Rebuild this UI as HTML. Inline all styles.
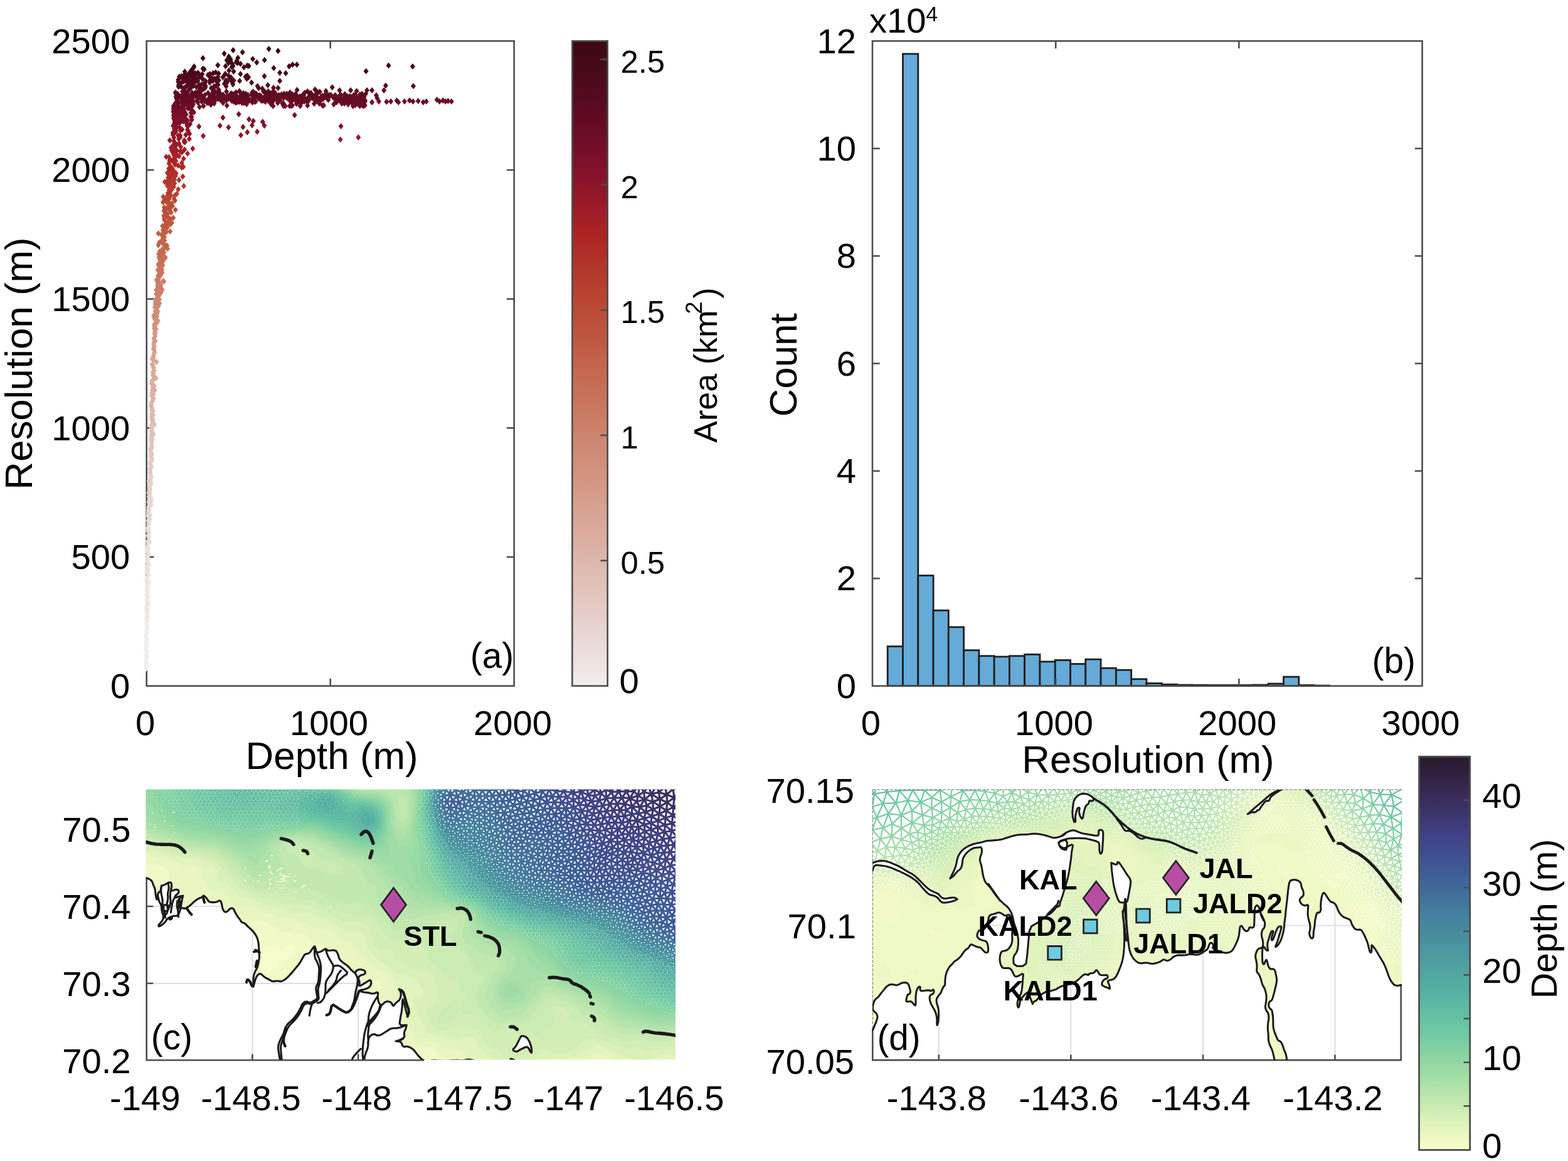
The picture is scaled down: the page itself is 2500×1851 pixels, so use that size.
<!DOCTYPE html>
<html lang="en"><head><meta charset="utf-8"><title>Figure</title>
<style>html,body{margin:0;padding:0;background:#fff;}svg{display:block}text{font-family:"Liberation Sans",sans-serif;fill:#000}</style></head><body>
<svg width="2500" height="1851" viewBox="0 0 2500 1851">
<rect width="2500" height="1851" fill="#fff"/>
<g id="pa">
<rect x="233.7" y="65.4" width="586" height="1028.2" fill="none" stroke="#4d4d4d" stroke-width="2.6"/>
<line x1="233.7" y1="888" x2="245.5" y2="888" stroke="#4d4d4d" stroke-width="2.6"/>
<line x1="819.7" y1="888" x2="807.9" y2="888" stroke="#4d4d4d" stroke-width="2.6"/>
<line x1="233.7" y1="682.3" x2="245.5" y2="682.3" stroke="#4d4d4d" stroke-width="2.6"/>
<line x1="819.7" y1="682.3" x2="807.9" y2="682.3" stroke="#4d4d4d" stroke-width="2.6"/>
<line x1="233.7" y1="476.7" x2="245.5" y2="476.7" stroke="#4d4d4d" stroke-width="2.6"/>
<line x1="819.7" y1="476.7" x2="807.9" y2="476.7" stroke="#4d4d4d" stroke-width="2.6"/>
<line x1="233.7" y1="271" x2="245.5" y2="271" stroke="#4d4d4d" stroke-width="2.6"/>
<line x1="819.7" y1="271" x2="807.9" y2="271" stroke="#4d4d4d" stroke-width="2.6"/>
<g id="scatter">
<path d="M232.9 1060.9l4 5l-4 5l-4-5zM233.5 1058.7l4 5l-4 5l-4-5zM233.1 1056.7l4 5l-4 5l-4-5zM234.0 1052.6l4 5l-4 5l-4-5zM232.8 1049.2l4 5l-4 5l-4-5zM233.0 1049.4l4 5l-4 5l-4-5zM233.8 1043.9l4 5l-4 5l-4-5zM234.1 1041.5l4 5l-4 5l-4-5zM233.5 1040.1l4 5l-4 5l-4-5zM233.8 1038.6l4 5l-4 5l-4-5zM234.4 1035.5l4 5l-4 5l-4-5zM233.5 1031.7l4 5l-4 5l-4-5zM232.3 1030.4l4 5l-4 5l-4-5zM233.4 1026.4l4 5l-4 5l-4-5zM233.4 1024.3l4 5l-4 5l-4-5zM233.3 1021.7l4 5l-4 5l-4-5zM234.9 1018.5l4 5l-4 5l-4-5zM233.3 1016.7l4 5l-4 5l-4-5zM234.3 1014.6l4 5l-4 5l-4-5zM233.5 1010.9l4 5l-4 5l-4-5zM233.2 1009.8l4 5l-4 5l-4-5zM233.9 1005.6l4 5l-4 5l-4-5zM233.4 1002.8l4 5l-4 5l-4-5zM233.7 1001.0l4 5l-4 5l-4-5zM234.1 999.0l4 5l-4 5l-4-5zM234.9 995.8l4 5l-4 5l-4-5zM233.5 994.3l4 5l-4 5l-4-5zM234.3 992.0l4 5l-4 5l-4-5zM233.6 988.6l4 5l-4 5l-4-5zM234.6 987.1l4 5l-4 5l-4-5z" fill="#f1edec"/>
<path d="M233.7 982.5l4 5l-4 5l-4-5zM234.5 979.1l4 5l-4 5l-4-5zM234.8 978.1l4 5l-4 5l-4-5zM234.5 975.1l4 5l-4 5l-4-5zM234.9 973.7l4 5l-4 5l-4-5zM234.2 969.0l4 5l-4 5l-4-5zM235.4 966.5l4 5l-4 5l-4-5zM233.5 966.1l4 5l-4 5l-4-5zM233.6 962.5l4 5l-4 5l-4-5zM236.3 958.4l4 5l-4 5l-4-5zM236.6 957.6l4 5l-4 5l-4-5zM234.7 955.4l4 5l-4 5l-4-5zM234.8 952.5l4 5l-4 5l-4-5zM234.6 948.4l4 5l-4 5l-4-5zM236.1 945.9l4 5l-4 5l-4-5zM233.9 943.1l4 5l-4 5l-4-5zM235.1 940.1l4 5l-4 5l-4-5zM234.3 938.4l4 5l-4 5l-4-5zM234.8 937.4l4 5l-4 5l-4-5zM234.2 934.1l4 5l-4 5l-4-5zM234.9 929.6l4 5l-4 5l-4-5zM235.7 929.6l4 5l-4 5l-4-5zM235.3 926.2l4 5l-4 5l-4-5zM237.2 923.9l4 5l-4 5l-4-5zM236.3 920.7l4 5l-4 5l-4-5zM232.8 919.2l4 5l-4 5l-4-5zM234.5 916.6l4 5l-4 5l-4-5zM236.5 913.4l4 5l-4 5l-4-5z" fill="#efe7e5"/>
<path d="M236.6 911.1l4 5l-4 5l-4-5zM234.2 907.8l4 5l-4 5l-4-5zM235.7 905.3l4 5l-4 5l-4-5zM235.7 902.8l4 5l-4 5l-4-5zM233.8 899.5l4 5l-4 5l-4-5zM234.9 897.4l4 5l-4 5l-4-5zM237.2 895.4l4 5l-4 5l-4-5zM236.0 892.3l4 5l-4 5l-4-5zM234.8 889.4l4 5l-4 5l-4-5zM235.3 888.1l4 5l-4 5l-4-5zM235.3 884.7l4 5l-4 5l-4-5zM235.5 880.6l4 5l-4 5l-4-5zM236.9 880.2l4 5l-4 5l-4-5zM236.5 876.9l4 5l-4 5l-4-5zM235.3 875.0l4 5l-4 5l-4-5zM235.0 870.9l4 5l-4 5l-4-5zM236.6 868.6l4 5l-4 5l-4-5zM235.4 867.0l4 5l-4 5l-4-5zM236.5 862.4l4 5l-4 5l-4-5zM239.0 860.1l4 5l-4 5l-4-5z" fill="#ece1de"/>
<path d="M235.7 858.2l4 5l-4 5l-4-5zM237.2 856.6l4 5l-4 5l-4-5zM237.4 851.6l4 5l-4 5l-4-5zM235.9 849.0l4 5l-4 5l-4-5zM236.5 848.7l4 5l-4 5l-4-5zM237.9 844.1l4 5l-4 5l-4-5zM236.1 841.8l4 5l-4 5l-4-5zM236.4 838.6l4 5l-4 5l-4-5zM235.9 837.9l4 5l-4 5l-4-5zM236.0 836.2l4 5l-4 5l-4-5zM237.0 831.2l4 5l-4 5l-4-5zM237.6 829.5l4 5l-4 5l-4-5zM237.0 826.5l4 5l-4 5l-4-5zM236.4 824.5l4 5l-4 5l-4-5zM238.8 822.7l4 5l-4 5l-4-5zM236.3 818.0l4 5l-4 5l-4-5z" fill="#eadcd7"/>
<path d="M239.3 816.5l4 5l-4 5l-4-5zM236.7 815.2l4 5l-4 5l-4-5zM236.6 812.3l4 5l-4 5l-4-5zM236.7 808.7l4 5l-4 5l-4-5zM237.2 807.2l4 5l-4 5l-4-5zM237.1 804.3l4 5l-4 5l-4-5zM237.3 802.4l4 5l-4 5l-4-5zM241.1 799.3l4 5l-4 5l-4-5zM237.1 795.3l4 5l-4 5l-4-5zM241.1 793.0l4 5l-4 5l-4-5zM240.6 789.2l4 5l-4 5l-4-5zM237.7 786.7l4 5l-4 5l-4-5zM238.5 786.3l4 5l-4 5l-4-5zM239.2 781.7l4 5l-4 5l-4-5z" fill="#e8d6d0"/>
<path d="M237.1 780.8l4 5l-4 5l-4-5zM238.3 777.6l4 5l-4 5l-4-5zM239.2 775.1l4 5l-4 5l-4-5zM238.8 773.1l4 5l-4 5l-4-5zM238.1 770.0l4 5l-4 5l-4-5zM240.4 766.8l4 5l-4 5l-4-5zM241.0 765.7l4 5l-4 5l-4-5zM237.6 762.1l4 5l-4 5l-4-5zM240.2 759.4l4 5l-4 5l-4-5zM239.7 755.4l4 5l-4 5l-4-5zM241.4 755.1l4 5l-4 5l-4-5zM239.8 751.6l4 5l-4 5l-4-5z" fill="#e6d0ca"/>
<path d="M239.7 748.7l4 5l-4 5l-4-5zM239.3 747.7l4 5l-4 5l-4-5zM239.9 743.6l4 5l-4 5l-4-5zM238.8 742.4l4 5l-4 5l-4-5zM241.4 739.0l4 5l-4 5l-4-5zM239.8 734.9l4 5l-4 5l-4-5zM240.0 732.6l4 5l-4 5l-4-5zM239.9 730.3l4 5l-4 5l-4-5zM241.7 728.9l4 5l-4 5l-4-5zM242.3 725.6l4 5l-4 5l-4-5zM240.3 722.8l4 5l-4 5l-4-5zM241.6 720.1l4 5l-4 5l-4-5z" fill="#e4cac3"/>
<path d="M241.6 718.2l4 5l-4 5l-4-5zM240.5 715.3l4 5l-4 5l-4-5zM240.0 711.8l4 5l-4 5l-4-5zM239.8 710.9l4 5l-4 5l-4-5zM242.1 708.7l4 5l-4 5l-4-5zM241.8 706.3l4 5l-4 5l-4-5zM241.7 702.9l4 5l-4 5l-4-5zM241.7 698.4l4 5l-4 5l-4-5zM240.7 695.9l4 5l-4 5l-4-5zM242.9 695.0l4 5l-4 5l-4-5zM240.7 693.0l4 5l-4 5l-4-5z" fill="#e2c5bc"/>
<path d="M241.3 688.0l4 5l-4 5l-4-5zM244.6 687.2l4 5l-4 5l-4-5zM241.6 682.7l4 5l-4 5l-4-5zM242.0 681.4l4 5l-4 5l-4-5zM242.0 677.7l4 5l-4 5l-4-5zM241.5 677.7l4 5l-4 5l-4-5zM241.3 672.4l4 5l-4 5l-4-5zM246.3 671.8l4 5l-4 5l-4-5zM243.8 668.3l4 5l-4 5l-4-5z" fill="#e0bfb5"/>
<path d="M244.1 664.3l4 5l-4 5l-4-5zM242.0 664.2l4 5l-4 5l-4-5zM241.8 660.3l4 5l-4 5l-4-5zM244.2 657.0l4 5l-4 5l-4-5zM242.2 656.3l4 5l-4 5l-4-5zM242.4 653.9l4 5l-4 5l-4-5zM243.8 650.2l4 5l-4 5l-4-5zM241.9 648.5l4 5l-4 5l-4-5zM242.5 645.8l4 5l-4 5l-4-5z" fill="#deb9ae"/>
<path d="M240.7 642.1l4 5l-4 5l-4-5zM241.3 640.6l4 5l-4 5l-4-5zM241.7 636.9l4 5l-4 5l-4-5zM243.0 634.5l4 5l-4 5l-4-5zM243.7 631.6l4 5l-4 5l-4-5zM244.9 630.7l4 5l-4 5l-4-5zM242.1 626.3l4 5l-4 5l-4-5zM244.6 623.9l4 5l-4 5l-4-5zM242.2 622.0l4 5l-4 5l-4-5z" fill="#dcb4a7"/>
<path d="M242.8 617.6l4 5l-4 5l-4-5zM246.9 617.1l4 5l-4 5l-4-5zM243.6 612.9l4 5l-4 5l-4-5zM245.7 610.0l4 5l-4 5l-4-5zM243.6 608.6l4 5l-4 5l-4-5zM241.6 606.2l4 5l-4 5l-4-5zM242.4 602.1l4 5l-4 5l-4-5zM243.9 601.6l4 5l-4 5l-4-5zM248.9 598.1l4 5l-4 5l-4-5z" fill="#dbaea0"/>
<path d="M245.4 595.6l4 5l-4 5l-4-5zM243.8 592.8l4 5l-4 5l-4-5zM244.7 590.7l4 5l-4 5l-4-5zM243.7 588.0l4 5l-4 5l-4-5zM245.8 585.8l4 5l-4 5l-4-5zM244.6 581.2l4 5l-4 5l-4-5zM244.9 580.8l4 5l-4 5l-4-5z" fill="#d9a89a"/>
<path d="M242.9 576.1l4 5l-4 5l-4-5zM243.3 576.1l4 5l-4 5l-4-5zM249.4 572.1l4 5l-4 5l-4-5zM243.9 568.8l4 5l-4 5l-4-5zM242.6 566.9l4 5l-4 5l-4-5zM244.7 565.4l4 5l-4 5l-4-5zM244.8 561.7l4 5l-4 5l-4-5zM246.0 557.9l4 5l-4 5l-4-5zM246.6 557.1l4 5l-4 5l-4-5z" fill="#d7a393"/>
<path d="M245.7 553.3l4 5l-4 5l-4-5zM244.6 551.5l4 5l-4 5l-4-5zM245.1 550.2l4 5l-4 5l-4-5zM245.9 547.4l4 5l-4 5l-4-5zM245.0 544.0l4 5l-4 5l-4-5zM245.4 541.2l4 5l-4 5l-4-5zM247.6 538.8l4 5l-4 5l-4-5z" fill="#d69d8c"/>
<path d="M246.2 537.2l4 5l-4 5l-4-5zM245.5 534.3l4 5l-4 5l-4-5zM247.3 530.4l4 5l-4 5l-4-5zM246.4 526.8l4 5l-4 5l-4-5zM247.6 525.9l4 5l-4 5l-4-5zM247.0 523.2l4 5l-4 5l-4-5zM248.9 519.7l4 5l-4 5l-4-5z" fill="#d49885"/>
<path d="M245.9 518.6l4 5l-4 5l-4-5zM246.5 515.4l4 5l-4 5l-4-5zM246.7 514.1l4 5l-4 5l-4-5zM246.3 512.2l4 5l-4 5l-4-5zM246.7 514.1l4 5l-4 5l-4-5zM246.5 511.5l4 5l-4 5l-4-5zM250.2 509.8l4 5l-4 5l-4-5zM251.8 506.5l4 5l-4 5l-4-5zM250.4 507.8l4 5l-4 5l-4-5zM247.0 504.1l4 5l-4 5l-4-5zM249.5 505.9l4 5l-4 5l-4-5zM246.6 503.6l4 5l-4 5l-4-5zM248.6 501.9l4 5l-4 5l-4-5z" fill="#d2927f"/>
<path d="M250.3 499.5l4 5l-4 5l-4-5zM246.1 500.8l4 5l-4 5l-4-5zM245.2 498.0l4 5l-4 5l-4-5zM246.3 497.6l4 5l-4 5l-4-5zM247.3 497.0l4 5l-4 5l-4-5zM250.3 495.4l4 5l-4 5l-4-5zM249.7 493.1l4 5l-4 5l-4-5zM249.9 493.6l4 5l-4 5l-4-5zM247.7 491.2l4 5l-4 5l-4-5zM251.5 491.8l4 5l-4 5l-4-5zM250.1 488.6l4 5l-4 5l-4-5zM249.9 488.8l4 5l-4 5l-4-5zM246.8 484.9l4 5l-4 5l-4-5zM249.5 487.1l4 5l-4 5l-4-5zM248.3 485.0l4 5l-4 5l-4-5zM249.4 484.2l4 5l-4 5l-4-5z" fill="#d08c78"/>
<path d="M247.7 480.6l4 5l-4 5l-4-5zM252.9 482.2l4 5l-4 5l-4-5zM254.3 478.5l4 5l-4 5l-4-5zM248.9 479.5l4 5l-4 5l-4-5zM247.7 477.2l4 5l-4 5l-4-5zM249.4 476.3l4 5l-4 5l-4-5zM248.7 475.1l4 5l-4 5l-4-5zM247.8 475.4l4 5l-4 5l-4-5zM254.2 472.4l4 5l-4 5l-4-5zM249.3 471.6l4 5l-4 5l-4-5zM249.4 470.9l4 5l-4 5l-4-5zM250.9 468.4l4 5l-4 5l-4-5zM251.2 468.4l4 5l-4 5l-4-5zM253.5 466.4l4 5l-4 5l-4-5z" fill="#ce8772"/>
<path d="M248.9 463.6l4 5l-4 5l-4-5zM253.6 464.5l4 5l-4 5l-4-5zM257.0 461.0l4 5l-4 5l-4-5zM254.4 461.4l4 5l-4 5l-4-5zM251.4 459.0l4 5l-4 5l-4-5zM256.2 459.1l4 5l-4 5l-4-5zM253.8 457.5l4 5l-4 5l-4-5zM248.9 457.3l4 5l-4 5l-4-5zM251.1 454.5l4 5l-4 5l-4-5zM258.5 456.4l4 5l-4 5l-4-5zM254.0 453.9l4 5l-4 5l-4-5zM251.4 452.3l4 5l-4 5l-4-5zM256.0 451.7l4 5l-4 5l-4-5z" fill="#cc816b"/>
<path d="M251.4 449.4l4 5l-4 5l-4-5zM256.0 448.7l4 5l-4 5l-4-5zM251.9 448.1l4 5l-4 5l-4-5zM253.4 444.7l4 5l-4 5l-4-5zM251.4 445.4l4 5l-4 5l-4-5zM260.0 443.1l4 5l-4 5l-4-5zM261.2 443.8l4 5l-4 5l-4-5zM249.6 441.6l4 5l-4 5l-4-5zM252.7 439.9l4 5l-4 5l-4-5zM253.2 438.1l4 5l-4 5l-4-5zM252.1 438.5l4 5l-4 5l-4-5zM252.2 435.6l4 5l-4 5l-4-5zM252.0 434.6l4 5l-4 5l-4-5zM255.7 434.4l4 5l-4 5l-4-5z" fill="#ca7b65"/>
<path d="M254.5 433.5l4 5l-4 5l-4-5zM254.8 430.4l4 5l-4 5l-4-5zM256.7 431.6l4 5l-4 5l-4-5zM257.6 428.3l4 5l-4 5l-4-5zM258.4 430.0l4 5l-4 5l-4-5zM256.8 425.8l4 5l-4 5l-4-5zM251.7 425.4l4 5l-4 5l-4-5zM258.3 425.3l4 5l-4 5l-4-5zM253.4 422.9l4 5l-4 5l-4-5zM256.9 421.5l4 5l-4 5l-4-5zM256.7 420.9l4 5l-4 5l-4-5zM259.4 418.1l4 5l-4 5l-4-5zM253.0 418.5l4 5l-4 5l-4-5z" fill="#c9765e"/>
<path d="M252.6 416.1l4 5l-4 5l-4-5zM254.1 415.4l4 5l-4 5l-4-5zM254.6 414.8l4 5l-4 5l-4-5zM256.5 413.9l4 5l-4 5l-4-5zM258.3 411.0l4 5l-4 5l-4-5zM260.2 410.7l4 5l-4 5l-4-5zM254.9 409.2l4 5l-4 5l-4-5zM256.5 409.8l4 5l-4 5l-4-5zM256.6 406.5l4 5l-4 5l-4-5zM263.8 405.5l4 5l-4 5l-4-5zM253.5 405.5l4 5l-4 5l-4-5zM254.2 404.9l4 5l-4 5l-4-5zM260.2 402.7l4 5l-4 5l-4-5z" fill="#c77058"/>
<path d="M256.7 401.8l4 5l-4 5l-4-5zM253.0 400.1l4 5l-4 5l-4-5zM256.9 400.6l4 5l-4 5l-4-5zM261.4 397.4l4 5l-4 5l-4-5zM260.0 398.0l4 5l-4 5l-4-5zM254.5 396.0l4 5l-4 5l-4-5zM257.4 396.3l4 5l-4 5l-4-5zM259.4 391.8l4 5l-4 5l-4-5zM259.4 393.2l4 5l-4 5l-4-5zM262.7 390.1l4 5l-4 5l-4-5zM267.1 391.6l4 5l-4 5l-4-5zM264.6 388.0l4 5l-4 5l-4-5z" fill="#c56a51"/>
<path d="M265.6 387.1l4 5l-4 5l-4-5zM252.4 385.7l4 5l-4 5l-4-5zM266.2 386.4l4 5l-4 5l-4-5zM260.8 383.2l4 5l-4 5l-4-5zM253.8 382.1l4 5l-4 5l-4-5zM260.4 379.6l4 5l-4 5l-4-5zM258.3 381.9l4 5l-4 5l-4-5zM257.7 378.9l4 5l-4 5l-4-5zM262.4 378.5l4 5l-4 5l-4-5zM259.4 375.7l4 5l-4 5l-4-5zM259.9 375.5l4 5l-4 5l-4-5zM262.2 372.7l4 5l-4 5l-4-5zM260.7 372.9l4 5l-4 5l-4-5z" fill="#c3644b"/>
<path d="M259.2 369.9l4 5l-4 5l-4-5zM259.1 371.3l4 5l-4 5l-4-5zM257.5 369.2l4 5l-4 5l-4-5zM259.4 369.4l4 5l-4 5l-4-5zM252.5 367.3l4 5l-4 5l-4-5zM261.7 366.0l4 5l-4 5l-4-5zM271.2 363.9l4 5l-4 5l-4-5zM265.1 365.0l4 5l-4 5l-4-5zM260.3 362.6l4 5l-4 5l-4-5zM259.9 361.7l4 5l-4 5l-4-5zM265.7 358.8l4 5l-4 5l-4-5z" fill="#c15e46"/>
<path d="M260.9 357.7l4 5l-4 5l-4-5zM266.9 357.2l4 5l-4 5l-4-5zM261.3 355.8l4 5l-4 5l-4-5zM263.5 352.9l4 5l-4 5l-4-5zM259.1 355.6l4 5l-4 5l-4-5zM267.7 352.7l4 5l-4 5l-4-5zM272.0 352.5l4 5l-4 5l-4-5zM273.9 350.3l4 5l-4 5l-4-5zM267.4 349.5l4 5l-4 5l-4-5zM262.5 346.4l4 5l-4 5l-4-5zM262.4 345.7l4 5l-4 5l-4-5zM271.7 344.2l4 5l-4 5l-4-5z" fill="#bf5840"/>
<path d="M269.7 343.2l4 5l-4 5l-4-5zM276.2 342.2l4 5l-4 5l-4-5zM261.8 343.6l4 5l-4 5l-4-5zM267.5 341.1l4 5l-4 5l-4-5zM262.9 338.9l4 5l-4 5l-4-5zM266.7 336.4l4 5l-4 5l-4-5zM261.2 338.9l4 5l-4 5l-4-5zM266.6 336.1l4 5l-4 5l-4-5zM272.8 333.8l4 5l-4 5l-4-5zM263.7 333.7l4 5l-4 5l-4-5zM261.5 331.5l4 5l-4 5l-4-5z" fill="#bd513b"/>
<path d="M269.8 328.9l4 5l-4 5l-4-5zM279.7 329.6l4 5l-4 5l-4-5zM265.8 327.0l4 5l-4 5l-4-5zM262.7 328.7l4 5l-4 5l-4-5zM261.8 325.7l4 5l-4 5l-4-5zM272.5 324.8l4 5l-4 5l-4-5zM274.9 323.4l4 5l-4 5l-4-5zM270.0 324.4l4 5l-4 5l-4-5zM273.9 319.2l4 5l-4 5l-4-5zM268.9 320.0l4 5l-4 5l-4-5zM265.9 317.6l4 5l-4 5l-4-5zM259.9 317.4l4 5l-4 5l-4-5zM267.9 317.0l4 5l-4 5l-4-5z" fill="#bb4b35"/>
<path d="M262.0 314.4l4 5l-4 5l-4-5zM278.9 314.7l4 5l-4 5l-4-5zM269.5 312.4l4 5l-4 5l-4-5zM277.4 311.5l4 5l-4 5l-4-5zM265.0 311.1l4 5l-4 5l-4-5zM260.2 308.7l4 5l-4 5l-4-5zM266.8 307.6l4 5l-4 5l-4-5zM268.2 305.4l4 5l-4 5l-4-5zM272.1 307.0l4 5l-4 5l-4-5zM271.0 303.8l4 5l-4 5l-4-5zM281.9 304.0l4 5l-4 5l-4-5zM278.6 306.5l4 5l-4 5l-4-5z" fill="#b84530"/>
<path d="M270.2 302.0l4 5l-4 5l-4-5zM267.9 302.5l4 5l-4 5l-4-5zM270.3 299.0l4 5l-4 5l-4-5zM272.7 298.8l4 5l-4 5l-4-5zM269.8 297.8l4 5l-4 5l-4-5zM284.1 296.7l4 5l-4 5l-4-5zM270.5 293.6l4 5l-4 5l-4-5zM275.1 293.6l4 5l-4 5l-4-5zM277.0 292.5l4 5l-4 5l-4-5zM276.6 293.2l4 5l-4 5l-4-5zM272.6 290.8l4 5l-4 5l-4-5zM266.6 291.1l4 5l-4 5l-4-5zM293.0 291.5l4 5l-4 5l-4-5z" fill="#b63d2e"/>
<path d="M278.3 287.3l4 5l-4 5l-4-5zM267.9 286.8l4 5l-4 5l-4-5zM262.8 285.1l4 5l-4 5l-4-5zM270.8 286.9l4 5l-4 5l-4-5zM267.0 283.1l4 5l-4 5l-4-5zM271.7 283.6l4 5l-4 5l-4-5zM273.7 283.7l4 5l-4 5l-4-5zM269.5 282.9l4 5l-4 5l-4-5zM271.4 279.4l4 5l-4 5l-4-5zM277.9 281.5l4 5l-4 5l-4-5zM268.1 278.5l4 5l-4 5l-4-5zM277.5 277.9l4 5l-4 5l-4-5zM273.0 276.8l4 5l-4 5l-4-5zM285.4 281.9l4 5l-4 5l-4-5z" fill="#b3362b"/>
<path d="M269.7 276.5l4 5l-4 5l-4-5zM279.7 275.2l4 5l-4 5l-4-5zM278.6 275.0l4 5l-4 5l-4-5zM273.6 272.3l4 5l-4 5l-4-5zM280.7 271.3l4 5l-4 5l-4-5zM274.4 270.0l4 5l-4 5l-4-5zM266.9 270.7l4 5l-4 5l-4-5zM276.6 266.9l4 5l-4 5l-4-5zM269.8 267.8l4 5l-4 5l-4-5zM272.7 265.5l4 5l-4 5l-4-5zM274.4 267.5l4 5l-4 5l-4-5zM291.4 276.5l4 5l-4 5l-4-5z" fill="#b02f28"/>
<path d="M274.5 263.2l4 5l-4 5l-4-5zM269.2 263.8l4 5l-4 5l-4-5zM272.3 260.8l4 5l-4 5l-4-5zM289.6 261.9l4 5l-4 5l-4-5zM292.1 261.0l4 5l-4 5l-4-5zM284.1 258.9l4 5l-4 5l-4-5zM279.7 257.2l4 5l-4 5l-4-5zM278.4 256.8l4 5l-4 5l-4-5zM278.1 255.1l4 5l-4 5l-4-5zM269.4 255.5l4 5l-4 5l-4-5zM276.6 253.3l4 5l-4 5l-4-5zM289.8 254.8l4 5l-4 5l-4-5zM270.6 251.4l4 5l-4 5l-4-5zM280.4 251.7l4 5l-4 5l-4-5z" fill="#ae2826"/>
<path d="M275.4 250.6l4 5l-4 5l-4-5zM277.8 251.1l4 5l-4 5l-4-5zM271.1 249.5l4 5l-4 5l-4-5zM276.5 248.8l4 5l-4 5l-4-5zM269.4 245.4l4 5l-4 5l-4-5zM265.0 245.0l4 5l-4 5l-4-5zM285.5 243.9l4 5l-4 5l-4-5zM280.5 244.2l4 5l-4 5l-4-5zM277.2 242.1l4 5l-4 5l-4-5zM282.3 242.7l4 5l-4 5l-4-5zM276.6 240.0l4 5l-4 5l-4-5zM281.1 240.4l4 5l-4 5l-4-5zM299.0 239.7l4 5l-4 5l-4-5zM292.7 247.9l4 5l-4 5l-4-5z" fill="#a92225"/>
<path d="M274.7 236.8l4 5l-4 5l-4-5zM290.0 237.8l4 5l-4 5l-4-5zM287.4 236.2l4 5l-4 5l-4-5zM281.2 236.1l4 5l-4 5l-4-5zM281.1 233.7l4 5l-4 5l-4-5zM273.7 234.4l4 5l-4 5l-4-5zM278.7 232.1l4 5l-4 5l-4-5zM294.3 233.6l4 5l-4 5l-4-5zM273.5 231.0l4 5l-4 5l-4-5zM272.7 230.6l4 5l-4 5l-4-5zM288.2 229.2l4 5l-4 5l-4-5zM275.3 227.8l4 5l-4 5l-4-5zM307.2 232.1l4 5l-4 5l-4-5z" fill="#a01e26"/>
<path d="M281.1 226.2l4 5l-4 5l-4-5zM280.1 225.8l4 5l-4 5l-4-5zM285.3 223.4l4 5l-4 5l-4-5zM278.3 223.4l4 5l-4 5l-4-5zM293.7 221.4l4 5l-4 5l-4-5zM279.1 222.7l4 5l-4 5l-4-5zM295.1 221.2l4 5l-4 5l-4-5zM277.1 219.7l4 5l-4 5l-4-5zM293.8 218.8l4 5l-4 5l-4-5zM270.7 218.8l4 5l-4 5l-4-5zM301.7 216.6l4 5l-4 5l-4-5zM285.0 216.4l4 5l-4 5l-4-5zM542.7 217.4l4 5l-4 5l-4-5z" fill="#981a27"/>
<path d="M277.3 214.3l4 5l-4 5l-4-5zM287.5 213.4l4 5l-4 5l-4-5zM284.0 211.1l4 5l-4 5l-4-5zM287.3 210.9l4 5l-4 5l-4-5zM296.2 210.1l4 5l-4 5l-4-5zM275.8 210.1l4 5l-4 5l-4-5zM275.5 206.9l4 5l-4 5l-4-5zM302.2 208.2l4 5l-4 5l-4-5zM279.9 205.5l4 5l-4 5l-4-5zM276.3 205.7l4 5l-4 5l-4-5zM277.2 205.2l4 5l-4 5l-4-5zM300.0 204.0l4 5l-4 5l-4-5zM280.1 203.1l4 5l-4 5l-4-5zM287.4 202.9l4 5l-4 5l-4-5zM571.3 213.9l4 5l-4 5l-4-5zM384.0 210.6l4 5l-4 5l-4-5zM394.3 205.7l4 5l-4 5l-4-5zM410.1 205.1l4 5l-4 5l-4-5zM324.0 211.7l4 5l-4 5l-4-5z" fill="#8f1728"/>
<path d="M298.9 201.8l4 5l-4 5l-4-5zM286.8 198.7l4 5l-4 5l-4-5zM290.3 201.5l4 5l-4 5l-4-5zM279.8 198.0l4 5l-4 5l-4-5zM282.1 197.9l4 5l-4 5l-4-5zM317.2 196.8l4 5l-4 5l-4-5zM298.2 194.8l4 5l-4 5l-4-5zM281.3 193.1l4 5l-4 5l-4-5zM303.0 192.8l4 5l-4 5l-4-5zM297.4 191.6l4 5l-4 5l-4-5zM281.9 193.2l4 5l-4 5l-4-5zM286.5 191.0l4 5l-4 5l-4-5zM277.8 192.7l4 5l-4 5l-4-5zM276.0 195.5l4 5l-4 5l-4-5zM277.9 200.0l4 5l-4 5l-4-5zM299.3 197.0l4 5l-4 5l-4-5zM543.6 196.2l4 5l-4 5l-4-5zM350.7 195.3l4 5l-4 5l-4-5zM364.3 198.1l4 5l-4 5l-4-5zM421.5 195.3l4 5l-4 5l-4-5zM387.5 197.5l4 5l-4 5l-4-5zM401.9 194.8l4 5l-4 5l-4-5z" fill="#861329"/>
<path d="M278.5 189.9l4 5l-4 5l-4-5zM281.7 187.1l4 5l-4 5l-4-5zM298.9 187.0l4 5l-4 5l-4-5zM293.1 185.1l4 5l-4 5l-4-5zM288.3 184.8l4 5l-4 5l-4-5zM281.9 183.5l4 5l-4 5l-4-5zM287.5 184.1l4 5l-4 5l-4-5zM291.4 180.9l4 5l-4 5l-4-5zM281.8 181.6l4 5l-4 5l-4-5zM292.2 181.7l4 5l-4 5l-4-5zM289.0 181.3l4 5l-4 5l-4-5zM290.6 182.7l4 5l-4 5l-4-5zM289.9 187.2l4 5l-4 5l-4-5zM279.8 184.6l4 5l-4 5l-4-5zM305.7 185.9l4 5l-4 5l-4-5zM284.0 183.2l4 5l-4 5l-4-5zM285.5 190.9l4 5l-4 5l-4-5zM304.2 181.0l4 5l-4 5l-4-5zM295.3 184.3l4 5l-4 5l-4-5zM288.4 184.1l4 5l-4 5l-4-5zM283.0 188.5l4 5l-4 5l-4-5zM288.2 182.8l4 5l-4 5l-4-5zM292.2 179.5l4 5l-4 5l-4-5zM294.7 182.9l4 5l-4 5l-4-5zM293.4 184.3l4 5l-4 5l-4-5zM282.3 180.5l4 5l-4 5l-4-5zM292.4 188.5l4 5l-4 5l-4-5zM290.1 182.7l4 5l-4 5l-4-5zM305.7 181.6l4 5l-4 5l-4-5zM285.7 186.1l4 5l-4 5l-4-5zM282.3 182.3l4 5l-4 5l-4-5zM277.2 181.1l4 5l-4 5l-4-5zM276.9 184.0l4 5l-4 5l-4-5zM282.4 187.8l4 5l-4 5l-4-5zM278.5 187.3l4 5l-4 5l-4-5zM287.0 188.4l4 5l-4 5l-4-5zM397.0 185.3l4 5l-4 5l-4-5zM403.8 188.0l4 5l-4 5l-4-5zM418.8 189.3l4 5l-4 5l-4-5zM355.4 182.5l4 5l-4 5l-4-5z" fill="#7e1029"/>
<path d="M279.9 177.9l4 5l-4 5l-4-5zM286.8 178.4l4 5l-4 5l-4-5zM295.5 177.5l4 5l-4 5l-4-5zM279.4 177.7l4 5l-4 5l-4-5zM276.2 173.2l4 5l-4 5l-4-5zM294.3 173.2l4 5l-4 5l-4-5zM289.6 173.0l4 5l-4 5l-4-5zM289.3 172.2l4 5l-4 5l-4-5zM282.2 168.7l4 5l-4 5l-4-5zM286.6 171.1l4 5l-4 5l-4-5zM291.4 169.1l4 5l-4 5l-4-5zM277.3 169.0l4 5l-4 5l-4-5zM290.5 170.8l4 5l-4 5l-4-5zM281.4 176.3l4 5l-4 5l-4-5zM278.2 175.2l4 5l-4 5l-4-5zM276.8 178.5l4 5l-4 5l-4-5zM296.8 177.4l4 5l-4 5l-4-5zM285.4 168.7l4 5l-4 5l-4-5zM277.1 178.8l4 5l-4 5l-4-5zM286.9 176.7l4 5l-4 5l-4-5zM293.4 171.6l4 5l-4 5l-4-5zM290.7 178.7l4 5l-4 5l-4-5zM280.4 172.9l4 5l-4 5l-4-5zM286.8 169.3l4 5l-4 5l-4-5zM306.2 171.0l4 5l-4 5l-4-5zM304.3 174.7l4 5l-4 5l-4-5zM281.7 172.6l4 5l-4 5l-4-5zM287.2 176.3l4 5l-4 5l-4-5zM286.0 173.6l4 5l-4 5l-4-5zM278.8 172.2l4 5l-4 5l-4-5zM280.8 173.5l4 5l-4 5l-4-5zM291.1 167.9l4 5l-4 5l-4-5zM283.9 171.8l4 5l-4 5l-4-5zM291.6 178.1l4 5l-4 5l-4-5zM278.9 178.6l4 5l-4 5l-4-5zM309.0 173.9l4 5l-4 5l-4-5zM286.1 178.4l4 5l-4 5l-4-5zM277.1 170.3l4 5l-4 5l-4-5zM284.9 174.6l4 5l-4 5l-4-5zM279.6 175.0l4 5l-4 5l-4-5zM282.2 173.7l4 5l-4 5l-4-5zM289.7 169.7l4 5l-4 5l-4-5zM279.8 169.0l4 5l-4 5l-4-5zM278.5 176.8l4 5l-4 5l-4-5zM288.3 171.5l4 5l-4 5l-4-5zM287.1 173.4l4 5l-4 5l-4-5zM279.6 173.5l4 5l-4 5l-4-5zM278.3 168.1l4 5l-4 5l-4-5zM284.7 169.9l4 5l-4 5l-4-5zM293.3 168.4l4 5l-4 5l-4-5zM306.1 174.5l4 5l-4 5l-4-5zM281.4 170.3l4 5l-4 5l-4-5zM276.5 168.4l4 5l-4 5l-4-5zM279.1 169.6l4 5l-4 5l-4-5zM469.7 178.5l4 5l-4 5l-4-5zM380.7 177.1l4 5l-4 5l-4-5z" fill="#750f27"/>
<path d="M579.1 163.9l4 5l-4 5l-4-5zM386.0 159.2l4 5l-4 5l-4-5zM283.1 163.7l4 5l-4 5l-4-5zM361.7 163.3l4 5l-4 5l-4-5zM330.1 159.0l4 5l-4 5l-4-5zM580.3 157.1l4 5l-4 5l-4-5zM378.7 157.3l4 5l-4 5l-4-5zM544.9 160.1l4 5l-4 5l-4-5zM581.5 157.5l4 5l-4 5l-4-5zM580.3 161.0l4 5l-4 5l-4-5zM464.6 163.4l4 5l-4 5l-4-5zM562.3 157.1l4 5l-4 5l-4-5zM581.8 163.1l4 5l-4 5l-4-5zM485.3 156.8l4 5l-4 5l-4-5zM462.8 156.6l4 5l-4 5l-4-5zM432.1 160.9l4 5l-4 5l-4-5zM479.7 160.0l4 5l-4 5l-4-5zM321.6 156.9l4 5l-4 5l-4-5zM405.9 157.2l4 5l-4 5l-4-5zM308.0 161.1l4 5l-4 5l-4-5zM451.8 161.5l4 5l-4 5l-4-5zM372.5 157.0l4 5l-4 5l-4-5zM478.6 164.0l4 5l-4 5l-4-5zM568.1 158.3l4 5l-4 5l-4-5zM388.9 159.1l4 5l-4 5l-4-5zM341.4 159.9l4 5l-4 5l-4-5zM532.1 161.3l4 5l-4 5l-4-5zM566.4 162.7l4 5l-4 5l-4-5zM450.3 160.2l4 5l-4 5l-4-5zM573.6 164.0l4 5l-4 5l-4-5zM296.6 156.6l4 5l-4 5l-4-5zM308.1 156.6l4 5l-4 5l-4-5zM289.7 156.7l4 5l-4 5l-4-5zM532.3 161.3l4 5l-4 5l-4-5zM314.7 157.6l4 5l-4 5l-4-5zM536.8 158.0l4 5l-4 5l-4-5zM355.6 158.9l4 5l-4 5l-4-5zM466.2 163.0l4 5l-4 5l-4-5zM335.4 156.8l4 5l-4 5l-4-5zM572.2 160.0l4 5l-4 5l-4-5zM393.2 161.1l4 5l-4 5l-4-5zM297.0 161.8l4 5l-4 5l-4-5zM433.0 159.7l4 5l-4 5l-4-5zM555.0 161.3l4 5l-4 5l-4-5zM293.7 159.3l4 5l-4 5l-4-5zM407.8 156.8l4 5l-4 5l-4-5zM472.9 158.3l4 5l-4 5l-4-5zM422.8 157.0l4 5l-4 5l-4-5zM491.5 156.6l4 5l-4 5l-4-5zM435.4 164.0l4 5l-4 5l-4-5zM301.2 160.5l4 5l-4 5l-4-5zM451.7 159.4l4 5l-4 5l-4-5zM442.8 159.0l4 5l-4 5l-4-5zM549.0 160.1l4 5l-4 5l-4-5zM535.3 157.0l4 5l-4 5l-4-5zM303.2 158.7l4 5l-4 5l-4-5zM549.8 158.2l4 5l-4 5l-4-5zM291.3 161.8l4 5l-4 5l-4-5zM423.2 157.0l4 5l-4 5l-4-5zM482.1 157.2l4 5l-4 5l-4-5zM562.7 164.0l4 5l-4 5l-4-5zM560.7 158.2l4 5l-4 5l-4-5zM284.8 159.7l4 5l-4 5l-4-5zM569.0 159.8l4 5l-4 5l-4-5zM283.2 161.6l4 5l-4 5l-4-5zM279.1 160.2l4 5l-4 5l-4-5zM402.3 158.2l4 5l-4 5l-4-5zM472.8 160.5l4 5l-4 5l-4-5zM580.4 158.1l4 5l-4 5l-4-5zM580.7 162.4l4 5l-4 5l-4-5zM381.4 157.5l4 5l-4 5l-4-5zM509.0 160.0l4 5l-4 5l-4-5zM570.2 157.0l4 5l-4 5l-4-5zM574.4 162.2l4 5l-4 5l-4-5zM324.4 164.0l4 5l-4 5l-4-5zM376.0 158.8l4 5l-4 5l-4-5zM336.2 162.0l4 5l-4 5l-4-5zM561.6 159.5l4 5l-4 5l-4-5zM315.4 158.4l4 5l-4 5l-4-5zM296.8 156.9l4 5l-4 5l-4-5zM514.3 163.2l4 5l-4 5l-4-5zM434.0 158.6l4 5l-4 5l-4-5zM516.2 163.1l4 5l-4 5l-4-5zM576.5 159.9l4 5l-4 5l-4-5zM451.9 163.8l4 5l-4 5l-4-5zM500.8 160.3l4 5l-4 5l-4-5zM490.3 163.3l4 5l-4 5l-4-5zM510.0 157.5l4 5l-4 5l-4-5zM334.9 159.6l4 5l-4 5l-4-5zM476.8 157.0l4 5l-4 5l-4-5zM454.8 164.0l4 5l-4 5l-4-5zM461.9 164.0l4 5l-4 5l-4-5zM429.5 157.8l4 5l-4 5l-4-5zM307.8 156.9l4 5l-4 5l-4-5zM388.7 158.2l4 5l-4 5l-4-5zM566.5 161.2l4 5l-4 5l-4-5zM332.7 158.8l4 5l-4 5l-4-5zM280.4 166.1l4 5l-4 5l-4-5zM318.0 165.5l4 5l-4 5l-4-5zM299.6 167.4l4 5l-4 5l-4-5zM279.6 165.3l4 5l-4 5l-4-5zM291.3 165.9l4 5l-4 5l-4-5zM303.3 164.1l4 5l-4 5l-4-5zM286.1 166.4l4 5l-4 5l-4-5zM279.7 165.0l4 5l-4 5l-4-5zM280.2 166.9l4 5l-4 5l-4-5zM279.8 166.5l4 5l-4 5l-4-5zM291.8 164.9l4 5l-4 5l-4-5zM280.5 164.8l4 5l-4 5l-4-5zM277.1 166.1l4 5l-4 5l-4-5zM283.9 167.5l4 5l-4 5l-4-5zM279.9 166.8l4 5l-4 5l-4-5zM306.6 164.2l4 5l-4 5l-4-5zM283.8 167.7l4 5l-4 5l-4-5zM276.7 164.0l4 5l-4 5l-4-5zM290.3 164.2l4 5l-4 5l-4-5zM301.5 167.3l4 5l-4 5l-4-5zM282.8 166.9l4 5l-4 5l-4-5zM278.3 167.2l4 5l-4 5l-4-5zM284.2 165.9l4 5l-4 5l-4-5zM593.1 158.0l4 5l-4 5l-4-5zM604.0 156.7l4 5l-4 5l-4-5zM616.3 157.2l4 5l-4 5l-4-5zM623.1 156.7l4 5l-4 5l-4-5zM635.3 158.0l4 5l-4 5l-4-5zM644.9 156.7l4 5l-4 5l-4-5zM658.5 156.7l4 5l-4 5l-4-5zM674.8 158.0l4 5l-4 5l-4-5zM679.7 156.7l4 5l-4 5l-4-5zM700.7 156.7l4 5l-4 5l-4-5zM710.2 156.7l4 5l-4 5l-4-5zM719.8 156.7l4 5l-4 5l-4-5z" fill="#6c0d25"/>
<path d="M483.1 152.0l4 5l-4 5l-4-5zM441.0 152.8l4 5l-4 5l-4-5zM376.0 156.4l4 5l-4 5l-4-5zM467.1 154.1l4 5l-4 5l-4-5zM460.9 146.7l4 5l-4 5l-4-5zM371.4 148.1l4 5l-4 5l-4-5zM299.1 145.5l4 5l-4 5l-4-5zM320.7 147.9l4 5l-4 5l-4-5zM302.0 154.0l4 5l-4 5l-4-5zM394.8 154.9l4 5l-4 5l-4-5zM361.7 150.4l4 5l-4 5l-4-5zM428.2 154.4l4 5l-4 5l-4-5zM542.5 150.8l4 5l-4 5l-4-5zM361.5 150.6l4 5l-4 5l-4-5zM579.6 149.1l4 5l-4 5l-4-5zM394.6 154.6l4 5l-4 5l-4-5zM387.8 149.5l4 5l-4 5l-4-5zM483.4 154.1l4 5l-4 5l-4-5zM473.8 156.3l4 5l-4 5l-4-5zM565.7 150.3l4 5l-4 5l-4-5zM372.4 153.9l4 5l-4 5l-4-5zM462.8 153.9l4 5l-4 5l-4-5zM534.2 147.1l4 5l-4 5l-4-5zM438.1 146.9l4 5l-4 5l-4-5zM304.1 155.3l4 5l-4 5l-4-5zM469.9 146.8l4 5l-4 5l-4-5zM335.3 153.4l4 5l-4 5l-4-5zM448.7 145.5l4 5l-4 5l-4-5zM284.9 147.3l4 5l-4 5l-4-5zM446.7 154.6l4 5l-4 5l-4-5zM560.1 155.9l4 5l-4 5l-4-5zM494.1 148.2l4 5l-4 5l-4-5zM386.0 152.6l4 5l-4 5l-4-5zM580.5 149.7l4 5l-4 5l-4-5zM413.6 151.6l4 5l-4 5l-4-5zM341.1 152.8l4 5l-4 5l-4-5zM537.3 153.6l4 5l-4 5l-4-5zM413.5 146.9l4 5l-4 5l-4-5zM338.6 154.1l4 5l-4 5l-4-5zM375.0 151.8l4 5l-4 5l-4-5zM368.9 151.5l4 5l-4 5l-4-5zM537.1 153.5l4 5l-4 5l-4-5zM321.9 147.9l4 5l-4 5l-4-5zM381.9 155.4l4 5l-4 5l-4-5zM293.8 154.6l4 5l-4 5l-4-5zM458.0 151.7l4 5l-4 5l-4-5zM541.1 151.4l4 5l-4 5l-4-5zM470.9 148.1l4 5l-4 5l-4-5zM394.8 155.9l4 5l-4 5l-4-5zM359.9 151.0l4 5l-4 5l-4-5zM458.2 150.5l4 5l-4 5l-4-5zM493.5 148.7l4 5l-4 5l-4-5zM387.9 154.5l4 5l-4 5l-4-5zM312.4 146.2l4 5l-4 5l-4-5zM521.8 147.4l4 5l-4 5l-4-5zM563.6 153.9l4 5l-4 5l-4-5zM369.1 149.2l4 5l-4 5l-4-5zM441.8 147.8l4 5l-4 5l-4-5zM351.0 153.9l4 5l-4 5l-4-5zM533.5 148.5l4 5l-4 5l-4-5zM381.6 154.4l4 5l-4 5l-4-5zM495.8 146.7l4 5l-4 5l-4-5zM292.0 146.6l4 5l-4 5l-4-5zM391.2 149.2l4 5l-4 5l-4-5zM353.3 147.5l4 5l-4 5l-4-5zM445.5 149.4l4 5l-4 5l-4-5zM548.0 151.2l4 5l-4 5l-4-5zM297.7 146.7l4 5l-4 5l-4-5zM489.1 156.4l4 5l-4 5l-4-5zM283.0 146.0l4 5l-4 5l-4-5zM373.7 145.5l4 5l-4 5l-4-5zM405.4 146.9l4 5l-4 5l-4-5zM383.8 147.7l4 5l-4 5l-4-5zM524.7 146.5l4 5l-4 5l-4-5zM466.8 153.4l4 5l-4 5l-4-5zM331.9 154.6l4 5l-4 5l-4-5zM376.2 150.2l4 5l-4 5l-4-5zM317.9 145.5l4 5l-4 5l-4-5zM341.9 154.1l4 5l-4 5l-4-5zM305.5 149.4l4 5l-4 5l-4-5zM535.3 152.2l4 5l-4 5l-4-5zM564.6 153.1l4 5l-4 5l-4-5zM370.5 149.7l4 5l-4 5l-4-5zM427.8 147.7l4 5l-4 5l-4-5zM511.3 151.4l4 5l-4 5l-4-5zM355.8 147.4l4 5l-4 5l-4-5zM438.1 151.9l4 5l-4 5l-4-5zM353.6 154.3l4 5l-4 5l-4-5zM507.3 152.1l4 5l-4 5l-4-5zM403.7 152.8l4 5l-4 5l-4-5zM573.6 145.9l4 5l-4 5l-4-5zM452.5 151.0l4 5l-4 5l-4-5zM280.7 149.1l4 5l-4 5l-4-5zM314.4 154.6l4 5l-4 5l-4-5zM315.2 149.1l4 5l-4 5l-4-5zM303.2 150.2l4 5l-4 5l-4-5zM531.2 150.2l4 5l-4 5l-4-5zM287.9 148.4l4 5l-4 5l-4-5zM344.0 151.7l4 5l-4 5l-4-5zM303.5 155.2l4 5l-4 5l-4-5zM413.0 147.9l4 5l-4 5l-4-5zM416.7 155.4l4 5l-4 5l-4-5zM355.2 147.1l4 5l-4 5l-4-5zM494.5 151.7l4 5l-4 5l-4-5zM394.3 156.2l4 5l-4 5l-4-5zM409.2 146.5l4 5l-4 5l-4-5zM401.0 155.4l4 5l-4 5l-4-5zM288.6 151.6l4 5l-4 5l-4-5zM425.3 148.7l4 5l-4 5l-4-5zM431.6 148.6l4 5l-4 5l-4-5zM300.4 153.0l4 5l-4 5l-4-5zM376.8 147.8l4 5l-4 5l-4-5zM497.9 151.2l4 5l-4 5l-4-5zM387.4 150.6l4 5l-4 5l-4-5zM570.3 152.4l4 5l-4 5l-4-5zM374.9 145.8l4 5l-4 5l-4-5zM355.7 147.2l4 5l-4 5l-4-5zM451.5 147.6l4 5l-4 5l-4-5zM415.7 147.7l4 5l-4 5l-4-5zM421.6 150.5l4 5l-4 5l-4-5zM298.8 148.5l4 5l-4 5l-4-5zM341.5 149.2l4 5l-4 5l-4-5zM535.5 148.0l4 5l-4 5l-4-5zM474.7 154.8l4 5l-4 5l-4-5zM363.7 149.4l4 5l-4 5l-4-5zM360.5 155.0l4 5l-4 5l-4-5zM290.3 150.7l4 5l-4 5l-4-5zM456.6 150.1l4 5l-4 5l-4-5zM282.9 146.7l4 5l-4 5l-4-5zM561.1 152.1l4 5l-4 5l-4-5zM578.3 156.4l4 5l-4 5l-4-5zM397.8 155.2l4 5l-4 5l-4-5zM498.6 147.3l4 5l-4 5l-4-5zM396.7 155.0l4 5l-4 5l-4-5zM305.1 146.3l4 5l-4 5l-4-5zM304.6 155.0l4 5l-4 5l-4-5zM303.9 154.3l4 5l-4 5l-4-5zM567.9 155.5l4 5l-4 5l-4-5zM435.6 155.6l4 5l-4 5l-4-5zM389.9 148.6l4 5l-4 5l-4-5zM428.0 152.1l4 5l-4 5l-4-5zM540.1 149.4l4 5l-4 5l-4-5zM378.5 151.7l4 5l-4 5l-4-5zM477.9 148.9l4 5l-4 5l-4-5zM381.7 151.0l4 5l-4 5l-4-5zM495.5 149.2l4 5l-4 5l-4-5zM317.8 147.0l4 5l-4 5l-4-5zM369.1 148.4l4 5l-4 5l-4-5zM317.1 145.8l4 5l-4 5l-4-5zM363.6 152.6l4 5l-4 5l-4-5zM480.5 152.5l4 5l-4 5l-4-5zM440.4 151.9l4 5l-4 5l-4-5zM523.4 154.2l4 5l-4 5l-4-5zM378.5 149.2l4 5l-4 5l-4-5zM454.2 145.8l4 5l-4 5l-4-5zM402.6 148.5l4 5l-4 5l-4-5zM412.3 151.7l4 5l-4 5l-4-5zM357.3 151.4l4 5l-4 5l-4-5zM480.9 150.7l4 5l-4 5l-4-5zM438.2 146.9l4 5l-4 5l-4-5zM313.8 148.8l4 5l-4 5l-4-5zM566.8 153.0l4 5l-4 5l-4-5zM509.6 152.8l4 5l-4 5l-4-5zM427.6 154.4l4 5l-4 5l-4-5zM374.4 146.3l4 5l-4 5l-4-5zM566.9 151.0l4 5l-4 5l-4-5zM534.6 147.1l4 5l-4 5l-4-5zM490.3 151.6l4 5l-4 5l-4-5zM282.5 155.0l4 5l-4 5l-4-5zM428.3 150.4l4 5l-4 5l-4-5zM341.8 155.5l4 5l-4 5l-4-5zM308.6 145.7l4 5l-4 5l-4-5zM351.0 151.0l4 5l-4 5l-4-5zM316.1 149.8l4 5l-4 5l-4-5zM430.4 145.5l4 5l-4 5l-4-5zM555.9 150.1l4 5l-4 5l-4-5zM506.6 151.9l4 5l-4 5l-4-5zM561.9 154.0l4 5l-4 5l-4-5zM374.0 151.5l4 5l-4 5l-4-5zM401.6 146.2l4 5l-4 5l-4-5zM376.4 148.6l4 5l-4 5l-4-5zM437.5 149.5l4 5l-4 5l-4-5zM566.5 155.5l4 5l-4 5l-4-5zM293.7 147.3l4 5l-4 5l-4-5zM305.6 155.1l4 5l-4 5l-4-5zM580.1 147.6l4 5l-4 5l-4-5zM470.2 153.3l4 5l-4 5l-4-5zM439.1 152.6l4 5l-4 5l-4-5zM578.0 147.3l4 5l-4 5l-4-5zM322.7 153.9l4 5l-4 5l-4-5zM424.9 146.2l4 5l-4 5l-4-5zM326.2 156.1l4 5l-4 5l-4-5zM483.1 146.0l4 5l-4 5l-4-5zM295.4 153.9l4 5l-4 5l-4-5zM436.0 146.3l4 5l-4 5l-4-5zM309.5 148.8l4 5l-4 5l-4-5zM558.0 149.8l4 5l-4 5l-4-5zM535.0 153.1l4 5l-4 5l-4-5zM413.2 150.0l4 5l-4 5l-4-5zM445.5 148.8l4 5l-4 5l-4-5zM569.8 155.8l4 5l-4 5l-4-5zM477.5 154.3l4 5l-4 5l-4-5zM517.6 147.1l4 5l-4 5l-4-5zM575.4 156.4l4 5l-4 5l-4-5zM526.3 147.5l4 5l-4 5l-4-5zM369.2 153.5l4 5l-4 5l-4-5zM281.4 151.1l4 5l-4 5l-4-5zM443.8 147.4l4 5l-4 5l-4-5zM424.7 145.9l4 5l-4 5l-4-5zM336.5 153.2l4 5l-4 5l-4-5zM313.4 148.0l4 5l-4 5l-4-5zM365.1 151.9l4 5l-4 5l-4-5zM337.6 147.9l4 5l-4 5l-4-5zM423.7 146.7l4 5l-4 5l-4-5zM342.3 153.2l4 5l-4 5l-4-5zM335.9 147.8l4 5l-4 5l-4-5zM355.8 145.9l4 5l-4 5l-4-5zM511.7 149.6l4 5l-4 5l-4-5zM502.6 151.4l4 5l-4 5l-4-5zM339.4 151.7l4 5l-4 5l-4-5zM366.7 152.0l4 5l-4 5l-4-5zM446.3 151.6l4 5l-4 5l-4-5zM292.2 150.5l4 5l-4 5l-4-5zM554.2 154.5l4 5l-4 5l-4-5zM541.7 155.2l4 5l-4 5l-4-5zM559.8 149.7l4 5l-4 5l-4-5zM311.3 147.3l4 5l-4 5l-4-5zM566.3 146.5l4 5l-4 5l-4-5zM305.7 152.2l4 5l-4 5l-4-5zM347.5 152.6l4 5l-4 5l-4-5zM322.8 149.6l4 5l-4 5l-4-5zM369.5 155.4l4 5l-4 5l-4-5zM322.2 152.1l4 5l-4 5l-4-5zM438.1 150.7l4 5l-4 5l-4-5zM296.1 148.1l4 5l-4 5l-4-5zM333.3 155.1l4 5l-4 5l-4-5zM501.7 154.4l4 5l-4 5l-4-5zM557.6 148.5l4 5l-4 5l-4-5zM364.4 150.4l4 5l-4 5l-4-5zM438.3 149.1l4 5l-4 5l-4-5zM502.4 150.4l4 5l-4 5l-4-5zM316.8 151.6l4 5l-4 5l-4-5zM319.6 150.1l4 5l-4 5l-4-5zM282.3 146.4l4 5l-4 5l-4-5zM332.4 152.6l4 5l-4 5l-4-5zM405.5 150.9l4 5l-4 5l-4-5zM356.6 151.5l4 5l-4 5l-4-5zM286.9 149.9l4 5l-4 5l-4-5zM407.9 146.8l4 5l-4 5l-4-5zM372.2 146.8l4 5l-4 5l-4-5zM543.6 146.6l4 5l-4 5l-4-5zM429.2 147.5l4 5l-4 5l-4-5zM419.2 155.4l4 5l-4 5l-4-5zM319.0 150.0l4 5l-4 5l-4-5zM489.2 152.7l4 5l-4 5l-4-5zM565.6 151.4l4 5l-4 5l-4-5zM477.2 154.6l4 5l-4 5l-4-5zM557.0 149.4l4 5l-4 5l-4-5zM420.9 150.3l4 5l-4 5l-4-5zM415.3 150.7l4 5l-4 5l-4-5zM404.6 146.7l4 5l-4 5l-4-5zM462.0 152.1l4 5l-4 5l-4-5zM573.5 150.8l4 5l-4 5l-4-5zM514.9 153.1l4 5l-4 5l-4-5zM342.3 156.3l4 5l-4 5l-4-5zM393.4 146.4l4 5l-4 5l-4-5zM410.8 148.2l4 5l-4 5l-4-5zM352.6 154.3l4 5l-4 5l-4-5zM325.9 153.0l4 5l-4 5l-4-5zM514.1 147.5l4 5l-4 5l-4-5zM485.3 155.9l4 5l-4 5l-4-5zM520.0 150.5l4 5l-4 5l-4-5zM556.0 156.2l4 5l-4 5l-4-5zM512.2 151.6l4 5l-4 5l-4-5zM292.0 149.1l4 5l-4 5l-4-5zM577.8 149.5l4 5l-4 5l-4-5zM539.3 150.6l4 5l-4 5l-4-5zM479.5 155.6l4 5l-4 5l-4-5zM307.0 149.7l4 5l-4 5l-4-5zM504.4 156.3l4 5l-4 5l-4-5zM564.2 146.4l4 5l-4 5l-4-5zM461.3 146.1l4 5l-4 5l-4-5zM371.2 150.8l4 5l-4 5l-4-5zM283.0 156.2l4 5l-4 5l-4-5zM466.0 153.5l4 5l-4 5l-4-5zM360.1 149.9l4 5l-4 5l-4-5zM464.1 155.8l4 5l-4 5l-4-5zM558.6 150.1l4 5l-4 5l-4-5zM553.2 148.3l4 5l-4 5l-4-5zM570.9 152.8l4 5l-4 5l-4-5zM423.6 148.9l4 5l-4 5l-4-5zM536.3 152.1l4 5l-4 5l-4-5zM340.9 152.2l4 5l-4 5l-4-5zM326.7 146.6l4 5l-4 5l-4-5zM363.5 148.3l4 5l-4 5l-4-5zM293.3 155.8l4 5l-4 5l-4-5zM425.0 152.3l4 5l-4 5l-4-5zM566.2 148.0l4 5l-4 5l-4-5zM387.4 145.7l4 5l-4 5l-4-5zM306.1 153.0l4 5l-4 5l-4-5zM395.5 146.5l4 5l-4 5l-4-5zM341.3 145.6l4 5l-4 5l-4-5zM324.0 150.4l4 5l-4 5l-4-5zM503.5 155.2l4 5l-4 5l-4-5zM432.8 153.2l4 5l-4 5l-4-5zM347.4 148.7l4 5l-4 5l-4-5zM503.8 146.4l4 5l-4 5l-4-5zM395.3 155.8l4 5l-4 5l-4-5zM568.2 156.2l4 5l-4 5l-4-5zM545.2 154.2l4 5l-4 5l-4-5zM346.5 151.3l4 5l-4 5l-4-5zM479.5 149.1l4 5l-4 5l-4-5zM393.2 151.7l4 5l-4 5l-4-5zM439.8 151.8l4 5l-4 5l-4-5zM464.7 145.9l4 5l-4 5l-4-5zM475.2 150.6l4 5l-4 5l-4-5zM484.9 150.8l4 5l-4 5l-4-5zM281.8 152.8l4 5l-4 5l-4-5zM302.0 154.8l4 5l-4 5l-4-5zM567.8 156.1l4 5l-4 5l-4-5zM444.5 146.4l4 5l-4 5l-4-5zM360.0 153.5l4 5l-4 5l-4-5zM356.6 150.2l4 5l-4 5l-4-5zM332.7 155.3l4 5l-4 5l-4-5zM385.0 154.0l4 5l-4 5l-4-5zM512.0 149.0l4 5l-4 5l-4-5zM484.1 146.6l4 5l-4 5l-4-5zM396.7 152.3l4 5l-4 5l-4-5zM401.7 147.1l4 5l-4 5l-4-5zM356.5 151.4l4 5l-4 5l-4-5zM542.1 146.4l4 5l-4 5l-4-5zM548.5 153.6l4 5l-4 5l-4-5zM575.7 153.4l4 5l-4 5l-4-5zM471.8 146.1l4 5l-4 5l-4-5zM495.0 149.2l4 5l-4 5l-4-5zM466.7 148.9l4 5l-4 5l-4-5zM466.0 146.4l4 5l-4 5l-4-5zM334.1 151.5l4 5l-4 5l-4-5zM367.7 150.2l4 5l-4 5l-4-5zM390.3 149.4l4 5l-4 5l-4-5zM503.6 151.5l4 5l-4 5l-4-5zM384.8 154.5l4 5l-4 5l-4-5zM553.6 151.8l4 5l-4 5l-4-5zM527.7 146.5l4 5l-4 5l-4-5zM502.0 146.9l4 5l-4 5l-4-5zM497.0 148.0l4 5l-4 5l-4-5zM483.1 149.8l4 5l-4 5l-4-5zM309.9 145.6l4 5l-4 5l-4-5zM601.3 151.2l4 5l-4 5l-4-5zM632.6 155.3l4 5l-4 5l-4-5zM653.0 155.3l4 5l-4 5l-4-5zM666.7 156.1l4 5l-4 5l-4-5zM696.6 153.9l4 5l-4 5l-4-5zM706.2 155.3l4 5l-4 5l-4-5zM714.3 156.1l4 5l-4 5l-4-5zM599.9 147.1l4 5l-4 5l-4-5zM582.2 155.3l4 5l-4 5l-4-5zM574.1 148.5l4 5l-4 5l-4-5z" fill="#640c23"/>
<path d="M495.8 143.3l4 5l-4 5l-4-5zM280.4 144.4l4 5l-4 5l-4-5zM401.8 142.7l4 5l-4 5l-4-5zM457.4 144.4l4 5l-4 5l-4-5zM420.1 141.1l4 5l-4 5l-4-5zM428.0 144.3l4 5l-4 5l-4-5zM294.2 140.6l4 5l-4 5l-4-5zM505.1 140.8l4 5l-4 5l-4-5zM313.9 144.5l4 5l-4 5l-4-5zM549.8 145.2l4 5l-4 5l-4-5zM388.1 143.6l4 5l-4 5l-4-5zM473.6 138.6l4 5l-4 5l-4-5zM339.4 142.1l4 5l-4 5l-4-5zM391.7 144.4l4 5l-4 5l-4-5zM471.2 144.9l4 5l-4 5l-4-5zM583.2 144.5l4 5l-4 5l-4-5zM292.5 144.6l4 5l-4 5l-4-5zM311.6 142.7l4 5l-4 5l-4-5zM495.4 145.3l4 5l-4 5l-4-5zM506.8 143.0l4 5l-4 5l-4-5zM331.8 143.2l4 5l-4 5l-4-5zM485.6 143.1l4 5l-4 5l-4-5zM438.1 142.5l4 5l-4 5l-4-5zM462.3 142.4l4 5l-4 5l-4-5zM279.8 142.6l4 5l-4 5l-4-5zM493.7 144.1l4 5l-4 5l-4-5zM431.8 144.3l4 5l-4 5l-4-5zM381.8 140.2l4 5l-4 5l-4-5zM372.7 145.3l4 5l-4 5l-4-5zM443.3 135.3l4 5l-4 5l-4-5zM300.0 139.7l4 5l-4 5l-4-5zM348.9 138.3l4 5l-4 5l-4-5zM492.7 143.4l4 5l-4 5l-4-5zM418.2 136.2l4 5l-4 5l-4-5zM509.8 141.2l4 5l-4 5l-4-5zM412.3 135.5l4 5l-4 5l-4-5zM452.8 144.4l4 5l-4 5l-4-5zM422.7 141.7l4 5l-4 5l-4-5zM341.9 140.1l4 5l-4 5l-4-5zM376.4 142.3l4 5l-4 5l-4-5zM351.6 144.8l4 5l-4 5l-4-5zM521.2 145.2l4 5l-4 5l-4-5zM281.2 144.6l4 5l-4 5l-4-5zM324.9 136.4l4 5l-4 5l-4-5zM309.7 145.1l4 5l-4 5l-4-5zM490.2 140.8l4 5l-4 5l-4-5zM306.3 143.1l4 5l-4 5l-4-5zM502.2 137.7l4 5l-4 5l-4-5zM403.8 141.2l4 5l-4 5l-4-5zM405.5 143.5l4 5l-4 5l-4-5zM283.3 144.8l4 5l-4 5l-4-5zM465.8 145.3l4 5l-4 5l-4-5zM404.0 143.9l4 5l-4 5l-4-5zM316.8 140.6l4 5l-4 5l-4-5zM369.3 143.9l4 5l-4 5l-4-5zM346.4 142.9l4 5l-4 5l-4-5zM298.1 143.6l4 5l-4 5l-4-5zM367.9 144.5l4 5l-4 5l-4-5zM320.4 140.5l4 5l-4 5l-4-5zM283.0 145.0l4 5l-4 5l-4-5zM463.0 144.6l4 5l-4 5l-4-5zM421.5 141.4l4 5l-4 5l-4-5zM349.4 145.2l4 5l-4 5l-4-5zM427.7 140.7l4 5l-4 5l-4-5zM336.8 135.5l4 5l-4 5l-4-5zM434.0 142.6l4 5l-4 5l-4-5zM361.1 141.0l4 5l-4 5l-4-5zM402.8 143.0l4 5l-4 5l-4-5zM294.0 145.3l4 5l-4 5l-4-5zM388.5 145.2l4 5l-4 5l-4-5zM408.1 144.0l4 5l-4 5l-4-5zM577.0 144.6l4 5l-4 5l-4-5zM290.9 140.8l4 5l-4 5l-4-5zM382.7 142.5l4 5l-4 5l-4-5zM436.0 135.0l4 5l-4 5l-4-5zM294.8 135.1l4 5l-4 5l-4-5zM319.4 135.0l4 5l-4 5l-4-5zM327.1 134.9l4 5l-4 5l-4-5zM340.2 135.5l4 5l-4 5l-4-5zM326.9 134.6l4 5l-4 5l-4-5zM303.8 135.6l4 5l-4 5l-4-5zM292.2 135.9l4 5l-4 5l-4-5zM319.0 134.7l4 5l-4 5l-4-5zM612.2 139.0l4 5l-4 5l-4-5zM559.1 139.0l4 5l-4 5l-4-5zM568.6 140.3l4 5l-4 5l-4-5zM585.0 139.0l4 5l-4 5l-4-5zM593.1 139.0l4 5l-4 5l-4-5zM519.6 140.3l4 5l-4 5l-4-5zM541.4 139.0l4 5l-4 5l-4-5z" fill="#5b0a21"/>
<path d="M341.5 132.5l4 5l-4 5l-4-5zM308.5 131.4l4 5l-4 5l-4-5zM327.7 124.3l4 5l-4 5l-4-5zM321.6 129.4l4 5l-4 5l-4-5zM309.7 124.2l4 5l-4 5l-4-5zM284.1 125.4l4 5l-4 5l-4-5zM299.6 131.1l4 5l-4 5l-4-5zM288.0 132.2l4 5l-4 5l-4-5zM309.3 127.7l4 5l-4 5l-4-5zM326.8 133.6l4 5l-4 5l-4-5zM369.4 124.9l4 5l-4 5l-4-5zM346.0 126.1l4 5l-4 5l-4-5zM293.4 124.6l4 5l-4 5l-4-5zM357.8 128.4l4 5l-4 5l-4-5zM372.6 123.5l4 5l-4 5l-4-5zM347.7 130.0l4 5l-4 5l-4-5zM296.4 133.1l4 5l-4 5l-4-5zM305.4 133.0l4 5l-4 5l-4-5zM360.6 132.6l4 5l-4 5l-4-5zM301.8 123.9l4 5l-4 5l-4-5zM284.6 132.9l4 5l-4 5l-4-5zM286.9 127.7l4 5l-4 5l-4-5zM326.5 127.2l4 5l-4 5l-4-5zM344.7 132.2l4 5l-4 5l-4-5zM285.7 132.4l4 5l-4 5l-4-5zM288.0 131.9l4 5l-4 5l-4-5zM291.2 125.2l4 5l-4 5l-4-5zM317.6 130.2l4 5l-4 5l-4-5zM345.6 132.1l4 5l-4 5l-4-5zM299.5 129.7l4 5l-4 5l-4-5zM361.9 124.6l4 5l-4 5l-4-5zM339.4 123.7l4 5l-4 5l-4-5zM327.6 131.8l4 5l-4 5l-4-5zM346.4 124.7l4 5l-4 5l-4-5zM303.2 126.2l4 5l-4 5l-4-5zM305.6 133.2l4 5l-4 5l-4-5zM309.5 126.0l4 5l-4 5l-4-5zM284.9 130.2l4 5l-4 5l-4-5zM371.4 129.5l4 5l-4 5l-4-5zM305.3 127.2l4 5l-4 5l-4-5zM313.4 134.1l4 5l-4 5l-4-5zM300.8 124.1l4 5l-4 5l-4-5zM299.0 126.4l4 5l-4 5l-4-5zM446.1 124.0l4 5l-4 5l-4-5zM659.0 132.2l4 5l-4 5l-4-5zM614.9 131.6l4 5l-4 5l-4-5zM529.7 134.3l4 5l-4 5l-4-5zM382.1 124.0l4 5l-4 5l-4-5zM401.1 126.7l4 5l-4 5l-4-5zM410.6 132.2l4 5l-4 5l-4-5zM427.0 130.8l4 5l-4 5l-4-5zM315.3 124.0l4 5l-4 5l-4-5zM334.4 126.7l4 5l-4 5l-4-5zM345.3 124.0l4 5l-4 5l-4-5zM361.6 126.7l4 5l-4 5l-4-5z" fill="#540a1f"/>
<path d="M292.5 121.2l4 5l-4 5l-4-5zM293.9 114.3l4 5l-4 5l-4-5zM318.9 115.3l4 5l-4 5l-4-5zM341.9 120.4l4 5l-4 5l-4-5zM396.2 118.2l4 5l-4 5l-4-5zM334.7 113.1l4 5l-4 5l-4-5zM307.1 121.4l4 5l-4 5l-4-5zM291.0 120.2l4 5l-4 5l-4-5zM335.6 118.4l4 5l-4 5l-4-5zM289.2 116.4l4 5l-4 5l-4-5zM298.2 121.4l4 5l-4 5l-4-5zM295.9 112.7l4 5l-4 5l-4-5zM313.2 120.6l4 5l-4 5l-4-5zM369.1 122.6l4 5l-4 5l-4-5zM348.8 123.0l4 5l-4 5l-4-5zM306.2 122.0l4 5l-4 5l-4-5zM359.1 112.8l4 5l-4 5l-4-5zM291.0 120.0l4 5l-4 5l-4-5zM364.5 116.1l4 5l-4 5l-4-5zM322.4 113.3l4 5l-4 5l-4-5zM308.7 118.9l4 5l-4 5l-4-5zM299.6 114.8l4 5l-4 5l-4-5zM313.2 123.4l4 5l-4 5l-4-5zM284.3 121.9l4 5l-4 5l-4-5zM308.8 114.9l4 5l-4 5l-4-5zM315.9 120.2l4 5l-4 5l-4-5zM347.5 117.5l4 5l-4 5l-4-5zM336.7 118.6l4 5l-4 5l-4-5zM304.9 117.3l4 5l-4 5l-4-5zM304.0 113.3l4 5l-4 5l-4-5zM285.9 117.3l4 5l-4 5l-4-5zM334.7 123.0l4 5l-4 5l-4-5zM366.4 119.9l4 5l-4 5l-4-5zM323.0 120.4l4 5l-4 5l-4-5zM313.6 122.4l4 5l-4 5l-4-5zM393.4 120.6l4 5l-4 5l-4-5zM309.9 119.2l4 5l-4 5l-4-5zM344.7 121.1l4 5l-4 5l-4-5zM295.3 117.9l4 5l-4 5l-4-5zM360.0 123.3l4 5l-4 5l-4-5zM421.5 116.4l4 5l-4 5l-4-5zM290.3 117.2l4 5l-4 5l-4-5zM299.0 119.9l4 5l-4 5l-4-5zM331.7 114.5l4 5l-4 5l-4-5zM355.4 118.0l4 5l-4 5l-4-5zM383.4 113.1l4 5l-4 5l-4-5zM391.6 117.2l4 5l-4 5l-4-5zM309.9 115.8l4 5l-4 5l-4-5zM322.1 119.9l4 5l-4 5l-4-5zM368.4 118.5l4 5l-4 5l-4-5zM394.3 115.8l4 5l-4 5l-4-5z" fill="#4e0a1b"/>
<path d="M306.0 106.1l4 5l-4 5l-4-5zM311.3 111.7l4 5l-4 5l-4-5zM365.1 107.6l4 5l-4 5l-4-5zM306.4 109.2l4 5l-4 5l-4-5zM325.6 105.4l4 5l-4 5l-4-5zM302.8 110.3l4 5l-4 5l-4-5zM294.6 109.2l4 5l-4 5l-4-5zM348.5 112.2l4 5l-4 5l-4-5zM315.1 112.2l4 5l-4 5l-4-5zM315.6 110.9l4 5l-4 5l-4-5zM436.5 103.6l4 5l-4 5l-4-5zM446.1 110.9l4 5l-4 5l-4-5zM455.6 111.7l4 5l-4 5l-4-5zM583.6 108.5l4 5l-4 5l-4-5zM308.5 103.6l4 5l-4 5l-4-5zM323.5 104.4l4 5l-4 5l-4-5zM343.9 110.4l4 5l-4 5l-4-5zM339.8 111.7l4 5l-4 5l-4-5zM372.5 109.0l4 5l-4 5l-4-5zM388.9 102.2l4 5l-4 5l-4-5z" fill="#480918"/>
<path d="M359.7 100.5l4 5l-4 5l-4-5zM309.4 101.1l4 5l-4 5l-4-5zM396.7 100.2l4 5l-4 5l-4-5zM347.3 99.0l4 5l-4 5l-4-5zM370.3 96.7l4 5l-4 5l-4-5zM377.7 91.6l4 5l-4 5l-4-5zM369.6 101.7l4 5l-4 5l-4-5zM367.5 91.7l4 5l-4 5l-4-5zM378.8 95.3l4 5l-4 5l-4-5zM371.3 100.4l4 5l-4 5l-4-5zM409.3 94.6l4 5l-4 5l-4-5zM461.0 100.8l4 5l-4 5l-4-5zM466.5 98.1l4 5l-4 5l-4-5zM473.3 98.1l4 5l-4 5l-4-5zM619.5 99.5l4 5l-4 5l-4-5zM657.9 101.1l4 5l-4 5l-4-5zM394.3 99.5l4 5l-4 5l-4-5zM376.6 94.0l4 5l-4 5l-4-5zM364.3 95.4l4 5l-4 5l-4-5zM371.2 99.5l4 5l-4 5l-4-5zM383.4 96.7l4 5l-4 5l-4-5z" fill="#420915"/>
<path d="M363.1 90.5l4 5l-4 5l-4-5zM367.4 89.3l4 5l-4 5l-4-5zM361.6 91.1l4 5l-4 5l-4-5zM364.8 85.3l4 5l-4 5l-4-5zM323.5 87.8l4 5l-4 5l-4-5zM357.5 80.4l4 5l-4 5l-4-5zM371.7 75.0l4 5l-4 5l-4-5zM386.7 78.2l4 5l-4 5l-4-5zM428.6 73.1l4 5l-4 5l-4-5zM443.3 76.3l4 5l-4 5l-4-5zM403.0 89.1l4 5l-4 5l-4-5zM421.8 90.8l4 5l-4 5l-4-5zM379.3 87.2l4 5l-4 5l-4-5z" fill="#3c0912"/>
</g>
<text x="207.2" y="1112.8" font-size="56.2" text-anchor="end">0</text>
<text x="207.2" y="907.2" font-size="56.2" text-anchor="end">500</text>
<text x="207.2" y="701.5" font-size="56.2" text-anchor="end">1000</text>
<text x="207.2" y="495.9" font-size="56.2" text-anchor="end">1500</text>
<text x="207.2" y="290.3" font-size="56.2" text-anchor="end">2000</text>
<text x="207.2" y="84.6" font-size="56.2" text-anchor="end">2500</text>
<text x="231.5" y="1171.9" font-size="56.2" text-anchor="middle">0</text>
<line x1="526.7" y1="1093.6" x2="526.7" y2="1081.8" stroke="#4d4d4d" stroke-width="2.6"/>
<line x1="526.7" y1="65.4" x2="526.7" y2="77.2" stroke="#4d4d4d" stroke-width="2.6"/>
<text x="524.5" y="1171.9" font-size="56.2" text-anchor="middle">1000</text>
<text x="817.5" y="1171.9" font-size="56.2" text-anchor="middle">2000</text>
<text x="529.1" y="1226" font-size="61.9" text-anchor="middle">Depth (m)</text>
<text x="50.6" y="579.5" font-size="61.9" text-anchor="middle" transform="rotate(-90 50.6 579.5)">Resolution (m)</text>
<text x="819.2" y="1065" font-size="56.8" text-anchor="end">(a)</text>
<defs><linearGradient id="gamp" x1="0" y1="1" x2="0" y2="0"><stop offset="0%" stop-color="#f1edec"/><stop offset="5%" stop-color="#ecdfdc"/><stop offset="10%" stop-color="#e6d1cb"/><stop offset="15%" stop-color="#e2c4ba"/><stop offset="20%" stop-color="#ddb6aa"/><stop offset="25%" stop-color="#d9a89a"/><stop offset="30%" stop-color="#d59b89"/><stop offset="35%" stop-color="#d08e79"/><stop offset="40%" stop-color="#cc806a"/><stop offset="45%" stop-color="#c8725a"/><stop offset="50%" stop-color="#c3644b"/><stop offset="55%" stop-color="#be553e"/><stop offset="60%" stop-color="#b94631"/><stop offset="65%" stop-color="#b2352a"/><stop offset="70%" stop-color="#ac2424"/><stop offset="75%" stop-color="#981a27"/><stop offset="80%" stop-color="#83112a"/><stop offset="85%" stop-color="#6e0d25"/><stop offset="90%" stop-color="#590a21"/><stop offset="95%" stop-color="#4a0a19"/><stop offset="100%" stop-color="#3c0912"/></linearGradient></defs>
<rect x="912.4" y="65.4" width="56.3" height="1028.2" fill="url(#gamp)" stroke="#4d4d4d" stroke-width="2.6"/>
<text x="987.6" y="1104.5" font-size="56.2">0</text>
<line x1="968.7" y1="893.8" x2="957.4" y2="893.8" stroke="#4d4d4d" stroke-width="2.6"/>
<text x="989.5" y="914.8" font-size="50.8">0.5</text>
<line x1="968.7" y1="694" x2="957.4" y2="694" stroke="#4d4d4d" stroke-width="2.6"/>
<text x="989.5" y="715" font-size="50.8">1</text>
<line x1="968.7" y1="494.3" x2="957.4" y2="494.3" stroke="#4d4d4d" stroke-width="2.6"/>
<text x="989.5" y="515.2" font-size="50.8">1.5</text>
<line x1="968.7" y1="294.5" x2="957.4" y2="294.5" stroke="#4d4d4d" stroke-width="2.6"/>
<text x="989.5" y="315.5" font-size="50.8">2</text>
<line x1="968.7" y1="94.7" x2="957.4" y2="94.7" stroke="#4d4d4d" stroke-width="2.6"/>
<text x="989.5" y="115.7" font-size="50.8">2.5</text>
<text x="1143.3" y="582" font-size="52" text-anchor="middle" transform="rotate(-90 1143.3 582)">Area (km<tspan dx="-6" dy="-24" font-size="36">2</tspan><tspan dx="5" dy="24">)</tspan></text>
</g>
<g id="pb">
<rect x="1415.2" y="1030.6" width="24.3" height="63" fill="#66aad7" stroke="#1f1f1f" stroke-width="2.8"/>
<rect x="1439.5" y="85.9" width="24.3" height="1007.7" fill="#66aad7" stroke="#1f1f1f" stroke-width="2.8"/>
<rect x="1463.8" y="917.6" width="24.3" height="176" fill="#66aad7" stroke="#1f1f1f" stroke-width="2.8"/>
<rect x="1488" y="973.2" width="24.3" height="120.4" fill="#66aad7" stroke="#1f1f1f" stroke-width="2.8"/>
<rect x="1512.3" y="999.8" width="24.3" height="93.8" fill="#66aad7" stroke="#1f1f1f" stroke-width="2.8"/>
<rect x="1536.6" y="1036.7" width="24.3" height="56.9" fill="#66aad7" stroke="#1f1f1f" stroke-width="2.8"/>
<rect x="1560.9" y="1045.8" width="24.3" height="47.8" fill="#66aad7" stroke="#1f1f1f" stroke-width="2.8"/>
<rect x="1585.2" y="1047" width="24.3" height="46.6" fill="#66aad7" stroke="#1f1f1f" stroke-width="2.8"/>
<rect x="1609.4" y="1045.8" width="24.3" height="47.8" fill="#66aad7" stroke="#1f1f1f" stroke-width="2.8"/>
<rect x="1633.7" y="1043.4" width="24.3" height="50.2" fill="#66aad7" stroke="#1f1f1f" stroke-width="2.8"/>
<rect x="1658" y="1054.9" width="24.3" height="38.7" fill="#66aad7" stroke="#1f1f1f" stroke-width="2.8"/>
<rect x="1682.3" y="1052.5" width="24.3" height="41.1" fill="#66aad7" stroke="#1f1f1f" stroke-width="2.8"/>
<rect x="1706.6" y="1058.5" width="24.3" height="35.1" fill="#66aad7" stroke="#1f1f1f" stroke-width="2.8"/>
<rect x="1730.8" y="1051.2" width="24.3" height="42.4" fill="#66aad7" stroke="#1f1f1f" stroke-width="2.8"/>
<rect x="1755.1" y="1065.2" width="24.3" height="28.4" fill="#66aad7" stroke="#1f1f1f" stroke-width="2.8"/>
<rect x="1779.4" y="1068.2" width="24.3" height="25.4" fill="#66aad7" stroke="#1f1f1f" stroke-width="2.8"/>
<rect x="1803.7" y="1082.7" width="24.3" height="10.9" fill="#66aad7" stroke="#1f1f1f" stroke-width="2.8"/>
<rect x="1828" y="1089.4" width="24.3" height="4.2" fill="#66aad7" stroke="#1f1f1f" stroke-width="2.8"/>
<rect x="1852.2" y="1091.2" width="24.3" height="2.4" fill="#66aad7" stroke="#1f1f1f" stroke-width="2.8"/>
<rect x="1876.5" y="1092" width="24.3" height="1.6" fill="#66aad7" stroke="#1f1f1f" stroke-width="2.8"/>
<rect x="1900.8" y="1092.2" width="24.3" height="1.4" fill="#66aad7" stroke="#1f1f1f" stroke-width="2.8"/>
<rect x="1925.1" y="1092.4" width="24.3" height="1.2" fill="#66aad7" stroke="#1f1f1f" stroke-width="2.8"/>
<rect x="1949.4" y="1092.4" width="24.3" height="1.2" fill="#66aad7" stroke="#1f1f1f" stroke-width="2.8"/>
<rect x="1973.6" y="1092.4" width="24.3" height="1.2" fill="#66aad7" stroke="#1f1f1f" stroke-width="2.8"/>
<rect x="1997.9" y="1092" width="24.3" height="1.6" fill="#66aad7" stroke="#1f1f1f" stroke-width="2.8"/>
<rect x="2022.2" y="1090" width="24.3" height="3.6" fill="#66aad7" stroke="#1f1f1f" stroke-width="2.8"/>
<rect x="2046.5" y="1079.1" width="24.3" height="14.5" fill="#66aad7" stroke="#1f1f1f" stroke-width="2.8"/>
<rect x="2070.8" y="1092.4" width="24.3" height="1.2" fill="#66aad7" stroke="#1f1f1f" stroke-width="2.8"/>
<rect x="2095" y="1093" width="24.3" height="0.6" fill="#66aad7" stroke="#1f1f1f" stroke-width="2.8"/>
<rect x="1391" y="65.4" width="876.6" height="1028.2" fill="none" stroke="#4d4d4d" stroke-width="2.6"/>
<text x="1365" y="1112.7" font-size="56.2" text-anchor="end">0</text>
<line x1="1391" y1="922.2" x2="1402.8" y2="922.2" stroke="#4d4d4d" stroke-width="2.6"/>
<line x1="2267.6" y1="922.2" x2="2255.8" y2="922.2" stroke="#4d4d4d" stroke-width="2.6"/>
<text x="1365" y="941.4" font-size="56.2" text-anchor="end">2</text>
<line x1="1391" y1="750.9" x2="1402.8" y2="750.9" stroke="#4d4d4d" stroke-width="2.6"/>
<line x1="2267.6" y1="750.9" x2="2255.8" y2="750.9" stroke="#4d4d4d" stroke-width="2.6"/>
<text x="1365" y="770" font-size="56.2" text-anchor="end">4</text>
<line x1="1391" y1="579.5" x2="1402.8" y2="579.5" stroke="#4d4d4d" stroke-width="2.6"/>
<line x1="2267.6" y1="579.5" x2="2255.8" y2="579.5" stroke="#4d4d4d" stroke-width="2.6"/>
<text x="1365" y="598.6" font-size="56.2" text-anchor="end">6</text>
<line x1="1391" y1="408.1" x2="1402.8" y2="408.1" stroke="#4d4d4d" stroke-width="2.6"/>
<line x1="2267.6" y1="408.1" x2="2255.8" y2="408.1" stroke="#4d4d4d" stroke-width="2.6"/>
<text x="1365" y="427.3" font-size="56.2" text-anchor="end">8</text>
<line x1="1391" y1="236.8" x2="1402.8" y2="236.8" stroke="#4d4d4d" stroke-width="2.6"/>
<line x1="2267.6" y1="236.8" x2="2255.8" y2="236.8" stroke="#4d4d4d" stroke-width="2.6"/>
<text x="1365" y="255.9" font-size="56.2" text-anchor="end">10</text>
<text x="1365" y="84.5" font-size="56.2" text-anchor="end">12</text>
<text x="1388.4" y="1171.9" font-size="56.2" text-anchor="middle">0</text>
<line x1="1683.2" y1="1093.6" x2="1683.2" y2="1081.8" stroke="#4d4d4d" stroke-width="2.6"/>
<line x1="1683.2" y1="65.4" x2="1683.2" y2="77.2" stroke="#4d4d4d" stroke-width="2.6"/>
<text x="1680.6" y="1171.9" font-size="56.2" text-anchor="middle">1000</text>
<line x1="1975.4" y1="1093.6" x2="1975.4" y2="1081.8" stroke="#4d4d4d" stroke-width="2.6"/>
<line x1="1975.4" y1="65.4" x2="1975.4" y2="77.2" stroke="#4d4d4d" stroke-width="2.6"/>
<text x="1972.8" y="1171.9" font-size="56.2" text-anchor="middle">2000</text>
<text x="2265" y="1171.9" font-size="56.2" text-anchor="middle">3000</text>
<text x="1830.5" y="1232" font-size="61.9" text-anchor="middle">Resolution (m)</text>
<text x="1270.2" y="581.9" font-size="61.9" text-anchor="middle" transform="rotate(-90 1270.2 581.9)">Count</text>
<text x="2257" y="1072.7" font-size="56.8" text-anchor="end">(b)</text>
<text x="1386" y="52" font-size="56.2">x10<tspan dy="-18.4" font-size="33.5">4</tspan></text>
</g>
<g id="pc">
<defs><clipPath id="clipc"><rect x="232.5" y="1258.5" width="844.5" height="431.0999999999999"/></clipPath></defs>
<g clip-path="url(#clipc)">
<rect x="232.5" y="1258.5" width="844.5" height="431.0999999999999" fill="#f8fcca"/>
<defs><filter id="blc" x="-5%" y="-5%" width="110%" height="110%"><feGaussianBlur stdDeviation="1.6"/></filter><pattern id="dotc" width="6.800" height="11.778" patternUnits="userSpaceOnUse"><path d="M3.40 2.94L4.25 4.42L2.55 4.42zM0.00 2.94L0.85 1.47L-0.85 1.47zM6.80 2.94L7.65 1.47L5.95 1.47zM0.00 8.83L0.85 10.31L-0.85 10.31zM6.80 8.83L7.65 10.31L5.95 10.31zM3.40 8.83L4.25 7.36L2.55 7.36z" fill="#fff" fill-opacity="0.9"/></pattern></defs>
<g filter="url(#blc)">
<rect x="202.5" y="1228.5" width="904.5" height="491.0999999999999" fill="#f8fcca"/>
<path d="M208.5 1230.5l900 0l0 488l-130 0l-6-5.3l-8-1.8l-4 1.7l-3.7 5.4l-240.7 0l-4.8-4l-14.8-.6l-28-14.4l-8-2.8l-4 0l-4 2.2l-5.2 11.6l-4.7 8l-438.1 0l0-59l6.1-1l4.5-4l1.9-12l3.4-4l8.1-4.4l8-6l4-1.1l4 2.7l4.1 8.8l3.9 2.4l4 .8l8-1.9l6.4-5.3l2.1-4l0-4l-3.4-12l0-4l1.4-4l5.5-3.8l16-.9l4.8-3.3l7.2-12.3l4-3l4-.9l12 2.4l16 .3l12 2.1l3.7 3.4l5.5 8l1.6 4l-4 12l.3 4l.9 1l4 .3l2.8-1.3l4.9-4l1.6-4l-.9-4l-3.2-4l-1.1-4l1.4-4l6.5-3.1l12-1.1l4-1.6l3-6.2l1.8-12l3.2-3l12.5-5l23-16l4.5-4l4.8-8l3.2-2.4l8-2l4-2.3l8.7-13.3l1.7-4l-2.2-4l-4.2-.6l-12 7.1l-4 .3l-12-3.3l-4-.2l-12 2l-9.3-1.3l-3.1-4l2.9-4l4.6-4l2.1-4l0-4l-1.2-2l-4-1.5l-16 7.3l-6.7 4.2l-5.3 1.8l-16 1.5l-8 2.5l-4 4.3l-5.2 9.9l-2.8 3l-4 1l-4-.7l-25.4-11.3l-4.6-4l-1.7-4l1.2-4l6.5-5.3l4-1l12 .8l5.1-2.5l1.3-4l-2.4-6.9l-4-3.6l-4-.2l-4 1.4l-12 7.1l-12 3.5l-2.5 2.7l-.8 12l-2.1 4l-6.6 9.1l-8 8.1l-15.5 22.8l-4.5 .9l-4-1.4l-12-8.4l-7.9-3.1l-1.4-4l-.1-8l-5.2-12l-5.4-1.9l-4-.2l-16 1.6l0-279.5zM338.7 1462.5l1.8 3.2l4-1.7l.5-1.5l-.5-1.7l-4-2.2zM320.1 1634.5l-6.3 4l-2.7 4l2.2 4l7.2 2.1l4-.4l3.6-1.7l1.7-4l-1.3-7.6l-4-2.3zM602.6 1642.5l-2 4l.2 4l2 4l4.3 4l9.4 3l4-.3l4.9-2.7l2-4l-.8-4l-10.6-8l-3.5-2.2l-4-.5z" fill="#f1fac6"/>
<path d="M208.5 1230.5l900 0l0 488l-25.7 0l-2.3-1.9l-7.6 1.9l-4.8 0l-7.6-5.2l-4-.6l-8 .6l-8-1l-4 .4l-12 5.3l-4 .4l-4-.7l-8-3.8l-12-3.2l-20-10.4l-12-4.2l-4-.4l-4 .5l-12 6.6l-20 7l-8-.8l-8-4.2l-4-.9l-16 2.5l-20 6l-3 2.1l-2.6 4l-128.7 0l-5.7-7l-2.3-5l-.6-12l-1.1-1.9l-4-1.6l-8-1.2l-4-2.3l-8-6l-10.9-11l-5.1-1.2l-12 1.8l-8 0l-12-1.6l-6.7-3l-.9-16l-6.2-20l-2.2-3.3l-4-3.3l-12-5.9l-8-2.6l-8 1l-8 4.7l-4 .2l-12-3.3l-4 1.5l-2.8 3l-1.7 4l.1 8l-2 4l-17.6 4.3l-4 3.1l-2.2 4.6l-.3 12l-4.4 12l-.2 4l3.1 5.5l4 2.7l4 .7l2.3-.9l1.7-1l5.9-11l2.1-1.3l4-.2l17.9 5.5l4.8 4l.7 4l-1.5 4l-10.8 16l-2 12l-140.7 0l-.4-4.9l-1.4-3.1l-6.6-4.6l-11-11.4l-9-5.7l-4-1.5l-4 .9l-8 5.6l-4-.6l-16-6.8l-12-9.3l-4-.8l-12 4.4l-4 .2l-3.8-2.4l-1.5-4l1.3-7.2l4-5.2l4-1.7l12 7.6l4 .2l8-2.9l12-1.5l.8-1.3l-.4-4l-4.3-4l-4.1-2.3l-4-4.1l-.9-1.6l.3-4l4.6-3.7l4 .1l8 4.3l4 .5l4-2.7l15.4-26.5l4.6-4.9l4-2.3l4-.4l12 1.7l5.2-2.1l14.8-11l4-1.1l8 1.6l2.8 2.5l-1.6 12l2.8 1.7l4-1.2l5.3-4.5l1.6-4l-2.1-4l-4.6-4l-.1-16l-5.7-8l2.4-12l-1.5-12l2.3-4l2.4-1.6l4-1.2l4 .4l3.6 2.4l4.4 6.5l5.7 5.5l.7 4l-1 8l3.9 4l10.7 7.9l4 .2l12-4.3l4 .7l12 7.1l4-.6l4-2.7l8-8.2l5.3-8.1l6-16l-1.7-4l-1.6-1.1l-16-3.4l-4 .7l-8 5l-4 1.3l-4-.7l-8-12l-6-5.8l-2-4l1.7-4l5.8-4l.4-4l-3.9-3l-8-.1l-8-2.6l-4-3.3l-8-10.2l-1.6-.8l-6.4-1.1l-8 .8l-12-3.3l-12-1.1l-4-1.8l-12-10.6l-8-3.8l-16-1.8l-12 4.7l-4 .7l-8-1l-16.3-5.7l-3.7-1.9l-4-4.6l-4-10.2l-4-7.4l-4-3.4l-4-1.2l-4-.1l-8 2.2l-5.3 2.6l-10.7 7.6l-4 1.5l-8 .3l-8-2l-12 2.7l-16-1.1l-8 1.4l-8 4.3l-3.8 5.3l-1.7 8l2.7 8l-1.4 4l-5.4 4l-6.4 4l-12 3.4l-4-.1l-10.1-3.3l-5.9-.2l0-259.8zM219.5 1374.5l-1.9 4l6.9 8.8l8 6.5l12 13.2l10.9 7.5l5.1 8.6l4 2.4l8-3.6l3.8-3.4l1-4l-.8-2.3l-5.6-9.7l-2.8-12l-1.7-4l-1.9-2.1l-4-2.4l-12-3.9l-16-.7l-8-3zM596.3 1562.5l-1.3 4l.4 12l1.1 2.6l4 1.4l5.7-4l1.5-4l-.6-4l-2.6-5.9l-2.3-2.1l-1.7-.9zM540.3 1590.5l-3.8 1.3l-8 5.4l-4 1.4l-4-.3l-12-3.7l-3.3 3.9l-1.4 8l.6 8l3.1 4l5 2l4-1.1l8-6.6l12-1.4l12 1l4-1.8l2.3-4.1l.7-4l-1.1-4l-9.9-6.9zM272.5 1657.3l12-2l4 1.6l1.2 1.6l.8 4l-2.3 12l1 4l5.7 12l1.8 8l.2 8l-1.4 12l-66.5 0l5.2-16l.3-8l-1-8l.3-4l1.5-4l5.2-5.1l16-9.1zM208.5 1700.3l3.3 2.2l-3 16l-4.3 0l0-18.7zM368.5 1715.1l.3 3.4l-2.1 0z" fill="#e9f6c2"/>
<path d="M208.5 1230.5l900 0l0 488l-10.8 0l-5.4-12l-3.8-4.4l-4-2.1l-12-1.3l-12-2.8l-4 .2l-20 4.6l-12 4.6l-4 .3l-4-1l-12.3-6.1l-23.7-8l-24-10.8l-4 .2l-4 1.7l-24 13.3l-24-1.5l-20 2.7l-24 7.4l-13.5 3l-10.9 4l-7.4 4l-2.9 4l-61.7 0l-3.6-7.1l-10.1-12.9l-5.2-16l-2.2-4l-4.3-4l-6.2-2.3l-4-.4l-12 1.3l-4-1.1l-10.1-9.5l-5.9-3l-24-1.9l-5.7-3.1l-3.4-4l-4.3-8l-1.5-12l-2.5-8l-2.6-4l-8.4-8l-2.8-4l-1.3-4l-.1-12l-2.7-16l-4.7-7.9l-14.8-16.1l-17.8-8l-19-16l-8.4-10.4l-10.4-9.6l-5.6-4.4l-12-5.7l-12-12.3l-8-3.2l-12-.6l-16-3.7l-16-8.1l-20-3.7l-12-.9l-12-6.2l-16-2.7l-4-2.3l-8-6.8l-4-1.1l-16 1.8l-8-1.3l-4-3.6l-7-11.2l-5-4.8l-8-2.9l-12-.7l-4-1.6l-2-2l-6-11.7l-6.2-8.3l-1.2-4l.6-8l-3.2-4l-6-3.2l-8-.7l-12 2.7l-11-6.8l-41-10l-20-1l-4 .4l-12 3.8l0-137.2zM206.4 1390.5l10.1 8.5l16.7 11.5l7.3 12l3.6 16l-.8 4l-2.4 4l-24.4 24.6l-4 2.4l-8 1.6l0-85.6zM488.5 1629.8l4-1.1l8 1.1l7.1 4.7l1.8 4l-4.5 4l-4.4 1.6l-8 1.2l-4-.8l-2.9-2l-1.1-4l.3-4zM516.5 1652.8l4 .7l1.6 5l-1.6 2l-4 1l-2.2-3l.8-4zM504.5 1672.4l4-.9l4 1.4l4 4.4l2 5.2l-1.8 4l-5.2 0l-7.3-4l-2.4-4l.3-4z" fill="#e2f4bd"/>
<path d="M208.5 1230.5l360.1 0l7.9 4.7l8 .7l6.3-1.4l5.6-4l512.1 0l0 474.4l-11.5-10.4l-12.5-8.9l-4-1.9l-16-2.9l-8 .2l-28 12.4l-4 .7l-4-.8l-12-5.5l-12-2.7l-24-9.9l-12-7.5l-8-1.8l-4 1l-12 8.5l-12 5.7l-12 3.9l-12 1.4l-32 .1l-24 8.9l-20 5l-12 5l-4 .9l-16 .2l-8 2.7l-4.2-2.7l.5-4l3.7-5.2l.6-2.8l.1-4l-1.8-4l-14.9-9.3l-11.4-18.7l-4.6-4.6l-4-1.3l-4 .1l-16 6.3l-12-.2l-12-5l-16-5.1l-4.5-2.2l-4.7-4l-8.6-16l-12.9-28l0-4l2.7-3.3l8-1.4l4-1.4l1.6-1.9l.3-4l-1.2-4l-6.6-12l-6.1-4.9l-12-4.8l-12-2.4l-4-1.7l-16-13.2l-8.1-5l-7.9-6.4l-9.2-9.6l-5.9-8l-1.7-4l-3.2-14.8l-4-5l-4-1.6l-4-.1l-8 1.7l-8-.5l-8-4.2l-22.1-15.5l-17.9-5.1l-12-6.6l-4-.9l-12 2.2l-8 0l-32-10.1l-16-2.7l-20-10.7l-16-1.7l-4-3.1l-7.8-9.3l-8.2-7.7l-4-2.8l-12-2l-4-3.2l-.3-4.3l1.5-8l-.7-4l-2.4-4l-5.4-4l-19.5-8l-5.2-.9l-12-.2l-24-4l-36-9.1l-36 .2l0-126zM207.9 1402.5l10.7 8l3.4 4l1.2 4l-2.3 12l.1 12l-1.4 4l-3.1 3.7l-4 2.5l-8 1.9l0-53.5z" fill="#daf0b9"/>
<path d="M208.5 1230.5l349.8 0l3.6 4l6.6 4.4l8 2.9l4 .5l8-.7l9.6-3.1l8.1-4l4.7-4l497.6 0l0 452.1l-8-1l-4-1.6l-12-8.8l-4-1.9l-4-.6l-20 1.8l-28 4.9l-8-4.9l-4-1.1l-12 2.3l-8-.4l-36-12.9l-8-1.7l-12-.6l-8 1.6l-7.8 8.8l-4.8 4l-7.4 4.3l-8 3.1l-20 1.1l-4-.8l-12-6.6l-4-.1l-10.1 3l-21.9 10.4l-5.9 1.6l-18.1 2.5l-8.8-10.5l-23.2-12.8l-4-4.7l-8-14.5l-4-4l-4-1.9l-8-1.3l-16-.6l-24 5l-8-1l-4-1.6l-4-2.8l-5.8-7.8l-6.1-12l-.8-4l.8-4l11.9-10l3.2-6l1-4l-.3-20l-3.9-11.3l-4-7.5l-6.3-5.2l-5.7-2.9l-4-.7l-12 2l-8.5-2.4l-9.8-8l-9.7-4.7l-3.5-3.3l-4.5-8.9l-4-3.9l-12 1.9l-4-1.5l-4-4l-4.4-7.6l-9.2-24l-2.4-3.3l-4-3.1l-12-2.7l-16 .3l-4-.7l-24-12.2l-16-4l-8.9-6.3l-7.1-3.1l-16-.5l-24-2.6l-7.9-1.8l-11.1-4l-13-1.3l-8-2.4l-20-9.7l-12-9l-5.8-5.6l-9.3-12l-8.9-7.1l-7.2-8.9l-4.8-3.9l-24-9l-8-1.5l-16-1l-20-3.4l-36-9.6l-24-1.8l-12-2l0-115.8z" fill="#d2eeb5"/>
<path d="M208.5 1230.5l341.8 0l8.8 8l9.4 6.1l4.8 1.9l7.2 .9l8-.7l28-5.9l4-2.7l3.8-7.6l484.2 0l0 440.7l-8-1.9l-4-1.9l-12-8.7l-4-1.1l-4 .1l-12 3l-16 .8l-24-4.6l-8 .2l-16 2.6l-16-3.7l-32-10.3l-5.3-3.2l-6.7-7.2l-4-2l-8-3l-12-1.8l-4-2.6l-9.5-15.4l-4.9-4l-5.6-2.2l-4-.1l-4 1.1l-2 1.2l-2.3 4l.8 8l4 8l.9 4l-.9 4l-12.5 4.1l-11.7 11.9l-4.3 .9l-8-4l-4-1l-12 2.4l-4-.9l-9.3-5.4l-6.7-1.7l-8 .5l-12 3.7l-4-.8l-8-4.6l-16-13.1l-8-7.7l-16-2.5l-8-4.9l-4 3.6l-2.6 7.5l-3.1 4l-5.2 4l-9.1 3.5l-4-.4l-4-1.9l-3.6-5.2l0-4l1.9-4l9.7-11.9l4-3.9l4-1.2l4 1.2l6.4 3.8l1.6 2.3l4-1.1l8.2-13.2l1.5-4l0-4l-1.7-4l-7-8l-1.6-4l.6-8.7l-4-1.8l-12-.4l-4-1.4l-4-3.1l-8-10.7l-13.1-9.9l-2.8-4l-4.1-12.8l-8.7-11.2l-3.3-2.5l-8-2.7l-36-5.1l-5.9-1.7l-4.4-4l-7.3-12l-18.4-20.5l-4-1.2l-16 1.8l-16-2.8l-8-2.3l-16-6.9l-12-.6l-4-1.2l-9.9-6.3l-6.1-2.7l-40-7.8l-12-5.6l-20 2.8l-12-1.3l-8-2.7l-4.9-2.7l-14.6-12l-12.5-16l-20-18.5l-12-5.7l-20-5.6l-24-2.5l-16-3.1l-40-10.7l-24-2.8l-12-2.4l0-108.7z" fill="#caebb2"/>
<path d="M208.5 1230.5l333.7 0l4.2 4l22.1 14.8l4 1.6l8 .8l24-2.9l16 .6l8-2.1l3.5-4.8l2.4-12l474.1 0l0 433.3l-8-2.5l-12-7.7l-8-2.5l-24 2.7l-24-4.3l-12-.8l-20 .5l-16-2.6l-14.4-8.1l-15.6-12l-22-7.3l-4-2l-12-11.4l-12-7.5l-8-3.7l-12-2.4l-8 0l-4 1.6l-12 12.4l-8 6.7l-7.6 9.6l-12.4 9.1l-4 .7l-12-1.9l-20 1.3l-4.9-1.2l-20.4-16l-9.3-12l-1.4-4l.1-20l1.7-4l6.2-6.1l3.3-5.9l-.1-4l-2.1-4l-5.1-3.6l-8-3.7l-2.5-4.7l-1.9-8l-3.6-8.6l-24-24.4l-5.6-3l-.6-4l6.2-8.2l4-8.1l2.3-11.7l-2.3-2.2l-12 3.5l-12 .3l-8 1.9l-5.2 4.5l-2.8 5.1l-4 2.7l-12-1.5l-16 2.5l-12-1.6l-12 1l-4-.7l-4.9-3.5l-7.9-12l-11.2-6.3l-12-13l-4-2.5l-16-6l-8-.9l-12 3.5l-4-.3l-16-8.1l-12-2.2l-12-8.4l-20-5.8l-12 0l-16-2.7l-12-5.3l-4-.2l-4 1.4l-8 5l-8 2.5l-8-.1l-8-1.3l-4-1.9l-16-13.3l-14.4-18.1l-12.5-12l-5.2-4l-11.9-5.5l-12-3.5l-40-5l-48-12.9l-24-4l-16-4.5l0-100.6zM463.8 1342.5l-5.4 4l-1.9 4l0 4l2.4 4l5.6 4.3l12 5.1l3 2.6l3.9 8l5.1 4.6l8 2.6l8 .2l4 1l8 4l4 1.1l16 1.2l4-.4l3.8-2.3l2.7-4l-.8-4l-5.7-4l-20-8.3l-12-2.5l-11.3-13.2l-13.5-8l-11.2-4.8z" fill="#c2e8b0"/>
<path d="M208.5 1230.5l325.7 0l4.4 4l25.9 16.6l8 3.7l8 .6l24-1.4l32 6.2l4-2.7l2.5-7l-.7-20l466.2 0l0 427.5l-4-1.1l-16-8.8l-8-2.2l-24 1.4l-16-2.8l-52-6.1l-12-7l-16-13.6l-22.7-7.3l-29.5-20l-7.8-3.4l-24-5.3l-5.1 .7l-6.7 4l-11 12l-13.2 12.2l-12 8.6l-4 1.2l-20 1.9l-8-1.2l-4-2.7l-9.7-12l-8.4-16l-1.1-8l1.1-4l6-12l4.1-12.8l4-5.2l6.6-6l1.4-4l-.9-4l-3.1-5.3l-4-3.5l-8-2.7l-12-1.7l-12-10.5l-12-6.4l-4-3.8l-3.2-6.1l-.5-4l1.5-12l3.9-12l.2-4l-1.8-4l-4.1-2.8l-4-1.3l-4 0l-16 3.5l-8 0l-16 1.9l-12-.4l-12 6l-4 .7l-20-2.7l-4-1.3l-8-7.7l-4-2.6l-12-.2l-3-1.1l-3.3-4l-7.4-16l.6-12l-1.1-4l-1.8-2.1l-8-3.1l-4-2.7l-4.3-8.1l-3.5-12l-3.5-4l-5.6-4l-15.7-8l-15.4-6.2l-16-9.3l-8-2.8l-20-9.7l-14.1-4l-9.9-.9l-8 1.9l-5.5 3l-4.6 4l-5.6 8l-1.1 4l.8 6.5l8 11.8l3.8 9.7l-.3 4l-3.2 4l-16.3 2.1l-16 7.7l-4 .7l-8-1.9l-15.5-8.6l-16.5-20.2l-15.7-11.8l-16.3-8.3l-8-2.2l-28-1.6l-12-1.9l-44-12.4l-25.7-5.6l-22.3-9.1l0-90.9zM635.7 1270.5l-1.4 8l1.1 24l1.1 5.8l4 2.2l4-3.2l3.3-8.8l.4-20l-3.7-7.8l-4-3l-4 1.1z" fill="#b9e5ad"/>
<path d="M208.5 1230.5l316.6 0l43.4 26.2l8 2l20-.5l8 .7l8 2.4l8 5l5.8 8.2l2.6 8l2.9 32l4.7 6l4 1l4-2.3l4-6.1l3.8-10.6l.9-8l.6-16l-3.7-16l.1-12l-2.1-20l460.4 0l0 422.1l-4-1.3l-12-6.9l-8-2.9l-8-1.1l-20 1.1l-24-3.1l-32-7.3l-16-4.8l-8-4.1l-12-11.4l-8-5.4l-28-10.6l-24-13.1l-16-4l-12-4.2l-8 0l-8 4l-17.8 21l-6.2 5l-20 6.4l-12-.3l-4-2l-8-8.1l-5.3-9l-1.8-8l.9-8l3-8l3.2-4.9l8-7.7l5-7.4l2.3-8l-1.2-8l-6.1-10.2l-8-7.8l-20-8.6l-20-13.4l-3.3-4l-1.8-4l-.4-4l2.2-12l-.4-4l-2-4l-4-4l-6.3-3.2l-8-1.1l-12 .9l-12-.5l-12 1.5l-16-1.9l-12 1.3l-24-6.6l-19.7-14.4l-1.6-4l.3-8l-3.1-8l-29.8-32l-10.1-6.3l-16-4.7l-16-6.2l-20-11.1l-28-12l-20-3.7l-8-.2l-12 3l-10.3 5.2l-9.7 7.2l-3 4.8l-2.4 12l-.9 12l-1.7 5.2l-3.2 2.8l-4.8 1.6l-12 1.7l-8-2.2l-4-2.7l-12-13.5l-6.7-4.9l-33.3-17.9l-8-1.8l-36-2.2l-24-8l-36-8.8l-12-4l-16-8.7l-8-3l0-81.6z" fill="#b1e2ab"/>
<path d="M208.5 1230.5l309.5 0l4.2 4l26.3 12.9l20 12.4l8 1.6l24 1.1l8 2.4l8 5.2l6.6 8.4l2.8 8l1.3 24l1.3 8.1l4 7.7l4 4.4l4 2.2l4-.2l4-5.2l5.7-17l2.3-12l1.3-20l-2.3-16l-2.4-32l455.4 0l0 416.3l-16-8.2l-8-2.6l-8-.9l-20 .8l-20-2.3l-8-2l-12-4.6l-32-8.1l-6.6-4.4l-12.4-12l-13-8l-8-3.1l-20-5.3l-16-8.7l-19.8-6.9l-8.2-5.4l-4-1.5l-16-.9l-8 2.2l-5 5.6l-9.6 20l-5.4 4.9l-8 3l-8 1.6l-8-.7l-4-1.6l-4-2.5l-4-4.1l-2.2-4.6l-.7-4l1-8l4.4-8l13.5-12l2.6-4l7.3-12l1.1-4l-.6-4l-4.4-8l-3.8-4l-14.6-12l-7.6-4.5l-16-6l-4-2.8l-11-10.7l-3.4-4l-1.6-3.9l-2.5-12.1l-2.1-4l-7.4-6.7l-4-2.2l-8-2.3l-28-2.6l-16-.4l-20-3.6l-9.5-6.2l-10.5-5l-2.7-3l-5.3-10.3l-12-5.2l-24-29.6l-8-6.3l-18.8-8.6l-17.2-4.2l-12-4.6l-28-14.5l-24-9.4l-16-2.2l-12-.1l-12 2.3l-12.7 4.7l-7.9 4l-5.4 4l-3.3 4l-10.7 20.2l-4 4.7l-4 1l-8-3.1l-16.6-10.8l-39.4-18.8l-20-2.8l-24-1.3l-24-8.7l-33.8-8.4l-18.2-7.9l-16-9.5l-4-1.4l0-73.2z" fill="#a8dfa8"/>
<path d="M208.5 1230.5l303.8 0l3.1 4l5.1 3.2l24 10.5l23.9 14.3l32.1 3.6l8 3.1l7.1 5.3l3.3 4l3.7 8l1.3 8l.6 21.3l4 17.4l4 9l4 4.7l4 2.1l4 .1l4-1.4l4.1-5.2l6.4-40l2.1-24l-3.6-48l451 0l0 408.8l-20-7.7l-8-1.8l-24 .2l-20-2.1l-20-7.7l-24.1-5.7l-7.8-4l-8.1-8.2l-24-16l-8-2.7l-20-3.9l-16-8.4l-12.7-4.8l-15.3-10.8l-16-5.2l-16-9.5l-4-4.3l-7.2-14.2l-16.8-15.6l-40-17.7l-16-14.4l-8.1-16.3l-8.6-8l-11.3-5.1l-18.6-2.9l-16.9-4l-24.5-8.2l-20-11.9l-8-13.1l-4-4.3l-8-1.9l-4-2.6l-4.1-10l-3.9-5.7l-8-3l-13.3-7.3l-10.2-4l-36.5-10.5l-46.5-21.5l-11.5-4l-10-1.7l-16-.4l-15.5 2.1l-14.3 4l-9.8 4l-6.6 4l-9.8 8.6l-4 2.2l-8 3.8l-8 1.8l-8-1.9l-12-4.5l-28-12.5l-28-5l-20-.8l-20-7.9l-30.6-7.8l-13.4-6.7l-12-4.4l-12-9.1l-8-4.1l0-63.7zM808.5 1570.2l4-1.7l8-1.2l4 1l2.7 2.2l2.3 4l.5 4l-.8 4l-2.3 4l-5.2 4l-5.2 1.6l-8-1.1l-4-2.8l-2.9-5.7l.3-4l2.6-5.1z" fill="#a0dca6"/>
<path d="M208.5 1230.5l297.5 0l3.2 4l5.3 4l30 12.6l20 12.4l8 2.4l20 1.7l8 1.7l8 3.7l6.5 5.5l4.5 8l2.1 12l.9 32l-1.9 16l.3 12l-1.9 4l-2.5 1.5l-4 .7l-32-6.4l-20-5.8l-24-9.9l-24-11.2l-16-4.9l-8-1l-24 .9l-22.2 4.1l-12.1 4l-17.7 9.1l-12 4.1l-8 1.5l-12-2.3l-24-9.7l-8-2.3l-28-5.1l-16-.6l-4-.9l-12-5.1l-36-11.6l-12-8.8l-4-2l-8.6-2.3l-11.4-10.6l-12-3.3l0-54.1zM664.5 1230.5l444 0l0 401.7l-28-7.5l-36-1.5l-8-1.2l-20-8.5l-20-4.7l-5-2.3l-11-9.4l-24-16.2l-8-3.1l-20-3.6l-25.9-11.7l-27.9-20l-8.3-8l-9.9-6.1l-11-13.9l-21-14.9l-28-9.9l-12-6l-16-12.8l-7.9-12.4l-8.1-8.1l-12-6.2l-23.3-5.7l-12.7-4.8l-24-14.2l-12.9-9l-4-4l-1.8-4l-1.6-12l-7.3-12l-1.7-4l-.1-4l7.3-8l2.4-8l-.6-32l3.7-48l-2.4-44z" fill="#98daa5"/>
<path d="M208.5 1230.5l289.9 0l3.5 4l10.6 7.3l28 10.1l24 14.1l8 2.1l24 2.9l8 3l6.4 4.5l5.6 8l2.7 12l-.3 24l-1.3 12l-5.1 13.4l-4 5.1l-4 1.8l-12 .6l-12-1.5l-12-3.4l-36-13.8l-16-7.8l-24-6.2l-16-.2l-36 4.2l-12 3.5l-16 6.2l-16 3.8l-8 .8l-32-9.6l-36-7l-16-1.5l-26.1-8.4l-17.9-8.5l-4.5-3.5l-9.2-12l-10.3-10l-8-9.9l-4-1.4l-4 .6l-8 3.5l-8 1.5l0-44.3zM668.5 1230.5l440 0l0 396.1l-32-7.4l-32-2.1l-8-1.5l-20-9l-20-6.6l-40-26.1l-8-2.7l-20-3.9l-24-11l-17.4-13.8l-10.6-12l-23.7-20l-28.3-17.8l-24-7.9l-12-5.4l-13.1-8.9l-13.9-16l-9-7.2l-12-5.6l-20-5.8l-11.8-5.4l-27.2-20l-6.5-8l-3.3-8l-1.4-12l-1.1-24l-5.1-36l.1-20l2.3-28l-1.4-44z" fill="#91d6a4"/>
<path d="M236.5 1232.3l1.2-1.8l252.6 0l8.7 8l9.5 5.7l28 8.5l28 15.8l32 5.1l10.2 4.9l4.2 4l2.6 4l3.3 12l.3 12l-2.3 20l-3 8l-3.3 5.1l-4 3.4l-8 2.8l-8 .5l-8-.8l-8-2.1l-40-14.7l-16-7.5l-24-5.6l-12-.3l-40 3l-8 1.6l-20 6.6l-24 3.4l-24-6.9l-60-11.2l-18.3-5.3l-5.7-2.7l-13.2-9.3l-6.8-7l-13.4-21l-3.4-12l-2-4l-8.2-8l-1.3-4l.5-4zM668.5 1230.5l440 0l0 390.9l-36-7.5l-32-4.3l-32-13.5l-17.6-9.6l-10.4-7.3l-20-11.2l-12-3.7l-16-2.4l-8-2.9l-20-10.2l-8-6l-4.5-4.3l-11.5-15.5l-9.7-8.5l-10.3-7.3l-36-19.8l-20-6.5l-16-7.1l-10.8-7.3l-11.8-12l-9.8-8l-11.6-5.7l-24-8.6l-8-4.3l-7.1-5.4l-17.2-16l-5.7-8l-3-8l-1.5-16l-11.3-60l0-16l2.3-28zM208.5 1244.6l8.2 1.9l2.7 4l-1.8 4l-4.9 4l-8.2 2.5l0-15.9z" fill="#89d4a4"/>
<path d="M264.5 1230.5l210.2 0l13.8 6.4l16 9.9l8 2.9l16 2.9l8 2.7l24 14.1l8 2.4l24 3.2l8 2.6l4 2.5l6 6.4l4.1 12l.4 12l-2.5 16.5l-2.8 7.5l-5.2 6.4l-8 3.7l-12 1.2l-8-1.2l-8-2.5l-32-11.6l-20-8.9l-20-4.6l-12-1l-20 1.9l-24 0l-12 1.8l-16 4.8l-24 2.1l-20-5.2l-23.6-2.9l-48.4-12.6l-8-2.9l-6.3-4.5l-13.7-12.1l-5.6-7.9l-1.4-8l5-16l1.1-8l-.6-4l-5.2-12zM672.5 1230.5l436 0l0 385.7l-56-10.6l-28-8.2l-12-6.3l-27.6-20.6l-8.2-4l-20.2-7.2l-28-4.9l-28-16l-4.2-3.9l-7.8-12l-8-9.8l-12-9.1l-40-19.1l-24-8.2l-16-7.5l-8-5.2l-14.6-13.1l-9.4-6.7l-31.9-13.3l-7.1-4l-9-7.1l-12-12.9l-9.3-16l-17.1-72l-1.3-16l2.3-32l.5-40z" fill="#82d0a4"/>
<path d="M296.5 1230.5l168.3 0l4 4l3.7 2.1l12 4.4l19.3 9.5l8.7 2.3l16 2.2l8 2.8l24 14.2l8 2.1l24 3.1l8 3.2l6.9 6.1l2.4 4l2.6 8l.5 12l-3.2 16l-4.4 8l-4.8 3.8l-8 2.6l-12 .7l-8-1.7l-16-6.5l-20-6.5l-20-8.8l-8-2.3l-16-2.5l-12-.6l-16 2l-20-1.3l-12 .3l-8 .9l-16 4l-12 .4l-24-3.6l-20-1.5l-8-1.8l-16-6.6l-32-10.8l-5.6-4.2l-2.3-4l-2.6-8l-5.5-8.4l-1-3.6l.2-8l2.5-8l10.3-11.9l3.1-8.1zM676.5 1230.5l432 0l0 380.8l-48-9.4l-20-7.3l-16-3.4l-12-7.5l-16-14.2l-12-7l-20-7.7l-32-5.8l-8-3.2l-12.9-7.3l-7.1-5.2l-4-4.4l-15.4-22.4l-4.6-4l-15.9-8l-60.1-22.6l-16-7.5l-28-21.2l-8-4.2l-24-10l-14.7-10.5l-11.2-12l-11.1-20l-7.1-24l-12.2-48l-1.2-16l2.1-28l.4-24l1-16z" fill="#7acea4"/>
<path d="M304.5 1230.5l152.4 0l3 4l8.6 5.7l28 11.4l12 3.5l20 2.2l11.9 5.2l20.1 12.2l8 1.7l20 2.3l10.9 3.8l4.8 4l2.8 4l3.2 8l.6 12l-2.3 11.2l-4 8.5l-4 3.6l-8 3.2l-12 1.1l-8-1.7l-16-6.6l-20-6.5l-20-8.7l-8-2.2l-16-2.6l-12-.9l-12 1.8l-8 .1l-16-2l-20-1.1l-16 3.5l-8 .7l-20-4.7l-16 .9l-13.5-1.6l-34.5-15.8l-5.2-4.2l-5.9-8l-6.6-12l-2.9-8l1.4-8l5.1-12zM680.5 1230.5l428 0l0 376.2l-28-5.2l-16-4l-24-9.8l-16-3.7l-8.1-5.5l-11.9-12l-13.8-8l-26.2-10.3l-32-6.3l-8-2.8l-8.2-4.6l-4.8-4l-3.2-4l-8.7-16l-6.9-8l-5.2-4l-19-8.4l-48-16.1l-28-11.6l-8-4.4l-24-17.7l-28-12.3l-12.7-9.5l-14.6-16l-9-16l-9.2-28l-13-48l-.9-12l2.7-52l1.5-16z" fill="#73caa3"/>
<path d="M324.5 1230.5l124.9 0l2.3 4l4.8 4.4l8 5l12 5.5l24 7.1l28 3.1l8 3.4l16 10.5l8 4l28 3.4l8 2.6l4.3 3l3.4 4l3.8 8l1 8l-2 12l-2.5 6.1l-5.4 5.9l-6.6 2.9l-12 1.3l-8-1.7l-16-6.9l-20-6.5l-20-8.5l-28-5.7l-8-.7l-20 1.4l-40-6.7l-20 3.7l-20-4.7l-16 2.1l-8-1.3l-27-12.7l-5-3.6l-4-4.4l-6.2-12l-2.8-8l.3-4l6.7-16zM680.5 1230.5l428 0l0 371.9l-24-4.5l-20-5.8l-20-9.5l-16-4.5l-4-2.2l-12-13.2l-4-2.6l-32-15.1l-12-3.7l-32-7.2l-8-2.9l-5.6-4.7l-6.9-16l-2.7-4l-9.6-8l-15.2-7.4l-20-7.6l-36-10.2l-36-14.6l-8-4.3l-22.1-15.9l-25.9-11.4l-8-5.5l-18-19.1l-10.1-16l-10.1-28l-13.8-48l-1.2-8l.1-16l2.2-36z" fill="#6dc7a3"/>
<path d="M348.5 1230.5l90.9 0l2.5 4l10.6 9.4l8 4.9l12 5.1l24 5.5l24 1l8 1.4l9.3 4.7l18.7 12.6l8 2.1l24 2l8 3.1l4.7 4.2l4.5 8l1.3 8l-2.5 12l-4 6.7l-4 3.1l-8 2.8l-8 .4l-8-2l-20-9l-16-4.8l-20-7.9l-32-7.2l-24-.3l-12-1.7l-12-3.1l-12-5.2l-4-.9l-8 .5l-16 4.1l-16-3.1l-12 1.6l-8-.6l-8-4.5l-16-12l-3.7-4.9l-.5-4l2.6-20l2.1-4l7.6-8l2.2-4zM684.5 1230.5l424 0l0 367.7l-20-3.8l-20-6.3l-24-11.8l-12-4.5l-4-2.6l-8.9-10.7l-6.1-4l-34.5-16l-26.5-6.9l-20-8.5l-16.2-20.6l-12.7-8l-19.1-8.3l-20-6.9l-20-4.5l-16-4.8l-36-14.8l-8-4.2l-20-14.2l-23.5-10.3l-8.5-5.8l-6.5-6.2l-13.7-16l-9.9-16l-14.5-40l-9.8-36l-1-20l2.1-32l3.3-24z" fill="#69c3a3"/>
<path d="M360.5 1231.7l.7-1.2l62.3 0l5.2 8l19.8 15.3l4 2.2l24 6.1l16 1.2l28-1l8 1.8l4.8 2.4l19.2 14.2l4 1.9l8 1.7l20 .6l8 2l4 2.4l4.8 5.2l3.2 7.8l.4 4.2l-1.4 8l-3 6.2l-4 3.9l-8 3.3l-8 .3l-8-2.5l-20-10.1l-12-2.9l-24-8.2l-36-9.4l-24-1.8l-8-1.9l-4-1.8l-12-10.2l-4-1.8l-4-.1l-28 5.9l-16-.5l-16 1.3l-4.3-1.7l-7.6-8l-4.1-6.5l-1.4-5.5l.1-8l1.3-5.3zM684.5 1234.1l.5-3.6l423.5 0l0 363.2l-20-4l-28-11.2l-24-13.6l-10.4-10.4l-5.6-3.8l-16-6.3l-20-10.2l-24-7.7l-20-10.7l-8-6.1l-10.3-11.2l-6.6-4l-31.1-12.7l-20-6.2l-16-3l-20-5.8l-36-15l-8-4.2l-20-13.8l-20-8.8l-9.6-6.5l-18.4-20.9l-8-11.1l-10.7-24l-9.9-28l-3.5-16l-4.9-16l-.8-8l.2-16l2.1-24z" fill="#65bfa3"/>
<path d="M384.5 1230.5l11.5 0l4.5 4.3l8 2.6l4 3.3l1 5.8l-7.4 16l-1.6 1.4l-5.1 2.6l-10.9 2.6l-12 0l-6.5-2.6l-3.7-4l-2.6-4l-1.1-4l.8-4l5.1-6.7l8.9-5.3zM688.5 1230.5l420 0l0 358.5l-20-4.5l-32-14.8l-10.6-7.2l-14.4-12l-6.4-4l-16.6-6.1l-20-10.2l-24-8.8l-14.4-10.9l-13.6-6.8l-10.4-9.2l-5.6-3.3l-20-6.7l-16-6.6l-20-5.7l-16-2.8l-20-5.9l-40-17l-20-13.5l-22.3-10.5l-6-4l-11.4-12l-13.2-16l-5.3-8l-11.2-24l-9-24l-4.5-20l-4-12l-1.4-16l2.5-32l4.6-24zM504.5 1265.8l16-1.5l8 2.1l6.1 4.1l13.9 12l8 4.6l8 .9l16-1l8 1.1l4 1.5l5.8 4.9l4 8l0 8l-1.8 5.1l-4 5.2l-4 2.5l-8 1.8l-4-.5l-5.8-2.1l-18.2-11.7l-20-4.3l-41.6-12l-15.6-8l-2.8-3l-2.4-1l-1.6-2.6l-7.3 2.6l-4.7-.7l-3.7-3.3l.6-4l3.1-1.3l6.4 1.3l5.6 3l10.5-7z" fill="#60bba3"/>
<path d="M692.5 1230.5l416 0l0 353.6l-12-2.1l-8-2.8l-14.8-8.7l-17.2-8l-14.8-12l-13.1-8l-16.1-5.5l-20-10l-21.8-8.5l-6-4l-8.7-8l-15.5-7.4l-16-10.7l-39.3-13.9l-20.7-5.5l-16-2.7l-20-6l-36-15.2l-24-15.5l-16-7.6l-8-4.9l-8-7.8l-19.2-22.8l-4.8-7l-10.7-21l-9.6-24l-4.5-20l-5-16l-1.1-16l1.1-16l2.4-16l4.6-20zM516.5 1266.4l8 .9l5.8 3.2l8 8l10.2 12.7l4 3.8l4 2.3l4.2-2.8l15.8-4.5l8-.1l8 2.7l4 3.5l3.5 6.4l.5 4.1l-2.4 7.9l-5.6 5.3l-8 1.7l-4-.8l-4.4-2.2l-4.8-4l-14.8-15.4l-4-.4l-12 1.7l-16-1.1l-12-2.8l-14.7-6l-5-4l-2.4-4l.1-4l3.1-4l6.9-4z" fill="#5cb7a3"/>
<path d="M692.5 1230.5l416 0l0 348.9l-12-2.4l-6.4-2.5l-13.6-8.8l-16-7.8l-15.3-11.4l-8.7-5.3l-24-8.9l-38-17.8l-6-3.8l-12-10.2l-16-7.2l-16-9l-40-13.2l-16-4.4l-20-3.7l-20-6l-34.2-14.5l-25.8-16.5l-15.4-7.5l-5.7-4l-30.9-35.5l-12-20.4l-10.3-24.1l-4.7-20l-5.1-16l-1.5-16l.7-12l2.3-16zM512.5 1269.7l8-.8l4 1.1l4 3l4.4 5.5l1.9 4l1 4l-.8 4l-6.5 3.8l-8 .3l-12-3.8l-6.5-4.3l-2.5-4l.2-4l2.9-4zM576.5 1293.7l8-.8l4 .8l6.6 4.8l2.2 4l.6 4l-1.4 5.2l-4 4.3l-4 1.6l-4 0l-4-1.4l-6.4-5.7l-4.5-8l.4-4l4.4-4z" fill="#58b3a3"/>
<path d="M696.5 1230.5l412 0l0 344.3l-16-4.6l-12-7.9l-16-8.3l-28-17.6l-24-8.4l-34.4-17.5l-17.6-12.6l-12-6.7l-20-9l-16-5.7l-44-13l-16-2.8l-22.1-6.2l-33.9-14.5l-24-15.5l-20-11.2l-32-35.3l-8-10.7l-8-13.8l-8.3-19l-10.1-36l-1.9-16l.6-12l2.7-16l7.1-24zM512.5 1273.4l4-1.4l4 .1l4.6 2.4l2.5 4l.8 4l-1.3 4l-2.6 2l-4 .9l-4-.5l-5.6-2.4l-3.7-4l-.2-4l3.3-4zM580.5 1297.1l4-.7l4 .9l4 2.9l1.5 2.3l.7 4l-2.2 4.8l-4 2.1l-4-.3l-4.3-2.6l-2.9-4l-1.2-4l1.7-4z" fill="#55afa3"/>
<path d="M696.5 1233l.7-2.5l411.3 0l0 339.3l-8-1.9l-8-3.4l-56-32.4l-20-6.5l-12-5.4l-56-33.7l-36-13.5l-44-12.5l-24-5l-12-3.5l-32-13.5l-44.8-28l-43.2-48.1l-8-13.7l-7.6-18.2l-10.1-36l-1.3-16l3-21.6zM588.5 1304.6l0 2.2l-2.1-.3z" fill="#54aba2"/>
<path d="M700.5 1230.5l408 0l0 333.7l-8-1.9l-8-3.3l-56-30.9l-20-6.2l-8-3.5l-60-36.1l-33.1-11.8l-46.9-13l-24-5.2l-12-3.7l-32.6-14.1l-42.3-28l-21.1-25.1l-16-14.4l-8-8.8l-8.7-15.7l-6.3-16l-9.1-32l-1.7-16l1.1-12l2.9-12l9.1-24z" fill="#52a7a2"/>
<path d="M704.5 1230.5l404 0l0 328.1l-12-3l-60-31l-24-7.9l-16-9.4l-18.8-12.8l-29-16l-32.2-10.8l-52-14.3l-28.6-6.9l-35.4-15.4l-12-7.4l-24.1-17.2l-8.3-8l-16-20l-19.6-15.9l-7.7-8.1l-8.3-15.4l-5.2-12.6l-9.4-32l-1.8-12l0-8l1-8l3.4-12.6l10.2-23.4z" fill="#50a3a1"/>
<path d="M704.5 1233.5l1.2-3l402.8 0l0 323.2l-12-3.1l-60-29.3l-21.2-6.8l-13.7-8l-21.1-14.8l-32-16.9l-24.9-8.3l-43.1-10.9l-20-6.4l-20-4.5l-16-6.3l-28-13.4l-28-20.4l-6.5-6.1l-21.5-26.4l-16-10.5l-8-6.4l-8-12.8l-8-17.6l-9.1-30.3l-2-12l-.2-8l3.3-16z" fill="#4e9fa1"/>
<path d="M708.5 1231.3l.4-.8l399.6 0l0 318.8l-12-3.4l-59.1-27.4l-20.9-6.9l-14.8-9.1l-21.2-15l-28-14.7l-24-8.1l-48-12l-20-6.7l-16-3.5l-20-7.6l-25.6-12.4l-26.7-20l-7.6-8l-20.1-25.5l-4-3l-16-8.2l-8-6.6l-8-13.7l-8-17.5l-8.6-29.5l-1.5-16l2.1-11.5l3.2-8.5z" fill="#4d9ba0"/>
<path d="M712.5 1230.5l396 0l0 314.4l-12-3.5l-56-24.7l-20-6.6l-12.7-7.6l-23.3-16.7l-32-16.7l-24-7.7l-48-11.6l-16-5.9l-20-5.1l-16-5.8l-28-13.8l-21.5-16.7l-8.3-8l-22.2-28.9l-4-3.1l-20-8.5l-4.7-3.5l-3.4-4l-7.9-13.7l-6.8-14.3l-9.2-32l-.9-8l.5-8l4.4-14.1z" fill="#4b97a0"/>
<path d="M716.5 1230.9l392-.4l0 310.1l-8-1.9l-60-25.2l-20-6.9l-36-24.8l-32-16.4l-20-6.2l-52-12.5l-20-7.6l-17-4.6l-15-5.3l-28-14.8l-22.6-19.9l-25.4-32.4l-8-5.2l-16-5l-8-5.3l-16-25.8l-4-10.9l-6.5-23.4l-1.1-8l.4-8l3.2-10.4l4-7.5z" fill="#4a93a0"/>
<path d="M720.5 1232l1.3-1.5l386.7 0l0 305.7l-8-1.8l-56-22.5l-20-7.2l-44-29.4l-24-12l-20-6.5l-24-5.1l-34.1-9.2l-17.9-7.4l-28-8.6l-29.6-16l-19.8-20l-14.6-20l-16-15.5l-8-3.7l-16-4.1l-4-2.5l-12-14.7l-8-13.7l-9.1-29.8l-1.2-8l.4-8l1.9-6.6l4-8l8-10.8z" fill="#498f9f"/>
<path d="M724.5 1233.6l2.8-3.1l381.2 0l0 301.1l-12-2.8l-68.4-26.3l-7.6-4.3l-40-27.2l-24-11.6l-20-6.1l-24-4.7l-32-9.3l-24-10.1l-24-7.7l-26.6-15l-11-12l-25.1-32l-17.3-15.2l-4-1.8l-16-2.8l-8-4.5l-12-12.9l-6.6-10.8l-9.4-29.6l-1-6.4l.5-8l2.8-8l5.7-9.2l8-9.2z" fill="#478a9f"/>
<path d="M732.5 1231.4l.9-.9l375.1 0l0 296.2l-8-1l-12-3.4l-56-21.8l-24-14.6l-28-19.3l-20-9.6l-20-6.3l-28-5.2l-32-10.6l-24-10.9l-24-8l-22.2-13.5l-13.8-15.7l-18.6-24.3l-12.2-12l-9.2-12.3l-4-2.8l-4-.6l-12 .8l-8-1.8l-8-4.8l-4-3.8l-8.2-10.7l-3.8-8.9l-6-19.1l-1.6-8l.5-8l3.1-8l8-10.8l8-7.8l13.1-9.4z" fill="#46869e"/>
<path d="M740.5 1230.5l368 0l0 291.2l-12-1.2l-8-2l-51.8-20l-28.2-16.8l-27.4-19.2l-20.6-9.5l-20-5.8l-24-4l-14.6-4.7l-25.4-10.4l-16-8.2l-24-7.8l-15.9-9.6l-20.1-20l-11.4-16l-16.3-20l-8.9-16l-11.4-13.1l-4-1.7l-4 .7l-3 2.1l-5 5.9l-4 2.1l-4 .1l-4-1.2l-8-5.5l-8-10.1l-9.4-27.3l-.7-8l2-8l4.1-6.8l8-8.8l8-6.5l16-9.9z" fill="#45829e"/>
<path d="M744.5 1234.5l2.2-4l361.8 0l0 286.3l-12-.6l-8-1.7l-48-18.1l-30.2-17.9l-25.8-18.7l-20-9.3l-20-6l-20-3l-11.8-3l-16.2-6.6l-32-16.6l-16-3.9l-8-3.3l-12-7.6l-12-13l-12-9.8l-19.4-27.2l-14-24l-13.8-16l-4.8-2.1l-8 .3l-4.9 1.8l-11.1 7l-4 .5l-4-1.1l-4-2.5l-4-3.8l-2.5-4.1l-5.5-12.5l-4.4-15.5l.6-8l4.2-8l11.6-11.6l8-5.3l14.7-7.1z" fill="#447d9e"/>
<path d="M756.5 1230.5l352 0l0 281.7l-12-.5l-12-2.4l-12-3.8l-28-11l-32-19.2l-20-15.8l-8-4.6l-28-11.3l-12-2.8l-20-3l-11-3.3l-17-7.8l-28-16.2l-20-4.9l-5.4-3.1l-4.6-4l-13.1-16l-12.7-8l-4.2-3.9l-15.6-24.1l-9.9-20l-22.5-22.7l-4-1.8l-8 .3l-24 9.1l-4-.4l-4-2.1l-4-4.1l-4-7l-5.7-15.3l-.9-8l2.6-7.7l8-9.1l8-5.9l8-3.9l17.1-5.4l4.6-4l3.6-8z" fill="#42779c"/>
<path d="M764.5 1230.5l344 0l0 277.5l-16-1.3l-12-2.3l-32-12.3l-11.1-5.6l-19.1-12l-21.8-18.3l-8-4.9l-28-10.6l-32-6.2l-12-3.6l-24.6-12.4l-19.4-13l-20-7l-3.6-4l-4.4-8.9l-5.1-7.1l-6.9-5.1l-12.6-6.9l-9.1-8l-7.3-12l-6.2-16l-4.8-8.1l-24-22.8l-8-5l-4-1.2l-4 .5l-20 9.4l-8 2.5l-4-.4l-4-2.2l-4-4.3l-4-7.1l-4-10.9l-.5-6.4l1.2-4l2.5-4l8.8-8.3l8-4.3l8-1.9l12-.3l8-3.2l5.6-6l3.4-12z" fill="#42729c"/>
<path d="M772.5 1230.5l336 0l0 273.4l-24-2.4l-12-3.2l-28-12.4l-12.9-7.4l-16.2-12l-14.9-13.8l-8-5.3l-28-9.8l-44-10.1l-25.2-13l-14.8-11.9l-20-12.8l-6.6-7.3l-9.4-15.9l-4-3.3l-8.8-4.8l-15.2-12.4l-4-6l-6.4-13.6l-19.6-24l-6-10.3l-4-4l-16-7.2l-4 .2l-8 4.9l-10 8.4l-7.2 4l-6.8 1.8l-4-.6l-4-2.3l-4-4.6l-4.9-10.3l-.7-8l1.6-4.3l8-7.9l8-3.8l8-.6l12 2.3l4 0l8-2.8l4-3.4l5.2-7.5l3.7-16z" fill="#406c9a"/>
<path d="M780.5 1230.5l328 0l0 269.3l-28-2.9l-8-2.5l-28-13.5l-11-6.4l-9.9-8l-19.1-18l-12-7.2l-12-4.9l-40-8.4l-20-5.9l-8-3.7l-16-10.8l-22-21.1l-5.7-8l-.6-4l1.7-8l-.3-8l-3-8l-2.8-4l-7.3-5.1l-20-2.7l-8-3l-4-2.8l-8.2-10.4l-11.6-12l-12.2-18.6l-8-15.4l-11.2-10l-.5-4l3.6-12l.5-12l2.7-8zM720.5 1264.9l4-1.4l8 .7l5.2 2.3l4.7 4l1.4 4l-.6 4l-4.8 8l-3.8 4l-6.1 3.5l-4 .7l-4-.8l-4-2.6l-3.6-4.8l-1.8-4l-.8-4l.5-4l1.7-3.3z" fill="#3f669a"/>
<path d="M792.5 1230.5l316 0l0 265.1l-32-4.1l-20-11.1l-12-5.4l-11.6-8.5l-13.5-16l-14.9-10.8l-12-6l-8.9-3.2l-23.1-3.2l-16-3.9l-24-8.4l-7.8-4.5l-12.2-13.9l-8-7.1l-4.6-7l-2.7-24l-3.2-12l-3.7-8l-5.8-4.1l-27.5-7.9l-4.4-4l-1.3-4l-.5-8l-1.6-4l-8.7-12l-5.1-4l-18.9-8.8l-3.4-3.2l-13.6-36l0-4l2.3-8zM724.5 1270l4 .2l4 3l1.6 5.3l-1.1 4l-3.4 4l-5.1 1.8l-4.9-1.8l-3.2-4l-.6-4l1.5-4l3.2-2.9z" fill="#3e6198"/>
<path d="M804.5 1230.5l304 0l0 260.4l-12-2.5l-12-.4l-8-1.8l-6.3-3.7l-9.7-7.9l-15.6-8.1l-6.9-8l-5.5-15.5l-2.5-4.5l-4.4-4l-17.1-10.5l-4-1l-32-.7l-12-1.8l-20-7.1l-17-10.9l-7-7.6l-5.5-8.4l-1.3-4l-.9-16l-8.3-15.7l-5-20.3l-2-4l-5-4.8l-13.5-7.2l-2.2-12l-3.3-4l-13-2.4l-4-1.9l-4.2-3.7l-10.2-12l-5.6-4.4l-4-1.9l-12-2.2l-6.2-3.5l-2.9-4l-1.5-4l-5.4-20l2-8z" fill="#3e5c97"/>
<path d="M824.5 1230.5l284 0l0 254.3l-12-2.6l-12-.9l-8-3l-6.4-7.8l-3.5-8l-.6-4l1.6-16l-1.1-4l-2-2.7l-12-1.6l-7.4-11.7l-4.6-3.3l-4-.9l-12 .2l-16-6.1l-12 .7l-12-.8l-16 .4l-20-5.6l-8.8-4.6l-5.8-8l-3.2-16l-6.2-8.7l-2.5-15.3l-1.5-4l-8-7.7l-4-5.6l-8-18.5l-24-29.4l-4-2.2l-8-2l-5.6-2.6l-3-4l-5.9-16l-5.5-8.1l-8-4.7l-12-1.4l-2.2-1.8l-1-4l.9-12z" fill="#3e5794"/>
<path d="M852.5 1230.5l256 0l0 245.1l-20-5.2l-4-2.3l-4-5.6l-.7-8l4.8-16l1.1-8l-.7-4l-2.1-4l-6.4-5.2l-14.8-6.8l-21.2-6.4l-16-1.3l-16-2.8l-12 .7l-12-5.1l-4 .1l-8 3.6l-8 1.3l-10.8-2.1l-5.2-3.4l-1.9-4.6l-1-16l-7-12l-3.6-12l-3.6-8l-6.1-8l-9.3-8l-2.3-4l-5.5-16l-2.2-4l-4-4l-13.5-9.5l-10.3-10.5l-6.3-12l-13-20l-5.7-12z" fill="#3f5291"/>
<path d="M864.5 1230.5l244 0l0 231l-4.7-3l-2.2-4l-.5-4l1.2-8l-5.8-16l-4.6-8l-7.4-7.1l-16-11l-12-5.3l-12-2.5l-12-4.8l-12 1.3l-8-.4l-12-2.4l-16-7.8l-4-.3l-12 1.9l-4-.7l-4-3.3l-8.7-17.6l-7.2-20l-19.6-20l-1.8-4l-2.7-12l-2.5-4l-25.5-22.1l-10-13.9l-10-11.8l-9.5-16.2l-1-4z" fill="#3f4d8e"/>
<path d="M876.5 1230.5l232 0l0 191.7l-4-2.6l-8-9.8l-8-6.9l-20-13.7l-20-9l-12-7.9l-4-1.3l-4 0l-12 3.4l-4-.3l-8.4-3.6l-9.4-8l-6.2-3.5l-12-.5l-4-1.1l-4-3.9l-13.1-23l-3.8-4l-11.2-8l-4-4l-5.9-16l-2.5-4l-12.6-12l-14.9-18.6l-16.4-13.4l-10.3-20z" fill="#40488b"/>
<path d="M892.5 1230.5l216 0l0 180.3l-3.7-4.3l-3.5-8l-2.8-4l-6-3.6l-12-4.9l-16-12.2l-8.9-11.3l-3.1-1.5l-8-1.5l-12-6.7l-4-1.2l-16 .5l-4-1.2l-12.6-8.4l-7.4-2.8l-8-1.3l-4-2.1l-14.9-17.8l-13.1-8l-3.3-4l-4.3-12l-24.4-25.7l-8-11.6l-12.2-10.7l-2.9-8z" fill="#404388"/>
<path d="M904.5 1230.5l204 0l0 147l-20-.9l-4-1.8l-10.7-8.3l-7.1-12l-2.2-2.1l-20-12.2l-23.2-9.7l-24.8-4.3l-19.8-15.7l-12.2-11.3l-10.4-12.7l-17.6-9.9l-12-11.5l-9.8-14.6l-10.5-12l-2.7-8z" fill="#3f3f83"/>
<path d="M912.5 1230.5l196 0l0 135.7l-16-.7l-7.2-3l-3.9-4l-5.1-8l-14.8-12l-9-9.5l-20-10.3l-4-1.4l-12-1.6l-16-8.1l-16.6-5.1l-7.4-6.5l-8-13.4l-8-9.1l-15.3-11l-8.7-7.9l-12-6.9l-12.5-13.2l-1.7-4z" fill="#3e3c7b"/>
<path d="M932.5 1230.5l176 0l0 125.1l-8-1.8l-8-3.3l-12-11.1l-8-5.5l-11-15.4l-5-4.4l-40-20.1l-16-.9l-8-2.7l-3.4-3.9l-4.6-8.3l-8-6.2l-9.8-9.5l-18.2-10.8l-13.5-13.2l-4-8z" fill="#3d3873"/>
<path d="M944.5 1230.5l164 0l0 113.8l-4.2-1.8l-7.9-8l-5.5-8l-3.3-8l-3.1-3.7l-12-5.4l-9.6-10.9l-2.4-1.3l-12-1.1l-8-3.4l-3-2.2l-8.6-12l-4.4-4l-4-1.1l-12 2.4l-4-.6l-8-3.8l-7.6-4.9l-9.6-8l-16.2-8l-18-16l-2.2-4z" fill="#3c346c"/>
<path d="M964.5 1230.5l144 0l0 96.4l-4.7-4.4l-3.9-12l-3-4l-24.4-19.1l-8-3.8l-12-.4l-4-1.3l-4-3.9l-11.9-15.5l-4.1-2.8l-4-1.4l-4 0l-12 3l-4-.9l-16-8.5l-13.7-5.4l-5.1-4l-2.9-4l-4-8z" fill="#3b3164"/>
<path d="M980.5 1230.5l24.9 0l-2.2 4l-3.7 4l-7 2.1l-7.8-2.1l-4.2-3.2l-2.7-4.8zM1016.5 1230.5l92 0l0 58.4l-12-2.3l-32-14.1l-12-3.1l-4-2.7l-9.6-12.2l-14.5-12l-6.5-8l-2-4z" fill="#3a2d5c"/>
<path d="M1044.5 1230.5l64 0l0 42.4l-16-5.7l-16-.7l-9.6-4l-6.4-4l-7.2-12l-7.3-8l-2.4-4l-1.3-4z" fill="#382a54"/>
<path d="M1064.5 1230.5l44 0l0 22.2l-18.7-2.2l-13.7-4l-3.6-1.9l-4-4.3l-6.5-9.8z" fill="#35274d"/>
<path d="M1096.5 1230.5l12 0l0 13.2l-4.4-1.2l-5.8-4l-3.1-4l-1.7-4z" fill="#322446"/>
<path d="M1108.5 1230.5l0 1.4l-1.5-1.4z" fill="#2f213e"/>
</g>
<path d="M395 1362l2.3 0l-1.3 .6zM433 1362.9l3.3 1.1l-3.3 1.9l-1.1-1.9l.4-1zM407 1365.8l.7 .2l-.7 1.1l-1.7-.1l.7-1zM384 1371.9l1.5 .1l-.5 .9l-1-.5zM424 1371.8l3 .8l1.3 1.4l-2.3 .4l-2.3-.4l-1.6-1zM413 1372.9l2.6 .1l-.6 1l-1 .3l-1.4-.3l-.2-1zM385 1373.3l1.6 .7l-1.6 .1zM467 1376.9l.7 .1l-1.1 1zM416 1378l1.2 0l-.2 .7zM429 1379l2.6 1l.2 1l-1.1 1l.8 2l-.2 1l-1.3 .6l-1 .1l-.7-.7l-.9-2l.3-3l.3-.7zM400 1380.7l1.9 .3l-.9 .6l-1-.2l-.4-.4zM390 1383.4l2.6 .6l-1.6 1.3l-1 0l-.5-1.3zM447 1383.8l4-.3l1.4 .5l-.4 .5l-3 2.1l-4-.4l-1 .5l-.6 2.3l-1.4 .4l-.6-.4l-.9-2zM380.8 1385l-.8 1.1l0-1.5zM404 1384.7l1.7 .3l-1.7 .1l-.6-.1zM430 1388.8l2-.3l1.4 .5l-.5 3l3.1 .6l.1 1.4l-2.1 .4l-2-2l-2-.5l-1-1.9zM421 1389.7l2.3 .3l-.3 1l-2.6-1zM425 1391.6l1.5 .4l-1.5 .1l-.4-.1zM446 1391.8l1-.3l1.1 .5l1.2 2l13 3l.7 1l-1 .5l-2-.3l-5 .7l-2 1.1l2.3 2l-.9 1l.6 .5l2-.2l1.9 1.7l-10.9 2l-3-1.7l-3 1.2l-2.3-.5l-1-1l5.3-.8l5 1l1.1-.2l.5-1l-1.6-1.3l-2.1-.7l-.6-1l4.7-1.4l1.1-1.6l-1.1-.8l-3.4-.2l-.6-2l-2.4-1l.2-1zM461 1392.8l2-.6l.8 .8l-1.1 1l-1.7 .3l-.6-.3zM414 1394.8l4 1.2l3-.4l.6 .4l-.6 1l-3-.9l-4 .7l-.8-.8l0-1zM431 1395.4l1.4 .6l-1.4 1.2l-.7-.2l-.2-1zM467 1396l4-.8l1.7 .8l-.7 1.2l-1 .1l-2-.6l-2.3 .3zM395 1396.7l2-.4l1.1 .7l-2.1 1.4l-1-.6zM441 1397.5l1.1 .5l-.1 .9l-1.2 .1l-.3-1zM463 1399.8l1-.4l2.9 .6l-1.9 .4zM431 1400.6l1-.1l1.5 1.5l-2.5 1.4l-3.3-.4l.3-1.3zM557 1400.9l2-.7l0 .9zM443 1401.8l1.4 .2l-1.4 .4l-.6-.4zM403 1402.8l2 0l.1 1.2l-2.1 .8l-.9-.8zM468 1402.6l2-.1l2.1 1.5l.3 1l-2.4 2.6l-1.3-.6l0-1l-1.5-2l.1-1zM390 1403.6l2-.3l1.9 .7l-.9 1.2l-2 .3l-1-.7l-.4-.8zM411 1403.4l2 .2l.9 1.4l-1.9 1.3l-1.8-.3l-.5-1zM381 1405.8l.7 .2l-1.7 .2l0-.4zM459 1405l2.2 1l-1.2 .9l-1-.4zM430 1407.9l3-.1l1.7 1.2l-3.7 1.7l-2 0l-.5-1.7zM459 1407.5l.9 .5l-.8 1l-1.6 0zM496 1410l1 1.1l-2.8-.1zM483 1410.7l3-.6l.3 .9l2.7 1l1 1l-5 .5l-1 .5l.6 1l-.6 .4l-3 .1l-1.4-1.5zM427 1412l1.4 0l-.4 .5zM440 1411.9l2-.4l.7 .5zM449 1414.8l1-.1l2 .9l2-1.3l1 .1l.4 1.6l-1.4 .8l-2-.7l-3 .5l-3 2.1l-1.4-.7l.4-.8l2-.7zM427 1415.4l2 .2l1.4 1.4l-1.4 .4l-1.7-.4l-1.1-1zM492 1417.5l1-.4l2.3 .9l-3.3 .3l-.5-.3zM473 1419.8l1.6 .2l-1.6 2.4l-3-.2l-3 1.7l-.8-.9l.8-1.1zM442 1420.7l1 .6l0 1.1l-1 .1l-.6-.5l-.2-1zM485 1422.9l2-.3l.3 .4l-1.3 .8zM500 1422.9l1 1.1l-1 .7l-2.2-.7zM461 1424.7l2.4 .3l-.5 1l-1.9 .5l-.4-.5zM487 1425.7l.6 .3l-.6 .3l-.5-.3zM467 1427.6l1-.2l.6 .6l-1.6 .9l-.4-.9zM493 1428.8l2.1 .2l1.1 1l-.1 1l-1.3 0l-1.8-1.6zM419 1431.7l-.5 1.3l-1.6 0zM430 1432l.2 1l-.8 0zM414 1433.5l2 0l.2 1.5l-1.2 .9l-1-.4l-.7-1.5zM445 1434l1.1 0l-.6 1l-1.8 0zM408 1437.9l2 .1l2 1.4l3.1 .6l-2.1 .9l-4-1.8zM479 1438.8l1.2 .2l-1.2 .2zM499 1440.9l2 0l1.2 1.1l-1.2 .5l-2-.2l-.7-.3zM541 1440.9l1 .3l0 1.9l-.5-.1zM520 1441.9l1.8 .1l.2 1.2l-3 .2l-1.5-.4zM526 1444.5l2 .2l.5 1.3l-2.5 1.4l-1-.3l-.6-1.1zM495 1447.8l1.6 .2l-1.6 .4l-.7-.4zM380.4 1460l.3 1l-.7 0l0-1.2zM268.5 1338.1h1.8v1.6h-1.8zM250.7 1342.5h1.8v1.6h-1.8zM256.8 1344.2h1.8v1.6h-1.8zM243.1 1295.7h1.8v1.6h-1.8zM257.3 1291.6h1.8v1.6h-1.8zM277.4 1293.4h1.8v1.6h-1.8zM275.0 1295.0h1.8v1.6h-1.8zM252.7 1350.5h1.8v1.6h-1.8zM274.5 1316.1h1.8v1.6h-1.8zM259.8 1300.6h1.8v1.6h-1.8zM261.6 1308.3h1.8v1.6h-1.8zM274.1 1343.7h1.8v1.6h-1.8zM281.5 1351.1h1.8v1.6h-1.8zM238.8 1312.8h1.8v1.6h-1.8zM280.0 1351.3h1.8v1.6h-1.8zM278.6 1349.1h1.8v1.6h-1.8zM247.3 1317.5h1.8v1.6h-1.8zM251.6 1348.8h1.8v1.6h-1.8zM240.0 1336.1h1.8v1.6h-1.8zM245.4 1314.5h1.8v1.6h-1.8zM276.4 1326.9h1.8v1.6h-1.8zM245.6 1322.2h1.8v1.6h-1.8z" fill="#eef4c4"/>
<defs><clipPath id="dotclipc"><path d="M230 1250H478V1700H230zM668 1250H1080V1700H668z"/></clipPath></defs>
<path d="M260.5 1230.5l232.2 0l2 4l3.9 4l9.9 5.7l24 9l28 14.2l32 7.7l12 6.2l7.1 9.2l2.8 8l1.2 12l-2.2 16l-4.9 10.3l-6 5.7l-6 2.8l-12 1.2l-16-3l-52-19.7l-24-5.9l-20-1l-28 1.8l-40 7.6l-12 .7l-40-6.8l-39.9-9.7l-16.1-5.2l-13.8-6.8l-10.1-8l-6.5-8l-5.7-12l-2.2-12l-.8-28zM672.5 1230.5l29.5 0l-9.8 32l-2 16l2.3 20l6.2 20l8.8 20l9 14.2l26.9 25.8l22.4 24l26.9 20l23.8 12.8l24 9.4l84 24l20 7l22.2 10.8l46.7 28l31.1 13.2l44 21l12 4.3l8 1.2l0 62.6l-52-8.8l-24-6.7l-20-8.4l-29.3-18.4l-14.7-7.6l-12-4.4l-24-6.4l-14-5.6l-18-11.8l-20-20.8l-14.9-11.4l-23.3-12l-49.8-21.1l-12-7.4l-24.5-19.5l-35.5-17.6l-15.4-10.4l-11.8-12l-9.5-16l-6-20l-7.4-36l-3.1-24l-.3-24l1.8-56z" fill="url(#dotc)" clip-path="url(#dotclipc)"/>
<path d="M1028.8 1369.6l-4.1-1.2l1.7-4zM1074.9 1290.1l5.7 4l-6 3.1zM1059.3 1335.9l1.4-6l4.2 5.2zM900.9 1421.5l3.7-1.5l-.7 4.4zM849.5 1427.2l-.5 2.8l-1.5-1.6zM453.3 1664.8l.3-.6l.4 .7zM1073.6 1496.9l-3.6-2.6l4.7-1.5zM1068.5 1491.3l.8-3.7l3.8 2.3zM1071 1484.8l3.2-2.5l.8 4.8zM1076.2 1476.1l-1.5-4.6l5.1 .7zM1071.9 1480l-3.2 2.4l-1.7-3.9zM1071.5 1472.3l1.4 4.5l-5.3-1.5zM1050.6 1385l2.7-4.3l2.8 3zM953.1 1456.4l-3 .4l1.1-2.2zM1047 1580.6l-.7 0l.3-.6zM955.8 1450.3l-.4 3.8l-2.1-2.1zM952 1445.9l2.6 1.3l-2.4 1.6zM1018.1 1502.6l-1.1-2.3l2.7-.1zM1014.2 1502l.9 2l-2.3-.2zM983.2 1496.5l-1 1.2l-.6-1.5zM731.5 1383.8l-.2 1l-.5-.5zM1065.7 1292.5l5.9-2.9l-.3 7.2zM1063.3 1344.3l-3.3-5.2l5.6-.8zM942.7 1474.1l-.9-1.6l2 .3zM947.1 1476.4l-1.6-.5l1-1.1zM933.7 1416l-3-2.7l4.1-2.7zM924.4 1414.9l-2 2.4l-2.3-2.3zM930.6 1417.6l-4.4 .3l1.9-2.4zM894.2 1420.8l-3.7 1.5l.5-3.4zM847.3 1433l-2 .9l.6-2.4zM829.8 1448.6l1-.3l-.5 1.1zM842.4 1466.7l.5 .6l-.8 .1zM834 1449.1l.6 .8l-1 .3zM861.3 1464.1l.2-1.1l.9 .6zM857.6 1478.6l.5 .6l-.6 .3zM353.1 1284.1l-.1 1l-.8-.6zM408 1681.7l.4 1l-.9-.1zM453.8 1668.8l-.3-.7l.7 .1zM323.5 1259.1l.5-1l.6 .9zM311.9 1263.7l-.4 .9l-.5-.7zM311 1259.6l.6 .8l-.9 .2zM236.4 1259.9l-1.5 0l.8-1.3zM241.9 1259.8l.7-1.2l.7 1.2zM1081.5 1498.7l-4.9-.5l1.2-4.3zM1065.6 1483.5l-4.2 .5l2.4-4.4zM1058 1483.2l-2.6-2.8l5.1-1.7zM1059.3 1489.2l3.4 3.3l-4.2 .6zM1065.3 1490.4l-3.3-3.2l4-.4zM1073.2 1523.1l-2.8 .4l.6-2.5zM1071.3 1526.7l2.8-.3l-1.1 2.5zM1066.6 1500l.8-3.5l3.3 2.4zM1064.2 1495.7l-.8 3.5l-3.3-3zM1041.6 1549.2l1-.1l-.4 .8zM1050.6 1520.1l-2.2 .2l.6-1.6zM1045.9 1550.1l.6 .8l-1.1 .1zM1070.4 1445.4l3.5 3.6l-5.4 .7zM1077 1447.4l-3.7-3.8l5.9-.9zM1074.3 1452.3l-2.7 4.3l-2.8-3.6zM1068.5 1402.9l6-2l-2 6zM1073.4 1397.8l-5.9 2l.9-5.3zM1030.2 1407.6l.6-4.8l3.5 2.6zM1034.9 1414l-3.8-3.1l4.4-2.4zM1029 1413.4l3.7 3.1l-5 1.5zM1032.2 1399.8l3.6-2.8l0 5.4zM1012.5 1442.8l4.5-1.4l-1 3.9zM1043.7 1431.3l1.6-4.7l3.7 3.8zM1044.6 1378.5l5.7 .8l-3.1 4.8zM1055.4 1378.2l4-3.6l-1.2 6.6zM942 1469.2l.9-.9l.8 1.2zM945.8 1445.5l2.9-.4l.1 3zM994.3 1688.8l.2-.9l.8 .7zM1017.1 1497l1.2-2.8l1.7 2.7zM1020.8 1492l3.3-.4l-1.5 3.3zM985.9 1498.4l1 1.9l-2.2-.5zM376.8 1291.7l.3-.9l.6 .8zM357.7 1278.5l-.9 .4l0-1.3zM371.2 1278.8l-.9-.9l1.3-.4zM589.7 1278.5l.4-.8l.4 .7zM729.2 1377l.8 1.1l-1.5-.2zM857.3 1385.2l2.7-2.9l1.3 3.4zM899.9 1418.4l.3-3.7l3.1 2.2zM896.9 1414.5l-.3 3.8l-3.4-1.9zM891.9 1409.6l3.5 2l-3.8 1.9zM934.1 1398.7l4.9 .5l-2 4.3zM929.5 1410.2l-.1-3.4l3.7 1zM929.9 1403.6l1.4-3.2l2.4 4.1zM1081.2 1280.7l-5.8 3.2l.9-8.4zM1076.5 1287.1l5.6-3.2l0 7.3zM1071.6 1345.4l-5.4 .6l2.2-5.9zM1076.9 1348.4l5.6 0l-2.9 5.8zM1063.3 1301.8l.6-6.5l5.5 4.2zM1060.6 1294.9l-.5 6.4l-5.5-3.6zM1077 1336.6l-2.9 6.5l-3.4-5.6zM1076.8 1345.1l2.9-6.6l3 6.6zM1061.5 1318.8l5.6 4.9l-5.6 .7zM1063 1327.5l5.8-.7l-1.5 5.9zM1071.9 1328.2l4.6 5.1l-6.2 1zM1078.6 1330.8l-4.7-5.2l5.8-2zM725.7 1374.6l.9 .4l-.5 .7zM712 1362.2l-.8 .7l0-.8zM712.4 1377.8l.2 .9l-1.1-.4zM729.7 1407.8l-.6-.6l1-.2zM728.7 1403.9l.2-.5l.5 .4zM978.9 1498.4l-1.8-.5l1.2-1.1zM934.9 1474l-.9-1l1.5-.4zM939.6 1475.2l-1.7 0l.7-1.5zM946.1 1480.8l-.6-1.4l1.5 .4zM875.5 1469.8l1.2 .2l-.6 .8zM883.1 1470.4l-.4-.6l.8-.1zM921.3 1487.9l-.4 .8l-.4-.6zM923.6 1490.6l.5-.9l.3 1.1zM935.9 1497.8l-.3-.9l.7 .2zM968.3 1511.5l1.1 .2l-.6 .6zM969.2 1508.3l-1-.3l.5-.5zM938.7 1500.7l-.8-.1l.5-.7zM912.5 1420.2l-2.7-2.4l3.8-1.5zM919.5 1419.1l-3.7 1.4l1.2-3.9zM916.2 1423.8l3.8-1.3l-1.3 3.9zM907.9 1420.6l2.6 2.3l-3.3 1.8zM910.8 1426.5l-.9 3.6l-2.1-1.9zM913.2 1430.4l1-3.9l2.4 2.5zM923.3 1422.9l2.2 2.4l-3.4 1.4zM928.9 1432.2l.7-3.7l2.8 1.5zM926.2 1428.6l-.7 3.8l-2.9-2.4zM931 1425.5l2.4-2.6l.4 4.1zM928.3 1423.5l-2.1-2.3l4.6-.3zM791.4 1562.6l.2-.7l.5 .4zM813.5 1422l1.9-.1l-1 1.7zM816.1 1418.5l-2.1 .2l1.3-2.3zM803.1 1424.2l.8 1.3l-1.8-.3zM810 1425.9l.9-1.8l.9 1.6zM807.9 1422.7l-.9 1.7l-.8-1.5zM864.9 1446.2l-1.1-1.1l1.4-.9zM849.6 1444.5l1.3 1.2l-1.6 .3zM847.6 1438.3l-1.5-1.2l1.8-.8zM871.9 1436.8l.9 2l-2.3 .2zM870.8 1430.5l-2.3-1.6l2.8-1.3zM867.5 1425.7l.7-2.9l2 1.7zM884.9 1411.3l3.7-1.7l-.3 3.9zM818.7 1422.6l1.3 1.3l-2.3 .6zM839.5 1428.9l.2-2.3l1.9 1.3zM842 1433.5l-1.5-1.4l2.1-1zM843.5 1455.6l.5 .6l-.8 .1zM837.9 1446.8l-.7 1.1l-.7-.9zM843.9 1449l-.2-1l.8 .4zM840.5 1448.9l.3 1.2l-.9-.3zM844.9 1444.8l1.4-.5l-.3 1.2zM845.6 1441l-2 .8l.4-2.1zM863.3 1460.2l.7-.5l.1 1zM851.4 1449l-.5 .9l-.7-.7zM847.4 1451l-.8-.1l.4-.4zM846.7 1454.2l1.2 .1l-.5 .7zM857 1463.4l1.2-.5l-.2 1.2zM323.1 1673.9l.6 0l-.2 .6zM238.2 1590.2l.6 .8l-1.2 0zM235.3 1663.1l-.5-.9l1 .2zM408.1 1685.9l-.3 .6l-.3-.6zM417.8 1689.5l-.7-.1l.4-.6zM414.4 1687.5l-.5-.8l.9 .2zM411.2 1688.6l-.7 0l.3-.7zM421.7 1688.3l-.5 .6l-.4-.8zM427.6 1689.5l.8 .1l-.5 .5zM427.8 1686.2l.4-.7l.4 .8zM462.8 1676.3l-.4-.8l.9 .2zM459.2 1676.5l.4 .6l-.7-.1zM457 1671l-.7-.1l.4-.6zM452.8 1676.1l.4-.6l.3 .7zM453.1 1680.1l-.3-.7l.7 .1zM331 1261.9l-.5 1.1l-.5-1zM308.4 1270l.7 0l-.3 .7zM303 1270.7l-.3 .7l-.5-.6zM308.9 1266.7l-.8 0l.3-.7zM305 1265.6l-.6-.7l1-.2zM312.1 1271.3l.6 .8l-.9 0zM318.8 1275.9l-.4-.8l.7 0zM318.1 1271.8l.3-.7l.4 .7zM315.6 1269.3l-.3 .8l-.5-.7zM318.3 1262.9l-.4 1l-.6-.9zM315.3 1266l-.8 .1l.3-.9zM307 1258.7l.9-.2l-.3 .9zM304.1 1261.6l.4-.8l.5 .6zM300.3 1260.2l.9-.2l-.4 .7zM317.5 1258.7l.6 .9l-1 .1zM351.3 1280.5l.6 .5l-.8 .4zM353.5 1278l-.7-.5l.8-.4zM349.9 1259.7l.6-1.2l.6 1.2zM231.6 1269.4l1.3 0l-.7 1.1zM236.3 1263.2l-.6 1.2l-.8-1.2zM232.9 1266.1l-1.4 0l.6-1.1zM1076.5 1518.5l-.7 2.6l-2.2-2.2zM1059 1505.3l3.3-.8l-.5 3.5zM1054.2 1501.4l-2.9-2.1l3.2-1.6zM1060.9 1501.5l-3.4 .8l.3-3.8zM1049.6 1481.4l-2.1 4.1l-2.2-3.9zM1046.1 1492.6l.2 3.9l-3.1-1.2zM1049.6 1496.4l-.2-4.2l3.7 2.5zM1044.5 1487l-4.8-.6l2.6-3.3zM1039.3 1489.7l4.5 .5l-3.1 2.9zM1051.4 1489.6l4.8-1.3l-.9 4zM1055.3 1485.1l-4.6 1.3l2.1-4zM1050.2 1548.7l-.6 .9l-.6-.9zM1065.6 1527.9l-.7 1.7l-1.5-1.1zM1063.3 1532.5l-.8 1l-.3-1.8zM1068.1 1530.6l.6-1.8l1.4 1.8zM1069.5 1535.6l-1-1.7l2 0zM1065.4 1535.1l.8 1.4l-1.7-.3zM1063.9 1517.6l.3-2.9l2.5 2.2zM1067.3 1522.4l-2-1.8l2.6-.6zM1062.8 1522.8l2.1 1.9l-2.8 .7zM1057.5 1522.4l2.2-.4l-.7 2.3zM1030.4 1536.2l.4-1.1l.9 .8zM1027.2 1492.9l1.3 1.9l-2.6 .9zM1029.9 1497.8l.5 2.1l-2.9-1.3zM1033.7 1499.5l-.5-2.1l2.7 0zM1034.3 1494.1l2-3l1.3 3.1zM1033 1490.1l-1.8 2.7l-1.5-2.1zM1045.6 1518.6l-1.2-1.8l1.7 .3zM1044.8 1499.5l-2.7 2.2l-.2-3.4zM1038.8 1502.8l-2.9-.9l2.7-2.5zM1065.5 1505.8l2.5 2.5l-3 .8zM1066.4 1512.1l2.8-.7l-.3 3zM1076.8 1506.5l-3.1 .5l1.2-3.6zM1070.5 1506.1l-3-2.9l4.4-1.2zM1072.4 1512.6l2.7 2.7l-3.1 .5zM1077.4 1512.9l-2.8-2.7l3.1-.5zM1046.1 1554.3l-.5 .6l-.4-.6zM1048.4 1556.7l.5-.7l.2 .9zM1051.5 1568.6l.6-.8l.5 1.1zM1054.3 1561l-.8 .7l-.1-.8zM1040.9 1546l.2-.9l.9 .8zM1032.4 1540.1l-.9-.7l1.2-.3zM1030.2 1542.5l-1 .5l.1-1.2zM1036.7 1540.9l-1.1 .1l.2-1zM1037 1544.2l1-.2l-.3 .9zM1036 1522.3l-1.5 .6l.4-1.6zM1038.6 1517.6l-.4 2.2l-1.4-1.2zM1041.3 1521.1l.5-2.3l1.3 2.1zM1061.8 1444.1l5.5 0l-1.9 4.4zM1076 1468.4l4.3-4.1l.9 4.7zM1073.5 1461.5l4.3 .6l-4.1 3.9zM1078.9 1458.9l-4.5-.6l2.7-4.3zM1075.5 1390.3l0 5l-4.7-3.2zM1039.1 1396.7l4.2 2.8l-4.2 3zM1044.8 1396.5l-4.3-2.8l4.7-3zM1052 1330.6l5.6-1.8l-1.4 5.8zM1017.1 1374.4l-3-3.6l5.3 .2zM1028.1 1393.8l5.4 .9l-3.5 2.7zM1009.4 1450l.6-4.8l3.8 2.6zM1006.8 1444.6l-.6 4.6l-3-3.4zM1039.2 1446.5l3.9 3.4l-4.9 .9zM1029.9 1426.3l-5 1.5l1.3-4.5zM1033.7 1419.7l-1.3 4.4l-3.6-3zM1041.1 1423l-5.3 1.5l1.3-4.5zM1036.8 1427.7l5.2-1.6l-1.6 4.5zM1026.5 1377.4l-1.6-5.5l4.4 1.3zM1023.3 1378.2l-3.6-1.7l2.2-3.2zM1018.5 1379.6l3.8 1.8l-4.6 2.7zM1024 1384.3l-.4 4.9l-4.5-2.1zM1038.6 1391l-1.1-4.4l5.5 1.5zM1038.2 1383.4l3.2-3.9l2.6 5.5zM1029.3 1390.6l4.9-3.5l1.1 4.5zM1027.4 1383.5l4.2 1.4l-4.6 3.3zM1039.2 1377.1l-3.2 3.7l-1.6-5.7zM1032.8 1381.8l-4.3-1.4l2.8-4.3zM1071.4 1356.9l2.9-6.2l2.7 5.8zM1071.6 1348.7l-2.8 6.2l-2.6-5.5zM1045.5 1375.3l3.6-3.5l1.5 4.3zM1052.3 1370.8l5.7 .7l-4.2 3.7zM940.4 1446.9l0 2.7l-2.9-1.5zM946.9 1455.8l-1.6-2l2.7-.2zM943.7 1450.6l0-2.5l2.8 2.3zM932.5 1437.1l-2.7-1.6l3.5-2.1zM935.3 1442.6l2.9 1.6l-3 1.3zM959.7 1443.6l.2-4.1l2.3 2.2zM956.6 1439.7l-.3 4.6l-3.2-1.5zM943.7 1442.5l.1-3.2l2.9 2.8zM939.3 1435.2l-3.3 1.6l.8-3.8zM937.2 1439.9l3.4-1.7l-.2 3.5zM957.6 1423.9l-3.2 .2l-.2-3.3zM959.2 1427.1l-1.3 4.5l-2.3-4.2zM951.1 1424.1l-3.6-.4l3.4-3.3zM936.7 1422.3l4 2.6l-3.6 2.2zM941.6 1428.2l-.5 4.1l-2.6-2.1zM950.5 1408.4l4.4 .2l-2.4 4.4zM941.8 1401l3 4.1l-5 .2zM1021.6 1427.4l-3.2-2.8l4.4-1.5zM1021.2 1413.9l4.6-1.1l-1.3 4.5zM1017.5 1421.5l1.3-5.2l3.5 3.5zM1015.6 1415.8l-1.2 4.7l-2.7-3.1zM713.4 1686.2l-.4-.9l.7 .1zM725.2 1685.9l-.3-.8l.7 0zM719.4 1681.2l.3 .7l-.7 0zM695.3 1681.9l-.7-.1l.3-.6zM688.3 1681.6l.5-.8l.4 .8zM668.6 1665.2l-.6 .1l.3-.6zM691.6 1675.9l.5-.7l.3 .7zM977.7 1664.2l-.3-.5l.6-.1zM962.6 1681.1l-.4-.7l.8 0zM985.9 1429.9l-4.5-.6l2.3-3.1zM991.8 1426l-2.6 3.1l-2.2-3.8zM1022 1454.5l-3.6 .5l.1-3.5zM1015.1 1454.4l-3.8-1.6l4-2zM1009.8 1455.7l3.8 1.7l-2.8 2.4zM1031.1 1459.7l-2.5-3.1l4.4-1.2zM992.2 1446.6l1.1-3.3l3 1.6zM1005.7 1472.4l3.4 .6l-2.4 2.4zM1010.2 1469.8l-3.8-.7l2.7-2.9zM990 1469.3l-2.3 2.1l-.7-2.7zM962.5 1449.1l-2.1-2l2.4-1.8zM959.1 1450.4l2.1 2l-2.5 1.8zM1011.2 1475.5l.5 4.4l-3-1.8zM1008.7 1500.3l2.6 .1l-1.4 1.8zM635.1 1263.6l.7 0l-.3 .6zM584.9 1265.9l.5-.7l.2 .7zM373.8 1290.2l-.4-.6l.6-.1zM372.7 1286.4l.2-.9l.6 .7zM379.5 1288.5l.6 0l-.2 .6zM364.9 1280.6l-.9-.8l1.1-.2zM367 1287.3l.5 .6l-.7 .2zM368.9 1281.1l-.8 .3l.2-.9zM369.6 1285.3l-.7-.7l.9-.3zM378.1 1295.5l-.5-.6l.7-.1zM382 1296.4l-.8 .2l.3-.8zM368.1 1291.2l-.2 .7l-.4-.5zM371 1293.1l.2-.9l.5 .7zM419.8 1333.6l-.8 .5l0-.8zM374.3 1264.9l-1-.4l.6-.8zM362.8 1276.7l.2-1l.9 .8zM359.9 1274.7l-.2 1.1l-.9-.9zM358 1270.6l.9 .9l-1.3 .3zM370.9 1262.3l-.6-1l1.2 .1zM398.2 1267.6l1-.2l-.2 1.1zM590.9 1269.6l-.4 .6l-.2-.7zM584.8 1269.9l-.3-.7l.7 0zM587 1275.5l.5 .1l-.3 .6zM719.7 1362.5l1.1-.1l-.4 .7zM720.7 1359.1l-2 .2l1-1.8zM820.8 1415.8l-1.7 1.4l-.7-2.1zM822.3 1418.9l-.3 2.3l-1.2-1.2zM761.9 1276.9l2.8-4.4l1.7 4.1zM919.4 1408.4l4 3.3l-5 .1zM922.7 1406.8l3.4-.3l.1 3.1zM936.1 1310.8l-.7-5.2l3.9 2.2zM767.5 1270.8l4.4 .2l-2.6 3.8zM1000.1 1307.8l-5.5 1.6l1.8-4.9zM1004.8 1300.5l-2.1 5.2l-3.7-3.3zM1060.8 1346.6l-5.1 .5l1.9-5.5zM1024.3 1345.1l-4-3.5l5.2-2.2zM1027.3 1352l3.5 2.9l-3.1 2.3zM1072.7 1322.5l.2-6.3l5.5 4.4zM1069.7 1314.9l-.2 6.4l-6-5.1zM1070.1 1309.5l-5.5-4.7l6.2-2.3zM1062.7 1307.4l5.1 4.5l-6 1.2zM773.5 1540.2l-.5 .4l0-.8zM780.3 1539.9l0 .6l-.6-.3zM704.8 1575.6l.6 .5l-.6 .4zM716.2 1357l-.4-1.4l1.2 0zM713 1357.7l.4 1.4l-1.3-.2zM715.8 1352.3l.4-1.4l.7 1.4zM713.6 1348.2l-.6 1.8l-1.2-1.8zM720.3 1369.1l-.8-.3l.6-.4zM717.4 1366.2l0-1.3l.9 .8zM714.1 1366.6l-1.4-.7l1.4-1.1zM722.1 1376l.4-.6l.2 .8zM716.1 1373.5l.4 .9l-.7-.2zM719.8 1373.5l-.7-1.3l1.2 .4zM709.9 1374.8l.5 .3l-.6 .3zM712.3 1372.4l.8-.3l-.3 .7zM711.7 1369.1l-.8 .3l.1-.6zM716.8 1395.2l-.4-.4l.6-.2zM729.2 1387.4l-.8 .2l.3-.7zM732 1401.7l.8-.1l-.3 .6zM726.2 1413.2l-.3-.6l.8-.1zM923.3 1468.7l-.2 1.4l-1.3-1.1zM926.3 1471.2l.1-1.2l1.1 1zM895.7 1478.9l.7-.2l-.1 1zM907.3 1444l.1 2.5l-1.6-1.2zM986.2 1503.5l-.6 .6l-.5-.8zM976.5 1501.7l-.3-.6l1 .2zM972.9 1506l-.5 1.2l-.7-1.1zM973.1 1502l.2 .6l-.8 .1zM964.4 1489.7l-.7-1.3l1.7 0zM964.2 1485.1l.9-1.3l.8 1.3zM961.9 1479.2l-1.8 0l.8-1.2zM960 1482.5l2 0l-1 1.3zM940.3 1464.9l.7 .7l-.8 .7zM943 1462.9l-1.1-1.2l2.1-.5zM941.5 1458.4l1.1-2.8l1.7 2.2zM942.9 1481.8l-1.1-.2l.6-1zM935.4 1480.2l.7 1l-1.2 0zM939.1 1479.7l-.8-1.2l1.4 0zM896.3 1488l-.6-.1l.6-.5zM890.9 1479.8l-.1 .6l-.6-.6zM889.3 1490.8l-.3 .6l-.3-.6zM918.3 1490.8l-.6 .1l.3-.6zM917.4 1494.4l.6-.1l-.3 .6zM876.6 1477.4l-.9 0l.4-.7zM880.2 1475.1l-.6 .9l-.6-.9zM887.3 1471.2l-.9 .1l.5-.8zM886 1474.7l.7-.1l-.4 .6zM889.8 1475.8l.4 .7l-.8 0zM929.8 1491.4l.4 .7l-.7-.2zM910.5 1481.6l-.8 .2l0-.8zM930.4 1495.5l-.5 .7l-.4-.9zM932.1 1498.7l.4-.6l.2 .8zM955 1498.9l-.3-.6l.9 .2zM958.5 1501.5l-.9-.4l.7-.5zM955.5 1503.8l.7 .3l-.9 .3zM952.8 1492.8l-.7 .6l-.4-.8zM955.2 1495.1l.8-.7l.4 .9zM959.3 1493.7l1.4 .2l-.8 .9zM961.1 1490.6l-1.3-.1l.8-.9zM942.2 1498l-.6 1l-.3-1zM949 1494.6l-1 0l.6-.8zM914.2 1437.8l-3.1 .6l.7-2.4zM923.5 1435l-3.2 1.2l.4-3.5zM917 1435.8l-2.9-2.2l3.4-1.4zM812.2 1536.2l.5-.3l.1 .6zM800.8 1440.3l.9 0l-.8 .8zM780.1 1412.3l-1.2-.5l.9-.5zM777.3 1414.8l1.7 .6l-1.3 .8zM794.2 1424.6l1-1.8l.8 1.8zM798.4 1421.9l1.9 .5l-1.1 1zM800.9 1419.1l-1.9-.5l1.3-1zM795.3 1429l-.8-1.1l1.4 0zM795.5 1435.6l.5 .9l-.9 0zM772.1 1426.6l-.8 .8l-.3-1zM774 1429.4l.5-.5l.1 .6zM777.9 1428.9l-.2-1.2l1.5 .4zM770.5 1433.8l.4 .7l-.7-.2zM774 1433.4l-.3-.7l.6 .1zM736 1402.5l.9 .9l-1.3 0zM739.6 1401.5l-.9-1l1.2-.3zM748.7 1477.2l0 .7l-.6-.3zM803.4 1457.8l-.1 .6l-.5-.4zM805.9 1452.5l-.2-.5l.7 0zM809.2 1457.3l.7 .1l-.3 .5zM809.8 1454.1l-.8-.1l.5-.5zM804.5 1442.2l.2 1.1l-1.2-.1zM803.7 1446.5l-.5 .6l-.4-.7zM808.5 1442.3l-.6 .3l-.1-.7zM806.1 1448.7l.4-.5l.3 .6zM823.1 1455.5l.2-.9l.5 .7zM811.3 1416.7l-.5-1.5l1.6-.3zM805.3 1416.1l-1.3 1.9l-.6-1.7zM808.1 1417.7l.6 1.6l-1.7 .2zM809.4 1437.5l.4 1.8l-1.4-.8zM810.5 1430.8l-.9-1.6l1.9-.2zM819.3 1447.1l.3 .8l-1.1-.4zM854.2 1429.8l-1.9 .9l.5-2.8zM852.8 1438.4l-2 .6l.4-2.2zM854.9 1433.1l-.3 2.5l-1.6-1.6zM857 1442.6l1.2 1.3l-1.6 .5zM851.9 1442.1l1.9-.6l-.3 2.1zM906.6 1450.1l-1.7 1.3l0-2.6zM883 1466.4l.5-1l.6 .8zM862.4 1422.7l2.6-.6l-.7 2.9zM857 1424.1l-.8 2.8l-1.6-2.1zM859.2 1428.2l.9-3l2 2.4zM887.2 1422.2l-3.1-2l3.6-1.4zM882.4 1417.4l.4-3.5l3.2 2zM825.6 1427.3l2.1 .6l-1.5 1.5zM836.2 1428.7l-1.9-1.3l2.1-1zM819.3 1427.5l-1 1.5l-.9-1zM821.4 1430.4l1.2-1.7l.5 1.8zM815.5 1430.9l-1.6 .5l.8-1.5zM838.4 1437l.3-2l1.4 1.3zM836.8 1442.6l.9 .9l-1.4 .2zM840.3 1441.4l-1.1-1.1l1.5-.7zM861.4 1455.8l1.2 .8l-1 .8zM855.8 1450.9l-1.8 .1l.8-1.3zM864 1453.6l-1.1-.8l1.2-.4zM861.7 1449.8l.4-1.7l1 1.1zM858.9 1447.2l-.4 1.8l-1.1-1.3zM849.3 1467.3l-.8-.1l.2-.6zM855.9 1470.7l-.4-.7l.8-.3zM854.9 1466.7l.1-.7l.6 .5zM872.1 1471.8l.3-.7l.4 .7zM872.9 1475.7l-.4-.6l.7 0zM394.7 1483.1l0 .7l-.6-.4zM234.9 1482.1l.4-.6l.5 .7zM246.3 1486.5l.3-.5l.3 .5zM234.8 1558.5l-.6 .4l-.3-.6zM265.1 1667.8l.7 0l-.4 .5zM265.9 1664.5l-.6 0l.3-.6zM238.1 1668l1.2 .1l-.6 .9zM239.1 1664.7l-.9 0l.5-.6zM362.6 1679.5l-.3 .7l-.4-.6zM369.3 1676.2l-.9-.1l.4-.6zM362.2 1675.7l.3 .5l-.6 .1zM345.1 1678.6l.7-.1l-.3 .6zM326.9 1679.8l-.3 .6l-.4-.6zM311.1 1685.2l.7 0l-.3 .7zM311.7 1681.9l-.7 0l.3-.6zM256.9 1610.8l-.5-.5l.7-.1zM241.9 1585.1l.4 .6l-.8 0zM242.3 1589l-.4 .7l-.5-.7zM234.4 1670.2l.6-.9l.6 .9zM235.2 1674.5l-.6-1l1.2 0zM471.4 1682.6l.8 0l-.3 .9zM466 1678.6l-.7-.2l.5-.5zM481.3 1674.7l.3-.5l.4 .5zM503.7 1685.6l-.4 .7l-.3-.7zM505.8 1688.5l.4-.7l.3 .8zM434.2 1687.2l.4-.6l.4 .8zM431.4 1684.4l.6 .1l-.3 .5zM434.8 1679.4l-.3-.6l.6 0zM431.6 1680.5l.3 .7l-.6-.1zM425.3 1679.8l.4 .7l-.8 0zM428.3 1678.4l.7 .1l-.4 .5zM412.8 1677l0 .8l-.8-.3zM375 1689.5l0-.7l.6 .2zM456.2 1682.4l-.6-.1l.4-.5zM459.7 1680.5l-.4 .6l-.4-.7zM456.3 1685.7l-.4 .8l-.4-.9zM274.8 1260.3l.4-.6l.4 .5zM294.6 1261.2l-.5 1l-.5-.9zM291.6 1264.4l-.9 .1l.4-.9zM297.3 1263.2l.4-1l.6 .7zM344.4 1259.3l-1.3-.2l.7-1.1zM337.6 1258.7l-1.2-.1l.6-1.1zM330.5 1257.5l.6 1.1l-1.2 .1zM321.6 1265.5l-.8 .1l.3-.9zM324.2 1263.4l-.6-1l1.1-.1zM328 1265.1l-1 .1l.4-1zM320.9 1268.9l.9-.1l-.4 .9zM353.6 1269.7l1.3-.3l-.4 1.3zM354.5 1266.1l-1.3 .3l.6-1.5zM350.4 1264.5l-.6-1.5l1.3 0zM351.8 1274.3l.1-1.6l.9 1zM348.6 1272.9l-.1 1.2l-.6-.4zM308.8 1299l-.6-.1l.3-.6zM260 1359.9l.6 .3l-.8 .3zM242.4 1454l.8 .1l-.4 .6zM242.8 1481.2l.4 .5l-.9 .1zM238.4 1480.2l1.1 0l-.6 .9zM239.2 1476.9l-.9 0l.4-.7zM242.7 1474.8l-.4 .7l-.5-.7zM1057.2 1511l0-2.8l2.4 2.3zM1053.5 1515.6l-.3 2.4l-1.8-1.6zM1060.7 1516.2l-2-2.1l2.4-.6zM1056.7 1516.7l2 2.1l-2.3 .5zM1013.9 1507.2l-1.4 1.3l-.4-1.5zM1015.4 1510.3l1.8-1.5l.7 1.9zM1058.8 1547.2l-1.5-.5l1.2-.7zM1029.5 1528.5l-.9-1.1l1.3-.1zM1020.2 1507.5l2.2-.1l-1.5 1.9zM1025 1509.3l.4 1.7l-1.6 0zM1023.4 1504l-2.4 .2l1.5-2.3zM1028.5 1502.6l-1.8 .8l-.8-1.9zM1037.1 1510.2l2-1.7l.1 3zM1030.8 1513.3l1.8-.6l-.2 2zM1035.8 1513.3l1.8 1.1l-1.9 1zM1037.2 1505.8l-1.8 1.5l-.5-2.3zM1031.9 1507.2l-2.4-1.4l2-.8zM1028.3 1508.9l1.9 1.1l-1.5 .5zM1052.4 1504.1l-3 1.4l.2-3.4zM1046.1 1505.6l-2.4-1l2.5-2zM1049.6 1511.3l2.2 1.4l-2 .8zM1053.9 1510.1l-2.8-1.7l2.9-1.4zM1044.4 1513.5l1.9-1.8l.2 2.1zM1042.3 1507.6l2.4 1l-2.2 2.2zM1048.5 1566.1l.7 .1l-.4 .4zM1047 1560.5l.1-.7l.6 .2zM1050.4 1563l-1-.1l.8-.8zM1043.3 1525.6l-1-1.3l1.4-.2zM1059.2 1533.8l-1.2-.8l.8-1.2zM1077.1 1527.7l1.3 1.9l-2.3 .4zM1054 1454.1l-2.2 3.7l-2.2-4.5zM1058.6 1451l.8-4.7l3.3 4.1zM1064.6 1466.6l4.8 3.1l-4.1 3.1zM1066.1 1463.7l4.1-1.7l.3 4.4zM1056.6 1456.2l2.7 4.9l-5-1zM1069.1 1458.8l-4 1.7l1.4-5.2zM1062 1459.1l-2.8-4.8l4.3-.6zM1077.8 1401.5l3.3 3.5l-5.2 2.1zM1072.4 1440.4l1.7-4.5l4.2 3.6zM1076.2 1433.3l3.7-2.3l.3 5.9zM1044.3 1402.9l-.6 5.4l-3.4-2.6zM1042.2 1411.4l-4 2.5l.6-5.2zM1043.3 1414.6l-.2 5.8l-4-3.1zM1055.2 1392.2l-4.6-3.8l6.2-1.5zM1052.9 1394.6l-4.8 2.2l.4-5.9zM1063.9 1391l-5.4 1.6l1.6-5zM1064.3 1399.2l-4.7-3.5l5.5-1.6zM1015.4 1342.3l-.9 4.2l-3.1-5.1zM1022 1347.4l-4.6 1.3l.9-4.5zM1018.7 1351.8l5.1-1.4l.5 6.1zM1003.7 1365.7l2-4.1l2 5.1zM996.7 1451.3l-3.2-1.6l4.2-1.8zM1003.9 1451.5l-3.9 .3l1-3.4zM1041.8 1444.4l4.7-1.1l-.9 4.5zM1045.4 1440.2l-4.8 1l1.4-4.6zM1048 1438.1l-3.5-3.6l5.2-.9zM1055.4 1440.4l-4.5-.6l1.7-4.5zM1049.5 1445.4l3.4 5.1l-4.3-.8zM1055.6 1448.6l-3.6-5.3l4.5 .5zM1027.8 1453.4l.7-4.2l3.8 2.9zM1031.1 1446.9l4.9-1.2l-1 4.3zM1020.2 1442l3.5 3.1l-4.4 .9zM1025.4 1448.2l-.7 4.2l-4-3.4zM1077 1370.5l6-.5l-2.2 5.4zM1068.6 1362.3l2.6 5.4l-6.2 .6zM1082.8 1366.7l-6.2 .6l3-5.9zM1073.8 1365.5l-2.5-5.2l5.4-.5zM1037.7 1367.9l1.6 5.7l-4.7-2zM1040.9 1367.2l5.9 2.3l-4.1 3.9zM1035.6 1365.3l-3.3 3.9l-2.8-6zM1032.9 1357.4l2.2 4.2l-5.3-1.8zM1038.1 1360.4l-2.2-4.4l4.2-1.2zM955.3 1433.6l-3-.6l1-3zM949.6 1430.5l-2.5-3.6l3.6 .4zM944.8 1429.4l2.5 3.6l-3.1 .5zM951.8 1436.2l3 .7l-3 2.6zM945.8 1436.6l2.7-.4l0 3.1zM945.1 1421.4l-.4-4.3l4.1 .7zM941.4 1417.6l.4 4.1l-3.7-2.4zM945.5 1413.9l2.2-3.7l1.9 4.4zM940.3 1414.5l-3.3 1.6l1-4.9zM944.9 1408.4l-2.2 3.7l-2.5-3.5zM1002 1372.9l.7-4.1l3.8 1zM1018.5 1436.4l-3.7-2.7l5.1-1.1zM1013.8 1430.5l1.9-3.8l3.2 2.7zM1011.9 1435.7l3.7 2.7l-4.6 1.4zM1023 1400.2l2.2-4.9l1.9 3.6zM1026.9 1407.2l-3.8-3.6l4.4-1.4zM1020.1 1410.8l.9-4.6l3.7 3.5zM990 1382.3l-3.8 2.1l-.6-4.7zM992.5 1389.6l-4.3-2.5l3.8-2.1zM964.5 1512.7l.4-.6l.4 .8zM1045.4 1571.9l.9-.2l-.3 1zM1045.4 1568.5l.3-.7l.3 .6zM1025.4 1548.7l-.1 1l-.9-.4zM757.9 1670.8l-.6-.2l.6-.3zM737.4 1673.2l1-.2l-.5 .8zM704.2 1676.6l.3-.6l.3 .6zM698.6 1679.6l-.4 .8l-.4-.9zM722.8 1679.2l-.4 .7l-.3-.7zM710.9 1679.5l-.4 .7l-.3-.6zM716.6 1675.9l.3-.7l.3 .7zM719.6 1685.2l-.3 .6l-.3-.5zM716.7 1688.1l-.7 .1l.4-.7zM729 1687.3l-.9 .2l.4-.8zM561.1 1688.5l-1.1-.1l.6-.9zM644.9 1689.2l-.2 .7l-.4-.5zM707.8 1682.2l-.8 0l.4-.7zM704.1 1680.6l-.3-.7l.7 0zM700.7 1685.7l.8 0l-.4 1zM686.4 1675.9l-.6 0l.4-.6zM685.3 1679.3l.6-.1l-.4 .6zM667.1 1678l-.2-.7l.7 .4zM670.5 1686.6l-.1 .9l-.7-.5zM667.8 1683.4l.8 .4l-.8 .4zM685.9 1667.5l.6-.1l-.2 .6zM689.3 1669.3l.3 .7l-.6 0zM692.4 1668.3l-.2-.6l.6 .1zM648.3 1680.2l.4 .7l-.8-.1zM597.1 1679.6l-.2 .6l-.3-.6zM743.5 1667.8l.1-1.1l.7 .6zM718.2 1660.2l-.5-.7l.9 .1zM986.8 1639.5l0-.8l.7 .5zM1015.7 1689.7l-.5-.5l.7-.2zM1009 1686.6l.3 .6l-.8 .1zM938.1 1688.1l.3-.6l.3 .7zM939 1679.5l-.4 .7l-.3-.7zM950.6 1688l-.7 .1l.4-.8zM979.9 1658.1l.7-.1l-.3 .6zM987.7 1680.8l-.3 .6l-.3-.6zM984 1663l-.3 .6l-.3-.5zM965.5 1675.3l.7 0l-.4 .6zM959.1 1682.5l.3-.5l.3 .6zM953.6 1685.4l-.3 .6l-.3-.7zM953.7 1682.1l-.7-.1l.4-.7zM959.1 1685.8l.7 .1l-.4 .7zM955.8 1688.2l.4-.7l.3 .8zM969.2 1680.7l-.4 .7l-.3-.7zM971.7 1683.1l.4-.6l.3 .6zM965.8 1686.3l-.5 .8l-.3-.8zM988.1 1689.8l.3-1l.7 .9zM971.1 1433.2l4.4-.6l-1.8 3.5zM962.2 1428.5l2.7 2.8l-3.9 1.7zM968.5 1435.2l2.6 3l-3.8 1.2zM961.4 1436.4l3.8-1.6l-1.2 4zM1016.9 1466.2l-3.5 2.8l-1.2-3.9zM1016.1 1459.6l1.5 3.4l-4.2-1zM1020.6 1461.7l-1.5-3.5l3.7-.5zM1028.6 1461.8l-4.9 1.1l2.4-4.3zM1038.9 1459.7l-4.6 .9l2-4.5zM1043.8 1453.2l-2.3 4.5l-2.6-3.7zM1049 1459.5l-4.6-.2l2.3-4.6zM989.9 1439l-3.7-.3l2.3-3.2zM978.4 1434.3l1.9 3.8l-3.7-.4zM983.4 1436.9l-2.2-4.3l4.9 .7zM980.8 1441.5l-1.3 3.3l-2.3-3.7zM986.4 1442.1l3.7 .3l-1.1 3.4zM982.1 1447l1.4-3.4l2.6 3.9zM1000 1475.2l2.4-2.1l1.1 3zM999.6 1471.2l-2.4 2.1l-1-2.8zM994 1473.9l-3.5-.6l2.4-2.1zM983.7 1491.5l.4 1.8l-1.8-.3zM979.1 1489.4l1.9 .1l-1.3 1.5zM967.4 1452.3l2.7-1.6l.5 3.1zM973.2 1449.7l3.2 .2l-2.6 2.9zM968.6 1447.7l-2.8 1.7l.4-4zM971.6 1441.5l-1.1 3.5l-2.5-2.4zM976.8 1446.6l-3.3-.1l1-3.5zM979.2 1451.7l1.1 3.2l-3.9 0zM983.3 1453.5l-1.1-3.1l3.7 .4zM990.6 1497.6l-.7 1.3l-.8-1.5zM638.4 1265.7l.4 .7l-.7 0zM384.8 1293.7l-.3 .5l-.4-.4zM383.2 1289.8l.7 .7l-1 .1zM404.6 1272.4l0 .9l-.8-.6zM407.9 1273.3l0-.8l.8 .3zM402.4 1268.6l.8 .8l-1 .4zM402.6 1282.7l1.1 .7l-1 .7zM403.2 1276.3l-1 .5l-.1-1.2zM404.8 1280.1l-.8-.5l.8-.4zM363.1 1286.6l.7-.3l-.2 .9zM361.1 1290.2l.1-.8l.6 .6zM358 1288.6l-.1 .8l-.6-.5zM357 1285.4l-.7 .3l0-.9zM358.8 1281.6l-.1 .9l-.7-.6zM362.8 1283.2l-.8 .3l0-1zM392.5 1302.6l-.2 .7l-.3-.7zM372.2 1296.8l-.5-.5l.7-.2zM370 1299.2l-.7 .1l.2-.6zM413.6 1331.6l-.2-.6l.7 .3zM365.5 1273.4l1.1-.2l-.3 1zM369.6 1274.7l.3-.9l.7 .5zM372.2 1271.5l1.6-.7l-.5 1.4zM372.5 1267.8l-1 .4l.2-.7zM361.5 1268l-.3 1.2l-.9-.9zM366.7 1264l.7-1.3l.6 1.2zM368.1 1267.9l-.7-.7l1-.1zM364.7 1269.1l.9 1l-1.3 .2zM392.5 1262.7l1.6-.7l-.1 1.8zM397.3 1263.2l.9 1l-1 .3zM400.7 1262l-1.1-1.2l1.6-.1zM444.3 1270.7l-.8 .4l.3-1.2zM493.7 1275.7l.7 .8l-.9 .1zM445.4 1303.8l-.2-.7l.7 .3zM409.8 1283.1l1-.7l.1 1.2zM409 1279.7l-.9 .6l0-1.1zM414.2 1282.8l.8 .5l-.7 .4zM416.5 1280.3l-.9-.6l.8-.4zM410.5 1276.8l-1-.5l1-.8zM414.9 1276.4l-1.1 .5l0-1.3zM418.1 1263.7l.9-1.2l.7 1.3zM414.4 1260.7l1.7 .1l-.9 1.2zM416.5 1272.7l0 .8l-.7-.6zM415.3 1268.7l.5 .8l-.9 .2zM419.8 1273.6l0-.8l.8 .3zM421.2 1269.8l.5-.7l.3 1zM418.6 1267.7l-.5-.7l1.1 0zM593.4 1271.9l.3 .7l-.7 0zM588.2 1263.3l.8 0l-.5 .8zM590.1 1260.1l-.9-.1l.6-.9zM593.1 1258.6l-.2-.9l1 .2zM727.1 1283.5l-2.4-4.1l4.4 .9zM724.6 1276l3.2-3.4l1.5 4.4zM725.4 1270.3l-3.3 3.5l-1.5-4.9zM725.7 1262.6l.7 4.5l-4.7-1.3zM683.3 1315.9l.7-.2l-.1 .7zM681.2 1318.5l.6 .4l-.7 .4zM702.1 1305.5l.7 2.7l-2.3-1zM701.8 1311.3l-1.9 1.3l-.2-2.2zM701.8 1315.3l1.9-1.3l.1 2.3zM930.7 1301.7l-4 1.3l1.1-5.8zM925.9 1308.7l4.7 4l-5 .2zM932.7 1310.1l-4.8-4l4-1.3zM894.4 1272.3l5.7-.5l-4 4.7zM902.9 1273.5l.9 4.9l-4.8-.2zM906.1 1272.9l4.7 2.6l-3.8 2.1zM847.1 1422.2l1.9 1.5l-2.2 1.3zM841.3 1423.7l2.5-1.6l-.3 3.1zM839.3 1418.3l2.7 1l-2.4 1.5zM844.4 1416.7l-2.9-1.1l3.5-1.6zM862.2 1419.4l1.3-3.2l1.3 2.6zM763 1284.2l-1.8-4l4.5-.3zM761.5 1267.4l-3.6 0l.3-3.9zM759.3 1274.7l-1.1-4l3.7 0zM720.8 1302.1l4 3.1l-3.9 .5zM784.4 1409.9l-1.1 1.5l-.4-1.2zM947.9 1318.6l3.2 4.1l-5.9-.9zM944.5 1313.8l-5.9-.8l3.3-3.1zM938.9 1316.4l5.8 .8l-2.6 3.2zM951.3 1326.1l-3.4 3.1l-2.6-4.1zM946.4 1335.4l.8 5.4l-3.7-2.4zM945.9 1343.8l-4.8 2.2l1-4.6zM941.5 1351.6l4.9 1.8l-3.7 1.7zM948.6 1350.7l-5.5-2l4.9-2.2zM912.7 1278.2l.1 5.3l-4-3.1zM918.8 1322.1l-2.3-3.6l4.4-1.3zM919.9 1329.2l3 3.6l-4.2 1.2zM910.2 1317.2l-3.7 1.5l-.6-4.1zM897.4 1319.5l4.5 1.9l-3.5 2.7zM903.1 1318.3l-4.4-1.8l3.8-2.4zM879.4 1257.6l4.2-2.8l1.2 4.4zM867.1 1262.5l5.6-1.7l-2.2 5.2zM860.7 1260.9l-5.1 1.4l1.4-4.9zM863.8 1270.1l1.2-5.1l3.2 3.3zM861.8 1264l-1.2 5.6l-4.2-4.1zM869.8 1276.3l-4.8-3.2l4.6-1.8zM862.7 1275.6l5 3.3l-5.8 1.6zM803.8 1317.8l4.7-1.1l-.9 4.7zM788.3 1270.2l4.7-.7l-1.9 4.4zM779.7 1263.4l2.6 4l-4.6 .3zM1074.9 1259.7l7.6-.5l-6.4 8.4zM975.3 1293.8l-1.7 5.2l-3.4-4.5zM951 1317.2l5.2-.6l-1.8 5zM999.2 1337.5l3.2-4.5l2.7 4.3zM999.3 1331.6l-2.9 4.2l-1.7-4.3zM980.8 1314.6l2.1 5.1l-4.7-1.2zM985.9 1318.4l-2.1-5.4l5.2 .4zM986.7 1346.4l4.6 2.6l-4.1 2.9zM993.1 1346.2l-4.4-2.5l5.1-2zM1053.3 1367.6l4.6-4.9l1.7 5.6zM1060.8 1360.9l4.9-.3l-3.3 5.6zM1066.2 1357.3l-5 .3l2.5-5.6zM1058.5 1355.6l-2.6-5.2l5.1-.5zM1079.2 1307.6l-5.9 2.6l.8-6.9zM1081.8 1297.2l-.8 7.6l-5.3-4.5zM1074.5 1313.3l6-2.7l-.3 7.3zM712.3 1343.3l.8 1.6l-1.6 .1zM695.9 1356.9l.1 .7l-.8-.2zM701 1354.5l-.8-.5l.6-.4zM703.5 1348.2l-.1-.8l1 .2zM710.9 1456.1l-.4 .8l-.4-.7zM674.1 1420.6l.7-.4l0 .6zM717.5 1402.5l.3-.7l.4 .5zM712.8 1390.4l-.1 .8l-.7-.5zM716 1391.4l.1-.6l.5 .4zM723.1 1392.5l-.2 .7l-.4-.5zM720.8 1395.9l-.9 .3l.4-1zM720.2 1399.5l.7-.2l-.3 .8zM724.4 1399.5l.7 .6l-1.1 .4zM737.9 1397.3l.2-1l.7 .8zM920.8 1472.5l-.7 .1l0-.7zM921 1464l1.3 1.5l-1.8 .4zM916.3 1464l1.5-.7l-.5 1.7zM923.5 1461.8l1.9-.2l-.7 1.7zM922.6 1454.4l-1.4 1.9l-.4-1.9zM925.8 1458.3l-2.1 .1l1.6-2zM913.2 1454.1l-.8-1.4l2.2 .6zM918 1457.3l-2-1l1.7-1zM914.5 1459.2l2 1l-1.7 .8zM911.2 1459.2l.2 1.6l-1.6-.7zM906.3 1457l1.8 .3l-1.2 .8zM909.5 1454.2l-2.3-.4l1.5-1.2zM902.9 1460.1l.6-1.4l.5 .9zM901.2 1472.5l.5 .6l-.8 .3zM901.9 1476.6l-.3 1.2l-.6-.8zM976 1507.2l.4 .6l-.8 .2zM982.7 1505.7l-1 .3l.4-1.2zM978.5 1505.2l-.4-.6l.8-.4zM968.7 1491.3l-1.3-.1l.9-1.1zM973 1488.9l-1.2 1.2l-.5-1.4zM974.7 1491.9l1.3-1.3l.6 1.5zM974.2 1496l-.4-.9l1.3 .2zM963.4 1495.9l.3 1.1l-1.1-.3zM962.8 1500.2l-1 1l-.3-1.4zM964.7 1502.9l1-.9l.5 1zM968.7 1500.7l1.3-.1l-.8 1zM969.9 1497.3l.8-1.1l.5 1zM967.8 1494.6l-1 1.2l-.4-1.3zM956.7 1472l1.1-1.8l.7 2.4zM951.3 1474.1l-1 1.4l-.7-1.7zM953.6 1476.5l.7 1.9l-1.7-.5zM957.4 1477.2l-.6-1.6l1.4 .4zM946.1 1467.1l2-.2l-1.1 1.7zM948.5 1463.6l-2.2 .2l1.1-1.9zM951 1468.6l.7 2.2l-2-.3zM954.6 1469.1l-.7-2.1l1.8 .3zM951.5 1462.1l-1.4-2l3-.3zM956.3 1464.1l-2-.4l1.5-2zM933.3 1469.7l.5-1.6l1.3 1.3zM935.6 1465.2l1.4-1.1l-.1 2.4zM928.6 1467.6l2.1-.4l-.6 1.7zM928.5 1462.7l1.2 1.3l-1.9 .4zM942.5 1486.3l-.6-1.3l1.2 .2zM945 1488.6l.5-1l.5 1zM942 1493.9l.4 .8l-.8 0zM945.2 1492.9l-.4-1l1 0zM901.2 1483.8l.2 .8l-.7-.5zM905.3 1484.5l-.5 .5l-.2-.8zM904.2 1493l.3-.9l.5 .7zM901.4 1490.8l-.2 .7l-.4-.6zM898.5 1493.4l-.7 0l.3-.6zM907.2 1490.2l1 0l-.5 .8zM914.3 1490.2l-.3-.5l.7-.2zM914.3 1486.2l.4-.8l.4 .6zM912 1495.3l-.4 .9l-.7-.9zM945.2 1534.6l.5 .5l-.7 .1zM941.4 1533.8l.6-.1l-.2 .6zM941.4 1529.9l.4 .5l-.7 .1zM944.3 1528.4l-.3-.6l.6 0zM897.5 1471.4l.6-.1l-.2 .8zM895.2 1475.6l.3-1l.4 .8zM931 1502.5l0-.7l.7 .2zM927.7 1502.8l-.1 .7l-.6-.2zM848.3 1575.8l0 .8l-.8-.4zM952.6 1488.6l.6 .9l-1.2-.2zM948.6 1486.5l1.2 .3l-.7 .8zM956.1 1484.6l.7-1l.8 1.1zM956.7 1489l-.6-1.1l1.4 .1zM950 1483.5l-1.4-.4l.8-1.1zM954.1 1481.8l-.8 1l-.6-1.4zM951.9 1500l-1 .1l.6-.8zM947.9 1498.8l-.4-.8l.9-.1zM951.4 1503.4l.8-.1l-.2 .6zM944.8 1500l.3 .7l-.8 .2zM923.8 1449l.3 2.1l-1.9 0zM923.8 1441.6l-2.5-2.2l3.2-1.3zM927.3 1449.9l-.4-2.6l2.9 1zM928.8 1444.5l3.2-1.9l-.1 3zM930.4 1439.7l-3.2 1.9l.7-3.4zM932.3 1453.1l-2.6-.8l2.4-1.5zM930.5 1456l-1.6 1.1l-.5-1.8zM938.1 1452.1l-2.5 1.1l-.2-2.5zM938.2 1457.6l-1.2-1.4l2.2-.9zM935.2 1461.4l.2-2.1l1 1.1zM932.1 1458.9l-.3 2.5l-1.4-1.4zM796.9 1442.5l.7-.7l.1 .8zM795 1439.8l-.7 .5l-.1-.6zM776 1409.7l-.4-1.7l1.7 1zM773.8 1417l.5-.8l.2 .8zM771.2 1422.1l.8 1.1l-1.2-.1zM774.6 1421.2l-.6-.9l.7 0zM790.7 1422.1l1.3-.3l-.7 1.2zM788 1424l.6 1l-1.6 .3zM803.8 1428.9l-.9 1l-.9-1.3zM799.5 1430.8l-1.3-.1l.6-1.1zM798.4 1434l1.3 .1l-.7 1.1zM801.8 1437l.6-.9l.5 1zM805.5 1434.9l1.6 .3l-1 1zM807.3 1431.9l-1.5-.3l.9-.9zM766.2 1447.2l.5 .3l-.4 .4zM768.2 1428.5l-1-.2l.7-.7zM780 1424.9l.8-.4l.2 .7zM778.6 1421.9l-.9 .5l.2-1zM780.8 1418.1l-.2 1.2l-.8-.6zM785 1419.8l-1.1 .2l.1-1.2zM788.4 1428.4l-.4 .8l-.8-.6zM792.2 1430.4l-1.1-.1l.5-.9zM791.7 1433.6l1.1 .1l-.5 .9zM788.6 1436.1l.3-.7l.4 .7zM791.2 1441.8l-.8-.1l.7-.6zM785 1431.1l-1.1 .3l.3-1zM784.9 1434.5l.8-.2l-.2 .7zM764.6 1426.4l-.4-1.1l1.1 .2zM760.9 1425.7l.3 .9l-1-.4zM746.1 1399.2l-.7-.6l1-.3zM750.8 1399l-1.3 .4l.3-1zM750.8 1402.5l1.1-.4l-.3 .9zM748.6 1405l.7 .4l-.6 .4zM743.9 1401.7l-1 .5l.2-1.2zM744.2 1405.2l1.1-.6l.1 1.2zM733.7 1408.6l-.7 .1l.3-.6zM746.8 1473.8l.5 .3l-.5 .4zM751.9 1483.6l.6 .3l-.5 .4zM758.6 1483.4l.5-.5l.1 .8zM823.6 1469.2l-.3-.6l.7 .2zM827.3 1460.3l-.7 .2l.3-.8zM863.6 1441.4l.3-1.9l1 1zM858.7 1439.7l2-.9l-.5 2.4zM865.9 1436.8l2.6-.8l-1.3 2.2zM868.2 1432.7l-2.9 .8l.7-2.3zM862.1 1433l-1.8-1.7l2.4-.5zM859.9 1435.5l-2 .9l.2-2.5zM901.6 1451.3l-1.2-1l1.2-1.2zM879.3 1465l.8-.2l-.4 .7zM855.4 1418.2l1.5 2.5l-2.6 .7zM848.7 1419.2l3.4-1.7l-1.1 3.6zM851 1414.4l-3.1 1.6l.5-2.6zM857.5 1415.4l3.1-.8l-1.4 3.5zM878.9 1423l.2 3l-2.6-1.3zM882.4 1426.2l-.2-3.2l3 1.8zM877.3 1428.8l-3.1 1.6l.5-3zM888 1430.7l-3.5-1.8l2.8-1.5zM879.1 1416.8l-2.7-2.2l3.1-1.1zM877.6 1410.7l-3.2 1.2l-.5-3.4zM869.7 1419.8l1.8-1.8l.1 3.3zM874.8 1417.6l2.9 2.2l-2.8 2zM871 1412l-3.9-.7l3.4-2.8zM866.4 1414.5l3.3 .6l-2 2zM815.7 1440.9l.6 .9l-1.1-.3zM812.9 1438l.6 .4l-.4 .5zM815.7 1434.3l-.5 1.3l-1.1-.8zM835.1 1436.7l-1.1-1l1.4-.8zM829.4 1430.9l0 1.9l-1.3-.7zM832.7 1432.6l0-2.3l1.8 1.2zM857.6 1456.7l.5-.6l.2 1.1zM852.9 1458.9l-.2 .9l-1-.8zM852.3 1472.4l.5-.5l.4 .6zM867.9 1467l-.8 .2l.1-.6zM255.7 1589.1l.7 0l-.4 .5zM252.7 1574.6l-.4-.5l.7 0zM234.5 1564.6l.5 .5l-.7 .3zM239.9 1562.6l0-1l.6 .7zM236.6 1561.2l0 .9l-.5-.5zM245.7 1479.5l.9-.2l-.4 .7zM235.2 1475.7l-.6-.7l1-.1zM234.2 1588.8l.9 0l-.5 .8zM232.1 1531.6l-.5-1l1.1 .2zM256.5 1544.7l-.7 0l.3-.5zM252.8 1550.4l.3-.7l.4 .5zM250.1 1548.3l-.4 .8l-.5-.8zM242.4 1544l.5 .8l-.9-.1zM235.1 1554.4l.4 .8l-1.1-.2zM235.5 1548.7l-.6-.8l1.1 0zM231.8 1686.7l.7 1.3l-1.4-.1zM252 1656.7l.9 .1l-.4 .6zM259.5 1653.6l-.7 0l.3-.6zM249.2 1663.2l-.3-.6l.7-.1zM245.5 1664.9l.5-.6l.4 .6zM248.8 1659.3l.3-.9l.5 .8zM242.9 1662.9l-.5 .8l-.5-.8zM261.6 1669.8l.5-.7l.4 .7zM242.2 1669.6l.5 .9l-1-.1zM245.7 1669.1l-.5-.9l1.1 0zM358.5 1674.3l.7-.1l-.3 .7zM332.6 1680.4l-.4-.7l.7 0zM329.9 1682.4l-.6 0l.3-.6zM308 1687.7l.4-.6l.3 .6zM314.8 1679.5l-.3 .6l-.4-.6zM323.3 1685.6l.7 .1l-.4 .7zM323.8 1682.3l-.6 0l.3-.6zM320.6 1680.2l-.4-.6l.7 0zM317.5 1681.4l.3 .7l-.6-.1zM255.6 1599.5l.7 0l-.3 .6zM254.9 1613.5l-.7 .3l.1-.9zM238.5 1601.1l.3-.6l.5 .5zM241.6 1596l.4-.6l.6 .6zM238.8 1594.3l-.4 .6l-.5-.6zM239.3 1604.9l-.4-.5l.8-.1zM245.3 1594.1l.8 0l-.3 .6zM245.5 1590.3l.3 .5l-.7 0zM252.6 1594.7l-.4-.5l.8 0zM474.6 1677.3l.7 .1l-.4 .5zM469.3 1672.6l.2 .7l-.5-.1zM468.1 1664.7l0 .7l-.7-.4zM471.5 1666.1l-.1-1l1.3 .6zM437.4 1684.8l.7-.1l-.4 .8zM441 1678.8l-.4 .6l-.3-.6zM425.2 1673.7l-.4-.5l.7 0zM363.4 1686.7l.5 .4l-.6 .3zM332.1 1676.4l.3-.5l.3 .5zM344.9 1674.7l.5 .5l-.7 .1zM459.5 1663.5l.7 .6l-.8 .2zM437.5 1673.1l.6 0l-.3 .5zM432 1673.1l-.3 .7l-.4-.7zM450.8 1670.1l-.6 0l.3-.5zM447.3 1668.4l-.3-.6l.7 0zM450.2 1674l-.3-.6l.7 0zM446.7 1675.6l.3-.6l.3 .7zM444.3 1673.2l-.4 .6l-.3-.6zM462.5 1683.5l-.7-.2l.4-.6zM461.6 1686.6l.8 .2l-.5 .6zM464.9 1689l.3 .7l-.8-.1zM468.1 1684.7l.4-.5l.4 .7zM468.4 1688.9l-.3-.8l.8 .3zM272 1258.6l-.4-.8l.8 .1zM281.2 1258.3l.6 1l-.9 .1zM287.2 1258.6l.5-.9l.5 .9zM287.8 1262.8l-.5-.9l1 0zM281.8 1262.6l-.3 .8l-.4-.6zM284.4 1265.1l.4-1l.5 .9zM303.1 1277.8l.4 .6l-.8-.1zM306.4 1276.8l-.5-.7l.8-.1zM317.4 1283.1l0 .7l-.7-.2zM281.8 1270.7l.4 .7l-.8 0zM284.7 1269.2l-.3-.7l.7-.1zM296.6 1281.7l-.3-.7l.7 .1zM344 1263.6l-.6-1.1l1.1 .1zM347.6 1266.2l-1.2-.3l.6-1zM343 1270.7l.1 .7l-.5-.2zM346 1269.2l1.3 .3l-1 1zM331.3 1275.2l-.4-.7l.6-.1zM324.6 1270.7l.5 .8l-.9 .1zM331.1 1271.2l-.7 0l.3-.8zM327.6 1269.3l-.5-.8l.9-.1zM309.5 1284.6l-.2-.8l.8 .4zM305.9 1283.8l.2 .7l-.6-.3zM310.1 1290.2l.7 .4l-.6 .5zM253.1 1366l-.4-.5l.8-.1zM242.1 1339.6l.8 0l-.3 .5zM242 1330.1l-.4-.5l.8 0zM242.1 1335.7l.4 .6l-.8 0zM243.9 1385l.3-.5l.4 .5zM261.7 1354.1l-.7 .3l0-1zM263.7 1350.7l-.1 .6l-.5-.5zM265.9 1357.5l.8 .5l-.8 .2zM256 1371.1l-.4 .5l-.2-.7zM256.6 1367.8l-.7-.1l.5-.6zM246.6 1459.5l-.4 .5l-.4-.6zM246.2 1455.6l.4 .6l-.7-.1zM249.9 1453.8l-.4 .8l-.4-.6zM266 1439.6l-.4-.6l.8 0zM235.9 1448.7l.3 .8l-.7-.2zM1015.1 1514.3l-.4-.8l1.3 .2zM1011.5 1514.6l.5 .9l-1.3 .2zM1005.3 1504.2l.8-1.9l1 1.6zM988.5 1507.3l-.8-.7l.7-.6zM1062.8 1545.7l-.8 .8l-.2-1zM1062 1541.2l.7 1.1l-.9-.2zM1066.9 1540l-.8 1.4l-1.2-1.8zM1070.5 1543.2l-1.6-.1l.7-1.2zM1053.1 1550.4l.4 1.1l-1.1-.2zM1057.8 1550.4l-.9 .7l-.5-1.3zM1051.9 1554.5l1.1 .3l-.8 .9zM1055.5 1557l.3 .9l-1-.1zM1025.7 1514.3l-.1 1.3l-1.3-1.3zM1028.7 1517.3l.2-1.3l1.3 1.1zM1031.3 1521.9l-1.2-1.4l1.6-.3zM1027.6 1524.1l.2-1.2l1 1.1zM1043.7 1560.9l-.6-.4l.6-.2zM1039.7 1538l-.2 .9l-.9-.8zM1033.4 1533l1.3-.3l-.4 1.2zM1033.9 1529.5l-1.3 .3l.3-1.3zM1037.8 1533.7l.9 1.1l-1.3 .1zM1041.2 1532.6l-.9-1.1l1.3-.2zM1036.8 1525.6l-.5 1.6l-1.1-1.1zM1041 1528l-1.5 .3l.4-1.7zM1050.9 1524.9l-1.4-1.4l2.2-.2zM1048 1526.7l-1.7 .4l.5-1.7zM1054 1526.1l.8-1.7l1.5 1.7zM1055.6 1530.7l-1-1.3l1.9 0zM1078.5 1532.9l-1 2.3l-1.3-1.9zM1076.8 1543.4l1.1-1.7l1.1 1.8zM1074.8 1537l-2.4 .1l1.1-1.9zM1074.8 1540.3l-1.1 1.7l-1.1-1.6zM1055.4 1476.9l1.7-3.7l3.1 2.2zM1058.8 1470.4l2.6-3.1l.5 5.2zM1059.5 1464.4l-2.8 3.3l-2.1-4.2zM1081.6 1408.4l-1.4 5.4l-3.9-3.4zM1059.2 1426.9l1.6 4.1l-5-.7zM1060.8 1434.3l-2.4 4.6l-3-5.4zM1061.1 1440.8l2.4-4.6l3.2 4.6zM1066.5 1434.7l4.5 .1l-1.6 4.2zM1046.6 1414.8l3.4 2.7l-3.6 2.7zM1054.3 1421.1l3.1 2.9l-3.3 3.3zM1047.1 1423.8l3.9-2.9l-.2 6.6zM1045.2 1337.7l-4.1-3.9l5.4-1.5zM1048.4 1338.6l1.3-5.5l4.2 3.9zM1052.7 1345.8l-3.6-4l5.5-1.5zM1046.8 1344.2l3.5 4l-5.1 1.6zM1052.6 1319.6l5.6-2l0 5.7zM1050.5 1327.6l0-5.4l5.6 3.6zM1021 1289.9l4.9 3.8l-5.9 1.3zM1029.6 1328.6l5 3.8l-5.1 1.8zM1008.7 1360.2l4.7 1.5l-2.6 3.9zM1013.8 1354l.4 4.5l-4.7-1.5zM1017.5 1359.1l-.3-4.3l4.8 4.1zM1022.1 1366.2l-2.9-3.9l4.6-.2zM1013.4 1367.5l2.7-3.8l3 4zM983.1 1362.6l-3.9-1.7l4.5-2.7zM999.8 1464.8l1 3.3l-3.7-.8zM1003.9 1467l-1-3.3l3.6 .4zM1003.7 1460.5l2.9-3.9l1.1 4.3zM1001.2 1458.3l-1.2-3.2l3.9-.3zM1026.6 1435.9l-4.8 .9l1.4-3.8zM1027.9 1439l-1.3 4.2l-3.7-3.3zM1030.9 1429.5l-1.4 4.5l-3.6-3zM1029.9 1443.8l1.3-4.1l3.5 2.9zM1037.4 1440.6l-3.7-3.1l5-1.6zM1032.8 1434.3l1.4-4.5l3.6 3zM1076.6 1385l-4-4.1l6.1-.4zM1071.6 1377.7l2.5-5.4l4 4.9zM1066.8 1382.5l-.8 6l-3.8-3.5zM1070.1 1383.1l4.1 4.1l-5 2zM1062.8 1374.2l3.6 4.8l-4.9 2.6zM1071 1371.1l-2.4 5.2l-3.6-4.7zM1046 1359.1l-4.7 2.2l2-5.6zM1042.6 1364.4l4.6-2.2l.6 4.1zM1050.4 1361.3l4.3-.1l-3.7 4zM1050.3 1351.6l-2.2 4.9l-2.6-3.4zM1056 1357.9l-4.9 .1l2.3-5.2zM957.6 1410.6l2 4l-4.4 .3zM960.4 1417.8l-.3 4l-3.9-3.7zM969.5 1402.6l1.9-4.5l3 4.5zM971 1409.5l-1.5-3.6l4.5 0zM966.5 1401.2l-3-3.5l4.8-.9zM961.2 1400l2.9 3.4l-4.1 1.3zM964.2 1406.8l-2.2 5.3l-2-4zM965.2 1413.1l1.8-4.5l1.4 3.2zM977.5 1412.8l-4-1l3.1-3.8zM962.7 1388.6l-2.2 4.2l-1.9-4.5zM963.4 1394.4l2.2-4.2l2.5 3.3zM963.8 1381.6l-.1 3.7l-3.7-.2zM948.8 1398.9l-1.4 4.2l-2.8-3.9zM946.9 1391l1.9 4.6l-4.4 .3zM950.2 1405.1l1.5-4.3l2.8 4.5zM954.1 1398.6l4.1-.2l-1.2 4.7zM957.9 1395.1l-4.1 .2l2.2-4.7zM951.3 1392.9l-1.8-4.3l3.8-.3zM977.9 1371.5l4.6-3.2l-.4 5.6zM981 1365.3l-4.3 3l.4-4.7zM957.5 1378.8l4.1 .3l-4 3.7zM951 1385.2l3.3-3.8l0 3.6zM1000.3 1388.1l-4.4 2.2l-.5-4.9zM999.1 1379.4l1.8 5.3l-4.7-2.7zM1014.2 1376.2l-4.1 1l1.1-4.6zM1006.6 1377.3l-3.3-1.3l4.4-3.1zM1005.6 1380.4l-1.5 3.3l-1.6-4.4zM1011 1380.4l4.1-1.1l-.7 4.5zM1006.6 1386.3l1.7-3.9l3.5 3.5zM1001.8 1438.3l3.7 3.3l-3.7 1.2zM1003.8 1435.7l4.9-.8l-1 4.3zM995.3 1440.6l3.2-2.6l0 4.3zM994.6 1427.8l2.4 4.4l-5-1.2zM996.5 1435.4l-3.4 2.8l-1.5-3.9zM1011.9 1422.7l-4.8 .5l2.1-3.6zM1010.4 1430l-3-3.5l5-.5zM1004.4 1421.3l-1.6-4.6l3.7 1zM999.9 1418.5l1.8 4.9l-4.2-.1zM1001.6 1426.7l-1.7 4.1l-2.2-4.2zM1002.8 1432.5l1.7-4.2l3.1 3.5zM1020.8 1391.5l-5 1.9l.8-3.8zM1019.4 1400l-3-3.3l5.5-2.1zM1012.5 1393.1l-4.4-3.6l5.3-.4zM974.1 1396.2l3.6-.1l-.9 4.1zM1076.6 1609.9l-.5 .7l-.5-.9zM1073.7 1584l-.4-1l1.1 .1zM1060 1664.9l-.7 0l.4-.8zM1075.5 1673.3l.7-.3l-.2 .9zM1019.8 1689.9l-.8 .2l.2-.7zM1025.8 1543.1l-.6-.4l.7-.6zM1023.3 1545.5l.6 .3l-.7 .4zM1026.7 1533.6l1.1 .1l-.4 1.1zM1025.8 1530.3l.3-.8l.6 .8zM1001.9 1540.8l.8-.2l-.2 .7zM948.2 1529.3l-.8 .2l.3-.7zM957.2 1507.3l-.4 .6l-.4-.4zM960.5 1508.1l.5-.9l.7 .7zM970.7 1518.6l-.7 .6l0-1.1zM1029.5 1552.8l.6-.3l-.2 .7zM1029.3 1549.3l-.7 .3l.1-.8zM1031.4 1545.6l-.1 1l-.8-.6zM1034.5 1547.4l.1-1l.7 .7zM741.1 1674.9l.2 .6l-.5 0zM731.3 1673.3l.6 0l-.3 .6zM728.2 1675.9l.3-.7l.4 .6zM707.3 1674.2l.7 0l-.4 .6zM713.8 1674.1l-.3-.6l.7-.1zM743.3 1681.8l.3-.6l.4 .7zM594.2 1682.1l-.7-.1l.3-.6zM632.7 1679.5l-.4 .7l-.4-.7zM663.7 1683.6l.7-.4l.1 .8zM662.4 1687.6l-.2-1.1l1 .5zM709.9 1687.8l.3-.6l.3 .7zM680.4 1668.5l-.4-.6l.6 0zM663 1671.6l-.9-.4l.9-.6zM673.7 1679.6l-.5 .6l-.2-.7zM695 1673.7l.7 0l-.4 .6zM701.5 1674.7l-.3-.6l.6 0zM655.2 1680.6l.8 .9l-1.2-.1zM648.9 1673.7l-.4 .6l-.3-.6zM651.7 1675.4l.3 .6l-.6-.1zM654.8 1670.3l-.7 0l.2-.5zM654.9 1674.4l-.4-.8l.9-.1zM645.5 1675.6l-.8 0l.4-.6zM749 1664.4l.6 .4l-.6 .2zM783.8 1683.1l-.7 .3l-.1-.8zM768.6 1682.9l.6-.3l.1 .8zM761.3 1676.9l0-.7l.6 .4zM763.6 1680.1l-.7-.4l.7-.3zM807 1676.5l-.7-.1l.4-.5zM571.4 1657.5l-.6-.5l.8-.1zM509 1686l.8 0l-.4 .8zM512.4 1688.2l.3 .7l-.7 0zM431 1625.1l-.6-.3l.4-.4zM425.2 1622.3l.1 .6l-.7-.1zM429.2 1618.7l.5-.6l.1 .8zM461.1 1602.8l0 1l-.9-.5zM591.1 1431.5l-.1-.7l.6 .4zM1005.8 1639.3l-.6-.3l.6-.5zM1002.9 1687l.3 .7l-.9 0zM1004 1679.6l-.2-.6l.6 0zM1020.7 1682.9l.6 .7l-.7 .2zM1023.2 1680.7l-.5-.7l.7-.1zM1025 1688.5l.2-1.1l1.1 .8zM941.9 1682.1l-.6 0l.3-.6zM947.3 1685.9l-.3-.6l.7-.1zM941.1 1685.4l.7 0l-.4 .7zM944.4 1687.6l.3 .6l-.6 0zM932.3 1687.2l.4 .7l-.8 0zM935.1 1685.4l.7 0l-.3 .7zM932.5 1680.3l-.3-.6l.6 0zM935.9 1682.1l-.7 0l.4-.6zM969 1619l.2 .9l-1-.2zM975.8 1677.7l-.7-.1l.3-.6zM981.7 1677.7l-.5 0l.2-.6zM984 1408.7l-3.3 3.1l-1-4.8zM1026.8 1469l-2.9-2.7l4.7-1.1zM981.1 1484.1l.9 2.1l-2.3-.1zM992.7 1477.1l-2.2 1.8l-1-2.4zM987.2 1479.6l-2.5-.2l1.7-1.9zM984 1482.6l2.6 .3l-1.6 2zM994.8 1454l-2.8 2.5l-.5-4.1zM988.7 1457.2l-3.2-1.3l2.7-2.7zM993.2 1462l3.9 .8l-2.8 2.6zM998.1 1459.6l-3.8-.7l2.7-2.4zM990.1 1463l1 3.2l-3.3-.7zM984.9 1459.2l3 1.3l-2.3 2.5zM986.7 1490l2.3 .3l-1.8 1.8zM991.1 1492.8l.1 1.5l-1.4-.1zM989.2 1484.9l.8 2.2l-2.3-.3zM586.1 1258.5l-.5-.9l1.4-.2zM665.8 1271.2l.4-.8l.4 .7zM644.7 1270.4l-.3-.7l.7-.1zM632.6 1269.9l-.4-.7l.7 .1zM617.4 1320.6l.6 .2l-.6 .5zM563.3 1258.3l.5 .9l-.9-.1zM386.4 1287.6l-.1 .6l-.5-.5zM388.2 1282.6l-.5-.6l.8 0zM384.9 1283.7l.5 .7l-.8 .1zM375.3 1279.4l-.9 .2l.3-1zM375 1282.9l.9-.2l-.3 .9zM378.8 1284.4l.6 .8l-.8 .1zM381.2 1282l.8 0l-.3 .8zM398.8 1276l-.9-.6l.8-.5zM396.6 1272.3l.1-1.4l.8 .9zM408.9 1287l-.1-.8l.7 .4zM405.4 1286.3l.2 .8l-.9-.3zM388.4 1298l.7-.2l-.3 .6zM365.8 1294.6l-.8 .2l.3-.8zM376.7 1301.8l-.5-.6l.6-.1zM376.2 1349.1l-.5 .4l0-.7zM357.5 1262.3l-.6 1.4l-.6-1.1zM360.6 1263.6l.6 1.1l-1.3 .3zM357.2 1257.8l.6 1.1l-1.3 .3zM363.7 1262.5l-.6-1l1.3-.2zM392.7 1257l1 1.7l-1.8 .7zM384.6 1260.2l1-1.2l.7 1.4zM384.5 1264.8l-.5-1.3l1.6 .1zM378.3 1257.9l.5 1.4l-1.4-.3zM378.6 1262.6l-1.1 1.5l-.5-1.8zM381 1264.9l.5 1.3l-1.5 0zM378.1 1275.9l-.4 1.1l-.7-.9zM380.5 1278.8l.4-1l.5 .9zM377.1 1271.4l.7 1.2l-1.2 .2zM381.2 1269.5l-.7 1.1l-.7-1.2zM391.6 1267l-.2-1l.8 .6zM388.3 1267.3l-1.3-.3l1-1.1zM393.4 1270.8l-.6-.7l.6-.4zM489.8 1274.4l.9-.1l-.2 .8zM507.2 1294.2l-.3 .6l-.5-.6zM513.9 1291.9l-1-.2l.5-.8zM495.4 1279.8l-.6 1.1l-.6-1.1zM449 1298l.7 .1l-.3 .8zM445.6 1299.7l.3-.5l.3 .8zM443.7 1293.5l-.8-.3l.4-.6zM439.8 1297.3l.3 .8l-.9-.2zM426.4 1294.2l.6-.3l.1 .7zM420.5 1287.1l-.1-.8l.8 .4zM417 1285.9l.2 .9l-.9-.5zM442.5 1261.7l1.7 .2l-.9 1.2zM444.2 1258.6l-1.7-.2l1-1.2zM435.8 1259.3l-1.3 .5l-.2-1.4zM424.9 1268.2l1.4 .5l-1.1 .9zM422.3 1261.6l1.4 .2l-.8 .9zM424.2 1258.6l-1.5-.3l1-1zM426.2 1263.9l.5 1.5l-1.3-.5zM429.9 1264.3l-.5-1.4l1.1 .3zM431.2 1260l-1.1-.3l1-1zM408.7 1260.4l-.6 1.2l-.9-1.1zM405.1 1263.1l-1.3 .1l.4-1.1zM405.9 1266.4l-.4 .7l-.6-.7zM411 1263.1l.5-.9l.6 1zM411.1 1266.4l1.5 .1l-.6 1.6zM408.3 1269.1l.2-.5l.4 .8zM541.9 1264.5l.5 .8l-.9 0zM521.6 1263.4l-.8 .8l0-1.3zM523 1266.7l.6-.6l.1 .7zM526.3 1260.2l0-.8l.6 .5zM523 1259.4l-.1 .9l-.7-.3zM529.4 1263.7l-1.3-.7l.9-.4zM548.2 1269.2l-.3-.7l.7 0zM542.2 1268.6l-.4 .6l-.3-.6zM545.5 1271.1l-.9-.1l.5-.7zM600.3 1259.9l-.7 .5l-.1-.8zM596.4 1261.1l-.9-.2l.7-.7zM594.4 1264l.9 .2l-.7 .7zM453.8 1265.1l.9-1.1l.4 1.5zM452 1262.2l-1 1.1l-.7-1.1zM447.1 1263.4l.7 1l-1.4 .1zM447.5 1267.7l-.6 .8l-.6-.7zM450.9 1257.7l1 1.2l-1.8 0zM458 1263.3l1.4 .6l-1 1zM461.2 1261.1l-1.4-.6l1.6-.7zM461.3 1266.6l.3 1.3l-1.1-.5zM466.3 1272.9l1.3 .3l-.9 .8zM492.1 1258.1l1.2-.8l0 1.4zM719.8 1258.2l3.9 1.8l-3.9 3zM734.1 1256.3l.8 4.5l-4.6-1.7zM733.5 1263.8l-3.8 2.8l-.7-4.5zM738.2 1260.4l-.9-4.6l4.9 1.5zM696.7 1313.1l-1.3-.4l1.1-1.2zM708.1 1305.8l-2 2l-.7-3zM714.6 1304.5l2.9-2.5l.1 3.4zM714.1 1311.2l-.8-3.7l3.1 .9zM710.1 1308.4l.7 3.4l-2.8-1.3zM707 1313.6l2.6 1.3l-2.5 1.4zM724.4 1285.4l-4.2 .7l1.6-5zM705 1267.9l-3.7 .4l1-3.1zM888.7 1319.8l-.2-5.4l3.8 2.5zM890.4 1322.7l3.6-3l1.1 4.6zM881.6 1296.7l-5.1-.5l2.2-4.3zM887.6 1296l2.1-4.8l2.5 3.5zM886.8 1289.7l-2.3 5.3l-3.1-5zM881.7 1300l-2.8 3.9l-2.2-4.3zM881.2 1306.5l2.6-3.7l.8 5.4zM887.4 1277.5l4-3.8l1.7 4.2zM889.5 1285l-2.8-4.2l5.8 .3zM883.7 1282.2l2.7 4.2l-5.1 .3zM874.9 1281l5.8-.2l-2.4 4.7zM923.6 1301.2l-2.4-3.5l3.5-1.8zM919.7 1294.8l-1.9-4.6l5.5 2.7zM895.4 1263.2l-3.2 4.5l-2.3-4.5zM898.5 1264.5l2.5 3.9l-5.6 .5zM915.7 1272.9l-.4-5.4l4.2 3.6zM907.1 1269.6l4.8-3l.5 6zM915.6 1255.3l-2.5 5.1l-3.3-4.8zM909.9 1261.5l-7.6-1.1l4.2-3.8zM901.9 1263.7l6.9 1l-4.4 2.8zM832.4 1424.7l-.3-2.5l2.5 1.4zM833.8 1419.4l2.2-1.1l.3 2.4zM825.6 1418.1l1.8 1.3l-2.1 1.7zM828.8 1422.5l.3 2.4l-2.3-.7zM844.7 1408.6l-2.5-.8l1.5-2.6zM840.1 1412.6l.6-1.8l2 .6zM850.2 1405.1l-2.3 2.6l-1.1-3.9zM852.1 1408l.6 3.6l-2.8-1.2zM725.9 1298.6l.6 3.8l-3.8-3zM730.1 1303.7l-.7-4.2l4.2 2.1zM720 1292.3l3.8 3.4l-3.3 .9zM725.5 1292.8l-4-3.6l3.9-.6zM725.5 1308.4l-1.9 3.1l-1.6-2.6zM720.6 1313.1l-3.8 0l2.3-2.7zM716.6 1316.4l3.6 0l-1.7 2.3zM749.3 1296.2l3.9-.5l-.1 3.4zM756.5 1296.3l3.4 1.7l-3.5 1.8zM761.7 1295.2l-3.7-1.8l3.3-2.6zM812.8 1295.6l-1.2 4.2l-4-2.8zM816.1 1296l3.7 2.9l-4.9 1.2zM774.9 1272.6l2.6 4.4l-5.5-.4zM783.4 1276.7l2.2-4.6l2.9 3.8zM782.5 1270.7l-2.1 4.6l-2.6-4.3zM801.4 1324.5l.3-4.1l3.6 3.3zM747.9 1303l-.5-4.1l3.9 3zM744 1298.2l.6 4.5l-4.3-1.7zM729.9 1313.7l-3.6-.3l2.2-3.4zM785.4 1381.7l-2.5 1l.3-1.8zM784.9 1385.5l2.8-1.2l-.4 2.2zM861.6 1344.2l-5.1 0l3.2-3.6zM811.8 1317.1l3.3 2l-4.1 2.4zM842.3 1394.4l3.8 .9l-1.8 2.7zM848.4 1397.8l1.6 3.7l-3.3-1.2zM956.4 1346.4l-4.5 3.7l-.6-4.2zM939.3 1390.2l4.8-.9l-2.6 4.9zM943.8 1386l-4.4 .8l1.4-3.9zM936.6 1392l2 3.8l-4.5-.4zM910.6 1286l-5.9 1l1.8-4.2zM903.4 1281.7l-1.7 4l-2.8-4.2zM900.7 1292.7l.4 5.7l-3.6-2.9zM892.8 1289.9l5.4 .6l-3 2.7zM898.7 1287.2l-6.2-.7l3.1-4zM918.6 1287l4.4-1.9l1.4 4.6zM928.8 1275.2l-3.6 4l-.8-5.4zM921.9 1279.1l-4.5-3.3l3.7-1.9zM920.8 1282.4l-4.6 2l-.2-5.5zM859.1 1331l4.8 1.1l-3.2 2.9zM866.9 1333.9l1.9 3.5l-5-.8zM868 1340.6l-3.1 2.6l-1.8-3.3zM859.7 1372.1l3.4-1.2l-2.2 4.3zM862.7 1367.6l-3.5 1.2l-.1-3.6zM923 1336.2l-2.1 5l-2.1-3.9zM938.9 1332.6l5.1 .5l-2.8 3zM944.4 1329.8l-5.4-.5l2.8-3.5zM911.8 1326.5l2.4-5.5l2.4 3.8zM908.8 1325.2l-1.4-3.3l3.4-1.3zM911.9 1330l4.9-1.7l-1.3 4.9zM904.5 1323.6l1.5 3.5l-4.8-1zM864.7 1253.7l-1.5 5l-3.8-3.5zM866.5 1259.2l1.5-5.1l4.1 3.4zM833.3 1273.7l3.9 3.4l-4.9 1.5zM839.7 1266.9l-5.1 1.3l1.3-4.2zM835.7 1271.4l5.3-1.4l-1.3 4.9zM852 1286.6l5.2-1.4l-1.7 4.7zM838.3 1280.3l-1.1 4.6l-3.7-3.2zM845.3 1284.7l-4.9 1.1l1.1-4.8zM838.2 1304.1l-4.4 .2l1.5-4zM830.6 1303.3l-3.4-2.8l4.9-1.2zM820.6 1302.1l-1.7 3.8l-3-2.7zM820.4 1316l.4-4.6l3.5 2.2zM823.7 1309.4l4.6-1l-1.5 2.9zM827.6 1305.1l-5.3 1.2l1.8-4zM816.7 1308.4l-3.9 2.7l.8-5.5zM817.5 1311.9l-.5 4.5l-3.3-2zM826.1 1297.3l1.4-4.1l3.6 3zM834.6 1287l-5.3 1.2l1.6-4.4zM830.4 1291.3l5.2-1.1l-1.6 4.1zM819 1294.1l5.2-1.3l-1.5 4.1zM766 1261.6l-1.6 4.2l-3.7-4.6zM768.8 1263.5l2.9 4.2l-4.4-.2zM771.5 1261.7l5.4-.1l-2.2 4.6zM1066.1 1266.3l5.8-5l1.1 7.8zM1069.7 1258.9l-5.7 4.9l-1.4-7zM978.3 1295.3l3.8 4.7l-5.6 .6zM982.7 1303.3l-1.9 4.6l-3.4-4.1zM991.5 1308.3l-3.2-5.2l5.1 .2zM983.6 1309.7l1.9-4.7l3.2 5.1zM959.2 1318l3.1 4.1l-4.8 .8zM963.6 1325.2l-.1 4.9l-4.8-4.1zM972.4 1313.4l5.5-.4l-2.6 3.8zM977.9 1309.7l-6 .4l2.5-4.7zM967.9 1320.5l1.7-5.2l3.1 3.5zM966.5 1314.3l-1.8 5.5l-3.2-4.2zM926.4 1284.8l5.6 .7l-4.2 4.2zM933.1 1282.3l-5.6-.7l3.7-4.1zM937.2 1302.9l5.6-2.3l-1.6 4.4zM997.3 1317l-2.8-4.1l5.7-1.7zM997.4 1323.7l2.4 4.6l-4.8-.1zM988.8 1323.2l5.6-.8l-2.5 4.5zM994.6 1319l-5.7 .9l3-4.9zM1011.8 1348.4l-5.2-1.4l1.7-4.4zM1006.4 1350.3l5 1.4l-4.3 3zM1003.8 1345.1l-4.1-4.3l5.9-.2zM1000.8 1346.7l-4.5 .3l.7-4.3zM992.9 1351.9l.3 4.5l-4.1-1.8zM991.4 1359.2l-4.9 2.7l.6-4.6zM1001 1363.7l-2.8-3.4l4.8-.7zM999.1 1356.8l4.2-4.9l.7 4.3zM1000.6 1350l-4.2 4.9l-.3-4.6zM993 1336.2l-5.4-2.2l3.7-1.9zM986.2 1341.1l-.6-4.3l5.8 2.3zM985.8 1331.3l.8-5.5l3 3.5zM964.3 1345.4l5.2-2l-2 3.9zM969.8 1339.7l-6.4 2.5l2.4-5.9zM977.3 1339.7l5-2.8l.5 4.2zM987.4 1299.8l1.6-4.9l3.5 5zM986.1 1293l-1.5 4.9l-3.7-4.6zM1020.9 1257.3l3.3 4.7l-4.7 3.1zM1013.1 1261.5l4.4-4l-1.3 7.5zM1011.3 1258.6l-2.3-5l7.1 .7zM710 1355l.7 .1l-.5 .8zM706.3 1357.2l.6-.7l.3 1zM704.9 1353.8l-.5 .6l-.2-.8zM706.5 1350.9l-.7-.3l.8-.5zM704.3 1330.7l.6 1.2l-1.4 .3zM711.3 1335.8l-1.2-1.6l1.5-.3zM708.4 1323.7l-1.9 .7l.3-2.1zM711 1317.9l-.5 3.3l-2.1-1.8zM713.7 1321.7l.5-3l1.7 2.1zM710.2 1330.8l1-1.9l.4 1.6zM708.4 1327.2l-1.1 2.1l-.6-1.5zM700.3 1329.7l.9-.2l-.6 1.1zM698 1351.4l-.2-.8l.8 .5zM699.5 1347.8l.6-.2l.1 .6zM585.8 1384.1l.6-.3l0 .6zM716.7 1453.4l.5-.5l.1 .7zM692.4 1430.9l.6-.4l0 .5zM710.7 1387l.7 .4l-.8 .3zM713.3 1384.7l-.6-.3l.5-.3zM710.9 1381.6l-.6 .3l-.2-.6zM706.9 1382.1l-.7-.2l.5-.5zM722 1388.3l.7 .9l-.9 .2zM718 1388l.8-.5l-.2 1.1zM724.6 1382.6l.6-.7l.3 .6zM725.1 1386.9l-.8-1l1.2-.1zM717.4 1384.5l-.8 .5l0-.9zM722 1380.6l-.3-1.2l1 .3zM718.5 1380.1l.3 1.4l-1.2-.6zM731.2 1397.6l.8 .8l-1.2 .1zM733.8 1395.5l1.2-.3l-.3 1.2zM734 1392l-1.1 .3l.4-1zM729.7 1391.6l-.9-.8l1.2-.2zM727.1 1397.5l.7-.3l-.2 .6zM727.3 1393.9l-1.3 .4l.4-1.3zM927.8 1482.7l.4-1.2l.8 .7zM927.5 1475.3l-.5-.8l1-.2zM931.2 1479.7l.9-.3l-.4 .8zM932.3 1476l-1.7 .4l.7-1.5zM921.2 1483.7l.6 .8l-1.1 .2zM917.1 1483.2l.8-.2l-.4 .7zM923.7 1481.5l1.1-.3l-.5 1.1zM916.4 1479.9l-.7 .2l-.1-.5zM925.1 1477.8l-1.2 .2l.6-1.2zM895.3 1466.8l-.4-1l1.3-.3zM909.6 1463.6l-1.4 .7l-.1-1.3zM904.1 1469.6l-.3 .9l-.5-.6zM904.9 1464.1l-1.3-.7l1.2-.5zM901.8 1466.1l.9 .5l-.8 .3zM961 1469.4l1.3 .7l-.8 1.1zM962.6 1455.5l.5 2.8l-2.9-1.1zM961.9 1461.4l-2.4 1.8l-.6-2.9zM966.5 1458.3l-.5-3l3.2 1.4zM970.4 1463.3l-2.4-2.1l2.8-1.6zM963.4 1464.5l-.2 2.4l-1.7-1zM966.5 1467l.2-2.6l1.9 1.7zM979.5 1458.2l-1.7 2.3l-1.7-2.3zM975.4 1462.8l-1.8 .9l.4-2.8zM980.3 1462.7l1.5-2.1l.6 3.1zM935.7 1493.5l.4-.7l.3 .9zM939 1491l.7 .2l-.4 .8zM932.9 1490.2l.9 0l-.5 .8zM939.5 1487.8l-.7-.2l.4-.6zM936.7 1484.5l-.5 1l-.8-1zM933.1 1486.9l-.7-.1l.2-.6zM928.2 1528.8l.5-.6l.3 .7zM905.4 1496.7l-.4-.5l.6-.1zM935 1529.3l.3 .6l-.7-.1zM948.6 1506.1l.1-.7l.6 .6zM947.4 1511.6l.5 .6l-.7 .1zM950.5 1510.1l-.8-.8l1-.2zM943.6 1510.2l.7-.1l-.1 .7zM945.6 1504l-.2 .9l-.7-.8zM942.9 1507l-.8 .1l.1-.8zM941.1 1540.9l-.6-.4l.5-.3zM918.1 1447.5l3-.4l-1.9 2.5zM921.2 1443.7l-3.1 .5l.9-2.5zM913.4 1449.5l1.6-.9l.8 1.6zM912.8 1446l-2.1 1.2l-.1-3.1zM915.8 1440.9l-.9 2.5l-2.4-1.9zM771.3 1414.8l-.4-1.4l1.2 .2zM771.5 1410.2l.9-1.4l.4 1.5zM790.5 1418.7l.5-1.5l1.1 1.2zM787.5 1411.2l.5 1.5l-1.7 .2zM787.9 1416l-.5 1.6l-1.2-1.4zM773.6 1447.6l-.7-.3l.5-.4zM776.8 1447.3l-.1-.8l.7 .2zM772 1440.8l.7-.4l0 .8zM778.8 1436.9l-.2 .6l-.6-.3zM775.9 1439.9l.7 .3l-.6 .6zM782.2 1437.3l.1-.6l.5 .3zM781.7 1442.6l.9 .5l-.7 .3zM765.7 1412.8l-.7 1.1l-.4-1.2zM767.4 1416.4l.6-1l.4 1.2zM767.8 1419.8l.7 .2l-.3 .6zM764.2 1422l.5-1l.6 1.2zM762.1 1415.5l-1-.2l.6-.9zM761.2 1418.7l.9 .1l-.4 .8zM751.5 1411.6l-.5 .4l-.4-.7zM754.6 1413.4l.3 .6l-.8-.2zM758.4 1413.4l-.5-.9l1.1 0zM755.7 1429.8l.5-.4l.2 .5zM755.2 1402.7l.7 .9l-1 0zM758.3 1409.2l.8-1l.5 1zM756 1406.9l-.6 .8l-.4-.8zM733.1 1412l-.6 .8l-.2-.6zM836.8 1459.9l-.1-.7l.7 .1zM834.6 1453.3l-.3 .8l-.5-.5zM837.1 1455.9l.4-.9l.4 1zM830.9 1458.3l-.6 .6l-.4-.7zM805.3 1411l.8 1.7l-1.9 .2zM797.5 1396.3l-2.1 2.5l-.4-2.4zM798 1400.8l1.6-2l.1 1.9zM895.1 1448l.6 1.4l-1.3 .5zM898.5 1447.5l-.7-1.8l2.1 .6zM899.4 1459.8l-.7-1l1.4-.6zM898.5 1455.3l.4-2l1.4 1.2zM895.6 1452.9l-.3 1.6l-.9-1.1zM895.8 1462.2l.6-1l.5 .8zM869.8 1463.3l.2 1.1l-1-.6zM873.2 1463.7l.6 .4l-.5 .4zM867.3 1459.8l.8 .6l-.7 .5zM886.4 1445.2l-1.5-1.1l1.9-.9zM890.1 1448.4l1.8-1.1l-.8 2.2zM891.7 1443.5l-1.8 1.2l.3-1.9zM898.7 1427.4l.4-3l2.6 2.4zM895.4 1426.9l-3.1-1.7l3.6-1.6zM893.5 1429.6l-2.1 1.4l-.5-2.9zM875 1435.7l2.7 .7l-1.8 1.3zM879.5 1431.4l.1 2l-2.8-.7zM879.9 1438.8l.1 2.2l-1.7-.9zM883.3 1441.2l-.1-2.6l2.4 1.5zM885.8 1436.3l2.4-.5l-.4 1.8zM883 1433.6l-.2-1.9l2.6 1.3zM819.2 1440.1l.9 .1l-.3 .9zM827.1 1435.2l-1.5 .6l.4-1.1zM822.3 1435.1l-.8-1.4l1.3 .1zM819.5 1436.8l-1.2-.1l.4-1.2zM831.8 1442.4l1.6-.4l-.5 1.2zM831 1439.1l.6-1l.9 .7zM829 1445.4l.1-.9l.8 .6zM827.2 1439.2l-.6-.3l1-.3zM824.4 1444.7l1.5-.6l-.2 1.2zM823.4 1441l.6 .3l-.9 .3zM394 1530.8l.7-.3l0 .7zM265.6 1377l-.4 .5l-.2-.7zM374.5 1389.1l.7-.4l0 .6zM427.5 1545.7l-.6 .4l0-.7zM246.6 1550.3l-1-.1l.5-.7zM238.2 1553.2l1.1 0l-.7 .9zM243 1548.1l-.4 .5l-.4-.6zM239.5 1549.9l-.9 0l.4-.7zM252.2 1556.4l-.9 .4l0-1zM243 1574.1l.4 1.1l-.8-.1zM241.4 1566.4l-.5-.4l.5-.4zM249.7 1579l-.4 .5l-.3-.6zM245.9 1580.1l.4 .7l-1 0zM245.9 1584.1l-.4 .6l-.3-.6zM359.6 1645.4l0-.9l.7 .3zM365.7 1560.1l.6 .3l-.7 .2zM249.8 1480.3l.4 .7l-.8 0zM253.1 1479.4l-.4-.7l.8 .1zM249.4 1484.3l.8 0l-.4 .7zM256.5 1481.3l-.7-.1l.4-.6zM253 1475.4l.6-.7l.3 .8zM251 1471.4l.6 .4l-.5 .7zM256.7 1473.5l.8 .2l-.6 .5zM234.4 1471.7l.6-.9l.5 .8zM234.7 1544.6l.5-.8l.6 .8zM238.5 1542.6l.9 .1l-.5 .6zM233.7 1571.9l-.7 .4l.1-1zM235.8 1568.3l-.2 .8l-.6-.5zM239.8 1569.4l-1 .3l.3-.9zM239.6 1580.2l-1-.2l.7-.7zM238 1583.2l1 .2l-.5 .7zM234.3 1575.4l-.3 1.4l-.6-.9zM234.2 1585.5l.7-1.1l.6 1.1zM252.7 1543.4l-.4-.5l.7 0zM249.4 1544.4l.4 .6l-.7 0zM245.6 1542.8l.9 .1l-.4 .7zM239.3 1527.8l.3 .7l-.8-.1zM231.8 1527.2l.6-.6l.4 .8zM235.6 1525.7l1 .2l-.6 .7zM283.2 1688.3l.6-.9l.3 .8zM286.5 1685.5l.6-.1l-.3 .7zM302.3 1687l.3 .7l-.7 0zM305.3 1685.8l-.3-.7l.7 0zM290 1687.1l.3 .8l-.8 0zM259.6 1656.9l-.4 .5l-.3-.5zM255.8 1658.3l.4 .5l-.7 0zM262.4 1662.7l-.3-.5l.7 0zM262.2 1658.9l.4-.6l.3 .6zM238.7 1651.6l-1 .6l0-.7zM235 1658.9l.6-.8l.4 1zM233.1 1656l-.8 .9l-.5-1.2zM234.4 1652.2l0 .8l-1-.3zM238.9 1657.4l.7 .2l-.4 .5zM245.7 1658l-.4-.5l.7-.2zM259 1674.7l.4 .5l-.7 .2zM255.2 1673.4l.8-.1l-.4 .8zM249.6 1670.5l-.9 0l.5-.7zM253 1664.5l-.8 .1l.4-.7zM256.2 1662.1l-.4 .7l-.4-.7zM252.7 1667.9l-.4 .8l-.4-.7zM255.3 1670.1l.4-.7l.3 .6zM258.8 1668.1l-.4-.6l.7 0zM258.8 1664.2l.4-.6l.3 .6zM239.3 1676.1l-1.2 0l.6-1zM242.9 1673.8l-.6 .9l-.6-1zM359.7 1686l.5-.2l-.1 .8zM345.8 1686.7l-.7-.1l.4-.7zM356.6 1681l-.5-.7l.7-.1zM358.7 1671l.4-.7l.3 .6zM382.7 1688.2l0 .9l-.7-.4zM386 1688.8l0-.8l.6 .3zM401.1 1686.3l-.5-.6l1-.1zM404.8 1687.9l-.7-.1l.4-.6zM398.3 1688l-.9 .2l.3-.9zM320.2 1688.2l.3-.6l.3 .6zM314.5 1687.2l.4 .7l-.8 0zM318 1685.4l-.4 .6l-.3-.7zM336.1 1681.9l-.6 .1l.3-.7zM339.2 1679.4l-.4 .6l-.3-.6zM342.2 1685l-.3-.6l.7-.1zM342 1681.1l.3-.6l.4 .5zM283.2 1577.3l.7 .4l-.6 .5zM249.9 1599.3l-.4 .7l-.4-.7zM245.8 1604.4l.7 .1l-.4 .5zM246.3 1601.2l-.7-.1l.3-.6zM249.4 1606.2l.4 .7l-.9-.1zM252.9 1605.7l-.4-.8l.8 0zM259.6 1594.2l-.4 .6l-.3-.6zM259.2 1601l.4 .5l-.7 .1zM249.9 1618.7l-.2 .7l-.6-.5zM253.1 1619.7l.2-.6l.6 .3zM249 1627.3l.7-.9l.1 .9zM268.5 1627l.2-.6l.3 .6zM496.9 1681.9l.4-.6l.3 .7zM494.6 1679.3l-.3 .6l-.3-.7zM525.3 1680.2l-.3-.8l.8 .1zM506.1 1668.3l.6 0l-.3 .6zM449.6 1684.9l.7 .1l-.4 .5zM446.3 1687.1l.4-.7l.4 .7zM449.5 1681.6l.4-.7l.3 .7zM446.9 1679.5l-.3-.6l.6 .1zM444.1 1681.3l-.7 0l.3-.7zM410.5 1673.8l.6 .3l-.7 .5zM382.9 1682.6l-.8-.3l.8-.4zM380.2 1685l.8 .4l-.7 .4zM376.4 1685.8l.5-.5l.1 .8zM375.5 1682.3l-.8 .6l0-1.3zM387.1 1682.2l-.9 .4l0-.8zM395.2 1681.8l-.9-.2l.8-.8zM338.5 1675.6l.4 .5l-.7 0zM440.7 1664.2l.4-.5l.3 .6zM437.6 1669.8l.4-.6l.2 .6zM310 1277.9l-.5 .2l.2-.7zM315.4 1277.5l.3-.5l.3 .6zM328 1277.2l.3-.7l.4 .7zM322.7 1277.5l-1 .2l.4-.9zM325.4 1274.8l-.2 .6l-.5-.6zM354.1 1298.8l-1 .2l.6-.8zM288.4 1270.7l-.8 .1l.4-.8zM293.4 1271.3l.4-.8l.3 1zM291.5 1267.7l-.4 .9l-.5-.8zM339.8 1268.2l.9 .1l-.6 .7zM341 1265l-1.3-.1l.7-1.1zM336.6 1270.7l.4-.7l.3 .7zM334.2 1268.1l-.5 1l-.4-1zM333.8 1263.8l.5 1l-1 0zM337.6 1262l-.5 .9l-.6-1zM333.6 1282.8l-.7 .2l.1-.8zM329.8 1281.2l-.5-.6l.7 0zM347 1280.8l.9-.5l-.1 1zM346.9 1277.1l-.7 .4l.2-.8zM235.7 1360.7l-.4 .7l-.5-.7zM255.6 1347l.5-.6l.4 .8zM256.9 1329.1l-.6-.4l.7-.3zM254.7 1331.6l.8 .5l-.7 .8zM238.5 1341.5l.4-.6l.5 .5zM239.2 1345.4l-.5-.6l.9-.1zM235.5 1346l.5 .6l-.9 0zM235.3 1340.5l-.5-.5l.8-.1zM249.7 1339.5l-.5-.5l.9-.1zM253.6 1341.1l-.9-.1l.5-.8zM245.9 1331.3l-.7 0l.4-.5zM234.2 1326.3l.5-.7l.5 .7zM234.6 1330.3l-.5-.7l1 0zM238 1334.7l.9-.1l-.4 .6zM238.8 1331.3l-.9 .1l.4-.7zM234.3 1336.7l.5-.8l.6 .7zM240.9 1389.9l.4 .7l-.9 0zM244.2 1389.2l-.4-.9l1 0zM279 1277.6l-.6 .1l.3-.7zM282 1274.7l-.4 .7l-.4-.6zM278.1 1269.2l.8-.1l-.4 .8zM272.5 1266.2l-.9 .1l.4-.8zM275.2 1264.4l-.5-.8l1-.1zM279 1265.7l-.8 .1l.4-.8zM275.5 1276.1l-.4-.8l.8-.1zM275.1 1272l.4-.7l.3 .6zM272.6 1269.5l-.4 .9l-.5-.8zM268.9 1264.5l-.5-.9l.9 .1zM268.3 1260.3l.4-.9l.5 .9zM263 1259.9l-1 0l.5-1zM259.3 1292l-.5 .8l-.2-.7zM260 1278l-1-.1l.5-.8zM256.1 1264l-.5-1l1 0zM249.5 1258.6l.6 1.2l-1.3 0zM256.6 1259.7l-1.1 0l.6-1zM235.8 1270.9l.6 1.1l-1.3 .1zM238.7 1455.5l.4-.5l.4 .6zM236.4 1453l-.3 .5l-.3-.7zM232.9 1454.5l-.9-.2l.5-.7zM255.8 1453.9l.8 .1l-.5 .4zM245.2 1424.4l.4-.6l.5 .6zM238.1 1428.2l1-.2l-.4 .9zM235.1 1431.1l.4-1l.5 .8zM276.1 1447.3l.1 .6l-.8-.3zM252.8 1424l.3 .6l-.7-.1zM249 1422.7l.7 0l-.4 .5zM249.8 1419.4l-.9 0l.5-.7zM259.1 1428.3l.7 0l-.4 .7zM266.2 1425.4l-.6 0l.3-.5zM248.9 1450l.5 .5l-.7 .2zM246.8 1443.6l-.7-.6l.7-.1zM1009.5 1510l-1.4 .3l1.1-1.5zM1005.1 1508.7l-.3-1.1l1.3-.2zM1006.9 1513.8l1.3-.2l-.8 1.2zM1002.1 1510.2l.2 .9l-.9 .1zM1003.5 1517.2l.8-1.3l.4 1zM1001.2 1514.6l-.7 1.1l-.3-1zM992.8 1507.2l-1 .7l-.1-1.6zM997.8 1508.6l1.5-.2l-1 1.5zM994 1510.4l.8-.6l.3 1zM982.9 1510.1l-.7-.8l.9-.3zM987.2 1510.5l-1.1 .4l.2-1.1zM993.6 1514.6l-.4-1l1.2 .4zM997.5 1517l-1.1-.4l.7-.6zM1077.3 1548l-.7-1.3l1.8 0zM1042.2 1567.7l-.5-.5l.8-.3zM1040.8 1564l.1-1l.9 .6zM1039 1570.5l.4-.9l.5 .5zM1035.1 1565.4l.7 .7l-.8 .3zM1037.6 1563.2l-.6-.5l.7-.2zM1039.3 1556.4l-.4-.6l.7-.2zM1033.3 1553.4l.4 .6l-.6 .2zM1036.5 1559.4l.3-.8l.4 .6zM1038.9 1552.3l.3-.9l.4 .6zM1035.8 1551.3l-.5-.7l.8-.3zM1048.3 1544.5l1 .9l-1.3 .1zM1044.2 1543.4l1-.1l-.2 .8zM1042.8 1539.2l.9 .9l-1.2 .1zM1077.8 1585.7l-1.2 0l.7-.9zM1060.6 1563.5l-.7 .3l0-.8zM1056.7 1564.2l-.8-.2l.7-.6zM1074.5 1572.6l-.2 .6l-.5-.1zM1074 1579.7l.8-.9l.3 1.1zM1072.7 1576.2l-.8 .8l-.1-1.1zM1046.9 1474.1l2.6 4l-4.4 .2zM1049.6 1472.2l4.2 .1l-1.7 3.8zM1046.6 1467l-2.1-4.4l4.5 .2zM1053.7 1469l-4.4-.1l2.3-4.1zM1067.2 1424.4l-3.4 5.1l-1.7-4.3zM1066.5 1431.4l3.5-5.2l1.3 5.3zM1078.3 1416.5l-5.3 2.7l1.3-6.2zM1074.5 1430.5l-1.3-5l5 2.7zM1074.3 1422.3l5.3-2.8l.1 5.8zM1052.6 1409.3l-1 5.2l-3.5-2.8zM1051.9 1406l-4.9 2.6l.6-6zM1056.8 1403.8l.6-5.7l4.7 3.6zM1054.1 1397.7l-.5 5.4l-4.2-3.2zM1038.5 1344.8l5.1-1.5l-1.6 5.6zM1035.6 1352.6l1-5l3.2 3.8zM1035.7 1335.5l-1.1 5.2l-3.7-3.4zM1042.9 1340.1l-5.1 1.5l1.1-5.4zM1032.6 1343.4l-5 2.1l1.2-5.7zM1033.4 1346.6l-1 5.3l-3.9-3.2zM1050.6 1316.8l.2-5.5l5.4 3.5zM1057.7 1303.7l-6.3 2.2l1-5.7zM1053 1308.8l6.4-2.2l-.8 5.8zM1047.5 1310.7l-.1 5.6l-5.8-3.5zM1039.7 1330.7l.2-5l5.1 3.6zM1042 1323.2l5.2-1.7l0 5.3zM1045 1318.8l-5.1 1.6l-.3-5zM1031.7 1326l4.9-1.2l-.2 4.8zM1048.1 1305.6l-5.3-3.5l6.3-2.2zM1040.4 1304.5l5.2 3.4l-5.8 2zM1029.2 1286.3l-.8 5.2l-4.8-3.8zM998.6 1373.5l-3.6-2.6l4.3-1.6zM994.2 1367.7l1.6-5.2l2.8 3.5zM992.3 1362.5l-1.6 5.2l-3.3-2.5zM985.8 1368.1l3.1 2.3l-3.4 2.6zM990.4 1373.4l.8 5.8l-4.7-2.8zM993.8 1374.1l3.4 2.5l-2.7 2.5zM976.4 1415.9l-3.3 3.3l-.6-4.3zM970.5 1429.9l1.9-4.1l2.8 3.5zM978.3 1427.9l-2.8-3.4l5.1 .2zM975.8 1421.2l3.4-3.4l1.8 3.6zM969.1 1425.1l-1.8 3.9l-2.7-2.8zM963.6 1419l4.4 3l-4.7 1.1zM969.8 1419.2l-4.1-2.8l3.5-1.4zM940.2 1372.5l4.1 2.5l-3 2.1zM945.7 1378.1l-.1 5l-2.9-3zM949 1377l3.8 .9l-3.9 4.7zM1003.6 1413.5l3.7-3.3l0 4.4zM1011.9 1403.8l2.1-4.8l2.9 3.2zM1010.6 1409.8l4 2.8l-4 1.7zM1012.5 1407.1l5.2-1.7l-.9 4.8zM980.2 1391l-2.1-4.8l4.2 1.6zM982.9 1384.5l-4.6-1.7l4-3.1zM967.9 1387.8l4.4-1.7l-1.8 5.1zM975.2 1387.8l2.1 5l-3.9 .1zM971.2 1383l-4.2 1.6l.1-4zM976.6 1380l-.1-5.5l4.1 2.3zM973.2 1374.7l.1 5.7l-4.6-2.8zM1073 1611.8l-.9-.1l.5-.7zM1069.5 1609.7l-.3-.6l.6 0zM1075.3 1617.6l.5-.7l.5 .9zM1069.3 1616.2l.4 .7l-.9 0zM1077.7 1589l-.6 .8l-.5-.8zM1068.7 1577.8l-.8-.5l.7-.6zM1035 1679.9l-.3-.8l.7 0zM1029.4 1675.8l-.7 0l.3-.6zM1044.2 1673.9l-.3-.6l.6 0zM1041.3 1675.4l.3 .7l-.7 0zM1047.6 1676.1l-.8 0l.4-.8zM1046.8 1679.4l.8 0l-.4 .8zM1038.3 1682.1l-.7 0l.4-.7zM1041.4 1679.4l-.4 .7l-.3-.7zM1043.6 1682.2l.5-.9l.4 .9zM1043.5 1685.5l.8 0l-.4 .7zM1044.1 1670l.3-.8l.3 .8zM1034.1 1686.8l.4 1l-1.1-.2zM1040 1688.1l.6-1l.5 1zM1037.8 1685.4l-.4 .6l-.3-.7zM1047.1 1687.2l.5 1l-1 0zM1001.2 1547.1l-.5-.6l.7-.1zM1023.4 1540l-.1-.7l.7 .2zM1023.6 1536.1l.3-.7l.5 .8zM1017.5 1535.8l.6 .6l-.7 .2zM1020.8 1534.4l-.6-.6l.8-.1zM1010.5 1547.1l.5 .8l-.7 0zM1007.6 1545.3l-.2 .8l-.6-.7zM1005.8 1541.6l.6 .6l-.7 .1zM1019.4 1545.5l.6-.2l-.1 .7zM1000.7 1537l.6 .5l-.8 .2zM980.2 1566.2l-.6-.2l.5-.4zM955.6 1513.2l-.1 1.5l-1.1-.8zM964.9 1538.5l.8-.4l-.1 .7zM977.1 1511l-.1 1.2l-1-.8zM975.4 1515.2l-.6 .4l-.1-1zM980.9 1512.8l-.7 .2l.1-.9zM976.9 1518.2l.5-.4l.2 .7zM980.3 1516.4l.8-.3l-.5 1zM975.4 1522l0-.9l1.1 .5zM971.4 1525.5l-.4 .6l-.3-.8zM1061.6 1585l-.4 .8l-.3-.8zM1066.4 1580.9l.1-.6l.6 .3zM1060.5 1580.7l.7 1l-.9 0zM1023.3 1562.5l-.4 .7l-.4-.6zM1016.9 1552.1l-.3-.8l.9 0zM750.5 1685.6l-.6 .9l-.4-.9zM720.4 1666.6l-1 .7l.2-1.2zM727.8 1668.5l-.6-.6l.9-.1zM735.1 1678.7l-.4 .7l-.4-.6zM738.2 1681.3l-.7 0l.3-.7zM731.6 1680.7l.4 .7l-.7 .1zM731.9 1684.7l-.3 .6l-.3-.5zM697.6 1688.4l.4-.7l.3 .8zM695.5 1685.3l-.3 .6l-.3-.7zM614.7 1687.8l.3 .6l-.6 0zM635 1685.2l.7-.1l-.4 .8zM641.3 1684.9l-.3-.5l.7-.1zM638.7 1679.1l-.3 .7l-.4-.7zM682.3 1682.1l.3-.7l.3 .6zM679.5 1680.2l-.2-.5l.6-.1zM682.9 1686.4l-.6-1l.9-.1zM676.2 1685.5l.8 0l-.2 .6zM676.4 1681.4l.4 .8l-.9 0zM648.2 1669.7l.4 .7l-.8 0zM650.2 1656.8l.6 0l-.3 .5zM629 1673.9l.6 0l-.4 .6zM635.1 1673.8l.6-.1l-.3 .6zM641.5 1670.3l.3-.6l.4 .6zM723.7 1654.3l.5 .5l-.6 .3zM849.7 1686.8l-.7 0l.2-.6zM874.1 1669.7l.3 .8l-.8 .1zM877.2 1668.6l-.3-.8l.8 .2zM846 1685.3l-.4-.6l.7 0zM842.8 1686.4l.6 .9l-1 .1zM773.1 1689.8l-.9 .5l.1-1zM780.2 1689.9l-.6-.3l.6-.5zM777.8 1686.8l0-.9l.8 .3zM784.3 1689.1l-.8 .5l0-.9zM790.7 1688.8l.9-.6l-.1 1.1zM789.2 1685.8l0-.6l.6 .2zM790.4 1682.1l.5-.6l.2 .8zM763.9 1685.4l.1 .8l-.8-.4zM806.7 1680.4l-.3-.6l.7 0zM803.5 1681.4l.4 .7l-.7-.1zM938.6 1668.2l-.3 .6l-.4-.5zM919.7 1687.6l.3 .7l-.9 .1zM868.5 1676.5l-.6-.3l.7-.4zM872.4 1689.8l.2-.7l.4 .7zM874.7 1686.3l.9-.3l-.3 1.3zM881.5 1681.5l-.8 .1l.4-.8zM880.1 1673.4l.8 0l-.3 .7zM886.9 1681.3l.3-.6l.4 .7zM884.4 1678.9l-.3 .6l-.3-.6zM901.9 1660.2l.7-.5l0 .7zM935.3 1674l.6-.1l-.3 .6zM515.1 1686l.8-.1l-.5 .9zM521.1 1685.4l.6 0l-.4 .7zM522.4 1682l-.6 .1l.4-.7zM518.8 1680.6l-.4-.7l.9-.1zM1019.6 1674.3l.6-.1l-.3 .8zM1016.2 1676.3l.5-.5l.3 .7zM1044.7 1661.8l-.3-.6l.8-.1zM1038 1673.3l.6 0l-.3 .7zM887.1 1685.3l-.3-.7l.7 .1zM985.2 1687.8l-.4-.7l.7 0zM981.1 1688.9l.6-.7l.6 1zM984.9 1683.8l-.6 0l.3-.7zM981.7 1681.6l-.4-.6l.6 0zM978.4 1682.6l.5 .8l-.9-.1zM968.8 1688.8l-.7 .1l.4-.7zM971.5 1687l-.3-.6l.8 0zM975.3 1688.4l-.8 0l.5-.6zM959.4 1671l.4-.6l.2 .7zM956.5 1675.7l.3 .7l-.6-.1zM897 1578l-.6 .3l.1-.8zM864.6 1540.3l.7-.5l0 .8zM999.5 1407l5.6 .7l-4.1 3.7zM982.5 1417l4.9 .3l-3.2 3.1zM986.5 1410.8l1.7 3.3l-4.7-.4zM990.5 1418.9l1.7 3.8l-4.9-.7zM993.4 1417.2l3.8-.7l-2.2 4.4zM994.2 1413.7l2.5-4.5l1.3 3.8zM993.7 1407.8l-2.6 4.7l-1.8-3.4zM1032.3 1483.1l1.8 3.4l-4.1 .8zM1036.9 1484.7l-1.7-3.2l4.1 .1zM968.9 1471.5l-1.4-1.4l1.9-.8zM966.4 1476.6l-1.2 1.6l-1.1-1.5zM964.9 1472.1l1.2 1.3l-2.1 0zM994.3 1491.9l2.1 .9l-1.9 .9zM995.9 1481.5l-2.6-.7l2.1-1.7zM994.8 1484.6l-1.6 1.6l-.8-2.2zM997.2 1487l.6 2.8l-2.4-1.1zM999.2 1481.1l-.5-2.8l3.4 .8zM623.4 1259l-.8 .1l.1-.8zM606.8 1258.5l.8-.7l0 .9zM634.5 1260.3l.2-.6l.4 .6zM650.5 1266l.4-.8l.4 .7zM653.4 1262.9l.7-.1l-.4 .8zM653.2 1259.6l.3-.9l.5 .8zM663.1 1269.2l-.4-.7l.7-.1zM656.9 1264.6l.4 .9l-.8 0zM662.4 1265.2l.4-.9l.4 .8zM660.1 1262.2l-.3 .8l-.5-.8zM697.4 1302.6l2.4 .6l-1.6 1.6zM606 1262.5l-.2-.8l.7 .2zM608.9 1265.5l-.9-.1l.6-.8zM602.8 1263.5l-1.1-.5l.9-.7zM607.9 1268.7l.7 .2l-.4 .5zM605 1271.8l.3-.9l.4 .8zM599.7 1275.6l-.4 .7l-.4-.6zM596.7 1281.3l-.3 .7l-.4-.7zM601.9 1281.2l.6 0l-.3 .6zM608.6 1277.6l-.7 0l.3-.7zM621 1265l.3 .6l-.7 .1zM627 1265.4l-.7-.1l.4-1zM623.6 1263l-.3-.6l.7-.2zM620.5 1276.9l.3 .6l-.6 0zM629.7 1271.6l-.6 0l.3-.6zM623.7 1270.8l.3 .7l-.6 .1zM626.1 1277.5l.3-.7l.4 .7zM632.4 1277.1l.3 .6l-.6-.1zM570 1259.6l-.9 0l.5-.8zM547.4 1276.1l.3 1l-1-.2zM405 1290.4l-.6 .7l-.4-1zM403.4 1297.7l.3 .8l-.7-.2zM406.8 1297.3l-.3-.7l.6 .1zM391.4 1291.5l-.2 .9l-.7-.5zM401.3 1292.2l-.8-.2l.4-.7zM397.6 1290.4l-.5-.7l1-.1zM383.7 1275.9l.9 .2l-.4 .8zM387 1278.6l.4-.7l.5 .8zM384.5 1272.7l-1.3-.1l.6-1.2zM387.8 1270.6l-.4 .6l-.4-.8zM390.5 1276.6l1.2 .1l-.6 .8zM390 1273.3l.5-.8l.6 .8zM477.6 1318.5l0-.6l.6 .3zM546.6 1314.3l-.6-.6l.8-.2zM453.8 1269.7l-.4-1.2l1.1 .3zM450.3 1269.5l.3 1.1l-1-.2zM464.9 1281l-.8-.2l.7-.6zM462.3 1283.9l1.1 .2l-1 .9zM458.1 1285.2l1-.6l.1 1.1zM456.6 1282.3l-.8 .5l-.1-.8zM445.3 1273.9l0 .8l-.9-.5zM449.4 1273.7l-.8 .7l0-.9zM450.7 1276.9l1-.7l.1 1zM475.6 1292.6l.7-.2l-.1 .6zM482.5 1273.1l.5-1.5l.7 .9zM469.1 1279.3l-1 .8l-.1-1zM470.2 1275.2l.3 1.1l-1.1-.3zM476.6 1279.2l1.2-.4l-.2 1.2zM473.4 1274.5l-.3-.9l.8-.1zM477.4 1275.4l-1 .3l.5-.9zM455.7 1297.7l-.5 .7l-.3-.5zM462.4 1293.4l-1.1 0l.4-1zM509.3 1270.1l.9 .3l-.6 .8zM523.1 1271.3l-.8-1.3l1.3 .1zM522.4 1278.6l.3 1.4l-1.2-.4zM506.9 1289.7l.5 1.2l-1.3-.1zM510.4 1289.5l-.4-.8l.9 .1zM489.6 1302.6l.8 .1l-.6 .6zM492.1 1282.8l-.6 0l.2-.7zM465.9 1260.1l-1.3 .6l.2-1.1zM435.7 1284.4l.3 .9l-.7-.1zM419.7 1300.5l.7 .4l-.8 .5zM426.8 1301.7l-.5-.5l.7-.4zM425.1 1298.1l0-.9l.7 .5zM433.5 1296l.3 .9l-1-.2zM430.3 1293.5l.8 .3l-.7 .6zM437 1291.9l.7-1l.3 1.2zM412.1 1289.8l-.9-.4l.7-.4zM436.8 1276.2l-.2-1.1l1 .1zM535.2 1265.4l.4-.7l.3 .7zM533 1262.5l-.3 .6l-.2-.7zM538.3 1262.9l.8 0l-.4 .7zM547.7 1265.2l.4-.8l.4 .8zM544.6 1262.5l.7 0l-.3 .7zM544.4 1258.4l.6 .8l-.8 .1zM579.9 1295.5l0 1l-.9-.5zM533.9 1310.9l-.7 .3l.1-1zM531.9 1302l.6-.1l-.3 .7zM521.3 1283l-.7 .5l-.1-.7zM516.8 1288.6l-.3 1l-.4-.8zM498.7 1274.1l-.8 1.2l-1.2-1.2zM505 1271.7l1.1-1l.3 1.5zM505.2 1276.5l-.6-1.4l1.3 .4zM501.4 1275.9l.5 1.4l-1.2-.3zM504 1260.7l-1.1 .7l0-1.2zM504.6 1264.3l.9-.6l0 1.1zM499.6 1260.4l0 1.4l-1.3-.7zM498.2 1264.7l-.8 .6l-.2-1zM503.3 1268.8l-.1-1.4l1 .5zM500 1267.5l0 1.4l-.9-.8zM706.7 1258.5l-3.1 1.1l.5-3zM708.1 1261.5l-.6 4.1l-2.9-2.8zM713.1 1259.5l3.4-1.4l0 4.5zM710.6 1266.8l.7-4.5l3.6 3.3zM738 1276.3l.8 4.9l-4-2.3zM731.1 1272.1l4.8 1.7l-3.3 2.6zM736 1266.1l1 4.6l-5-1.8zM688.1 1328.2l0-.8l.7 .3zM687.1 1316.9l.8 1l-1-.1zM690.5 1315l-.1 .7l-.6-.7zM689.3 1324.3l.7-.8l.1 1.1zM687.7 1321.2l-.5 .6l-.2-.6zM693.6 1316.5l.2-.9l.9 .3zM709 1299.2l.3 3.5l-3.1-1.1zM712.5 1301.9l-.2-3.7l3.4 1.1zM713.5 1295.1l3.1-3.3l.5 4.5zM714.3 1289.4l-3.1 3.3l-1.2-3.8zM717.4 1284l-2.3-4.3l3.9-.6zM712.5 1281.9l2.3 4.3l-4.4-.6zM719.2 1275.7l-3.8 .7l2.4-5.3zM712.6 1274.4l-1.7-4.2l4.2-1.2zM889.3 1329.5l-.3-3.9l4.4 1.6zM885.4 1320l-3.1-2.2l3-2.8zM877.5 1311.4l.4 4.7l-3.7-.6zM881.1 1314.5l-.4-4.6l3.3 1.7zM865.8 1297.7l2-4.8l3.1 3.7zM868.8 1282l-2.1 4.9l-3.5-3.3zM860.6 1285.7l3.4 3.2l-5.2 1.5zM864.5 1292.2l-2 4.8l-3.2-3.3zM873.6 1294.7l-3.1-3.6l5.2-.6zM869.9 1287.8l2.2-5l3.4 4.4zM860.1 1299.3l-4.5 1.5l1.3-4.8zM869 1304.4l-2.9-3.4l4.9-1zM876.1 1305.5l-4.1 .2l2-4.3zM871.4 1309l3.8-.1l-3.1 3.9zM892.4 1302.6l-4.2-3.3l4.8-1.4zM887 1302.5l4 3.2l-3 2.4zM899.8 1301.5l-4.2 1.6l.6-4.4zM897.5 1305.9l4.1-1.6l.3 4.2zM896.4 1314.1l-.7-5.4l4.8 2.8zM889.6 1311.1l2.8-2.3l.5 4.6zM876.9 1271l-3.8 4.3l-.2-4.6zM879.6 1272.9l1.6 4.5l-5.8 .3zM880.8 1266.5l-2.4-5.8l5.8 1.7zM875.6 1262.5l2.1 5.3l-4.2-.4zM889.1 1268.9l-5.5-.6l3.2-3.8zM884.2 1276l-1.5-4.5l5.6 .6zM983.1 1253.8l6.9-.1l-3.5 5.2zM904.9 1304.7l4.8 2.4l-4.4 1.9zM912.1 1309.7l.1 4.9l-4.8-2.9zM916.6 1305l2.4-4.7l2.7 3.9zM917.8 1308.2l4.9-.8l-.3 4.1zM915.6 1315.4l-.2-4.9l4.7 3.5zM899.3 1258.6l-1.5-4.6l5.4 1.1zM894.7 1255.2l1.5 4.7l-5.5 0zM851.4 1396.4l3.9 .6l-2.1 3.7zM865.1 1394.7l-4.2-.4l2.5-3.3zM858.3 1392.4l-1.7-4l4.2 .6zM855.2 1393.6l-3.7-.5l2.1-3.3zM858.8 1411.6l2.2-3l.4 2.4zM855 1406.1l3.7 0l-2.9 4zM857.7 1399.4l1.6 3.4l-3.5 0zM862.2 1401.3l-1.7-3.7l4.2 .4zM864.9 1403.1l2.5-3.3l1.7 3.7zM864.5 1409.2l-.6-2.9l3.7 .4zM775.9 1294.5l4.2-1.6l-.1 3.7zM768.6 1294l-3.5 1.5l-.4-4.4zM732.9 1288.2l-3.6-2.1l2-3zM738.6 1284.8l-2.3 3.3l-1.7-5.5zM732.4 1291.8l-3.6 1.9l-.1-4.1zM730.7 1296.5l3.7-2l.5 4.1zM737.7 1294.3l4.1 1.4l-3.6 2.8zM738.3 1291l2.3-3.2l1.8 4.6zM801.2 1288.4l4.4-.2l-2.1 4.5zM808.8 1289.2l3.3 3.2l-5.5 1.5zM788 1283l-3.6-3.1l4.8-.7zM782.6 1282.7l3.5 3l-3 1.9zM795 1284.8l-4-.4l1.1-3.6zM805.5 1310.6l2.2 2.9l-4.2 1zM799.7 1307.8l3.1 .8l-1.9 3.7zM809.5 1310.5l-1.9-2.6l2.6-1.9zM809.6 1302.4l-3.1 2.2l-.7-4.8zM803.3 1305.3l-3.2-.8l2.5-3.7zM744.3 1395.5l.3-1.4l1.1 .9zM740.3 1393.8l1.1-.4l-.3 1.2zM734.8 1384.1l.8 1l-1 .5zM736.3 1388.4l-.2 1.1l-.7-.7zM739.5 1389.2l1.1 1l-1.3 .4zM742.7 1387.6l-1.1-1l1.3-.3zM754 1395.9l-.3 1.1l-1-.7zM779.6 1382.6l-2.2-1.6l2.5-.4zM771 1376.8l-2.8-1.5l2.2-1.4zM766.6 1378.1l2.4 1.4l-2.5 .7zM742.4 1310.4l3-2.3l.8 4zM743.2 1305.7l-3 2.2l-.9-3.7zM736.8 1307.9l-4.3-1.8l3.4-2zM735.9 1311.1l-2.7 1.9l-1.4-3.7zM775.7 1347.9l2.9 1.2l-2.6 2.3zM787.8 1347.4l-3.3-.3l2.1-2.9zM745.7 1329.8l2.1-1.9l.3 3.6zM783.9 1390.7l-.7-2.4l2.3 1zM786.8 1392.5l1.5-1.3l1.1 1.6zM858.3 1350l-2.1-2.5l4.4 0zM855.9 1368.2l-3.9-2.1l3.8-1.5zM949.6 1334.6l4 2l-3.2 3.7zM955.8 1339.1l2 4.1l-5.1-.5zM960.4 1341l-1.8-3.9l3.7-1zM961.6 1332.8l-3.9 1.2l-.6-5.1zM954.3 1333.2l-3.9-1.9l3.3-3zM960.8 1352.8l.9-5.1l3.4 2zM965.8 1357.1l-3.7-1.1l4.1-3zM958.1 1349.2l-.9 5l-3.4-1.4zM958.6 1362.6l1-4l3.7 1.2zM950.6 1374l3.6-3.8l0 4.7zM966.7 1370.6l4.4 1.5l-4.1 2.7zM963.7 1366.2l-3.4-.8l4.3-2.5zM973.3 1369.4l-4.7-1.6l5.1-3.4zM967.6 1364.4l.9-3.1l3 .6zM959.6 1375.6l3.9-3.7l.3 4zM957.5 1368.2l4 .9l-4 3.9zM861.5 1322.9l-3.8 2.7l-.3-4.1zM860.2 1327.9l3.9-2.8l1 3.9zM853.4 1342.7l-1.2-3.1l4.1-.1zM853 1336.3l2.9-4.2l1.7 4.1zM879.2 1343.1l-3.9-2.9l3.5-1.2zM862.8 1380.4l3.4-.8l-2.1 4.1zM866.1 1372.3l1.2 3.7l-3.6 .8zM876.1 1350.8l3.4-1.6l.1 4.8zM870.5 1342.8l.6 4.6l-3.8-1.9zM878 1346.3l-3.6 1.6l-.5-4.7zM873.6 1370.5l-3.5 3.6l-1.3-4.1zM879.7 1404.9l0 3.3l-3.8-2.3zM883.1 1408.5l-.1-3.2l3.6 1.6zM884.7 1402.4l3.3-2.2l.5 3.9zM912 1408.3l4.2-.7l-.9 3.1zM908.7 1414.7l.6-4.4l3.6 2.8zM902.1 1412l3.9-1.9l-.6 4.3zM924.2 1345.8l4.4-1.5l-1.4 4.4zM928.5 1340.8l-4.5 1.5l2.2-5.1zM931.9 1344.7l3.6 3.3l-5 1.4zM937.8 1345.7l-3.5-3.2l4.5-1.3zM934 1339.1l2-4.9l2.4 3.6zM932.8 1333.3l-2 4.9l-2.4-3.5zM932.6 1321.3l2.6-4.2l3.4 4.2zM935.7 1328l-2.6-3.4l5.4 0zM932 1316l-2.4 4l-2.7-3.9zM927 1322l-5 1.3l2.1-5.3zM927.1 1325.4l-1.8 5.1l-3.2-3.9zM930.2 1326.4l2.7 3.4l-4.4 1.4zM886.8 1334.8l1 4.2l-4.2-2.3zM886.6 1342.1l-4 2l-.4-4.4zM908.9 1337l.9-4.5l3.4 3.1zM930.4 1358.7l-4.5 .5l2.2-4.1zM936.4 1357.3l2.1-4.2l1.2 3.2zM935.7 1351.4l-2.7 5.3l-2.4-3.9zM937.5 1364.8l-2-3.8l3.7-1.1zM919.5 1353l2.1-5.1l3.3 3.2zM922.5 1358.6l-2.6-2.3l4.7-1.6zM917.9 1364.2l.2-5l2.5 2.1zM834.3 1255.1l5.6 1.7l-4 2.1zM842.3 1259.2l-.4 5.3l-3.9-3zM852.3 1261.6l-4.5-4.2l6-.9zM845.1 1265.4l.4-5.6l4.5 4.1zM788.1 1266.9l2.5-4.7l2.4 4zM782.3 1261.3l5.3-.5l-2.5 4.8zM819.9 1253.9l1.7 5.2l-5.8-1.9zM831.5 1267.3l-3.8-4.1l5.1-.2zM827.7 1259.9l3.3-4.1l1.6 3.9zM844.2 1270.9l3.7 3.7l-5 1.1zM849 1277.7l-1.2 4.8l-3.8-3.7zM858.3 1272l-5 1.3l.9-5.3zM850.1 1272.2l-3.7-3.7l4.7-1.5zM854.7 1276.3l4.8-1.3l-.8 4.7zM851 1283.4l1.2-4.9l4.2 3.5zM825.7 1274.4l4.4-1.4l-1 4.7zM824.6 1271.3l.7-5.8l4 4.3zM819.8 1286.4l3.5 3.2l-5.3 1.3zM811.5 1287.3l4.9-1.3l-1.7 4.4zM815.8 1282.8l-5 1.2l1.6-4.5zM820.1 1276l-1.7 4.7l-3.5-3.3zM826 1287.6l-3.4-3.1l5-1.2zM821.7 1281.3l1.6-4.7l3.6 3.5zM1048.9 1265.2l1.1 5.8l-7.4-4.2zM1060.8 1264.5l-7.2-2.1l5.7-4.8zM1053.4 1271.3l-1.1-5.8l6.8 1.9zM1053.6 1288.4l5.5 3.6l-6 2.8zM1064.5 1289.4l.7-6.9l5.1 4.1zM1062 1276.7l-6.4-2.9l5.9-4zM1055.5 1285.7l6.4-3.4l-.7 7zM1060.1 1279.5l-6.2 3.3l0-6.1zM1072.1 1283.8l-5.5-4.3l6.5-4.4zM1065.3 1276.4l-.5-7.1l6.8 2.8zM971 1301l-5.6 .5l2.1-5zM968.8 1308.8l-2.9-4l5.4-.5zM963.3 1306.9l2.9 4l-4.9 1.3zM935.2 1294.7l-2.1 4.6l-3-4.7zM934.7 1287.5l1 4l-4.8-.2zM938.5 1295.5l3.3 1.9l-5.2 2.1zM938.9 1290.6l-1.1-4.3l6.2 1.2zM944.5 1295.2l-3.5-2.1l4.9-2.9zM926.1 1266.5l2.5 5.2l-4-1.3zM917.4 1264.9l6-.6l-1.7 4.4zM922.7 1261.1l-6.6 .7l2.5-5.3zM925.2 1259l-3.9-4.6l5.6-1.3zM933.3 1257.7l-4.8 1.9l1.6-5.4zM939.5 1283.3l3.6-2.9l2.3 4zM940.1 1278.6l-3.8 3l-1.8-4.6zM939 1264.3l-.8-4.2l5.3 .3zM946.6 1267.1l-4.9-.7l4.5-4zM929.4 1265.6l5.8 2.5l-3 3.4zM935.7 1264.7l-5.4-2.3l4.6-1.8zM937.6 1270.3l2.6 4.9l-5.5-1.6zM943.6 1274.5l-2.7-4.9l5 .8zM960.9 1281l-2.6-3.7l5.3-2zM952.2 1275.3l-5.6 .6l2.2-4.1zM955.7 1279.4l2.6 3.8l-6 1.1zM946.3 1279.3l6-.7l-3.6 5zM960.7 1264.8l3.7-2.5l.5 6.1zM957.9 1273.9l1.2-6.2l4.6 4zM955.8 1267.4l-1.1 5.7l-3.5-3.5zM954.3 1264.5l-4.4 2.1l-.4-4.7zM955.7 1261.5l-5.2-2.9l4.1-3.5zM962.9 1259.3l-3.7 2.5l-1.2-6.1zM972.8 1344.1l1.9 4.6l-4-.5zM977.9 1347.7l-2.1-5l5.7 1.5zM980.1 1350.2l3.3-3.3l.5 5.2zM977.8 1357.9l.8-4.8l3.8 2zM973.3 1351.8l-4 3.6l.3-4zM970.9 1358.4l4.1-3.6l-.7 4.3zM973.1 1332.1l-1.1 5.1l-3.8-3.1zM975.4 1337l1.1-5.1l3.8 2.3zM973.7 1326.4l-4.6-2.8l4.7-1.7zM966.9 1326.1l4.8 2.9l-4.9 2.1zM981.7 1322.8l-4.7 3.3l.1-4.5zM982.4 1331.6l-4-2.4l4.9-3.5zM1011.1 1284.3l3.7-3.5l2.2 4.1zM1009.3 1296.1l-.1-6.1l5.2 5.7zM1011.6 1287.7l6.4 .7l-1.1 5.2zM976 1274l-3.6 5l-2.8-5zM969.7 1280.9l-5.7 1.2l2.9-6.2zM972.4 1285.7l2.7 4.8l-5.2 .7zM963.9 1285.5l5.5-1.2l-2.5 5.6zM967.7 1261.8l4.5 1.7l-4 4.7zM974.5 1265.9l2.2 4.8l-6.3 0zM979.6 1269l-2.2-4.7l5.7-.6zM977.7 1260.9l2.5-5.4l3.3 4.9zM1029.5 1261.7l4.2-4.7l2 6.7zM1030.9 1255.2l-4.2 4.6l-3.5-4.9zM1014 1275.6l-5.2-2.6l6.2-2zM1008 1269.8l3.1-5.6l3.2 3.6zM1003.6 1276l1.6 6.9l-6.1-2.4zM1008.4 1282.4l-1.5-6.7l5.5 2.8zM714.3 1327.9l2.2 1.2l-1.7 .5zM718 1326.2l-2.7-1.6l2.1-.9zM723.1 1318l1.2 3l-2.9-.6zM729.4 1317l-2 2.9l-1.3-3.3zM723.7 1324.2l-2.3 2.2l-.7-2.8zM723.6 1328.9l2.1-2.1l.3 2.9zM718.5 1348.1l1.8 0l-.8 2zM744.7 1336.4l0-3.3l2.4 1.7zM741.4 1332.6l0 3.5l-2.6-2.1zM743.4 1350.6l2.3 1.1l-1.6 1.3zM747.4 1354.6l.3 2.5l-1.8-1.3zM751 1357l-.3-2.5l1.7 1zM738.1 1352.4l1.8-1.7l.8 2.6zM707.4 1338.3l.5-1.6l1.2 1.6zM707.9 1341.6l1.6-.1l-.8 1.6zM704.4 1344.2l.6-.9l.6 1.2zM704.9 1335.3l-.4 1.3l-.9-1.1zM703.2 1323.9l-1.9-1.4l2.2-.8zM699.6 1326.5l0-1.2l1.1 .9zM699.8 1319.6l.2-1.6l1.6 .9zM696.5 1319.8l-1.2-.4l1.3-.8zM696.3 1325.6l0 .9l-.9-.2zM693.3 1322.2l1.3 .5l-1.2 1zM697.9 1344.8l.4-1.1l.6 .8zM701.7 1338.5l-1.3-.1l.5-1zM701 1341.8l1.1 0l-.5 .7zM693.9 1351.5l.6-.7l.2 .9zM689.1 1356.2l.5-.4l.1 .5zM696.4 1380.1l.8-.1l-.4 .7zM703 1376.3l.5-.9l.7 1zM708 1364.2l-.9-.3l.8-.6zM705.1 1361.3l0-1l.9 .3zM705 1368.4l0-1.6l1.4 .4zM578.5 1315.6l-.8-.2l.5-.7zM577.4 1318.7l-.6 .6l0-.7zM723.3 1441.3l-.5 .3l-.1-.7zM889.4 1463.1l.6 .8l-.8 .5zM893 1456.9l-1.7 .2l.7-1.4zM891.5 1460.4l1.6-.2l-.7 1.3zM907.6 1469.8l.7 .6l-1.1 .4zM907.1 1474.4l.9-.3l-.5 .8zM916.8 1471.8l-1.4-.7l1.3-.6zM913.9 1468.1l.4-1.5l1 1zM910.5 1467.9l-.8-.6l1.2-.6zM925.3 1523.4l.2-.7l.5 .6zM930.5 1508l.5 .2l-.7 .5zM883.2 1557l.7-.1l-.1 .6zM905.1 1562.8l.6-.3l0 .6zM908.7 1542.4l-.3 .7l-.4-.7zM757.3 1423.4l.8 .2l-.5 .4zM757.4 1419.9l.5-.5l.4 .8zM755.1 1417.4l-.4 .5l-.5-.7zM770.5 1402.9l-1.6-.1l.6-1.8zM769.2 1407.6l-.4-1.5l1.4 .1zM765.9 1408.2l.4 1.4l-1.2-.1zM761.9 1406.4l1.3-.1l-.8 1.2zM747.1 1412l-.7-.2l.4-.4zM744 1409.6l-.4-.9l.8 .4zM740.5 1409.7l-1.1-.5l.7-.8zM834.4 1410.7l2.9-.2l-.7 2.3zM828.7 1413.2l-.1 3l-1.7-1.3zM831.9 1416.6l.1-3.6l2.5 2.3zM811.5 1411.7l1.2-2.5l.8 2.1zM807.7 1408.5l2-.7l-1.1 2.4zM792.6 1410.6l-1.5 1l-.6-1.6zM793.5 1405.3l.6 2.3l-2.6-.8zM797.5 1415.7l.2-2l1 1.1zM792.8 1414.4l1.6-1.1l-.2 2.4zM797.1 1406l-.6-1.9l1.8-.1zM799.5 1410.8l2.5-.6l-1.2 2zM802.6 1406.6l-2.5 .7l1.4-2.1zM868.7 1453.7l-1.4 .5l.1-1.4zM870.3 1456.6l-.2 1.1l-1-.7zM897.6 1437.7l-2.2 2.6l-1.9-3.9zM896.1 1431.8l1.1 2.3l-3.1-.9zM903.1 1439.8l2.7 1.1l-1.8 1.6zM898 1442.4l1.8-2.2l.9 2.9zM900.4 1433.2l-1.2-2.5l2.8-.6zM907.7 1432.6l-3.9 1.3l1.7-3.4zM907.7 1438.2l-2.7-1.2l3.4-1.2zM584.8 1425.8l.4 .5l-.8 0zM241.6 1558.7l.8-.2l-.2 .7zM250.4 1562.6l.2-.7l.6 .4zM245.2 1565.8l-.5 .5l0-.9zM246.2 1569.5l.6-.7l.1 .9zM383.7 1593.3l0-.6l.6 .2zM259.9 1479.4l-.4 .5l-.2-.6zM259.6 1486.9l-.7 0l.4-.5zM253 1486.1l.3 .6l-.6 0zM302.8 1493.6l0-.6l.6 .2zM302.3 1483.8l.1 .6l-.6-.2zM255.7 1492.2l.4-.6l.3 .5zM235 1486.4l-.5-1l1.2 .1zM237.7 1489.5l-.7-.4l.6-.7zM233.4 1493.4l.2 1.2l-.8-.5zM236.8 1493.6l-.1-.9l.5 .4zM249.6 1516.4l-.4-.6l.7 0zM238.1 1469.5l.9 0l-.4 .7zM242.1 1470.9l.4 .6l-.8 0zM246.1 1466.5l-.8 0l.5-.6zM235.8 1533.7l-1-.1l.5-.8zM235.8 1537l-.5 .7l-.5-.8zM239.4 1531.8l-.5 .7l-.4-.8zM238.2 1539.3l.5-.7l.5 .8zM245.7 1538.9l.4 .7l-.8-.1zM245.7 1532.7l-.4-.6l.8 0zM242.7 1534.1l-.8 0l.4-.6zM241.9 1537.4l.9 0l-.4 .7zM252.1 1539.6l.3-.6l.4 .6zM252.6 1532l-.3 .6l-.4-.6zM249.4 1534.2l-.7 0l.3-.6zM248.7 1537.5l.7 0l-.3 .6zM298.9 1685.1l.6 0l-.3 .7zM295.7 1687.7l.4-.7l.4 .7zM293.3 1685.2l-.3 .6l-.3-.6zM240.6 1648l.3 .7l-1-.2zM237 1636.9l-1.1-.2l.8-.7zM233.8 1634.1l0-1l.8 .4zM280.3 1685.8l.6 0l-.4 .6zM276.8 1688.5l.6-.9l.4 .9zM234.8 1685.2l1.4 .1l-.7 1.2zM236 1682l-1.3-.1l.6-1zM239.6 1679.5l-.6 1l-.7-1.1zM252.1 1676.2l.4-.8l.5 .8zM249.6 1673.8l-.4 .9l-.6-.8zM246.3 1676.3l-1.1 0l.5-.9zM356.8 1689.2l.5-.9l.6 .9zM364.9 1670.9l.4-.6l.4 .7zM326.6 1687.7l.4 .8l-.8 0zM330.1 1685.7l-.4 .8l-.4-.8zM236 1630.5l.6-.4l-.1 .6zM240.7 1624.2l0-1.1l.8 .5zM241.5 1617.5l.3-1l.7 .7zM238.6 1615.9l-.3 .9l-.6-.6zM232.8 1606.5l-.7-.7l.9-.3zM235.8 1612.5l1 .5l-.8 .3zM267.2 1618l0 1l-.7-.5zM488.5 1678.6l-.4 .6l-.2-.6zM503.5 1681.6l.4 .7l-.8 0zM500.1 1679.6l.7 .1l-.3 .6zM523.8 1672.9l.8 .4l-.7 .7zM500.4 1675.8l.3 .6l-.6-.1zM548.5 1688.7l-1.2 .1l.9-1.2zM553.8 1688.4l.5-.9l.4 .8zM528.7 1682.1l-.7 0l.4-.6zM527.9 1685.4l-.6 .6l-.2-.7zM406.5 1674.3l.7-.3l-.1 .8zM399.5 1673.4l.5 .3l-.8 .3zM395.5 1673l.7-.1l-.3 .7zM377.3 1678.7l-.1 .7l-.6-.5zM375.5 1675.2l.5 .5l-.7 .2zM383.4 1676.7l-.6-.3l.8-.5zM351.8 1291l.7-.3l0 .9zM290.4 1277l.4-.7l.2 .8zM288.2 1274.1l-.4 .7l-.3-.7zM285.2 1276.9l-.7 .1l.4-.8zM321.3 1283.6l-.6 .2l0-.7zM344.9 1284.2l.2-.8l.6 .4zM347.2 1287.5l-.7-.4l.8-.4zM341.7 1283.5l-.1 .9l-.8-.5zM342.7 1278.2l-.8-.4l1-.6zM336.4 1279.9l-.2 .8l-.7-.6zM335.2 1276.8l-1 .1l.3-.9zM234.9 1371l1 .1l-.5 .7zM235.8 1367.8l-1-.1l.5-.6zM242.9 1357.3l-.9-.1l.5-.7zM235.6 1356.6l.4 .8l-1 0zM232.6 1352.1l-.9 0l.4-.7zM236.1 1349.9l-.5 .8l-.5-.8zM238.8 1351.9l.4-.6l.4 .6zM238.9 1355.8l-.3-.6l.8 0zM239.4 1365.8l-.5 .8l-.5-.8zM238.9 1361.9l.5 .6l-.9 0zM242.1 1367.8l.4-.6l.3 .5zM242.8 1360.6l-.4 .5l-.4-.6zM245.5 1365.7l.8 0l-.5 .6zM245.5 1362.4l.4-.6l.5 .6zM255.9 1359.9l.7-.2l-.2 .7zM261 1334.4l-.6 .5l-.1-.8zM246.7 1344.3l-.5 .7l-.4-.7zM249.3 1346.3l.5-.7l.3 .7zM243.2 1346.4l-.8 .1l.4-.6zM242.1 1349.8l1-.1l-.5 .8zM241.5 1326.3l.5-.7l.4 .7zM237.9 1324.4l.9 0l-.5 .6zM235.3 1378.6l-.9 0l.6-.7zM247.8 1391.2l-.9-.1l.6-.9zM262.5 1384.4l.6-.5l.1 .9zM242.4 1372l-.5-.9l1-.1zM241.2 1379.4l.5-.6l.1 .7zM238.9 1372.6l.5 .8l-1-.1zM239.1 1376.7l-.7 .8l-.4-.9zM283 1304.2l-.4-.4l.7-.2zM269 1287.1l.9 0l-.5 .9zM265.6 1288.9l.4-.4l.3 .7zM281.4 1288.8l.6 .4l-.5 .3zM276.2 1283.8l-.8 0l.4-.8zM279.1 1280.9l-.3 .8l-.4-.7zM256.3 1309.2l-.5-.6l.9-.1zM272 1278l.4-.7l.4 .7zM266.7 1281.4l-.3 .7l-.5-.7zM272.6 1282l-.4-.7l.7 0zM269.2 1283.8l.3-.6l.3 .6zM263.2 1275.5l-.4 .8l-.4-.8zM269.4 1272.2l-.8 0l.4-.7zM266 1277.4l.5 .7l-.9 0zM269.2 1276.3l-.4-.8l.8 0zM259.8 1266l-1 0l.5-1zM263 1263.2l-.5 .9l-.4-.9zM265.2 1266.2l.4-.8l.5 .9zM259 1269.3l.9 0l-.4 .9zM262.6 1271.3l.5 .9l-.9 0zM265.8 1270.4l-.4-.9l.8 .1zM259.5 1281.8l-.4-.6l.8 .1zM263.4 1283.6l-1.1-.1l.5-.7zM242.2 1275.3l1.1-.1l-.6 1zM236.2 1275.3l-.6 1l-.5-.9zM238.6 1277.8l.6-1l.6 1zM242.4 1293.7l.4 .8l-1 0zM235.1 1298.5l-.5-.8l1 0zM246 1417.8l-.3-.5l.7 0zM279.1 1441.9l-.5 .3l-.2-.7zM242.3 1429l.5 .6l-.9 .2zM255.8 1419.5l.3-.5l.4 .5zM250.9 1447.3l.7-.3l-.1 .9zM238.1 1441.3l.9 .6l-1 .5zM236.1 1435.1l-.7-.7l1-.3zM993.6 1498.9l1.1 .9l-1.8 .4zM995.4 1503l-.6 1.6l-1.3-1.1zM998.1 1505.3l.6-1.4l.9 1.2zM1002.3 1503.1l-1.2-1.5l1.9-.5zM1000.5 1498.4l.6-2.3l1.6 1.7zM997.8 1495.8l-.5 1.9l-1.3-1.1zM990.6 1516l-.9 .1l.5-1zM995 1520.6l-.1-1l1.1 .4zM1065.6 1547.6l.6 1.4l-1.7-.3zM1069.3 1547.9l-.6-1.5l1.7 .1zM1074.2 1549.2l-1.8 .1l1.1-1.4zM1046.5 1536.9l-.2 1.2l-1-1zM1045.5 1533.7l-1.3 .2l.4-1.2zM1048.7 1530l-.7 1.6l-1-1.3zM1051.1 1532.7l.7-1.6l.9 1.3zM1055.3 1544l.1-1.1l.9 .5zM1050.9 1542.4l1.2-.2l-.1 1.2zM1057.7 1540.4l1.3-.4l-.3 1zM1056.3 1537.5l.3-1.4l1.2 .8zM1053 1536.9l-1.1-1l1.4-.3zM1049.6 1538.3l.9 .8l-1 .3zM1060.1 1572.7l-.6 .9l-.6-.8zM1058.9 1568.9l.6 .5l-.8 .1zM1062.7 1574.7l.2 .7l-.6 0zM1066 1574.5l-.2-1l.9 .4zM1062.1 1567.3l-.7-.6l.8-.3zM1065.4 1411l1.1-5.5l3.7 3.7zM1062.2 1410.4l-4.2-3.6l5.2-2zM1069.8 1418.6l-3.8-4.3l5-1.8zM1063.9 1416.8l3.7 4.3l-5.4 .8zM1055.8 1418.1l4.8-1.8l-1.6 4.7zM1056 1409.4l4.1 3.6l-5.2 1.9zM1017.6 1279.1l6.5-1.9l-4 6.4zM1027.4 1278.2l1.7 4.8l-5.6 1.3zM1023.6 1273.9l-6.2 1.8l1-4.6zM1025.2 1265.3l.7 6.1l-5.5-2.9zM1029.2 1271.3l-.7-6.5l6.3 2zM1048.2 1273.8l-6 2l-1.5-6.3zM1038.8 1275.7l-7.3-2l5.7-4.6zM1030.4 1276.8l6.6 1.8l-4.9 3.1zM1050.6 1282.4l-5.9-3.9l5.9-2.1zM1004.9 1316.4l-4.3 1.2l2.7-5.2zM999.9 1321.3l4.6-1.3l-2.2 5.9zM1014.5 1304.2l-3.7-4.9l5-.4zM1008.1 1301.2l4 5.3l-6.2 .2zM1011.5 1309.8l-3.9 4.6l-1.8-4.4zM1010.4 1316.2l4-4.7l1.4 5.3zM1016.6 1334.7l-.7 4.3l-4-.9zM1020.3 1328.1l-.4-6.2l5.1 3.3zM1019.3 1338.4l.7-4.7l4.2 2.6zM1021.9 1331l4.4-2.8l-.1 5.5zM1062.5 1620.9l-.3-.8l.7 0zM1059.7 1628.4l1-.6l0 .9zM1066.6 1611.3l-.7 0l.4-.6zM1065.7 1614.6l.7 0l-.4 .5zM1060.1 1614.6l-.3 .6l-.4-.6zM1064 1628l.6 .4l-.6 .2zM1069.5 1670.5l.5-.6l.2 .7zM1067.1 1668.2l-.8 1l-.6-.9zM1072.6 1676.2l.4-.8l.6 .7zM1069.7 1674.5l-.4-.7l.7 .1zM1066.4 1675.4l.5 1l-1 0zM1059.4 1679.7l1.1 0l-.5 .9zM1069.2 1662.8l.5-.3l-.1 .7zM1067.5 1659.3l.7 .2l-.6 .4zM1064.2 1659.6l.1 .5l-.6-.2zM1067.7 1649.8l.7-.4l-.1 .8zM1075.3 1666.3l.3 1l-1.1-.6zM1073 1662.8l.6 .7l-.7 .3zM1048 1663.9l-.6-.1l.4-.7zM1041.1 1667.3l.7-.1l-.4 .7zM1038.9 1662l-.4 .6l-.3-.6zM1035.7 1667.7l-.4 .7l-.3-.6zM1022.9 1528.7l-.8-.9l1.1-.1zM1018.8 1530.6l.4-1l.8 .9zM1014.9 1529.4l1-.3l-.3 .7zM1002.7 1534.3l.6-.3l0 .9zM1016.4 1559.6l.3-.6l.4 .7zM1014 1557l-.2 .6l-.4-.6zM960.7 1527.4l.3-.7l.5 .5zM957.3 1521.7l.4 .9l-.8 .2zM964.5 1525.5l-.5-.5l.9-.1zM996.6 1533l-.7 .1l.2-.7zM996.7 1536.3l.8-.2l-.2 .8zM1058.1 1586.9l-.8-.3l.5-.4zM1074.3 1591.5l-1.2 .2l.5-1.1zM1030.2 1572.8l-.4-.5l.6-.3zM1034 1576.5l.8-.4l.1 1zM745 1673.7l-.6 .6l-.2-.8zM755.7 1679.5l.7 .4l-.8 .5zM756 1687.1l-.2-.9l.8 .3zM747 1688l-.6 0l.3-.5zM743.8 1685.9l-.3-.7l.7 .1zM600.8 1685.4l-.3 .9l-.5-.8zM623.2 1685.5l.6 0l-.3 .7zM626.5 1687.6l.4 .7l-.7 0zM629.5 1686.2l-.4-.7l.7 0zM578.8 1679.3l-.3 .6l-.4-.6zM578.4 1687.6l.3-.6l.4 .6zM593.2 1673.8l.6 0l-.2 .5zM597.7 1688.2l-.9-.2l.5-.7zM591.3 1687.5l-.7 .1l.4-.7zM556.6 1592.9l.5 .4l-.6 .2zM592.4 1600.3l-.3-.6l.7 .1zM586.9 1595.9l-.6 0l.4-.6zM730.1 1653.1l-.7 .1l.2-.6zM821.6 1686.5l-.4-.6l.7-.2zM819 1680.2l-.3 .7l-.4-.7zM806.4 1668.5l.7 0l-.4 .5zM813.4 1665.1l-.7 0l.3-.5zM866 1673.5l-.1-.6l.7 .2zM818.9 1665.3l.3-.6l.4 .7zM818.7 1676.2l.3 .7l-.6 0zM819 1669.3l-.2-.7l.7 .1zM828.2 1681.3l.2 .7l-.7 0zM824.4 1679.8l.8 0l-.4 .6zM833.9 1686.3l-.3 .6l-.3-.8zM843 1679.6l-.2-.7l.7 .1zM797.3 1681.6l.4 .7l-.9 .1zM793.8 1679.9l.6 0l-.4 .7zM791.7 1674l-.3 .7l-.4-.7zM794.5 1668.5l-.3 .6l-.3-.6zM813.2 1680.1l-.4 .7l-.3-.7zM810.1 1682.6l-.8-.1l.4-.6zM917 1654.8l-.5 .3l0-.6zM925.6 1687.9l.4-.7l.4 .7zM928.9 1685.5l.6 0l-.3 .6zM929.8 1682.2l-.7 0l.3-.7zM874.5 1673.8l-.2 .8l-.6-.6zM875.2 1682l.4 .6l-.7 .2zM863.3 1678.8l.1 .8l-.7-.5zM893.4 1681.3l.5 .7l-.8-.1zM918.4 1667.1l-.9 .5l.1-.8zM873.6 1624.1l-.5 .4l-.1-.7zM575.1 1669.8l.3 .6l-.6 0zM566.6 1679.6l-.3 .6l-.3-.6zM564 1685.7l-.3 .7l-.3-.7zM560.1 1679.7l.6 0l-.3 .7zM557.2 1682.5l.3-.7l.4 .7zM564.2 1656.2l-.9 .5l.2-1zM1047.6 1654.9l.6-.2l-.3 .7zM1041.3 1656.3l.7-.1l-.3 .6zM881 1685.5l-.4-.6l.7-.1zM971.5 1665.5l-.5-.4l.7-.2zM950.5 1679.8l-.3-.6l.6 0zM947.2 1682l.4-.7l.2 .6zM944.9 1679.3l-.3 .7l-.3-.7zM953.4 1673.4l.6 0l-.3 .7zM950.3 1675.9l.3-.6l.3 .6zM994.7 1401.4l-3.9-2.7l2.8-2.7zM989.5 1401.8l3.8 2.7l-4.4 1.3zM989.1 1395.8l-1.5-5.3l4.3 2.6zM985.6 1395.6l-3.4-1.8l2.1-3zM980.9 1396.8l3.8 2.1l-4.8 2.3zM986.1 1401.8l-.5 4l-4.1-1.7zM1002.2 1390.9l-.2 4.3l-4-2.3zM1001 1398.5l-2.9 3.1l-1.2-5.5zM1009.8 1395.2l-4.5 .9l.1-4.5zM1008.7 1403l-2.4-3.8l4.4-.9zM1000.5 1403.8l2.8-3l2.4 3.7zM1026 1483.6l2.8-1l-1.8 3.2zM1021.6 1488.6l1.9-2.7l1 2.3zM1016.5 1484.6l4-.2l-2.3 3.2zM1029.8 1478.8l-3.4 1.2l1.4-4.4zM1040.1 1472.4l3.9-.1l-1.7 4zM1035.1 1478.2l2.2-4l2.3 4.1zM1034.3 1472.8l-2 3.7l-2.1-3.3zM1034.3 1469.5l-4.3 .4l1.8-3.8zM1039 1463.1l-2 4.5l-2.7-3.7zM1043.9 1469l-4 .1l2-4.4zM968.1 1482.5l2.1 0l-1.2 1.4zM969.8 1477.7l.9 1.5l-2.1 0zM973.3 1483.9l.8 1.8l-2.1-.3zM976.3 1482.4l1.9 0l-1.2 1.8zM974.7 1472l-2.6 .7l.5-2.8zM979.6 1469.2l-.1-3.2l2.3 1.1zM976.2 1466.1l.1 2.8l-1.9-1.9zM984.6 1472.3l-3-.5l2.2-2.1zM981.9 1477.6l-1.2-2.6l3 .5zM976.5 1479.1l1.4-2.4l1 2.4zM974.8 1475.4l-1.2 2.2l-1-1.7zM1010 1482.8l-2.9 1.2l.3-2.8zM1003.8 1484.3l-2.2-.9l2.4-1.6zM1000.4 1486.5l2.1 .8l-1.4 1.8zM659.4 1258l.5 .9l-.8 .1zM673.2 1273.8l-.4 .8l-.5-.7zM675.9 1275.8l.5-1l.6 .8zM679 1272.9l1.4-.3l-.6 1.2zM680 1269.3l-1.1 .3l.4-1zM695.6 1260.6l.6-2.3l1.8 2.2zM694.2 1266.1l1.5 2.3l-2.1-.2zM698.5 1266.5l-1.9-2.6l2.7-.1zM648.3 1286.7l-.3 .6l-.3-.5zM657.3 1268.8l-.3 .7l-.4-.7zM659.7 1271.5l.4-.9l.4 .9zM687.5 1272.5l-.7-.8l1.3-.1zM683.8 1273.2l.7 .9l-1.3 .3zM693 1294.8l0 1.7l-1.1-1.1zM691.5 1290.3l.7 1.2l-1 .5zM611.6 1274.9l-.4 .7l-.3-.7zM617.1 1275l.7 0l-.4 .7zM614.5 1270.3l-.5-.8l.9 0zM635.9 1275.4l-.4 .6l-.3-.7zM642 1272.3l-.7 0l.4-.7zM638.9 1269.7l-.3 .6l-.3-.6zM635.8 1272.1l-.6-.1l.3-.5zM641.7 1276.2l-.4-.6l.7 0zM638.6 1277.3l.3 .6l-.7 0zM579.9 1257.7l-.6 .9l-.4-1zM576.4 1260l-.9 0l.5-.8zM581.7 1263.4l1-.1l-.6 .9zM582.3 1260l.5-.7l.4 .7zM551.4 1283.6l-.8 .2l.2-.9zM556.8 1259.1l.5-.9l.4 .9zM551.4 1259.1l-.8 0l.4-.8zM550.7 1262.4l.9 0l-.4 .8zM554.2 1264.5l.4 .7l-.7 0zM557.3 1263.2l-.4-.8l.8 0zM393.9 1279.2l.2 .8l-.6-.3zM397.5 1280l-.3-1.1l.9 .6zM396.7 1286.5l.3-.8l.6 .6zM467.5 1363.4l-.6-.2l.6-.5zM446.1 1370.1l-.7-.3l.6-.4zM454.9 1275.5l.9 .3l-.8 .7zM458.1 1278.3l.2 1.1l-1.2-.4zM460.9 1271.2l-.8 .8l-.3-1.3zM456.9 1272.7l-1.1-.4l.8-.9zM462.4 1274.4l.7-.7l.4 1zM461.5 1278.7l-.2-1.1l1.2 .2zM447 1291.6l-.3 .5l-.3-.7zM477.9 1267.6l1 .5l-.9 .6zM474.4 1261.7l-1.3-.9l1.5-.6zM474.2 1270.1l.6-.9l.1 .8zM490.6 1262.6l0-1.6l1.3 .6zM494.1 1265.7l-1.4-.5l1.2-.9zM492.6 1268.6l1 .3l-.5 .6zM488.7 1271.2l.7-1.6l.8 1.4zM485 1268.8l1.2-.4l-.5 1.3zM480.7 1287.1l-.7 .2l.1-.8zM474.6 1282.9l.1-1l.8 .7zM471.4 1281.8l-.1 1.2l-1-.4zM474.2 1288.7l.7 .6l-.9 .4zM476.8 1286.6l-.8-.7l.9-.3zM470.1 1289l.7-.4l0 .8zM469.2 1285.7l-.6 .4l0-.7zM469.7 1295.5l-.6-.4l.7-.3zM468 1298.3l-.6 .4l-.1-.8zM473.1 1295.6l.1-.7l.6 .5zM508.8 1263.1l1.2 .5l-1.2 .9zM511.5 1266.6l0 .8l-.7-.3zM514.9 1260.6l0-1.1l.9 .6zM511.6 1260.7l-1-.5l1-.7zM517.6 1264.5l-1.3-.9l1.2-.7zM514.8 1267.5l0-.9l.9 .6zM518.7 1276.6l1 0l-.7 .8zM512.8 1272.4l.4 .7l-1 0zM516 1271.3l-.4-.6l.8-.2zM520.4 1273.3l-1.7 0l.8-1.6zM525.8 1278.6l1.3 .8l-1 .6zM503.3 1287.4l1 .2l-.7 1zM504.6 1284.3l-.9-.1l.5-.9zM502 1280.7l-.7 1.1l-.5-1.4zM498.3 1283.2l-.8-.1l.4-1zM508.9 1278.8l-1.2-.2l.7-.8zM508.7 1282.2l-1 1.1l-.5-1.4zM510.3 1285.4l.8-1l.4 1.2zM514.4 1283.8l-.4-1.3l1.3-.1zM513 1276.4l-.9 1.4l-.7-1.4zM515.2 1279.1l.6-.9l.4 .8zM495.4 1294.1l.2 .8l-.9-.1zM498.7 1293.8l-.2-.8l.9 .2zM499.4 1289.8l.8-1l.4 1.2zM497.9 1286.5l-.6 .6l-.1-.7zM488.4 1281.5l-.5-.5l.8-.2zM486.9 1277.8l.3-1.3l1 1zM483.7 1277.2l-.8-.6l1-.5zM481 1279.3l.7 .5l-.8 .4zM482.7 1283l-.2 1.3l-.8-.8zM485.8 1284.5l.1-.8l.5 .5zM481.2 1257.2l-.1 1.4l-1.2-.8zM479.1 1261.3l-1.4 .7l.2-1.5zM479.5 1264.7l1.3-.6l0 1.2zM484.4 1258.7l0-1.4l1.2 .8zM487.3 1262.7l-1.4-1l1.4-.8zM484.1 1264.5l1.2 .8l-1.2 .4zM439.2 1282.5l-.4 .8l-.4-1zM439.8 1279.3l-1.1-.3l1-1.1zM444.1 1277.8l-1 .7l-.2-1.4zM421.5 1283.1l.9-.5l.1 1.1zM425.7 1282.5l.7 .4l-.6 .5zM420.5 1279.8l-.7 .5l-.1-.8zM422.3 1277l-1-.5l1.1-.6zM427.8 1271.7l.1 1.3l-.9-.5zM431.8 1272.7l-.6 .4l0-1zM426.4 1276l-.8 .5l.1-.9zM427.1 1279.5l.7-.5l0 .9zM431.1 1280.1l0-1.1l1.1 .6zM432.7 1276.1l.6-.4l.2 .9zM440.4 1269.9l-.8-1.4l1.3-.2zM436.9 1271.8l.3-.8l.5 .9zM439.5 1265.2l.4-1.4l.7 1.2zM436.9 1262.5l-.4 1.2l-.7-.8zM434 1266l-1.4 .1l.7-1.1zM434.4 1269.2l-.4 1l-.9-.8zM584 1295.4l-.8 .6l0-.9zM584.9 1291.5l.2 .8l-.7-.3zM557.6 1295.2l-.9 .1l.5-.9zM563.5 1298.8l-.4-.7l.8 0zM566.5 1301.4l-.6-.2l.4-.6zM531.4 1297.9l.6 .8l-.8 .1zM748.5 1263.2l-.7-4.3l5.2 1.2zM754.6 1266.9l-3.7-1.3l4.1-2.9zM745.2 1263.8l-4.5-1.2l3.8-2.9zM743.9 1266.9l-3.7 3.2l-.9-4.5zM751.8 1275.6l3.4-3.3l1.2 4.2zM741.3 1275.7l4.2 1.5l-3.4 3.6zM749.7 1273l-.5-4.5l3.8 1.3zM746 1269.4l.5 4.7l-4.1-1.5zM675 1344.9l-.4-.6l.7 .1zM705.4 1271.1l-2.1 3.5l-1.6-3zM710 1276.6l-3.9-.3l2.3-3.6zM706 1279.6l3.8 .3l-2 3.5zM877.5 1319.4l-1.3 3.9l-2.2-4.5zM872.9 1324.2l-4.9-2.3l2.7-2.5zM867.5 1325.3l4.7 2.2l-3.7 1.5zM874.6 1336.9l1.9-4.9l1.6 3.8zM873.5 1330.5l-1.9 5.1l-2-3.5zM879.2 1324.7l1.4-4.1l3.1 2.2zM879.4 1330.6l4.8 1.9l-3.1 1.9zM886 1329.7l-5.2-2.1l4.9-2zM850 1305.6l-1.9 3.6l-3-2.6zM846.2 1298.9l3.5 3.4l-5.5 1.1zM844.8 1292.8l-3.5-3.9l5-1zM848.1 1293.6l1.4-4.8l3.5 3.3zM852.3 1300.2l-3.5-3.4l4.9-1.5zM843 1298l-1.9 4.4l-3.2-4zM838.8 1291l3.3 3.7l-4.9 .5zM859.6 1307.9l-3.5-3.8l4.7-1.6zM866.7 1306.8l-3.9 1.6l1.2-4.8zM852.3 1313.3l5.1-.3l-2.1 3.5zM856.9 1309.8l-5.5 .2l2.1-3.8zM860.2 1314.8l2 4.8l-4.1-1.3zM864.4 1311.4l3.8-1.6l.7 3.9zM865.7 1319.5l-2-4.8l4.6 2.4zM968.7 1254.6l2.7 5.1l-3.6-1.4zM974.9 1259.1l-3.8-6.9l6.5 1.2zM1008.2 1259.8l-5.9 .4l3.7-5.3zM999.1 1259l-3.1-5.4l7-.2zM1004.5 1269.2l-2.9-5.7l6.3-.3zM993 1255.1l3 5.2l-6.4-.1zM908.8 1299l1.8 4.9l-4.6-2.3zM913.9 1303.2l-2-5.2l4.4 .5zM904.1 1293.3l2.9 2.8l-2.5 2.4zM916.2 1295.2l-4.1-.5l2.3-4zM909 1293.5l-3.4-3.3l5.8-1zM770.6 1284.5l-4.4 .8l2.6-4zM771.2 1287.7l-.6 3.7l-3.8-2.9zM773.9 1291.8l.5-3.5l3.5 1.9zM776.6 1280.2l-3 2.9l-1.8-3.2zM775.9 1285.3l3.3-3l.6 5.2zM804.1 1275.3l1.8-4.8l2.9 4.5zM799.4 1278.7l-1.5 4.5l-3.2-4.5zM796 1271l2.7 4.4l-4.6 0zM803.1 1268.7l-1.8 4.6l-2.7-4.3zM802.2 1280.7l3 4.2l-4.4 .2zM807.8 1282.8l-3.1-4.3l4.6-.2zM797.6 1302.2l-2.3-4.8l5.4 .4zM791.1 1303.1l1.5-3.6l2 4zM795.5 1294.1l2.8-4.1l2.4 4.5zM792.9 1292l-1.6-4.2l4.2 .4zM789.6 1298.2l-1.5 3.7l-2.9-2.1zM783.4 1293l4.7 2.3l-4.8 1.6zM788 1288.3l1.5 4l-4.4-2.1zM793.6 1343.5l-2.7 2.8l-1.3-3.5zM803.2 1331.4l-1.4-3.6l3.8-.8zM799.7 1341.6l2.7-3.1l1.4 4.3zM786 1362.2l-.8-3.2l3.2 .2zM780.5 1351.8l.5 3.2l-3.1-.8zM786.7 1355.8l2.5-2.8l.5 3zM786.9 1350.7l-2.7 3l-.6-3.3zM777.3 1377.7l1.8-2.1l.6 1.7zM776.4 1373.6l-2.2 2.6l-.6-3zM788.2 1376.7l0 2.5l-2.5-1zM782.1 1374.3l3 .4l-2.3 1.5zM786.6 1371.6l-3.8-.5l2.1-2.5zM751.8 1392l1.1 .8l-1.5 .4zM747.1 1391.9l1.4-.3l-.4 1.2zM747.4 1388.4l-1.6 .4l.3-1.6zM776.3 1386.8l-.6-2.9l2.3 1.6zM780.4 1390.5l-2.1-1l1.5-1.2zM742.3 1317.3l-.8-3.7l3.6 1.7zM738.1 1313.5l.8 3.6l-3.3-1.7zM747.3 1321.6l-3-1.7l2.7-1.9zM743.5 1323.2l2.8 1.6l-2.2 2zM764.9 1333.4l.9-2.9l1.8 3.2zM751 1373.1l.4-2l1.7 .9zM732.4 1365.4l-1.6 .1l.4-1.6zM726.1 1371.3l1.1-.9l.2 1.3zM724.7 1368.2l-1 .8l-.3-1zM723.8 1363.6l.9 1.2l-1.3-.2zM728.3 1362l-.4 1.6l-1.2-1.6zM732.2 1375.5l1-.1l-.3 1.2zM730.6 1371.3l1.1 1l-1 .1zM733.9 1369.9l-1.2-1.2l1.3-.1zM735.3 1361.7l-.4 1.6l-1.1-1.5zM738.3 1357.3l-.5-1.6l1.9 .7zM734.6 1356.8l.6 1.6l-1.6 .1zM753.8 1308l-3.5-2.3l3.1-1zM748.9 1308.7l3.7 2.4l-3 1.4zM774.5 1301l-.5-3.7l4 2zM770.5 1296.7l.6 3.7l-3.8-2.3zM768.6 1328.9l4.1 .9l-1.9 2.8zM781.7 1337.2l1.9-3l1 4zM776.4 1339.1l-1.9 2.6l-1.2-3.5zM775.1 1332.2l1.3 3.4l-3-.8zM779.5 1334.5l-1.4-3.7l3.4 .5zM782.3 1344.5l-.9-3.9l3 1zM776.5 1344.6l1.9-2.6l.8 3.7zM786.6 1332.9l3.5 1.4l-2.3 2.8zM792.4 1336.7l1.6 3.6l-3.9-.8zM800.4 1333.2l-4.3-.7l2.9-2.9zM795.6 1335.7l4.2 .7l-2.5 3zM798.1 1324.3l-3.6-1.4l3.9-2.7zM793.8 1330.1l-.7-4.2l3.5 1.4zM789.9 1326.7l.7 4.3l-3.5-1.5zM777.4 1405.2l1.5-.5l0 1.4zM782.2 1405.6l1.6 1l-1.6 .3zM812.3 1352.1l-3.1 1.7l-.6-4.6zM809.6 1364.5l-.1-4.6l3.4 2.6zM810.8 1356.7l2.9-1.6l.2 4zM849 1390.8l-1.6-3.9l3.8 .7zM844.3 1388l1.6 3.9l-4-1zM841.5 1360.7l3.2 3.7l-4 .1zM837.5 1356.8l-4.1 1.8l.9-4.4zM834.6 1361.7l3.7-1.7l-.8 3.6zM820.5 1397l1.4-3.1l1.6 3.9zM819.3 1391.7l-1.4 3.1l-1.9-2.6zM945.6 1367.1l.1 4.8l-4.5-2.7zM948.9 1366.5l3.7 .7l-3.7 3.7zM944.7 1363.9l-4.1 2l1.7-5.1zM948 1356.3l-1.4 4.7l-2.3-3zM955.1 1356.9l-4.9 3.5l1.5-4.9zM954.7 1364.2l-3.3-.6l4.3-3.1zM864.3 1359.9l.3 5l-4.1-2.7zM859.6 1355.3l3 1.8l-3.3 2zM863.8 1353.9l-3-1.8l2.4-2.6zM870.2 1350.7l-3.1 3l-.7-5zM885.3 1363.5l-5.2 2.5l2-5.4zM882.9 1349.8l3.7 2.6l-3.6 2.3zM888.4 1344.9l-.3 4.5l-3.7-2.5zM887.5 1355.7l-.6 4.9l-2.9-2.7zM895.8 1346.9l-4.4 2.5l.3-4.6zM904.4 1330.1l-4.7 3l-.4-4.1zM905.5 1337.1l-3.6-1.5l4.4-2.8zM896.4 1333.4l-4.5-1.6l4.1-2.2zM894.9 1336.4l-3.6 2.9l-1.1-4.6zM896.9 1339l.5 5l-4.1-2.1zM900.6 1343.1l-.4-4.6l3.6 1.5zM911.3 1349.9l2.2 3.7l-4.7-.6zM916.3 1352l-2.2-3.9l4.2-.8zM902.9 1348.5l5.2 .1l-2.4 3.1zM908.4 1345.3l-5.2-.1l3.2-3.1zM918.6 1343.9l-4.3 .8l2.2-4.7zM911.2 1343.5l-2-3.1l4.1-1.4zM924.4 1367.6l-4.8-.5l3-3.1zM930.3 1367.7l2.7-4.3l2.1 4.1zM930 1362l-2.6 4.1l-1.8-3.6zM910.3 1405.2l1.1-4l3.5 3.2zM801 1261l2 4.4l-4.5 .3zM793.1 1260.1l5-.7l-2.5 4.8zM805.9 1263.7l-2.2-4.6l5.5 .2zM808.6 1268.6l4.5 .1l-1.7 4.3zM816.2 1269.9l3.1 2.9l-4.8 1.3zM813.2 1265.4l-4.4-.1l3.1-4zM820.3 1262.2l-3.8 2.4l-1.5-4.2zM821.4 1270.2l-3.1-2.9l3.8-2.3zM952.9 1293.7l-5 1.5l1.5-5.3zM962.4 1300.1l-3.3-4.3l5.4-.6zM958.8 1292.5l2.5-4.9l2.9 4.3zM958.2 1286.6l-2.6 5.1l-3.7-4zM946.2 1300.8l3.3 3.7l-4.9 .8zM955.5 1306.7l4.7-1l-2 5.3zM953.6 1297l-1.6 5.4l-3.5-3.9zM955.1 1303.4l1.6-5.3l3.3 4.2zM950 1307.8l-2.3 4.8l-2.7-4zM953 1309l2.8 4.3l-5.1 .7zM996.4 1290l-4.8-.3l3.7-4.7zM1004 1286l-4.5 3.1l-1.1-5.3zM991.7 1293l4.6 .3l-1.2 4.6zM999.4 1294.4l4.5 2.9l-5.8 1.9zM1001.4 1291.8l4.5-3.1l.1 6zM983.9 1285l2 4.7l-5.1 .3zM975 1283.6l6.1-.3l-3.3 5.3zM981.5 1280l-5.9 .3l3.5-4.9zM988.8 1287.9l-2.1-4.8l6-.2zM1046.6 1256.4l1.6 5.6l-6.3 1.6zM1036.6 1255.2l7.3-.7l-5.1 7.9zM1051.1 1260.2l-1.6-5.7l7.1 1.1zM721.6 1334.7l.3-2.9l2.5 .9zM716.5 1337.2l-2.1 .4l.3-2.3zM718.6 1331.9l-.2 2.5l-1.7-1.9zM714.8 1340.9l2-.4l-1.1 2.2zM719.5 1342.5l.8 2.3l-1.9 0zM739.3 1338.6l-2.4 .5l.2-2.2zM738.2 1342.2l2.5-.5l-.7 2.6zM752.8 1351.9l2.5-.7l-.9 1.7zM758.3 1352.4l1.2 2.6l-2.1-.7zM723 1350.2l1.1 1.9l-1.9 .2zM729.5 1355l2.4-.1l-1.3 2.1zM724.1 1355.4l-.8 1.6l-.8-1.4zM726.9 1357.1l.9 1.6l-1.6 0zM697.5 1336.9l-.8-1l1.2 0zM696.8 1332.6l.7-.8l.4 .8zM695 1329.6l-.7 .9l-.2-1.1zM691.2 1331.6l-1.4-.5l1.1-.9zM688.9 1334.3l.6 .2l-.5 .3zM694.5 1342.5l.7-.1l-.2 .9zM694.1 1339.3l.2-1.1l.6 .9zM866.3 1546.8l-.8-.5l.6-.4zM752.9 1427.9l-.3-.6l.8 .2zM753.2 1424.1l.6-.6l.3 .7zM732.3 1419.4l.5 .6l-.9 0zM747.5 1416.2l-.5-.9l.9 .3zM747.1 1422.5l.3 .8l-.9 0zM750.9 1418.2l-.7-.1l.3-.5zM750.5 1422.2l-.3-.8l.8 .2zM833.5 1407.4l1.8-3l1.6 2.9zM832.5 1402.5l-1.8 3.2l-1.7-3.6zM839.7 1405.5l-1.6-2.7l3.2 0zM837.7 1399.5l1.6-3.9l2.1 3.9zM822.1 1403.4l-1.2-2.9l2.6 .7zM819 1404.7l-3.3-.8l2-2.5zM815.5 1407.2l2.8 .7l-1.9 1.8zM820.9 1410l.9 2.6l-2.8-.8zM824.2 1409.3l3 .8l-2.1 2zM827.5 1406.8l-3.2-.8l1.7-2.5zM802.9 1397l2.2 1l-2.1 1.3zM805.6 1401.6l-.8 2.5l-1-1.4zM809 1401.7l1.4 2.3l-2.4 .9zM814.9 1396.3l-3.3-.1l1.5-2.3zM813 1402l-1.4-2.5l3.3 .1zM791 1384.5l2.3 1.7l-2.7 .5zM791.4 1389.9l2.7-.5l-1.3 2.4zM797.3 1390.6l1.2 2.3l-2.6 .2zM870.4 1449.4l.1 1.5l-1.3-.9zM869.3 1446.2l-1.2 .6l.3-1.8zM872.4 1442.2l-.8 1.5l-1-1.4zM885 1458l.9 .8l-.9 .6zM887 1451.8l.7-1.1l.8 .9zM888 1456.3l-1.1-1.1l1.9-.3zM897.3 1535.8l-.8 .3l-.1-.9zM904.4 1537.5l.7-.1l-.2 .6zM540.3 1383.6l.6 .2l-.6 .4zM286.7 1365.6l-.6-.3l.5-.4zM285.3 1359.5l.6-.5l0 .7zM316.9 1519.6l-.7-.4l.7-.4zM317.8 1405.9l.1 .7l-.8-.3zM270.1 1561.7l.6-.3l-.1 .7zM271.1 1555.4l.7-.3l-.1 .6zM400.8 1667.7l.1-.7l.5 .4zM249.8 1465.1l-.4 .5l-.3-.6zM249.6 1461l.5 .8l-1-.1zM252.8 1460l-.4-.7l.8-.1zM246.5 1490.4l-.3-.6l.7 0zM250 1492.2l-.7-.1l.4-.6zM235.2 1506l-.5-1l1 .2zM235.8 1501.8l-.9-.1l.5-.8zM233.3 1498.2l-.5 .7l-.2-1.1zM240.2 1521l-.4 .6l-.4-.7zM252.4 1510.7l.7 0l-.3 .5zM252.5 1521.2l.6 0l-.4 .5zM243 1461.1l-.9 0l.5-.6zM242.3 1465l-.4-.6l.9 0zM239.1 1459.6l-.4-.7l.9 .1zM238.7 1465.6l.4 .6l-.9 0zM234.7 1463.8l1.1 .2l-.6 .8zM235.9 1460.6l-.9-.1l.4-.6zM232.8 1457.9l-.5 .7l-.4-1zM275.2 1662.7l-.3 .6l-.3-.6zM237.1 1645.6l.9 .2l-.8 .6zM233.3 1646.2l.5-.3l.1 .6zM235.5 1640.5l-.3-.5l.8 .1zM258.4 1643.2l.4-.7l.4 .6zM243.8 1647.2l.8 .1l-.6 .5zM245.8 1650.7l1-1l.1 1.8zM265.8 1681.5l-.1 1.4l-1.2-.7zM265.4 1688.2l0 .7l-.6-.4zM268.7 1688.7l1.1 .9l-1.2 .3zM287 1670.4l-.6 0l.3-.6zM239 1687.1l.6 1.1l-1.3 0zM257.4 1681.2l-1.2 .2l.4-1zM253.1 1680.3l-.6-.8l.9-.1zM236.7 1623.8l.7-.6l0 1zM234.8 1626.5l.8 .5l-1 .4zM236.6 1619.8l-.8 .6l.1-1.3zM298.8 1681.8l.3-.6l.3 .6zM235.4 1596.4l-1.1 .1l.5-.8zM234.6 1599.8l.9-.1l-.4 .6zM231.6 1612.4l.8-.4l.1 .7zM484.8 1683.6l-.4 .5l-.2-.6zM496.8 1685.9l-.3-.7l.7 0zM500.4 1687.9l-1-.1l.6-.8zM506.4 1679.9l.6 0l-.3 .6zM509.6 1682l.3 .7l-.6 0zM512.4 1680.2l.7 0l-.4 .7zM512.1 1676.9l.2-.6l.4 .6zM506.8 1676.6l-.7 0l.3-.7zM500.3 1668.9l-.3-.6l.6 0zM493.8 1668.2l.6 0l-.3 .5zM534.5 1682.5l.4 1l-1-.3zM539.1 1689.3l1.1 .8l-1.2 .5zM412.2 1661.2l-.6 .4l-.1-.8zM326.9 1299.9l-.6 .1l.2-.6zM339.2 1286.8l-.7 .3l.1-.6zM340.4 1289.9l.8-.4l0 .8zM335.3 1286.5l-.7-.5l.7-.2zM320.4 1304.2l.7-.1l-.3 .7zM322.4 1312l.5 .5l-.5 .2zM327.2 1315.9l.6 .5l-.7 .2zM233.8 1394.2l-.4-.9l1 .1zM249.1 1356.6l.5 .7l-.9 0zM249.3 1350.2l-.4-.6l.8 0zM246.2 1355.1l-.4 .6l-.3-.6zM246.1 1351.2l.3 .6l-.8 0zM261 1328.5l-.7 .3l.1-.7zM259.7 1313.7l-.5 .8l-.3-.8zM256 1315.4l.3 .7l-.8-.2zM238.7 1314.5l-.4-.7l.9 0zM238.5 1320.4l.5 .7l-1 0zM234.5 1382.7l-.4-.9l1 .1zM237.2 1384.6l.5-.8l.5 1zM237.2 1388l.9 .1l-.5 .7zM233.6 1390l.5-.8l.5 .9zM247.5 1394.5l-.4 .5l-.3-.6zM246.5 1401.9l.4 .8l-.8-.1zM250.2 1382l.5 .3l-.6 .4zM247.4 1376.3l-.7-.4l.7-.2zM252.4 1379.5l-.5-.3l.6-.4zM255.3 1385.3l0-.7l.6 .3zM253 1392.2l.3-.5l.3 .6zM271.4 1296.1l-.9 .4l.1-1.2zM252.4 1310.5l.4-.5l.4 .5zM256.5 1283.4l-.8 0l.5-.7zM255.6 1286.7l.9 0l-.4 .8zM255.6 1272l.6-1l.5 1zM256.2 1276.1l-.4-.8l.9 0zM246.6 1281.1l-.5 .8l-.5-.8zM246.2 1276.8l.5 1l-1.1 0zM252.8 1281.9l-.5-.9l1 0zM249.5 1282.7l.5 .9l-1-.1zM252.4 1277.7l.5-.8l.5 .8zM250.1 1275.2l-.6 .9l-.5-.9zM250 1263.1l-.5 1l-.6-1zM252.3 1265.9l.5-1l.6 1zM252.9 1270.1l-.5-.9l1 0zM249.5 1270.9l.6 1l-1.1 0zM232.7 1277.8l-1.3 0l.7-1zM246 1288.3l.5 .8l-1 0zM246.3 1292.4l-.5 .7l-.4-.7zM249.9 1286.8l-.5 .8l-.4-.8zM252.3 1289.2l.5-.8l.5 .8zM249.2 1294l.4 .7l-.8-.1zM252.6 1293.2l-.4-.7l.9 0zM242.7 1297.8l-.5 .7l-.4-.7zM239.2 1299.8l-1 0l.5-.7zM234.4 1319.1l1 0l-.5 .7zM235.6 1315.8l-1 0l.6-.8zM248.9 1325.9l.5 .7l-.9-.1zM236.4 1410.7l.7 0l-.2 .5zM240 1416.4l-.6 .6l-.1-.8zM237.9 1424.9l.5-1l.6 .8zM241.5 1422.5l1 .1l-.5 .6zM241.9 1419.2l.7-.8l.4 .9zM234 1423.2l1.2-.2l-.5 1zM234.2 1419.8l-.9 .2l.2-.7zM272 1428.7l.6 0l-.3 .5zM234 1437.8l-1.1 .5l.3-1.4zM233.8 1441.5l1-.4l-.1 1zM984.4 1524.6l-.5 .8l-.5-1.1zM985.3 1520.9l0 .5l-.6-.2zM1065.3 1552.2l-1 1l-.5-1.3zM1058.7 1556.2l1.3 .4l-.9 .7zM1060.8 1553.4l-1.1-.3l.7-.6zM1062.3 1559.1l0 1.5l-1.1-.8zM1067.3 1570.6l1-.6l0 1zM1066.7 1567.2l-1.3 .7l.1-1.4zM1071.7 1569.4l1.2 .3l-1.3 .8zM1073.6 1566.5l1-.8l.3 1.2zM1039.4 1280.9l.2 6.5l-5.3-3.3zM1043 1287.8l-.2-6.7l6 4.1zM1039.2 1292.9l-1.2 5.8l-4.9-3.6zM1032.5 1286.9l5.1 3.1l-5.9 2.1zM1041.3 1299.1l1.2-5.9l5.1 3.7zM1044.7 1290.7l5.6-2.5l-.5 6.2zM1017.8 1311.3l5.7 3.1l-4.4 2zM1021.4 1319l4.3-2l.4 5zM1036.5 1319.3l-5.4-3.9l5.2-1.1zM1029.1 1318l5.4 3.9l-5 1.3zM1011.4 1323.9l-1.7-4.5l5.1 .6zM1017 1328.2l-3.5-1.7l3.1-3.6zM1007.2 1322.1l1.5 3.9l-3.4 1.3zM1005 1330.9l3.6-1.3l-1.3 5.1zM1012 1329.4l3.6 1.8l-4.9 3.7zM1062 1647.1l.1 .6l-.7-.2zM1067.3 1643.9l-.8-.2l.5-.4zM1058.3 1632l-.2-.6l.7 .2zM1053.2 1648.8l.2-.9l.7 .4zM1065.2 1634.4l-.9 .4l0-.9zM1066.9 1631l.1 .6l-.7-.3zM1063.3 1681.4l.6 1l-1.1 0zM1067.1 1679.7l-.4 .9l-.6-.9zM1077.8 1681.6l-1.2 .1l.6-1zM1073.5 1680.5l-.7-1l1.3-.1zM1076.5 1685.1l1.4-.2l-.7 1.3zM1070.7 1682.2l-1.2 0l.5-.9zM1073.2 1688.2l.6-1.2l.7 1.1zM1069.6 1685.5l1.3 0l-.7 1.1zM1062.5 1673.8l1-.1l-.5 .9zM1059.3 1676.4l.4-.8l.5 .8zM1063.2 1670.4l-.8 .1l.4-.7zM1059.6 1668.8l-.3-.6l.6 0zM1050.3 1681.4l.5 .8l-1 0zM1053.9 1679.6l-.4 .8l-.4-.8zM1056.2 1682.3l.5-.8l.5 .8zM1050.8 1685.5l-.4 .9l-.5-.9zM1056.9 1686.6l-.6-1l1.1 0zM1053.6 1687.5l.5 .9l-1 0zM1066.3 1688.4l.5-1l.7 1zM1060.7 1688.5l-1.1 0l.5-1zM1064 1685.7l-.5 1l-.6-1zM1023.7 1521.4l1.1-.2l-.2 1.2zM1020.8 1524.6l.3-1.1l1 1zM1018.8 1517.3l-1.2-.7l1.2-.8zM1023.4 1518.1l-1.3 .2l0-1.6zM1013.6 1526.4l.3-1.1l.9 .6zM1016.5 1519.7l-1.2 .4l.3-.9zM1016.6 1523.2l1.3-.5l-.3 1.1zM1012.2 1518.8l-.2 1l-1-.8zM998.6 1523.7l-1.3-.6l1.3-.7zM1001.7 1530.1l.7 .7l-.7 .4zM1006.6 1534.8l.6 .6l-.7 .3zM1011.7 1539.6l0-.9l.7 .4zM1008.4 1538.5l0 1l-.8-.7zM1009 1532.5l-.7-.7l.9-.3zM1013.5 1535.9l.7-.5l-.1 .8zM1012.3 1532.8l.2-1.1l.8 .5zM987.3 1539.3l.2-.6l.5 .5zM983.6 1532.6l.3 .7l-.5-.1zM1053.8 1590.6l.4 .6l-.7 0zM1070 1590.5l-.3-.6l.6-.2zM1070.1 1586.4l.5-1.2l.4 1zM1067.1 1585l-.3-.7l.7-.3zM1060.9 1592.7l-.7-.2l.4-.4zM1064.5 1590.8l-.4 .9l-.5-.9zM741 1687.6l-.6-.1l.3-.6zM734.7 1686.4l.4 .7l-.7-.1zM737.9 1685.3l-.4-.7l.7 0zM605.9 1680.8l.5 .6l-.8 .1zM620.4 1676.5l-.7 0l.4-.6zM625.8 1676.3l.4-.6l.3 .6zM619.7 1679.8l.7 0l-.3 .7zM626.3 1680.3l-.4-.7l.7 0zM584.9 1679.2l-.3 .6l-.3-.6zM581.9 1681.7l-.7 0l.3-.6zM587.4 1681.7l.2-.6l.4 .6zM581.4 1685l.7 0l-.4 .6zM584.8 1686.9l.3 .7l-.6 0zM587.9 1685.7l-.4-.7l.7 0zM669.1 1633.4l.4 .6l-.7-.1zM670.6 1651.9l-.5-.7l.8 .1zM804 1685.4l-.4 .7l-.4-.7zM853.1 1657.7l-.4-.5l.6-.2zM810.1 1674.1l-.3 .6l-.4-.6zM812.7 1676.2l.3 .6l-.6 0zM815.4 1674.2l.6 0l-.3 .6zM812.9 1669.1l-.3-.7l.7 0zM837.6 1683l-.1-.6l.7 .3zM831.2 1680l.8 .2l-.5 .6zM778.9 1676.4l.7-.4l-.1 .8zM774.4 1679.4l0 .8l-.6-.4zM784.4 1670.8l.4-.6l.3 .6zM800.1 1676.5l.4-.6l.3 .6zM797 1674.1l.7 0l-.4 .7zM803.3 1670.8l.3-.6l.3 .6zM800.4 1669.1l-.3-.6l.7 0zM925.4 1665.2l.5-.5l.2 .6zM916.6 1685.5l.5 0l-.4 .6zM911.9 1681.2l-.6-.2l.4-.5zM923.3 1681.9l.3 .5l-.7 .1zM926.2 1676.6l.3-.6l.3 .6zM867 1686.4l0-1l1.1 .3zM862.1 1682.7l-.8 .4l0-.9zM858.1 1688.1l0 1l-1-.5zM863.7 1686.3l-.6-.4l.6-.2zM913.9 1661.1l-.7-.4l.6-.2zM575.3 1685.1l.6 0l-.3 .7zM572.3 1687.8l.3-.6l.3 .6zM569.9 1685.3l-.4 .6l-.3-.6zM575.8 1681.8l-.6 0l.3-.6zM572.4 1680l-.4-.6l.7 0zM569.7 1682l-.6 0l.3-.6zM554.2 1679.7l.6 0l-.3 .6zM899.9 1688.1l-.2-.7l.9 .5zM947.3 1662.9l-.4-.6l.8 .1zM944 1663.8l.4 .6l-.7 0zM950.2 1667.7l.8 .1l-.4 .6zM956.7 1664.8l.4-.5l.3 .5zM957 1668.7l-.4-.6l.8 0zM937 1615.3l.5 .3l-.4 .4zM1016.8 1476.4l-1.9 2.5l-.4-3.9zM1019.2 1478.8l1.6 2.3l-3.6 .1zM1023.3 1478.9l-1.6-2.3l2.8-1.5zM1018.4 1469.2l-.5 4l-2.6-1.5zM1024.5 1471.4l-3.2 1.7l.5-4.3zM1003.8 1494.2l2.9-.3l-1.2 2zM1005.2 1489.2l1.3 1.5l-2.6 .1zM1008.7 1497l1.2-1.9l1.4 2zM1012.7 1493.3l2.6-.5l-1.1 2.6zM1012.5 1489.9l1.4-3.2l1.6 2.8zM1009.3 1489l-1.4-1.8l2.7-1.1zM641.9 1263.8l-.3 .7l-.5-.8zM644.3 1266.4l.3-.7l.4 .6zM647.2 1263.6l.8-.1l-.3 .8zM668.7 1268.2l.8 0l-.3 .8zM672.4 1269.8l.6 .7l-.9 .1zM675.7 1268.6l-.6-.8l1-.1zM674.8 1264.5l.5-.9l.6 .9zM665.3 1262.1l.9 0l-.4 .8zM668.9 1264.1l.4 .8l-.8 0zM672 1262.9l-.5-.8l.9-.1zM672.3 1258.7l-.8 .1l.4-.8zM666 1258.8l-.9 0l.4-.9zM678 1261.7l1.1-.1l-.5 1zM653.7 1275.1l.7-.1l-.3 .7zM648.3 1272.1l-.8 0l.4-.7zM650.9 1270l-.4-.7l.7 0zM654.4 1271.7l-.7 .1l.4-.8zM690 1310.6l.3 1.1l-1-.1zM686.4 1308.4l1.1 0l-.7 1.1zM693.3 1310.1l-.4-1.4l1.4 .2zM693.4 1305.4l1-1.5l.7 1.8zM685.3 1277.3l-.3 .8l-.7-.6zM696.2 1271.7l-1.5 2.6l-.9-2.8zM691.5 1275.1l-1.3-.6l.7-1.1zM700.5 1276.3l-3.2 .1l1.7-2.9zM688.9 1281.6l2.2-.7l-1 2.1zM689.7 1277.9l-1.3 .4l.3-.9zM687.3 1290.9l.8-.7l-.2 1.3zM708.1 1293.8l-3.4-.6l2.3-2.8zM703.7 1296.4l3 .5l-2.6 2.2zM698.2 1299.4l2.3-1.9l.5 2.6zM696.3 1294.4l2 .6l-2 1.7zM623.7 1283.1l-.6 0l.3-.5zM604.7 1298.6l-.4-.5l.6-.1zM601.2 1300.4l.3-.6l.4 .6zM651.1 1281.6l-.3-.6l.6 0zM645.2 1277.9l-.7 0l.3-.6zM648 1282.9l.4 .5l-.7 .1zM644.5 1281.2l.7 0l-.3 .6zM648.2 1275.4l-.3 .6l-.4-.6zM650.7 1277.7l.4-.6l.3 .6zM635.4 1282.9l.3 .6l-.6 0zM641.4 1283.5l.3-.5l.3 .5zM553.9 1293.6l-.4-.8l.9-.1zM550.6 1294.2l.3 .7l-.8-.2zM553.9 1289.4l.4-.9l.4 .9zM554.2 1280.6l-.3 .9l-.7-.8zM522.4 1307l-.3 .8l-.4-.6zM527.4 1297.2l.8-.3l-.1 .8zM520.6 1297.3l-.7 .5l-.4-.9zM522.7 1299.8l.1 1.1l-.8-.5zM513.2 1296.1l-.5-1.1l1.1 .2zM516.5 1298.3l-.8-.1l.5-.7zM456.6 1288.8l0-.6l.6 .3zM471 1267.6l1.1-.3l-.8 1.2zM471.9 1263.9l-1.1 .3l.2-.9zM468.1 1269.2l.2 .8l-.9-.3zM464.6 1266.2l1.2 .6l-.9 .7zM467.7 1263l-.2 .9l-1-.4zM479.5 1293l.8 .6l-.9 .2zM482.2 1290l0 .9l-.7-.6zM481.4 1296.7l-.4 .9l-.5-.7zM484.3 1298.3l.3 .7l-.6 0zM487.6 1297.5l-.4-.8l.9 .3zM535.6 1269.9l-.6-1.2l1.2 0zM539.2 1271.3l-.6 .1l.3-.7zM494.4 1289l-1.1 0l.8-1zM488.2 1293.6l.6-.5l.2 .7zM486.6 1290.7l-1 .7l-.1-1.2zM444.2 1284.3l1 .4l-.7 .8zM446 1281.4l-.8-.3l.7-.5zM450.4 1287.2l-.3-1l1.1 .2zM452.6 1283.3l-.9-.1l.7-.6zM449.2 1280.9l-.1-1l1 .3zM583.5 1317.4l.5-.5l.3 1zM582 1314.2l-.4 .4l-.2-.7zM581.7 1309.7l.4 .9l-.8-.3zM596.1 1289.7l-.7 0l.5-.6zM589.2 1291.5l-.8 .6l-.3-1.1zM585.9 1298.2l0 .8l-.8-.3zM584.4 1302l-.9 .8l-.2-1.1zM585.4 1305.5l.6-.6l0 .8zM544.7 1302.9l.7 0l-.4 .7zM556.9 1299.4l-.4-.7l.8-.1zM560.8 1300.7l-.9 .1l.4-.9zM524.4 1286.4l-1.4-.5l1-.8zM526.9 1293.8l.4-1.1l.5 .7zM533.2 1295l.7-.2l0 1zM535.3 1303.6l.6 1l-1 0zM539.2 1302.4l-.4 .6l-.4-.7zM541.8 1308.3l.8 .1l-.3 .7zM751.9 1282.8l-1.1-4.1l4.5 1zM760 1285.5l-5.3-.8l3.5-3.2zM755.4 1291.2l-1.5-3.3l4.8 .8zM747.6 1279.8l1.2 4l-4.4-.7zM743.6 1286.4l4.7 .7l-2.7 4.4zM750.9 1289.3l1.5 3.1l-3.9 .6zM994.3 1273.4l6.6 .6l-4.3 4.3zM994.8 1270.1l3.9-5l2.9 5.7zM995.6 1263.6l-3.7 4.9l-2.7-5zM989 1270l-6.5 .4l3.8-5.4zM987.6 1279.7l3.7-5l2.3 4.9zM988.2 1273.4l-3.8 5l-2.5-4.6zM830 1358.8l-3.1-1.9l3.9-2.3zM825.5 1353.9l.2-4.2l3.9 1.8zM822.2 1354.2l-3.6-1.9l3.8-2.2zM817 1355.1l3.6 2l-3.4 2.4zM822.1 1360.1l0 4.6l-3.4-2.2zM825.4 1364.2l0-4.4l2.9 1.9zM805.2 1336.7l3.5-.2l-2.1 4.4zM809.3 1333.1l-3.4 .3l2.3-4.3zM780.2 1369l-1-2.8l2.9 .6zM779.9 1363l2.3-2.4l.7 3.1zM771.5 1364.2l2.5 .8l-1.7 2.4zM776.2 1367.6l1 2.7l-2.7-.3zM774.5 1361.7l-2.5-.7l1.8-2.3zM780 1358.1l-2.4 2.5l-.7-3.3zM806 1374.2l-3.2-2.4l3.4-1.6zM748.7 1380.2l.5 1.1l-1.2 .3zM749.6 1384.6l-.1 1.2l-1.1-.9zM761.5 1393.6l-.4 1.7l-1.3-1.2zM759.5 1400.6l-.6 1.3l-1-1.1zM757.3 1396.3l1.2 1.1l-1.6 .2zM764.3 1396.3l.3-1.8l1.4 1.4zM766.1 1401l-1.1-1.5l1.7-.4zM762.5 1401.8l.9 1.2l-1.4 .1zM766.3 1391.6l1.4-.9l0 2.2zM771 1390l1.4 .5l-1.4 1.7zM766.9 1387.3l-1.2 .8l.3-1.8zM770.1 1382.6l-1 2.2l-1.3-1.5zM773 1387.2l-1.3-.4l.9-1.7zM732.6 1323l-2.8-.7l1.9-2.8zM738.2 1320.4l-2.3 1.9l-1-3.5zM731.2 1331.2l2.4-2.4l.3 2.9zM728.9 1325.4l2.8 .7l-2.5 2.4zM736.9 1328.3l2.7 1.6l-2.5 1.3zM737.8 1325l2.3-1.9l.7 3.6zM765 1363.8l-.4-2.8l2 1.2zM762.6 1370.1l.3 2.6l-2.6-1.1zM766.3 1372.6l-.4-2.3l2.3 1.1zM766.6 1366.9l1.7-1.8l.8 3.1zM754.6 1360.9l-2-.8l1.5-1.6zM759.5 1358.5l-1.6 1.8l-.6-2.6zM761.7 1364.4l-2.1-1.1l1.7-1.9zM758.6 1366.4l2 1.1l-2.1 1.3zM753.3 1368.4l1.9-1.4l0 2.3zM753.6 1364.1l-2 1.5l-.2-2.4zM761.8 1332.1l-2.2-1.8l3.1-1.1zM751.1 1328l2.5 1.9l-2.2 1.7zM754.8 1333.1l.1 3.6l-2.3-1.8zM758.1 1333.3l2 1.6l-1.9 1.7zM736.3 1376.5l1.3 1.2l-1.7 .4zM738.4 1381l-.6 1.5l-1.1-1.2zM741 1383.3l.5-1.2l.7 .9zM743.7 1379.5l2-.6l-1 2zM738.5 1362.8l1.3 1.2l-1.8 .5zM748.3 1365.7l-1.8-1.1l1.7-1.1zM746.7 1360.5l-1.7 1.2l0-2.5zM741.7 1361.2l-1.5-1.2l1.5-1zM758.3 1318.1l-.4-3.6l3.2 2zM755.1 1323.5l-.2 3.2l-2.5-1.9zM753.7 1320.6l-3.1 1.4l-.3-3.7zM754.5 1313.8l.4 3.6l-3.2-2.2zM760.1 1320.9l2.8-1.7l.4 4zM758.1 1327.4l.3-3.6l3.3 2.3zM769.5 1303.3l-3.7 1.5l-.3-3.9zM759.3 1311.5l3.4-1.7l0 3.8zM762.2 1300.5l.3 3.9l-4.1-1.9zM760.6 1307.2l-3.4 1.6l-.4-3.5zM786.1 1304.5l-2.8 2.3l0-4.3zM780 1306.8l-3.7-3l3.7-1.9zM792.6 1320.2l0-3.8l4 1.1zM793.7 1313.2l3-3.9l1.3 5.2zM791.8 1310.3l-.9-3.9l3.5 .4zM788.7 1311.4l-3.9-1.6l3-2.4zM788.9 1402.2l2.1 .8l-1.8 1.4zM784 1402.8l1.6-.7l.3 2zM792.3 1400l-2-.8l1.6-1.3zM787.3 1397.3l-1-1.5l2.6 .3zM784.5 1399l-1.4 .6l.5-2zM777.4 1394.7l-.2-2.1l2.1 1.1zM779.8 1399.1l-1.1-1.3l1.7-.9zM774 1393.8l.2 1.7l-1.5-.2zM773.7 1398.7l-.7 1.9l-.9-2zM776.6 1400.4l1.1 1.3l-1.8 .5zM803.5 1361.6l2.7-1.9l.1 4.2zM801.7 1368.7l.4-3.9l2.8 2.3zM851.5 1373.8l-.9-4.7l4 2.2zM847.6 1383.6l2.3-3.3l1.5 3.9zM853 1379.1l4.5 1.1l-2.9 3.1zM854.1 1375.9l2.7-2.2l1.2 3.2zM838.7 1384.1l3.4 1.4l-2.3 2.7zM840.3 1349.6l-.8 4.5l-3.2-2.5zM846.3 1344.7l3-3.5l1.2 3.2zM855.4 1351.7l-3.5 1.2l1.4-3.8zM848.6 1352.2l-3-4.1l4.7-.4zM843.5 1350.8l2.7 3.7l-3.5 .6zM852.5 1356.2l3.8-1.3l-.3 4zM850.1 1363.4l.4-4.6l3.6 2.9zM843.8 1358.3l3.5-.6l-.4 4.2zM825.1 1392.7l3 1.4l-1.6 2.4zM835 1397.5l-1.8-3l3.2-.5zM830.5 1396.5l1.6 2.7l-3.1-.4zM814.2 1369.8l-3.3-2.3l3.2-1.9zM820.7 1367.8l-3.2 2.1l-.1-4.2zM812.7 1372.8l-3.5 1.8l.2-4.1zM818.8 1373l3.3-2.2l.1 4.6zM833 1369.2l-.1-4.7l3 1.9zM829.7 1369.7l-3.2-2.1l3.1-2.6zM825.4 1370.9l3.2 2l-3.1 2.4zM870.2 1398.1l3.9-.4l-2.2 4zM877.2 1399.1l1.6 2.6l-3.7 1zM881.8 1400.4l-1.5-2.5l4.4 .6zM880.5 1394.6l2.5-2.7l2.6 3.3zM876.1 1372.7l.7 4.8l-4.3-1.2zM873 1364l1.5 3.3l-4.4-.5zM867.6 1359.9l3.2 1.6l-2.9 2.9zM877 1364.8l-1.3-2.8l2.8-1.2zM875.1 1358.7l-.2-4.5l3.4 3zM871.8 1358.3l-3.1-1.6l2.9-2.7zM899.2 1354.8l1-4.4l2.7 3.1zM896.8 1350.1l-1 4.5l-3.2-2.1zM890.9 1355.3l3.2 2.1l-3.8 2.9zM895.8 1360.3l.6 3.4l-4.2-.7zM936.6 1384.8l-2.2-4.3l3.6 .7zM934.2 1377.1l2.8-4l1 4.7zM931.7 1375l-1.9-4l4.7-.2zM903.2 1402.5l4.9-1.7l-1.1 4zM891.3 1400.2l4.4 2l-3.8 2.1zM897.5 1405l-.2 3.9l-3.4-2zM900.8 1404.9l3.7 2.2l-3.9 1.9zM656.9 1525.1l.7 .2l-.6 .4zM643.3 1536.2l-.5 .3l0-.6zM722.2 1340.3l2.2 .4l-1.3 2.1zM725.7 1337.6l-2-.3l2.2-1.6zM729.1 1336.2l.2-2.1l2.3 .5zM733.6 1339.2l-2.3-.5l2.5-1.7zM756.2 1345.6l-2.9-1.4l2.3-1.4zM751.1 1346.8l2.7 1.4l-3 .8zM753.8 1340l-2.3 1.4l.1-3.2zM748.2 1341.2l-2.2-1.7l2.3-1.5zM744 1342.2l2.3 1.7l-3.1 1.1zM747.8 1346.9l-.3 2l-2.4-1.1zM761.5 1351.5l3 1l-1.6 2.1zM770.1 1351.2l2.4-2.3l.3 3.5zM770.1 1358l-.7-3.5l2.6 1.1zM764.9 1357.3l1.4-1.7l.6 2.9zM761.9 1337.8l1 2.9l-3-1.1zM762.1 1343.9l-2.5 1.8l-.7-2.9zM764.4 1346.2l.6 3l-3.1-1.1zM768.2 1348.5l-.6-3l3 .7zM771.4 1343l-3.2-.7l2-2.9zM766 1339.7l-1-2.9l2.8 .2zM691.4 1349.3l-.2-.7l.8 .1zM691.6 1345.3l.4-.6l.4 .7zM749.1 1428.8l.3-.5l.3 .5zM744.5 1417.6l-.7 0l.2-.8zM799.9 1388.6l3-.2l-1.6 2.7zM809.3 1393.6l-.8-3.5l2.2 1.3zM805.3 1390.8l.9 4l-2.6-1.2zM879.4 1444.4l-.7 1.1l-.6-1.8zM875.6 1446.5l-1.5-.6l.8-1.4zM883.4 1447l-1.9 .3l.7-1.1zM883.2 1451.6l-1.2-1.1l2.1-.3zM873.7 1449.3l1.4 .6l-1.2 1zM878.9 1461.7l.2-.9l.8 .7zM880.9 1457.9l.9-.6l-.1 1.4zM874.8 1460.8l1-.4l-.2 .9zM873.6 1456.8l1 .6l-1.2 .4zM876.6 1452.9l0 1.8l-1.3-.8zM879.9 1454.5l0-1.4l.9 .8zM431.3 1562.2l-.5-.3l.5-.3zM491.2 1385.8l.1 .7l-.7-.2zM394 1503.8l-.1 .7l-.6-.3zM406.3 1664l.5 .3l-.5 .3zM403 1658.5l-.6-.3l.6-.4zM407.4 1654.7l.5-.4l0 .7zM366.9 1628.7l.8 .4l-.8 .4zM384.6 1587.1l.2-.7l.4 .5zM255.2 1466.9l1 .6l-.9 .7zM252.4 1497.4l.3-.5l.4 .5zM239.1 1507.5l-1 0l.5-.8zM242.6 1505.5l-.4 .6l-.4-.6zM245.9 1511.2l-.4-.6l.8 0zM245.4 1507.3l.3-.5l.3 .5zM242.2 1501.6l.4 .6l-.8 0zM243.2 1494.9l-.5 .6l-.3-.8zM246.3 1497.2l-.7 0l.4-.6zM245.4 1500.5l.7 0l-.3 .5zM239.6 1496.6l-.9-.2l.5-.6zM239.4 1499.9l-.5 .7l-.4-.9zM243 1522.6l.4 .7l-.8 0zM245.6 1528.8l.4-.6l.3 .6zM242.3 1526.6l.8 0l-.5 .6zM248.9 1526.6l.7 0l-.4 .6zM249.2 1523.3l.3-.5l.3 .5zM246.3 1521.7l-.3-.6l.7 0zM299 1674.2l-.4-.6l.7 0zM249.2 1631.2l-.4-.6l.6 0zM286.6 1682.2l.3-.7l.4 .6zM286.7 1674.3l-.3-.6l.6 0zM280.9 1670.7l-.6 0l.3-.6zM243.2 1685.4l-.7 1.2l-.7-1.2zM243.1 1682.1l-1.2 0l.6-1zM246.6 1679.7l-.5 .9l-.6-1zM250.3 1682l-1.3 0l.5-.9zM256.2 1685.9l-.4-1.1l1.3-.2zM333.2 1688.1l-.7 .1l.3-.7zM338.9 1687.1l.3-.7l.4 .5zM336.2 1685.2l-.4 .8l-.4-.7zM301.8 1679.3l.7 0l-.3 .6zM308.3 1680l-.3-.6l.6 0zM304.9 1681.8l.3-.6l.4 .6zM232.5 1619.8l-.4-.4l.5-.4zM487.5 1686.5l-.7-.2l.5-.5zM490.6 1685.3l-.3-.7l.8 .1zM493.9 1687.4l-.7 0l.4-.6zM416.2 1670.7l.9 .4l-.9 .4zM411.3 1667.5l.5 .3l-.6 .4zM241.1 1393.9l-.6 .8l-.4-.8zM244.2 1396.7l-.9-.1l.5-.8zM243.1 1399.9l.8 0l-.4 .7zM237.5 1396.1l-.9 0l.5-.8zM252.9 1413.6l.3 .6l-.7 0zM245.9 1414l.3-.7l.4 .7zM249.2 1411.8l.8 .1l-.4 .6zM249.9 1408.6l-.7-.1l.4-.6zM242.7 1411.1l.9 .2l-.4 .7zM246.9 1406l-.4 .7l-.4-.8zM243.4 1407.9l-.8-.2l.4-.6zM242.7 1270.9l.6 1l-1.2 .1zM245.6 1269.2l1.1 0l-.5 1zM239.9 1269.3l-.6 1l-.6-1zM239.9 1266l-1.3 0l.6-1.1zM242.7 1264.2l-.7-1.1l1.3 0zM246.7 1265.9l-1.2 0l.6-1.1zM259.5 1299.9l-.8 .1l.3-.6zM249.5 1298l-.3 .6l-.5-.7zM246.1 1300l-.9 0l.5-.7zM252.4 1303.5l.7 0l-.3 .6zM252.9 1300.2l-.8 0l.3-.7zM238.3 1310.5l.5-.7l.4 .7zM239.2 1303.1l-.5 .7l-.5-.7zM234.7 1308.4l1 0l-.4 .8zM235.6 1305.1l-1 0l.5-.7zM236.1 1283.4l-1.2 0l.6-.9zM239.1 1282l-.6-.9l1.2 0zM243.1 1283.5l-1 0l.5-.9zM242 1286.8l1 0l-.5 .8zM248.9 1315.6l.3-.5l.4 .5zM248.9 1319.7l-.4-.7l.9-.1zM246.2 1313.8l-.5 .6l-.4-.6zM245.6 1320.5l.3 .7l-.8 0zM242.7 1315.8l-.9 0l.5-.6zM241.6 1319.1l.9 0l-.5 .7zM280.4 1460.3l.4 .6l-.8 .2zM243.1 1432.9l-.3 .6l-.5-.5zM240.2 1435.6l-.9 .3l.3-.9zM240.5 1438.9l.7-.2l-.1 .6zM259.6 1436l-.9 0l.5-.6zM256 1434.2l-.3-.8l.7 .1zM256.3 1441.2l.5 .5l-.7 .2zM253 1440.8l-.3 .8l-.6-.5zM987.1 1530.9l-.3 .7l-.4-.8zM992.7 1527.9l.4-.7l.2 .6zM989.9 1526.1l-.4-.8l1-.1zM989.5 1533.7l.3-.7l.4 .7zM1073.2 1553.3l-.7-.7l1.2-.1zM1077.5 1555.3l-1.4-.4l.7-1zM1075.9 1558.3l1.5 .4l-1 1zM1067.8 1563.1l.2 1l-.9-.5zM1071.3 1564.2l-.2-1.5l1.4 .5zM1072 1559.5l.7-.6l.3 1zM1065.6 1559.6l.7 .5l-.7 .5zM1067.3 1556.7l-1-.8l1-1zM1071.1 1555.9l-.5 .4l0-.9zM1030.9 1305.4l6.3-1.6l-.7 5.6zM1028.8 1312.5l-.1-4.6l5 3.6zM1035.4 1300.9l-6.1 1.5l1.3-5.1zM1027.4 1296.7l-1.3 5.1l-4.5-3.8zM1023.6 1304l-6.1 1.7l1.4-5.6zM1025.4 1306.9l.1 4.8l-5.9-3.2zM1059.3 1638.2l-.1-.7l.6 .2zM1059.3 1644.3l.6 .3l-.6 .4zM1055.3 1645.2l.7-.4l-.1 .8zM1048 1635.9l-.4 .7l-.3-.6zM1048.9 1644.9l0-.8l.5 .5zM1065.4 1599.2l.7 .9l-.9 .1zM1068.1 1597.4l-.8-1l1-.2zM1069 1605.8l.4-.9l.5 .9zM1072.5 1603.8l1.1 .3l-.6 .6zM1053.3 1675.5l.4 .8l-.8 0zM1056.1 1673.8l.9 .1l-.4 .7zM1050.6 1673.5l-.3 .6l-.4-.7zM1056.8 1670.5l-.8 0l.4-.7zM1050.2 1669.4l.3 .7l-.7 0zM1053.4 1668.5l-.4-.8l.7 .1zM1075.4 1655.2l.4 .7l-.8 .3zM1075.7 1659.4l-.2 1.2l-.7-.8zM1007.2 1528.7l.1-1.1l.9 .7zM1003.3 1527l.8-.3l-.1 1zM1009.2 1521.8l-1 .3l.1-1zM1009.6 1525.2l1-.3l-.2 1zM1005 1521.3l-1.1-.8l1.2-.3zM1002.7 1523.7l-.8 .3l0-.9zM619 1609.1l.1-.7l.6 .3zM675.6 1638.8l.7 .2l-.4 .5zM676.8 1602.8l.6 .4l-.6 .5zM818.6 1689.1l.3-.7l.4 .6zM815.8 1687.2l-.4-.9l.8 0zM810.2 1686l-.4 .6l-.3-.7zM807 1688.2l-.8 0l.4-.7zM813.1 1689.1l-.8-.2l.4-.7zM856.4 1676.4l.7-.6l.3 .8zM860 1670.2l.1-.6l.5 .4zM830.6 1673.5l.6 .3l-.7 .5zM833 1676.5l.1 .6l-.6-.2zM769 1676.2l0 .7l-.6-.3zM772.3 1676.2l.5 .3l-.5 .3zM781.4 1668.1l.7 .1l-.4 .6zM902 1678.8l.7-.1l-.3 .6zM908.8 1678.9l-.3-.6l.7 .1zM915.2 1675.1l.2 .7l-.5-.1zM920.1 1679.7l.6 0l-.4 .7zM868.3 1629.9l.7-.1l-.2 .6zM569.1 1674.4l-.4-.6l.7 0zM566.1 1668.8l-.3-.6l.6 .1zM536.3 1675.8l0-.6l.6 .1zM531.3 1670.8l.3 .5l-.7 0zM533.1 1676.6l0 .6l-.6-.1zM890.6 1687.3l-.8-.1l.5-.6zM894 1685.3l-.4 .6l-.3-.7zM809.3 1612.7l.8 .4l-.8 .5zM822.8 1614.1l-.7-.4l.7-.5zM637.3 1257.7l1.1 .1l-.4 .8zM641.1 1259.8l.4 .6l-.7 0zM692.7 1258.8l-1.6-1.7l2-.3zM686.2 1268.5l.7-1.5l1.2 1.3zM689.6 1265l1.6-.4l-.5 1.7zM683.5 1266.4l-.6 1.2l-.8-.8zM682.4 1262.4l.8 .7l-1.3 .3zM688.6 1261.8l.3-2.1l1.6 1.6zM685.6 1259.3l-.2 1.4l-.8-.7zM666.6 1275.2l-.5-.7l.8-.1zM670.2 1276.7l-.7 .1l.3-.7zM675.6 1299l.5 .8l-.9-.1zM687 1304.2l.6 .9l-1 0zM682.9 1303.1l1.1-.2l-.4 .9zM690.7 1298.9l-1.5 .1l.5-1.1zM690.6 1303.7l-.9-1.4l1.9-.2zM681.9 1279.9l-1.6 .4l.5-1.1zM676.9 1279.7l-.6-.6l1-.2zM698.8 1282.2l-1.6-2.4l3.1-.2zM701.5 1284.2l1.7-2.9l1.6 3.5zM695.7 1287.2l-1.1 1.9l-1.1-1.7zM694.5 1281.6l1.5 2.3l-2.8 .2zM702.3 1290.9l-1-3.4l3.3 .6zM698.4 1289.3l.7 2.5l-2-.6zM685.7 1284l.4-.6l.6 .7zM685.6 1288.1l-.4-.8l1.2 0zM679 1285.4l.6 .4l-.5 .4zM614.2 1281.3l-.3-.6l.6 0zM578.5 1265.9l.4-.7l.4 .7zM576.2 1263.3l-.5 .9l-.4-.9zM572.5 1276.9l.4 .7l-.8-.1zM557 1286.4l.8 0l-.5 .8zM557.1 1282.3l.4 .8l-.7 0zM551.1 1274.6l-.5 .7l-.2-.7zM553.9 1276.4l.4 .9l-1.1 .1zM556.7 1274.6l.6 0l-.4 .6zM557.6 1271.3l-.7 0l.4-.8zM551.5 1271.3l-.6 0l.3-.7zM554.6 1268.5l-.4 .8l-.4-.8zM578 1292.2l.5 .4l-.6 .3zM573.8 1292l.9-.2l-.1 .9zM464.4 1305.2l0 .9l-.6-.4zM502.6 1306.3l.7 0l-.5 .6zM508.9 1306.3l.7 .1l-.6 .5zM509.4 1300.2l-.7 .6l0-.8zM529.6 1269.5l-.3 .8l-.5-.6zM533 1272l-.9 0l.4-1zM526.9 1272.6l-.9 .2l.4-.9zM528.3 1275.7l0 .6l-.8-.5zM579 1306.6l.7 .3l-.4 .6zM580.2 1303.6l-.8-.4l.7-.6zM578.6 1299.6l-.9 .8l-.1-1.4zM589.3 1304l.7 .4l-.7 .5zM595.9 1304.9l.7-.3l-.1 .9zM548.2 1307.9l.8-.2l-.3 .8zM563.7 1307.1l-.6-.2l.3-.6zM560.5 1304.8l-.4-.7l.8-.1zM529.2 1282l.3 .9l-1-.5zM528.5 1286.1l-.7 .4l-.2-.8zM532.7 1290.6l.6 .9l-.9 .3zM546.8 1292.4l.8 .1l-.4 .4zM548.3 1289.2l-1.1-.1l.7-.6zM537.2 1295.5l.5 .4l-.6 .5zM543.3 1294.1l.3-.6l.4 .5zM850.2 1334.5l-1.2-3.3l3.9-.5zM826.4 1320.1l-4.1-1.4l3.8-2.3zM816.7 1349.5l-.1-3.6l3.8 1.6zM813.3 1345.4l.1 3.4l-3.3-2.6zM811.3 1338.8l1.3 3.4l-3.3 .8zM800.5 1377.3l.4-2.8l2.7 2.1zM804.9 1383.2l-3-2.8l3.5-.8zM799.6 1382.8l2.5 2.4l-2.9 .2zM796.4 1381.6l-.4 2.6l-2.4-1.9zM791.5 1376.8l2.9 1.9l-2.9 .7zM797.7 1373.7l-.5 2.9l-3.2-2.1zM760.7 1375.3l-1.9 .8l-.2-1.7zM761.2 1378.7l2.1-.9l-.1 1.9zM755.5 1376.3l-2.3-.6l2.1-1.2zM753.4 1379.2l-1.2 .8l-.6-1.3zM754.2 1389.6l1.7-.7l-.4 1.7zM752.9 1385.1l1.5 .8l-1.7 .8zM756 1381.4l.2 1.8l-1.6-.9zM759.6 1383.4l-.3-2l2 1zM762.4 1387.8l-1.4-1.4l1.7-1zM759.2 1389.3l1.2 1.2l-1.6 .5zM738.6 1371l-1.4 .3l0-1.3zM741.4 1366.9l-.2 1.9l-1.7-1.3zM740.4 1374l-.4 1.5l-1.2-1.2zM743.2 1376.2l.4-1.7l1.5 1.1zM746 1372.2l2-.8l-.4 1.9zM744.5 1369.2l.2-1.8l1.7 1zM778.4 1327.5l2.6-3.6l1 4.2zM784.1 1322.6l3.9 1.4l-2.9 2.9zM785.5 1319.6l3.8-2.4l0 3.8zM787.4 1314.5l-4 2.5l-.1-4.3zM778.1 1309.5l-3.3 1l.1-3.6zM766 1310.1l3.6 2.3l-3.6 1.6zM771.5 1309.7l-3.5-2.2l3.6-1.5zM780.1 1316.4l-3.5-3l3.4-1zM797.1 1361.8l-2.6 1.6l-.6-3zM796.1 1366.2l2.7-1.6l-.4 3.6zM791.3 1364.3l-2.8-.1l2.3-2.7zM790.8 1367.6l-1.2 2.6l-1.6-2.7zM793.9 1368.7l2.3 1.9l-3.5 .8zM802 1358.6l-.4-3.7l3.2 1.8zM805.8 1353.4l-3.5-1.9l2.9-2.7zM792.4 1351.6l3.5 1l-3 2.2zM798.3 1354.9l.5 4l-3.8-1.6zM800.4 1348.8l-1.1-3.9l3.9 1.2zM796.1 1345.7l1.1 3.8l-3.8-1zM844.9 1367.7l-2.5 3.3l-1.3-3.2zM848.3 1374.4l-3.6-1l2.7-3.5zM839.4 1372.3l-4.3-.6l2.9-2.7zM834.6 1375l4.3 .6l-2.3 2.8zM844.3 1376.7l3.4 1l-2.3 3.2zM839 1380.6l2.2-2.7l1.1 4.1zM818 1342.9l2.9-2.4l.9 4zM818.4 1338.2l-2.9 2.4l-1.3-3.5zM828.4 1387.7l.2 3l-3-1.3zM827.2 1384.5l-2.9 1.8l.6-4.2zM832.8 1385.1l2.5-1.3l.9 3.9zM832 1391.4l-.2-3l3.2 2.5zM829.3 1376.5l-.6 4.7l-2.4-2.4zM831.9 1381.8l.6-3.9l1.6 2.8zM817.2 1379.8l.1-3.8l3.2 2.3zM814.1 1375.8l-.2 3.8l-3.2-2zM816.2 1385.8l2.5 2.6l-3.4 .5zM821 1386l-2.8-3l3.5-1.6zM809.5 1386.8l3.4-1.4l-.8 3zM811.9 1382.2l-3.8 1.7l.6-3.7zM877.5 1392.9l-1.8-3.5l4.2 .9zM875.7 1386l2.7-3.2l1.8 4.2zM869.8 1388.9l-1.9 3.9l-1.6-3.6zM872.6 1390.6l1.9 3.8l-3.9 .3zM869 1381.3l1.4 4.2l-3.7 .3zM875.9 1380.7l-2.6 3l-1.4-4.1zM912.7 1356.9l-3.5 3.1l-1.2-3.7zM914.5 1365.3l-3.5-2.6l3.8-3.2zM905.7 1359.7l-4.5-2.1l3.4-1.2zM899.2 1360.3l4.6 2.2l-4 1.1zM885.5 1367.1l-.9 3.2l-3.3-1.2zM882.8 1373.2l-2.8 3l-.7-4.4zM929.6 1389.2l4.4 .8l-2.5 3.4zM929.4 1385.8l2-3.9l2.4 4.7zM924.2 1370.9l-2.9 3.8l-2.3-4.3zM928.8 1376.5l-4.5-.2l2.6-3.6zM926.8 1383.7l-2.6-4.1l4.6 .2zM726.9 1342.9l1.2 2.3l-2.5-.2zM731.1 1343.9l-1-2l2.2 .4zM728 1348.5l-1.1 1.8l-1.2-2zM729.9 1351.7l1.1-1.6l1 1.5zM735.3 1350.5l-1.1-1.6l2.6 .2zM734 1345.6l1.2-1.7l1.7 1.8zM588 1325.9l-.6 .1l.2-.7zM320.6 1399.9l.7 .4l-.7 .3zM413 1508.6l0-.6l.7 .4zM509.7 1659l.4 .6l-.7 0zM620.9 1451.4l-.6 .4l-.1-.6zM566.3 1503.8l-.2-.7l.8 .4zM389.3 1669.7l.4 .7l-.8 .1zM426.8 1598.3l-.3-.8l.8 .1zM239.2 1510.8l-.4 .5l-.4-.5zM235.3 1512.2l.6 .7l-1.2 .2zM242.9 1516.4l-.5-.7l.9 0zM242 1512.4l.3-.5l.4 .5zM242.8 1641.4l-.6 .6l-.3-.8zM245.4 1643.4l.3 .7l-.8-.1zM256.1 1630.8l-.4 .6l-.4-.6zM258.9 1636.3l-.3-.5l.7 0zM280.5 1682.5l.3-.7l.4 .7zM283.4 1679.7l.7 0l-.3 .7zM284.1 1676.4l-.7 0l.3-.7zM280.6 1674.6l-.4-.6l.7 0zM295.6 1676l.3-.6l.3 .6zM289.6 1679.4l.6 0l-.3 .6zM293.1 1673.6l-.3 .6l-.3-.6zM290.1 1676.1l-.6 0l.3-.6zM293 1681.2l.4 .7l-.7 0zM295.7 1679.3l.7 0l-.3 .6zM268.5 1673.9l-.4 .8l-.3-.9zM274.8 1670.9l-.7 .1l.4-.7zM271.8 1668.4l-.4 .6l-.3-.7zM246.1 1687.1l.4 .9l-1 0zM249.4 1686.4l-.5-1.1l1.3 0zM253.3 1687.7l-.8 .1l.6-.8zM274.2 1331.6l.7-.4l0 .9zM275.2 1301.1l.1-.6l.5 .6zM267.9 1322.6l.8-.4l-.1 .8zM260.9 1321.7l.7 .6l-.7 .4zM237.2 1399.4l-.6 .9l-.4-1zM233.6 1401.6l-1-.1l.6-.8zM239.8 1405.9l-.3-.6l.8 0zM239.5 1402l.6-.9l.4 .9zM236.3 1406.5l.6 .9l-1.2 0zM232.2 1404.8l1.2 .1l-.7 1zM255.8 1408.9l.4-.6l.3 .6zM253.3 1406.6l-.3 .6l-.4-.6zM263.1 1307.9l-.4 .7l-.3-.6zM265.9 1302.4l-.4-.4l.6-.3zM265.4 1310.5l.5-.7l.2 .8zM270.1 1302.3l-.9 .5l.3-1zM249.3 1309.2l-.4-.6l.8 .1zM248.8 1305.3l.4-.6l.5 .7zM245.8 1309.9l.4 .6l-.8 0zM246.2 1303.3l-.4 .6l-.4-.6zM241.8 1308.5l1 0l-.5 .7zM242.7 1305.2l-.9 0l.4-.7zM238.3 1292.3l1 0l-.5 .8zM238.4 1289l.6-.9l.5 .9zM236 1286.7l-.6 .9l-.6-.9zM234.6 1294.4l.6-.9l.5 .9zM1077.5 1641.9l-.3 .7l-.5-.5zM1073.7 1643.7l.6 .6l-1 .2zM1075 1647.6l-.4 .8l-.7-.7zM1075.3 1621.6l-.3-.7l.9 .2zM865.8 1660.7l-.5 .3l0-.7zM871.9 1661.6l.6-.3l0 .8zM763.1 1673.4l.6-.3l-.1 .7zM768.7 1670.3l.6-.4l-.1 .7zM776 1664.5l-.9 .1l.5-.6zM941.2 1656.2l.7-.5l0 1zM558.1 1662.1l-.4 .6l-.3-.5zM550.6 1674l.8 0l-.3 .7zM544.1 1675l.9-.2l-.2 .7zM1020.5 1633l-.6 .1l-.1-.6zM840 1540.6l0-.7l.6 .4zM647 1260.3l.3-.7l.5 .6zM643.7 1257.8l.8 0l-.3 .7zM672.1 1293.5l.3 .6l-.6 0zM664 1277.2l-.9 .1l.4-.8zM660.3 1275.4l-.4-.6l.7-.1zM657.3 1276.7l.4 .7l-.8 .1zM663.5 1280.5l.7 0l-.3 .6zM682.1 1292l-.6 .9l-.7-1.2zM678.5 1294.2l-.8 0l.3-.8zM678.5 1297.5l.7 0l-.2 .7zM682.2 1298.9l.9 .8l-1.2 .2zM686.1 1298l-.9-.8l1.2-.2zM591.1 1307.7l-.1 .7l-.4-.4zM582 1271.8l-.7 0l.4-.7zM578.6 1269.9l-.4-.7l.8 0zM575.5 1271.2l.3 .5l-.6 .1zM575.9 1275l-.3 .7l-.3-.6zM570 1262.9l-.5 .8l-.4-.8zM572.9 1265.8l-.7 0l.3-.7zM572.1 1269.1l.8 0l-.4 .8zM584.5 1285.3l-.8-.6l1-.7zM560.1 1276.3l.4 .9l-.9 0zM560.6 1280.5l-.3 .7l-.5-.7zM566.6 1292.5l.9 .1l-.5 .7zM560.5 1288.1l.5 .9l-1 .1zM560.7 1292.4l-.5 .7l-.3-.7zM563.1 1294.8l.5-.9l.5 .9zM573.7 1288.1l.3 .4l-.6 .2zM576.9 1283.1l-1 0l.4-.8zM532.9 1373.9l-.1 .8l-.7-.3zM575.5 1308.5l.4-.7l.3 .9zM573.3 1305.6l-.5 .9l-.6-.8zM569.1 1311l1 .1l-.6 .9zM575.6 1312.7l-.2-.8l.6 .2zM572 1314.2l.4-.6l.2 .7zM590.2 1297.8l-1 .6l0-1zM591.9 1300.6l-.1 1l-.8-.4zM591.3 1294l.2 .8l-.8-.3zM595.1 1301.7l.1-.8l.5 .5zM597.6 1298.7l.8-.1l-.3 .6zM598.5 1295.3l-1 .1l.6-.8zM594.6 1293.7l-.2-.8l.7 .1zM552.2 1308.6l.4 .5l-.6 .1zM552.9 1312.4l-.3 .8l-.4-.7zM547.3 1283.5l-.6-.3l.8-.5zM854.4 1325.2l-4.4-3.2l4.1-.8zM848.2 1327.9l-.3-3.3l4 2.9zM848.3 1318.9l1.1-3.8l2.9 3.1zM844.6 1324l.3 3.4l-3.9-1.2zM843.7 1330.5l-3.2 3.2l-1-4.5zM843.2 1343.3l-1.3-4.4l4.6 .5zM843.2 1335.7l2.9-2.9l1.2 3.3zM774.7 1322.5l3.5-.4l-2.3 3.2zM774.2 1319.2l.3-3.2l3.3 2.8zM771.7 1323.7l1.1 2.7l-3.7-.7zM766.3 1319.5l3.1 1.8l-2.7 2.1zM771.3 1315.3l-.3 3.1l-3-1.7zM824.4 1322.9l-4 2.4l-.2-3.9zM818.1 1331l1.3 4.1l-4.6-1.2zM816.9 1321.9l.2 3.9l-4.4-1.5zM815.6 1328.8l-3.3 2.9l-1.2-4.4zM886.5 1391l4.5 0l-1.9 3.4zM896.2 1367l-1.5 3.6l-3-4.4zM891.6 1371.8l-3.8-.6l1-3.4zM923.7 1394.7l2.9-4.3l1.9 4.5zM927.2 1401.5l-2.9-3.5l4.3 .2zM920.6 1403.6l.9-3.8l2.9 3.5zM914.1 1399.1l4.4-.8l-1 4zM918.5 1376.4l-4.2 .5l1.9-4.6zM600 1325.7l.2-.6l.4 .7zM593.7 1328.7l.6 0l-.3 .5zM591 1323.4l-.3 .6l-.4-.6zM597.2 1323.9l-.4-.5l.6-.1zM297.6 1380.5l-.7 .4l0-.6zM524.1 1544.8l.8 .4l-.8 .4zM517.9 1629.3l0 .7l-.6-.4zM483.2 1566.1l-.7 .4l0-.8zM243 1637.5l.3 .7l-.7-.2zM246.3 1636.8l-.2-.6l.6 0zM243.3 1630.7l-.5-.7l.7 .2zM249.7 1638.6l-.6 0l.3-.5zM251.8 1643.9l.5-.7l.3 .6zM248.4 1641.9l.7 0l-.4 .7zM255.3 1638.1l.4-.7l.4 .6zM277.8 1676.5l-.6 0l.3-.6zM274.3 1674.8l-.3-.5l.6-.1zM277.3 1679.8l.9 0l-.4 .8zM271.2 1680l.8-.1l-.3 .7zM271.1 1675.9l.5 .8l-.9 .1zM252.9 1402.7l.4 .6l-.7 0zM250.2 1400.8l-.3 .5l-.3-.6zM250.3 1397.5l-.8-.2l.4-.6zM260 1396.2l-.4 .6l-.4-.6zM255.9 1401.3l.8 0l-.4 .6zM259.1 1403.6l.4-.5l.3 .6zM1072.9 1627.5l0 .6l-.6-.1zM1070.9 1631l-.6 .5l-.1-.6zM557.2 1669.9l.3 .6l-.7 0zM556.8 1673.8l.5 0l-.2 .6zM562.7 1673.8l.6 0l-.3 .6zM667.3 1286l-.5 .6l-.3-.6zM667.2 1282l.5 .7l-.9 0zM670.4 1280.8l-.5-.7l.8-.1zM674.2 1281.7l-.7 .2l.2-.7zM674.5 1285.1l1.2-.4l.1 1.3zM653.9 1286.5l.7 0l-.3 .6zM654.7 1283.2l-.7 0l.3-.6zM657.8 1280.7l-.4 .6l-.3-.5zM660.5 1286.9l-.3-.6l.7-.1zM660.3 1282.9l.4-.7l.4 .7zM569 1271.7l.4-.7l.3 .7zM563.6 1274.7l-.3 .6l-.3-.6zM569.1 1275l.7 0l-.3 .6zM565.9 1277.3l.4-.6l.4 .7zM566.7 1265.5l-.7 0l.4-.8zM563.8 1262.5l-.4 .7l-.4-.7zM560.7 1265.3l-.8 0l.4-.8zM560.7 1268.6l-.4 .6l-.3-.6zM563.3 1270.6l.4 .8l-.8 0zM566.4 1269.5l-.3-.7l.7 0zM566.5 1289.2l.5-.9l.5 1zM569.7 1286.5l1 0l-.4 1zM564.2 1286.5l-.4 .7l-.4-.7zM570.3 1283.2l-.8 0l.3-.7zM566.7 1281.4l-.5-.8l.8 .1zM563.4 1282.4l.5 .8l-.8 0zM341.2 1374.8l-.7-.3l.8-.4zM344.4 1379.7l1 .4l-.9 .5zM559.9 1319.7l.1-.6l.5 .5zM533.6 1281.5l-.8 1l-.3-1.2zM534.7 1277.2l.2 1.1l-1.1-.1zM538.1 1277.9l-.1-1.2l1.3 .8zM538.8 1289.3l.7 .4l-1 .3zM541 1286.8l.7-.4l0 .8zM535.1 1288.1l.6 .1l-.2 .6zM535.8 1284l.2 .9l-.9-.1zM539.2 1284l-.2-.9l1 .4zM845.4 1311.2l-5 1.8l1.8-4.6zM845 1318.5l-3.7-2.3l4.9-1.8zM831.5 1309.3l2.6 4l-4.2-.8zM837.2 1312.1l-2.9-4.6l4.7-.1zM839.1 1318.7l3.8 2.4l-3.9 2.6zM833.6 1316.6l-3.9 2.9l-.4-3.8zM831.5 1322.2l4.3-3.1l-.2 5.1zM824.2 1340.2l4.4 1.8l-3.4 2.5zM827.5 1346.9l3.2-2.4l.5 4.1zM834 1344.4l4.8 2.3l-4.2 2zM835.5 1341.4l3.1-1.9l1.2 4.1zM827.3 1329.6l-4.7-1.8l4.3-2.5zM821.5 1330.9l4.3 1.7l-3.1 2.2zM830.6 1329.2l-.4-3.9l3.7 1.7zM828.3 1334.8l1.2 4l-4.3-1.7zM837.2 1334.1l-4.7-2.2l3.6-2.4zM833 1339.1l-1.2-3.9l4.3 2zM899.2 1391l-2.8-1.9l2.7-2.9zM901.5 1399.6l.6-3.2l3.9 1.6zM898.8 1396.4l-.7 3.3l-4.1-1.9zM894.4 1391.7l2.6 1.8l-4.3 1.2zM892.1 1375.2l-2.5 3.2l-1.4-3.8zM889 1384.6l1.9 3.1l-4.4 0zM894.1 1386.7l-1.9-3.2l4.8 .2zM892.4 1380.2l2.6-3.3l2.5 3.5zM881.6 1382l4.6 .8l-2.7 3.4zM885 1375.6l1.6 3.9l-4.5-.8zM908.1 1369.9l1.2-4.3l3.4 2.5zM911.1 1376l-2.6-2.6l4.5-1.9zM906 1365.3l-1.2 4.3l-3.1-3.1zM902 1371.5l-4.3 .6l1.4-3.5zM898 1375.4l4.7-.6l-2.2 4.2zM906 1375.5l2.6 2.6l-4.6 1.4zM916.9 1391.4l1.5 3.5l-4.3 .9zM921 1392.7l-1.4-3.4l4-.4zM919.7 1386l1.8-4.6l2.6 4.2zM916.8 1384.2l-2.4-4l4.2-.5zM593.6 1318.2l-.3 .6l-.4-.6zM489.8 1473.9l-.5-.3l.5-.4zM558 1538.8l-.3-.6l.6 0zM559.6 1546l.5 .5l-.5 .2zM905.5 1388.4l-3 2.3l-.1-4.9zM909 1381.5l-1.6 4.2l-3.3-2.8zM914.3 1386.4l-3.8 .2l1.5-3.9zM904.1 1393.6l3-2.3l1.1 4zM910.2 1389.9l3.8-.2l-2.8 4.4zM557.5 1560.5l-.1 .6l-.5-.4zM521.2 1531.2l.6-.3l0 .7zM532.1 1510.1l-.1-.7l.7 .3zM833.4 1656.4l.6 .3l-.6 .3z" fill="#fff"/>
<path id="landc" d="M216.4 1397.2l4.1 .5l8.3 1.1l5.3 1.1l2.6 1.1l2.3 1.2l2.1 1.5l1.6 2.3l1.1 3.2l1.3 3.3l1.4 3.2l.9 3.7l.4 4.3l.7 4.7l1.1 5l.9 .4l.7-4.3l.5-3.2l.4-2.2l1-1.4l1.8-.7l1.3-2.7l.7-4.7l2-2.9l3.2-1l2.7-1.3l2.2-1.4l2.3-.9l2.5-.4l1.4 1.4l.4 3.3l-.2 3l-.7 2.9l.3 1.8l1.5 .7l1.8-.2l2.1-1.1l2.4-.3l2.5 .3l1.4 1.3l.4 2.2l-1.1 2.1l-2.5 2.2l-1.8 2.1l-1.1 2.2l1.3 .5l3.5-1.1l3.5-.9l3.2-.7l1.2 1.3l-.7 3.2l-.7 3.4l-.7 3.6l-.6 3.6l-.3 3.6l.3 1.4l1.1-.7l1.8 0l2.5 .7l2.4-.4l2.1-1.4l2.5-1.8l2.9-2.1l2.9-2.6l2.8-2.8l3.3-2.5l3.5-2.2l3.3-1.4l2.8-.7l1.6-1.1l.4-1.5l1.4 .6l2.5 2.5l2 2.5l1.5 2.5l2.1 1.6l2.9 .7l3.2 .2l3.6-.3l3.2-.9l2.9-1.5l2 .6l1 2.5l.9 3.4l.7 4.3l1.3 3.6l1.8 2.8l2 1.1l2.1-.7l2.2-1.6l2.1-2.5l2.4-1.3l2.5 0l1.9 1.6l1.5 3.3l1.6 3.2l1.8 3.2l1.9 2.9l2.2 2.5l1.6 2.3l1.1 2.2l1.8 1.4l2.5 .7l2.7 1.8l2.8 2.9l2.9 2.7l2.9 2.5l2.5 2.5l2.1 2.5l2.2 3.1l2.2 3.6l1.6 3.9l1 4.3l.8 5l.3 5.8l.4 5.3l.3 5.1l-.1 5l-.8 5l-.9 4.7l-1 4.3l-1.5 3.5l-1.8 2.9l-1.4 3.2l-1.1 3.6l-.7 4l-.3 4.3l0 3.9l.3 3.6l.6 0l.9-3.6l1.1-3.6l1.2-3.6l1.4-2.8l1.4-2.2l1.8-1.4l2.2-.7l2.5 1.1l2.9 2.8l3.2 2.4l3.6 1.7l3.2 1.8l2.9 1.8l3.2 .6l3.6-.7l3.6 0l3.6 .7l3.5-.7l3.6-2.2l3.6-2.9l3.6-3.6l3.6-3.9l3.6-4.3l3.6-4.3l3.5-4.3l3.3-4.7l2.8-5l2.2-3.8l1.4-2.5l2.5-1.6l3.6-.7l2.9-2l2.1-3.2l2.2-3l2.1-2.9l1.4-.1l.7 2.7l.7 2.7l.9 2.9l2.2 1.1l3.6-.7l3.5-1.7l3.6-2.5l2.4-.7l1 1.1l1.1 .9l1.1 .7l3.4 0l5.7-.7l4 1.4l2.1 3.6l1.5 3.6l.7 3.6l1.8 3.2l2.8 2.9l3.6 2.8l4.3 2.9l3.6 3.2l2.9 3.6l2.9 2.9l2.8 2.1l1.8 0l.7-2.1l1.8-1.6l2.9-1.1l3.6 0l4.3 1.1l2.1 1.9l0 2.9l-1.8 1.8l-3.5 .7l-2.9 1.5l-2.2 2.1l-.3 2.9l1.4 3.6l.4 3.6l-.7 3.5l2.5 0l5.7-3.5l4.7-2.9l3.6-2.2l2.1 .7l.7 3.6l-.7 3.3l-2.1 2.8l-2.9 2.2l-3.6 1.4l-3.9 1.1l-4.4 .7l-.7 1.1l2.9 1.4l3.6 .9l4.3 .4l4.3 .7l4.3 1.1l4.1-.4l4-1.8l1.7 1.1l-.5 3.9l.2 4.5l.8 5l1.5 3.6l2.2 2.2l2.8-.7l3.6-3.6l4-1.5l4.3 .8l2.8 2.1l1.5 3.6l1.8 .4l2.1-2.9l2.9-2.9l3.6-2.9l2.1-3.9l.8-5l-.4-4l-1.4-2.8l.7-.7l2.8 1.4l2.2 2.9l1.4 4.3l1.5 5l1.4 5.7l1.8 5.8l2.1 5.7l.4 5l-1.4 4.3l-1.5-.7l-1.4-5.7l-1.4-5.8l-1.5-5.7l-1.2-4.3l-1.1-2.9l-.7 2.9l-.4 8.6l-.9 7.9l-1.4 7.1l-1.1 6.5l-.7 5.7l2.5 2.7l5.7-.3l2.6 1.4l-.8 3.2l-1 3.1l-1.5 2.8l-.3 3.3l.7 3.6l-1.4 2.8l-3.6 2.2l-3.6 1.6l-3.6 1.1l.4 .7l4.3 .3l2.8 2.4l1.5 4.3l2.5 1.8l3.6-.7l3.9 .7l4.3 2.1l3.6 2.9l2.9 3.6l2.8 3.6l2.9 3.5l2.9 2.9l2.8 2.2l3.6 1.4l4.3 .7l3.6-.2l2.9-1l3.9-.4l5 .4l5.1 .3l5 .4l6.1-.2l7.1-.7l7.2-.2l7.2 .4l5.7-.4l4.3-1.1l5.1 .2l5.7 1.4l2.9 5.2l0 9l0 4.5l378.3 40.1l-964.5 0zM833.9 1651.7l3.8 1l3.3 2.8l2.9 4.8l2.1 5.2l1.3 5.7l.5 4.3l-.4 2.9l-1.6-1.4l-2.9-5.8l-2.8-2.3l-2.9 .9l-3.3 1.4l-3.8 1.9l-3.1 1.8l-2.3 1.5l-2.8 0l-3.5-1.5l-.2-2.2l2.8-2.9l2.4-3.3l1.9-3.8l1.9-3.8l1.9-3.9l1.4-2.3l1-1z" fill="#fff"/>
</g>
<defs><clipPath id="landclipc"><path d="M216.4 1397.2l4.1 .5l8.3 1.1l5.3 1.1l2.6 1.1l2.3 1.2l2.1 1.5l1.6 2.3l1.1 3.2l1.3 3.3l1.4 3.2l.9 3.7l.4 4.3l.7 4.7l1.1 5l.9 .4l.7-4.3l.5-3.2l.4-2.2l1-1.4l1.8-.7l1.3-2.7l.7-4.7l2-2.9l3.2-1l2.7-1.3l2.2-1.4l2.3-.9l2.5-.4l1.4 1.4l.4 3.3l-.2 3l-.7 2.9l.3 1.8l1.5 .7l1.8-.2l2.1-1.1l2.4-.3l2.5 .3l1.4 1.3l.4 2.2l-1.1 2.1l-2.5 2.2l-1.8 2.1l-1.1 2.2l1.3 .5l3.5-1.1l3.5-.9l3.2-.7l1.2 1.3l-.7 3.2l-.7 3.4l-.7 3.6l-.6 3.6l-.3 3.6l.3 1.4l1.1-.7l1.8 0l2.5 .7l2.4-.4l2.1-1.4l2.5-1.8l2.9-2.1l2.9-2.6l2.8-2.8l3.3-2.5l3.5-2.2l3.3-1.4l2.8-.7l1.6-1.1l.4-1.5l1.4 .6l2.5 2.5l2 2.5l1.5 2.5l2.1 1.6l2.9 .7l3.2 .2l3.6-.3l3.2-.9l2.9-1.5l2 .6l1 2.5l.9 3.4l.7 4.3l1.3 3.6l1.8 2.8l2 1.1l2.1-.7l2.2-1.6l2.1-2.5l2.4-1.3l2.5 0l1.9 1.6l1.5 3.3l1.6 3.2l1.8 3.2l1.9 2.9l2.2 2.5l1.6 2.3l1.1 2.2l1.8 1.4l2.5 .7l2.7 1.8l2.8 2.9l2.9 2.7l2.9 2.5l2.5 2.5l2.1 2.5l2.2 3.1l2.2 3.6l1.6 3.9l1 4.3l.8 5l.3 5.8l.4 5.3l.3 5.1l-.1 5l-.8 5l-.9 4.7l-1 4.3l-1.5 3.5l-1.8 2.9l-1.4 3.2l-1.1 3.6l-.7 4l-.3 4.3l0 3.9l.3 3.6l.6 0l.9-3.6l1.1-3.6l1.2-3.6l1.4-2.8l1.4-2.2l1.8-1.4l2.2-.7l2.5 1.1l2.9 2.8l3.2 2.4l3.6 1.7l3.2 1.8l2.9 1.8l3.2 .6l3.6-.7l3.6 0l3.6 .7l3.5-.7l3.6-2.2l3.6-2.9l3.6-3.6l3.6-3.9l3.6-4.3l3.6-4.3l3.5-4.3l3.3-4.7l2.8-5l2.2-3.8l1.4-2.5l2.5-1.6l3.6-.7l2.9-2l2.1-3.2l2.2-3l2.1-2.9l1.4-.1l.7 2.7l.7 2.7l.9 2.9l2.2 1.1l3.6-.7l3.5-1.7l3.6-2.5l2.4-.7l1 1.1l1.1 .9l1.1 .7l3.4 0l5.7-.7l4 1.4l2.1 3.6l1.5 3.6l.7 3.6l1.8 3.2l2.8 2.9l3.6 2.8l4.3 2.9l3.6 3.2l2.9 3.6l2.9 2.9l2.8 2.1l1.8 0l.7-2.1l1.8-1.6l2.9-1.1l3.6 0l4.3 1.1l2.1 1.9l0 2.9l-1.8 1.8l-3.5 .7l-2.9 1.5l-2.2 2.1l-.3 2.9l1.4 3.6l.4 3.6l-.7 3.5l2.5 0l5.7-3.5l4.7-2.9l3.6-2.2l2.1 .7l.7 3.6l-.7 3.3l-2.1 2.8l-2.9 2.2l-3.6 1.4l-3.9 1.1l-4.4 .7l-.7 1.1l2.9 1.4l3.6 .9l4.3 .4l4.3 .7l4.3 1.1l4.1-.4l4-1.8l1.7 1.1l-.5 3.9l.2 4.5l.8 5l1.5 3.6l2.2 2.2l2.8-.7l3.6-3.6l4-1.5l4.3 .8l2.8 2.1l1.5 3.6l1.8 .4l2.1-2.9l2.9-2.9l3.6-2.9l2.1-3.9l.8-5l-.4-4l-1.4-2.8l.7-.7l2.8 1.4l2.2 2.9l1.4 4.3l1.5 5l1.4 5.7l1.8 5.8l2.1 5.7l.4 5l-1.4 4.3l-1.5-.7l-1.4-5.7l-1.4-5.8l-1.5-5.7l-1.2-4.3l-1.1-2.9l-.7 2.9l-.4 8.6l-.9 7.9l-1.4 7.1l-1.1 6.5l-.7 5.7l2.5 2.7l5.7-.3l2.6 1.4l-.8 3.2l-1 3.1l-1.5 2.8l-.3 3.3l.7 3.6l-1.4 2.8l-3.6 2.2l-3.6 1.6l-3.6 1.1l.4 .7l4.3 .3l2.8 2.4l1.5 4.3l2.5 1.8l3.6-.7l3.9 .7l4.3 2.1l3.6 2.9l2.9 3.6l2.8 3.6l2.9 3.5l2.9 2.9l2.8 2.2l3.6 1.4l4.3 .7l3.6-.2l2.9-1l3.9-.4l5 .4l5.1 .3l5 .4l6.1-.2l7.1-.7l7.2-.2l7.2 .4l5.7-.4l4.3-1.1l5.1 .2l5.7 1.4l2.9 5.2l0 9l0 4.5l378.3 40.1l-964.5 0z"/></clipPath></defs>
<g clip-path="url(#clipc)"><path d="M402.4 1258.5V1689.6M571.1 1258.5V1689.6M232.5 1445.0H1077.0M232.5 1567.8H1077.0" stroke="#e0e0e2" stroke-width="2.2" fill="none" clip-path="url(#landclipc)"/></g>
<path d="M233.7 1399V1690.1999999999998H676" stroke="#4d4d4d" stroke-width="2.6" fill="none"/>
<path d="M233.7 1445h10.5M233.7 1567.8h10.5M402.4 1690.1999999999998v-9.5M571.1 1690.1999999999998v-9.5" stroke="#4d4d4d" stroke-width="2.6" fill="none"/>
<g clip-path="url(#clipc)" fill="none" stroke="#1a1a1a" stroke-linejoin="round" stroke-linecap="round">
<path d="M216.4 1397.2l4.1 .5l8.3 1.1l5.3 1.1l2.6 1.1l2.3 1.2l2.1 1.5l1.6 2.3l1.1 3.2l1.3 3.3l1.4 3.2l.9 3.7l.4 4.3l.7 4.7l1.1 5l.9 .4l.7-4.3l.5-3.2l.4-2.2l1-1.4l1.8-.7l1.3-2.7l.7-4.7l2-2.9l3.2-1l2.7-1.3l2.2-1.4l2.3-.9l2.5-.4l1.4 1.4l.4 3.3l-.2 3l-.7 2.9l.3 1.8l1.5 .7l1.8-.2l2.1-1.1l2.4-.3l2.5 .3l1.4 1.3l.4 2.2l-1.1 2.1l-2.5 2.2l-1.8 2.1l-1.1 2.2l1.3 .5l3.5-1.1l3.5-.9l3.2-.7l1.2 1.3l-.7 3.2l-.7 3.4l-.7 3.6l-.6 3.6l-.3 3.6l.3 1.4l1.1-.7l1.8 0l2.5 .7l2.4-.4l2.1-1.4l2.5-1.8l2.9-2.1l2.9-2.6l2.8-2.8l3.3-2.5l3.5-2.2l3.3-1.4l2.8-.7l1.6-1.1l.4-1.5l1.4 .6l2.5 2.5l2 2.5l1.5 2.5l2.1 1.6l2.9 .7l3.2 .2l3.6-.3l3.2-.9l2.9-1.5l2 .6l1 2.5l.9 3.4l.7 4.3l1.3 3.6l1.8 2.8l2 1.1l2.1-.7l2.2-1.6l2.1-2.5l2.4-1.3l2.5 0l1.9 1.6l1.5 3.3l1.6 3.2l1.8 3.2l1.9 2.9l2.2 2.5l1.6 2.3l1.1 2.2l1.8 1.4l2.5 .7l2.7 1.8l2.8 2.9l2.9 2.7l2.9 2.5l2.5 2.5l2.1 2.5l2.2 3.1l2.2 3.6l1.6 3.9l1 4.3l.8 5l.3 5.8l.4 5.3l.3 5.1l-.1 5l-.8 5l-.9 4.7l-1 4.3l-1.5 3.5l-1.8 2.9l-1.4 3.2l-1.1 3.6l-.7 4l-.3 4.3l0 3.9l.3 3.6l.6 0l.9-3.6l1.1-3.6l1.2-3.6l1.4-2.8l1.4-2.2l1.8-1.4l2.2-.7l2.5 1.1l2.9 2.8l3.2 2.4l3.6 1.7l3.2 1.8l2.9 1.8l3.2 .6l3.6-.7l3.6 0l3.6 .7l3.5-.7l3.6-2.2l3.6-2.9l3.6-3.6l3.6-3.9l3.6-4.3l3.6-4.3l3.5-4.3l3.3-4.7l2.8-5l2.2-3.8l1.4-2.5l2.5-1.6l3.6-.7l2.9-2l2.1-3.2l2.2-3l2.1-2.9l1.4-.1l.7 2.7l.7 2.7l.9 2.9l2.2 1.1l3.6-.7l3.5-1.7l3.6-2.5l2.4-.7l1 1.1l1.1 .9l1.1 .7l3.4 0l5.7-.7l4 1.4l2.1 3.6l1.5 3.6l.7 3.6l1.8 3.2l2.8 2.9l3.6 2.8l4.3 2.9l3.6 3.2l2.9 3.6l2.9 2.9l2.8 2.1l1.8 0l.7-2.1l1.8-1.6l2.9-1.1l3.6 0l4.3 1.1l2.1 1.9l0 2.9l-1.8 1.8l-3.5 .7l-2.9 1.5l-2.2 2.1l-.3 2.9l1.4 3.6l.4 3.6l-.7 3.5l2.5 0l5.7-3.5l4.7-2.9l3.6-2.2l2.1 .7l.7 3.6l-.7 3.3l-2.1 2.8l-2.9 2.2l-3.6 1.4l-3.9 1.1l-4.4 .7l-.7 1.1l2.9 1.4l3.6 .9l4.3 .4l4.3 .7l4.3 1.1l4.1-.4l4-1.8l1.7 1.1l-.5 3.9l.2 4.5l.8 5l1.5 3.6l2.2 2.2l2.8-.7l3.6-3.6l4-1.5l4.3 .8l2.8 2.1l1.5 3.6l1.8 .4l2.1-2.9l2.9-2.9l3.6-2.9l2.1-3.9l.8-5l-.4-4l-1.4-2.8l.7-.7l2.8 1.4l2.2 2.9l1.4 4.3l1.5 5l1.4 5.7l1.8 5.8l2.1 5.7l.4 5l-1.4 4.3l-1.5-.7l-1.4-5.7l-1.4-5.8l-1.5-5.7l-1.2-4.3l-1.1-2.9l-.7 2.9l-.4 8.6l-.9 7.9l-1.4 7.1l-1.1 6.5l-.7 5.7l2.5 2.7l5.7-.3l2.6 1.4l-.8 3.2l-1 3.1l-1.5 2.8l-.3 3.3l.7 3.6l-1.4 2.8l-3.6 2.2l-3.6 1.6l-3.6 1.1l.4 .7l4.3 .3l2.8 2.4l1.5 4.3l2.5 1.8l3.6-.7l3.9 .7l4.3 2.1l3.6 2.9l2.9 3.6l2.8 3.6l2.9 3.5l2.9 2.9l2.8 2.2l3.6 1.4l4.3 .7l3.6-.2l2.9-1l3.9-.4l5 .4l5.1 .3l5 .4l6.1-.2l7.1-.7l7.2-.2l7.2 .4l5.7-.4l4.3-1.1l5.1 .2l5.7 1.4l2.9 5.2l0 9l0 4.5l378.3 40.1l-964.5 0zM833.9 1651.7l3.8 1l3.3 2.8l2.9 4.8l2.1 5.2l1.3 5.7l.5 4.3l-.4 2.9l-1.6-1.4l-2.9-5.8l-2.8-2.3l-2.9 .9l-3.3 1.4l-3.8 1.9l-3.1 1.8l-2.3 1.5l-2.8 0l-3.5-1.5l-.2-2.2l2.8-2.9l2.4-3.3l1.9-3.8l1.9-3.8l1.9-3.9l1.4-2.3l1-1zM501.9 1508.7l-.2 4.3l-.3 8.6l1.1 6.4l2.5 4.4l1.9 4.3l1.5 4.3l.5 5l-.4 5.7l-.3 5.8l-.4 5.7l-1.2 5l-2.2 4.3l-.7 4.3l.7 4.3l.7 4.3l.8 4.3l-.8 2.9l-2.1 1.4l-2.9 1.8l-3.6 2.2l-3.5 .3l-3.6-1.4l-3.3 .4l-2.8 2.1l-2.2 2.9l-1.4 3.6l-2.2 4.3l-2.8 5l-3.3 4.6l-3.5 4.3l-3.6 3.6l-3.6 2.9l-2.9 3.2l-2.1 3.6l-1.8 4.3l-1.5 5l-1.8 4.3l-2.1 3.6l-2.2 4.7l-2.1 5.7l-.7 5.8l.7 5.7l.9 6.1l1.1 6.5l.5 3.2M504.8 1519.4l1.1 2.4l2.1 4.6l1.8 5.2l1.4 5.8l.6 6.4l-.4 7.2l-.5 6.8l-.7 6.5l-1.1 5.3l-1.4 4.3l-.6 4.7l.4 5l.3 4.3l.4 3.6l-1.1 2.7l-2.5 1.8l-3 2l-3.6 2.1l-3.6 .6l-3.6-1.1l-3 .3l-2.6 1.8l-1.9 2.7l-1.5 3.6l-2.1 4.3l-2.9 5l-3.2 4.7l-3.6 4.3l-3.4 3.6l-3.2 2.9l-2.7 3.2l-2.2 3.6l-1.9 4.3l-1.8 5l-1.8 4.3l-1.8 3.6l-1.6 4.1l-1.5 4.7l-.5 5.2l.4 5.7l.5 6.1l.7 6.5l.4 3.2M519.1 1513l.7 2.5l1.5 5l2.1 5l2.9 5.1l2.5 4.3l2.2 3.5l.3 4.7l-1.4 5.7l-2.2 4.7l-2.8 3.6l-2.5 3.6l-2.2 3.6l-1.1 4.6l0 5.8l-.3 5.7l-.7 5.7l-1.8 5.1l-2.9 4.3l-2.9 2.5l-2.8 .7l-1.5 .3M532 1540.2l2.2-.3l4.3-.7l4.3 1.4l4.3 3.6l3.6 3.2l2.9 2.9l-.8 2.8l-4.3 2.9l-4.3 3.6l-4.3 4.3l-4.3 4.3l-4.3 4.3l-4.3 4.3l-4.3 4.3l-2.1 2.2M543.5 1547.4l-1.4 1.8l-2.9 3.6l-1.8 3.9l-.7 4.3l-1.8 4.3l-2.9 4.3l-3.2 4l-3.6 3.6l-1.8 1.8M566.5 1551.7l1 2.2l2.2 4.3l.7 5l-.7 5.7l-1.1 5.8l-1.4 5.7l-1.1 5.7l-.7 5.8l-1.4 5.7l-2.2 5.8l-1.1 2.8M493.3 1619.1l.4-2.5l.7-5l1.1-4.7l1.4-4.3l.7-2.1M587.3 1627.7l-.9 2.5l-1.8 5.1l-1.6 5.3l-1.5 5.8l-1.2 7.2l-1.1 8.6l-.7 7.8l-.4 7.2l.2 6.5l.7 5.7l.4 2.9M589.4 1629.2l-.3 2.1l-.8 4.3l-.7 5l-.7 5.8l-.2 5.7l.4 5.8l0 5.3l-.4 5.1l-1.2 5l-2.2 5l-1.6 5.4l-1.1 5.7l-.5 2.9M648.2 1634.2l-3.2 1.2l-6.5 2.6l-6.1 1.2l-5.7 0l-5 1.4l-4.3 2.9l-5 3.2l-5.8 3.6l-5 .7l-4.3-2.1l-3.9 .3l-3.6 2.9l-2.2 4l-.7 5l-.4 2.5M575.1 1672.2l-1.8 1.8l-3.6 3.6l-3.2 3.6l-2.9 3.5l-1.8 3.3l-.7 2.8l-.4 1.5M608.1 1603.4l-1.1 2.1l-2.2 4.3l-3.2 4.7l-4.3 5l-3.9 4.3l-3.6 3.6l-1.8 1.8M601.6 1589l-.9 1.4l-1.8 2.9l-2 3.2l-2.1 3.6l-1.8 3.6l-1.4 3.6l-1.5 3.9l-1.4 4.3l-.9 4.7l-.4 5l-.1 2.5M631 1660l1.4-.2l2.9-.3l2.9-.9l2.8-1.5l1.5-.7M288.1 1448.8l-1.1 2.9l-2.1 5.8l-3.2 2.8l-4.3 0l-4.4 1.1l-4.3 2.1l-3.2 2.9l-2.1 3.6l-3.3 3.2l-4.3 2.9l-2.5 .9l-.7-1.1l1.4-2.5l3.6-3.9l2.2-3.8l.7-3.6l-.4-3.6l-1.4-3.6l-.9-4.3l-.3-5l-1.1-3.9l-1.8-2.9l-1.5-3.9l-1-5.1l-.6-2.5M257.3 1412.3l-.2 2.7l-.4 5.3l.6 5.6l1.4 5.7l.5 5.4l-.3 5l.7 5.1l1.8 5l1.3 4.6l.7 4.3l.3 2.2M268 1407.3l.4 2.1l.7 4.3l-.2 4.3l-1.1 4.3l-.3 4.3l.3 4.3l-.3 4.3l-1.1 4.3l0 4.3l1.1 4.3l-.2 4l-1.4 3.6l-.7 1.8M273.8 1413l-.8 3.6l-1.4 7.1l-.3 6.1l.7 5.1l-.4 5l-1.4 5l-.7 2.5M280.2 1427.3l-1.2 2.5l-2.5 5.1l-1.7 4.6l-.7 4.3l-.7 4.3l-.7 4.3l-.4 2.2M291.7 1428l-2 1.7l-3.9 3.2l-2.5 3.8l-1.1 4.3l0 4.3l1.1 4.3l.7 4.6l.3 5l.2 2.6M260.9 1443.1l1.8-.3l3.5-.8l2 2.2l.4 5l-1.8 2.9l-4 .7l-1.9-2.2l0-5l0-2.5M269.5 1464.6l1-.7l2.2-1.4l1.2 0l.4 1.4l-.7 1.1l-1.8 .7l-.9 .4" stroke-width="3.1"/>
<path d="M520.6 1618.4l1.4-.5l2.9-1.1l2.1-4.5l1.5-7.9l2.8-2.5l4.3 2.9l4.3 2.9l4.3 2.8l4 2.2l3.6 1.4l3.5-.7l3.6-2.9l2.9-3.6l2.2-4.3l2.1-5l2.2-5.7l1.7-5l1.5-4.3l.7-2.2M636.7 1577.5l1.5 .8l2.8 1.4l2.2 2.9l1.4 4.3l1.5 5l1.4 5.7l1.8 5.8l2.1 5.7l.4 5l-1.4 4.3l-.7 2.2M606.6 1603.4l-.7 2.5l-1.4 5l-2.9 5.7l-4.3 6.5l-4.3 5.4l-4.3 4.3l-2.2 2.1M405.1 1517.3l1.3-.4l2.5-.7l2.1 .4l1.8 1.4l.9 .7M409.4 1533.1l-.4 2.1l-.7 4.3l-.3 2.2M392.9 1566.1l.4-1.3l.7-2.5l1.4-.4l2.2 1.8l1.8 2.7l1.4 3.6l1.3 2l1 .3l.6 .2M454.6 1667.9l-.7-1.8l-1.5-3.6l-.3-4.6l.7-5.8l.9-5.4l1.1-5l.5-2.5M297.4 1447.4l.9 1.4l1.8 2.9l2 2.7l2.1 2.5l1.1 1.3M324 1428.8l.1 1.4l.4 2.9l.5 2.5l.8 2.1l.3 1.1M283.1 1437.4l.9-.7l1.8-1.5l.7 1.8l-.4 5l-.7 3.6l-1.1 2.2l-.5 1M407.2 1514.8l1 .4l2.2 .7l1.1 .4M410 1532l-.5 2.2l-1.1 4.3l-.5 2.1" stroke-width="4.2"/>
<path d="M226.2 1341.1l1.7 .4l3.4 .7l4.8 1.2l6.1 1.5l6.8 1l7.7 .3l7.6 .2l7.6 0l6.2 .8l4.8 1.5l3.8 1.9l2.8 2.3l2.4 2.3l1.9 2.3l1 1.1M448.3 1336.9l2.1 .5l4.2 .9l4 1.3l3.8 1.5l2.9 1.9l1.9 2.3l.9 1.1M483.4 1356l1.4 .2l2.8 .6l1.9 1.3l.7 1.9l.4 .9M575.9 1330.4l1.2-1.2l2.3-2.5l2.5-1.2l2.9 0l2.7 1.9l2.4 3.8l2.2 4.8l1.9 5.7l1 2.8M593.1 1357.1l-.5 1.6l-.9 3.3l-.8 2.5l-.6 1.9l-.3 1M729.1 1448.5l1.9-.2l3.8-.6l3.8 .7l3.8 1.9l3.1 2.8l2.3 3.8l1.5 3.6l.8 3.5l.3 1.7M762.3 1485.5l1.2 .3l2.5 .6l1.2 .2M772.9 1492l2.4 .6l4.8 1.1l4.2 1.7l3.9 2.3l3.3 3l2.9 3.9l1.7 4.7l.5 5.7l-.2 4.3l-1.2 2.9l-.6 1.4M875.8 1558.7l2.4-.2l4.7-.4l5.3 .5l5.7 1.3l5.7 .9l5.7 .6l3.8 1.7l1.9 2.9l3.8 2.4l5.8 1.9l5.7 2.8l5.7 3.8l4 3.1l2.3 2.3l1.1 1.1M940.6 1587.6l.1 .5l.4 .9l.2 .5M942.5 1599.8l.7 .2l1.5 .4l.8 .2M943.2 1620l1.2 .7l2.3 1.3l1.1 1.8l0 2.3l0 1.1M1025.5 1645.5l1.2-.5l2.2-.9l4 .3l5.8 1.5l5.7 1l5.7 .3l5.7 .5l5.7 .6l7.6 1.1l9.6 1.7l4.7 .9M813.7 1637.1l1.2-.1l2.5-.1l2.7 .9l2.8 2.1l1.5 1M814.8 1689.3l1 .3l1.9 .6l.9 .3" stroke-width="5.4"/>
</g>
<path d="M627.5 1415.6l20 27l-20 27l-20-27z" fill="#b84ea3" stroke="#222" stroke-width="2.7" stroke-linejoin="miter"/>
<text x="643.5" y="1508" font-size="45" font-weight="bold">STL</text>
<text x="208.6" y="1710.7" font-size="56.2" text-anchor="end">70.2</text>
<text x="208.6" y="1587.9" font-size="56.2" text-anchor="end">70.3</text>
<text x="208.6" y="1465.1" font-size="56.2" text-anchor="end">70.4</text>
<text x="208.6" y="1342.3" font-size="56.2" text-anchor="end">70.5</text>
<text x="231.3" y="1770.3" font-size="56.2" text-anchor="middle">-149</text>
<text x="400" y="1770.3" font-size="56.2" text-anchor="middle">-148.5</text>
<text x="568.7" y="1770.3" font-size="56.2" text-anchor="middle">-148</text>
<text x="737.4" y="1770.3" font-size="56.2" text-anchor="middle">-147.5</text>
<text x="906.1" y="1770.3" font-size="56.2" text-anchor="middle">-147</text>
<text x="1074.8" y="1770.3" font-size="56.2" text-anchor="middle">-146.5</text>
<text x="240.8" y="1672.5" font-size="56.6">(c)</text>
</g>
<g id="pd">
<defs><clipPath id="clipd"><rect x="1391.0" y="1258.9" width="844.0" height="431.6999999999998"/></clipPath></defs>
<g clip-path="url(#clipd)">
<rect x="1391.0" y="1258.9" width="844.0" height="431.6999999999998" fill="#f8fcca"/>
<defs><filter id="bld" x="-5%" y="-5%" width="110%" height="110%"><feGaussianBlur stdDeviation="1.6"/></filter><pattern id="dotd" width="6.400" height="11.085" patternUnits="userSpaceOnUse"><path d="M3.20 2.48L4.25 4.30L2.15 4.30zM0.00 3.06L1.05 1.24L-1.05 1.24zM6.40 3.06L7.45 1.24L5.35 1.24zM0.00 8.03L1.05 9.84L-1.05 9.84zM6.40 8.03L7.45 9.84L5.35 9.84zM3.20 8.60L4.25 6.78L2.15 6.78z" fill="#fff" fill-opacity="0.92"/></pattern></defs>
<g filter="url(#bld)">
<rect x="1361.0" y="1228.9" width="904.0" height="491.6999999999998" fill="#f8fcca"/>
<path d="M1367 1230.9l896 0l0 488l-900 0l0-488z" fill="#f7fcc9"/>
<path d="M1367 1230.9l896 0l0 466.8l-7.9-2.8l-4-4l-1.7-4l-.8-8l-1.6-4l-4-3.6l-11.6-4.4l-6.1-8l-2.3-1.7l-4-1.1l-4 1l-1.6 1.8l-1.1 4l1.2 8l3.9 8l.6 4l-2.8 12l-3.7 4l-1.8 0l-2.7-1.9l-4.1-6.1l-3.9-1.6l-4-.3l-4 1.3l-12 8.6l-12 6l-5.5 6l-2.5 5.2l-4 .3l-2.7-1.5l-5.3-.3l-4 1.3l-3.4 3l-124.2 0l-1.4-8l-3-4.8l-8-8.6l-4-3.1l-8-3.8l-6.2-7.7l-5.8-3.3l-8-1.7l-4 0l-12 2.6l-4-1.5l-12-17.8l-4-4.5l-4-1.7l-8-.1l-2 4l1.1 12l-1.1 4l-2 2.1l-8 2.7l-8-.3l-16-9.1l-4 .3l-16 4.7l-7.3 3.6l-6.6 12l-2.1 1.9l-4 .6l-2.9-2.5l-1.8-4l-.6-12l-2.8-8l-3.9-4.8l-4-2.9l-4-1.2l-4 1.1l-12 12l-12 7.7l-4 .3l-8-1.4l-4 .9l-8 4.6l-19.7 3.7l-2.5 4l-1.4 16l-3 12l-34.6 0l2.8-12l-1.6-3.8l-4-.7l-4 1l-12 9.8l-4 2.5l-4 .7l-8-6.5l-8-4.6l-4-3.8l-1.5-2.6l-.1-12l-2.4-2.8l-4-1.2l-4 .8l-8 3.7l-4-.1l-8-2.6l-8.5-5.8l-6.5-12l-5-3.9l-13.9-4.1l-6.1-.8l-5.8 .8l-6.2 2.6l-12 9.2l-8 4.1l-12 8l-12 2.4l-2.7 1.7l-2.3 4l1.5 12l-.5 4.6l-4 5.2l-8 2.3l-3.7 3.9l-66 0l-1.1-4l-2.7-4l-6.5-2.6l-4-.1l-4 2.8l-1.8 7.9l-20.6 0l-2.6-8l.1-4l6.7-12l.5-4l-.6-8l-2.5-4l-7.2-4l-8 .1l-4-1.3l-4-6.4l-4-.8l-8 9.5l-8 3.8l-8 1.7l0-450.6zM2155.5 1470.9l-2.2 4l-1.3 8l3 2.6l4-.5l4-3.3l1.5-6.8l-1.5-4.6l-4-1.4zM2134 1474.9l1 2.1l4 .5l1.4-2.6l-1.4-1.1l-4 0zM1898.7 1626.9l-3.7 4.7l-8.3 15.3l-.6 8l.9 4l4 1.1l15-9.1l3.4-4l5.1-12l-2.1-4l-5.4-3.8l-4-1.3zM2153.7 1658.9l-1.8 8l.3 4l2.8 4.7l4-1.2l3.5-7.5l.1-4l-1.6-4l-2-1.9l-4 .2zM1935 1694.6l8-1l4 .9l3.4 4.4l-.1 4l-3.3 3.2l-4 1.9l-8 .3l-4-1.3l-3.9-4.1l0-4l3.9-3zM1367 1698.6l4 1.2l4-.3l8-2.6l4 .4l2.2 1.6l2.2 4l-.6 4l-4.6 8l-1 4l-22.2 0l0-21.7zM1979 1697.1l4-.2l1.9 2l-.1 4l-3.3 4l-6.5 1.7l-2.5-1.7l.1-4l2.4-3.2z" fill="#f3fac7"/>
<path d="M1367 1230.9l896 0l0 394.5l-2.4 1.5l-3 4l-6.6 3.9l-4-.2l-2.6-3.7l-2.2-8l-3.2-3.4l-4 .1l-8 5.8l-4 .3l-7.1-2.8l-3.6-4l-.7-4l5.2-32l-.1-4l-1.7-4.6l-4-1.7l-4 2.8l-1.8 11.5l-2.2 4.2l-4 2.4l-4 .9l-8-.4l-3-3.1l-1-4.6l-4-6l-4-2.5l-8-.9l-.9-2l-4.2-4l-13.2-8l-5.6-8l-2.4-8l.5-4l1.8-3.5l4-1.9l4-.4l8 1.3l8-15.5l4-10.7l4-3.6l8-4.7l12-18.8l2.8-6.2l.8-4l-.4-8l-2.6-8l-2.5-4l-6.1-7.2l-8-7l-4-2.2l-4-.8l-12 3.8l-8 1l-20 11.8l-12 9.5l-8 4.8l-8 2.8l-12 2.3l-4 2.1l-11.5 11.1l-1.7 4l-.7 8l-4.9 12l.9 4l1.9 2.3l12 7.9l12 14.6l4 2.5l4 .9l12 .5l6.2 3.3l4.3 4l2.1 4l-.6 5.1l-4 2.1l-4.5 .8l-3.5 2.2l-1.2 1.8l1.2 4.2l4 1.6l4-1.5l4-5.9l4-1.5l4 .6l4 1.7l4 3.7l4 13.9l4 4.8l4 0l8-6.5l4-1.5l7.4 14.4l-.5 4l-2 4l-4.9 7.8l-4 2.9l-12 .1l-8 2.5l-4-.5l-4-2.3l-4 .1l-4 2.6l-5.5 6.8l-2.4 8l-.9 8l1.6 12l-.8 .9l-12 1.9l-12 3.9l-5.4 5.3l-.6 4l3.1 8l2.9 4l8.7 8l11.3 9l2.7 3l.5 4l-2.8 4l-4.4 1.7l-12-.7l-2.8 3l-.3 8l-66.9 0l-2.2-20l4.6-12l3.6-14.1l6.7-9.9l-.2-4l-6.5-8.9l-3.2-7.1l-3.8-20l-4.3-4l-8.7-4.2l-4-1.2l-4 .1l-4 2.2l-2.2 3.1l-4.7 12l-9.1 3.8l-4 .6l-4-2.2l-12-15l-4-2.1l-12 2.3l-4-.3l-8-4l-8-2.2l-4-2.1l-12-9.4l-8-1.7l-4 .6l-8 3.8l-4 .3l-8-1.6l-20 2.6l-3.1 2.6l-3.8 8l-.6 4l1.8 4l5.1 4l2.3 4l-2.6 8l-4.4 4l-6.7 .5l-4-1l-6.2-3.5l-4.3-4l-2.8-4l-2.7-7.6l-4-2.8l-1.2 2.4l-.9 8l-2.1 4l-3.8 3.8l-4 1.5l-4-.2l-2.2-1.1l-4-4l-1.8-4.6l-4-1.1l-4 13.7l-.8 12l-3.2 2.4l-4 1l-12 1l-4 2.2l-8 7.1l-4 2.3l-4 .9l-7.1-.9l-12.9-4.9l-12 .1l-12 2.6l-11.9 6.2l-4.1 .8l-4.8-.8l-3.2-3.9l-1.1-4.1l-2.9-2.9l-4-1.1l-4 .6l-8 3l-4 .4l-4-2.2l-1.2-1.8l-6.8-15l-4-2.7l-4 .7l-8 4.8l-4-3.5l-2.2-4.3l-3.8-4l-6-3.8l-4-.3l-8 1.5l-8-.9l-4 1.3l-4 2.7l-4 .4l-4.7-4.9l-2.1-4l-.3-4l3.1-2.3l4-.8l8 4.1l.8-1l-.3-4l-4.5-1.4l-4 .7l-4-1.2l-1.8-2.1l-2.2-.7l-4-.3l-2 1l2 6.6l2.5 1.4l-2.5 .6l-2.3 3.4l-5.7 4.9l-8 12l-4 3.5l-4 1.5l-8-.8l-8-3.5l-8-5.2l-16.9-4.4l-5.5-4l-1.6-5.1l-4-2.1l-1.8 3.2l2.4 12l.2 16l3.8 8l9.6 8l1.7 4l-1.9 4l-2 1.6l-4 1.1l-16-3.5l-16 4.7l-16-2l-4-2.7l-1.5-11.2l-1.8-4l-6.9-8l-6.8-12l-5.5-4l-9.5-3.7l-20-5.1l-28-4.4l-10.2-6.8l1.6-4l4.6-2.2l4-3.3l1.8-2.5l1.1-4l-1.8-8l-3.8-8l-4.1-4l-5.2-2.2l0-353.8zM2037.7 1382.9l-1.1 4l2.8 4l8 8l3.6 8.5l4-.5l3-8l-1-4l-6-4.1l-8-7.9l-4-.8zM2138.6 1390.9l-7.6 4.1l-4-.5l-8-2.9l-8 .9l-5.7 2.4l-5.6 4l.3 4l11 5.2l8 6.3l4 1.3l4-.5l4-3.2l4-5.7l9.2-3.4l4.4-4l-.1-4l-1.5-1.9l-4-2.5zM1410.5 1418.9l-11.5 4.2l-8 5.2l-3.5 6.6l.3 12l3.6 8l15.6 14.2l8 4.3l8-.5l5-2l4.3-4l1.2-4l-1.1-4l-5.9-8l.4-4l8.1-7.3l1.7-4.7l-1.5-4l-3.7-4l-8.5-6.2l-4-2l-4-.6zM2048.1 1418.9l.8 4l2.1 1l4-.7l-4-6.3zM1454.7 1454.9l.4 4l3.9 1.6l2.9-1.6l-2.9-3.3zM1480.2 1482.9l.1 4l1.9 4l9.1 4l7.7 .7l7-.7l2.3-4l-5.3-2.7l-8-2.3l-8-5.4l-4-.8zM2065.3 1594.9l-1 4l1.5 4l5.2 3.1l3.3-3.1l-3.3-8l-4-2.1zM2007 1634.3l4 .9l3.4 3.7l-.9 4l-2.5 2.7l-4 .3l-4-4.5l-.8-2.5l.8-3.4z" fill="#eff9c5"/>
<path d="M1367 1230.9l896 0l0 371.2l-8 .8l-4-1.1l-12.5-10.9l-2.5-4l-3.7-20l-7.6-12l-1.3-4l.4-8l3.2-12l-8-7.2l-12-16.8l-2-4l-.2-4l4.8-24l.2-8l-2.3-8l-30.8-36l-9.7-14.5l-4.6-13.5l-4.4-8l-15-14.7l-12-8.6l-16-24.1l-4-3.1l-4-1.7l-16-3l-4.6 3.2l-1.7 4l-.9 12l-4.8 5.1l-16 3.3l-4-1.1l-10.7-7.3l-13.3-5.4l-16-1.4l-8-1.6l-12 3.6l-3.8 4.8l-1 4l-2 12l1.3 8l5.5 7.8l8 3.9l3.4 4.3l2.2 12l14 36l-.8 4l-6.8 .6l-4 1.4l-4 3.9l-2.4 6.1l-.3 4l2.7 7.8l3.6 4.2l19 12l1.6 4l1 8l3.6 12l-.4 4l-4.4 4.7l-4 6.8l-3.4 12.5l-.1 4l3.5 6.9l4 1.6l8 0l4 1.7l2.1 1.8l2.2 4l-2.4 20l-1.9 5.6l-4 3.4l-4-.6l-8-7.3l-12-1.5l-4-1.4l-12-7.5l-16-.9l-3.1-1.8l-4.2-8l-4.7-1.6l-8.5 1.6l-3.5 1.6l-1.3 2.4l7.4 8l.3 4l-2.4 1.3l-8-.7l-16 1.6l-4-.4l-4-2.3l-8-10.4l-4-3.2l-8-2.3l-4 .5l-3.2 3.9l2.7 16l-3.5 3.4l-4-3l-8-8.5l-10.4-7.9l-5.6-2.9l-4-.4l-8 1.7l-8 3.8l-24 16.5l-20 9.1l-8-.6l-16-6.4l-4 .4l-12 5.8l-12 3.1l-4 1.8l-3.9 4.1l-1.4 4l-.1 8l4.3 12l-1.1 4l-1.8 2.1l-4-.2l-8-10.8l-4-1.9l-4 .4l-4 3.2l-10.4 15.2l-5.6 3.6l-4-.2l-16-4.5l-7 1.1l-13 5.4l-4-1l-9.5-8.4l-7.2-4l-15.3-6l-12-6.8l-16-4.7l-3.8-2.5l-2.2-4l-1-8l-5.9-12l-3.1-4.4l-4-2.3l-8-.1l-8.7 2.8l-3.2 4l-4.1 9.3l-2.2 2.7l-13.8 6.2l-12 11.1l-4.7-9.3l1-8l7.7-15.7l5.8-8.3l4.9-12l5.3-5.3l1.4-2.7l.1-4l-6.9-16l-7.7-12l-1.2-4l0-4l1.3-4l7.4-12l3.4-12l2.1-4l4.1-2.7l4.5-1.3l1.1-4l-2.1-12l1.9-4l6.6-3.7l14-.3l2-1.1l2-2.9l-10-10.3l-1.1-1.7l.5-4l5.3-8l14-16l1.1-4l-.1-8l4.3-6.5l0-3.2l-2.3-2.3l-1.7-.4l-4 3.1l-1.8 5.3l-2.2 1.6l-12 4.1l-20 4.1l-4.8 2.2l-3.4 4l-.6 4l1.8 12l-2.8 12l1.1 8l-.4 4l-2.9 2.2l-8 2.1l-8 4.8l-4 .1l-12-5.3l-12-1.7l-8 .5l-12 4.4l-4 .4l-4-1.3l-11.9-10.2l-8.1-8.5l-16-8.8l-20-9.4l-8-2l-8 1.1l-8 3.2l-13.3 8.4l-6 8l-4.7 17.4l-4 4.5l-8 1.9l0-223.8zM2029.5 1298.9l-6.9 4l-5.4 8l-4.3 12l.5 4l1.6 1.9l4-.8l12-6.3l16 .9l4-1l4.6-2.7l1.4-4l-2.3-4l-11.7-11.6l-4-1.6l-4-.1zM1573.6 1474.9l5.4 5.6l4 .1l1.8-1.7l1-4l-2.8-2.9l-4-.4l-4 1.2zM2039 1442.8l8-1.1l4 .8l7.2 4.4l4.2 4l2.7 4l1.5 4l.1 4l-3.7 3.5l-1.7 .5l-10.3 1.5l-4-1.1l-8-8.6l-6.1-11.8zM2091 1449.5l4-.1l2.4 1.5l1.4 4l-3.3 4l-4.5 1.1l-4.2-1.1l-.7-4zM1367 1465.3l8-1.8l4 .8l4 2.9l2.4 3.7l.9 4l-.3 4l-5.5 40l2.6 8l1.3 12l2.9 4l7.7 2.6l4-1.2l4-4.8l4-2.6l4 .6l4 3.1l1.4 2.3l1.4 4l.1 4l-2.5 4l-4.4 2.7l-4 1.5l-12-.5l-12 .7l-12 6.1l-8 .6l0-100.4zM1455 1546.5l5.2 .4l2.8 1.8l1.1 2.2l-1.8 4l-3.3 2.3l-4-.7l-6.4-5.6l2.4-3.8zM2083 1560.9l4-1.2l4 .8l2.2 2.4l1.1 4l-1.3 12l-2 4.4l-4 1.3l-4-3l-5.3-6.7l-1.8-4l.2-4l3.1-4zM1447 1580.5l8 3.5l16 4.5l4.5 2.4l-.3 4l-11.6 16l-3 8l-1.6 .4l-7.2-4.4l-.8-2.1l-1.3-9.9l-3.6-12l-.3-8zM1463 1619.5l2 3.4l2 1l5.9 7l2.8 4l1.3 4l-.3 4l-1.7 2.5l-4 2.1l-4 .4l-3.4-1l-2.5-4l0-20z" fill="#ebf7c3"/>
<path d="M1367 1230.9l896 0l0 308.1l-12 3.3l-4-1.8l-.7-13.6l-2.3-8l-5-5.2l-8-3.9l-4-3l-4-5.3l-3.3-6.6l-2.3-12l-.3-20l-.8-4l-2.1-4l-11.2-11.3l-6.9-8.7l-25.1-38l-7.2-14l-8.8-12l-14.7-16l-33.3-40l-4.8-4l-7.2-4.1l-20-8.7l-12-10.9l-16-6.1l-4-1l-4 .4l-20 8.7l-7.6 5.7l-4.4 7.1l-10 20.9l-11.4 16l-1.2 4l-1.4 13l-11.9 31l1.1 4l2.8 2.6l8 4l4 5.8l7.5 15.6l-1.4 4l-2.1 .8l-8-2.5l-4 .8l-16.3 12.9l-3.7 3.8l-4 13.7l-4 1.7l-8-.6l-2.6 1.4l-.3 4l2.9 3.9l4 1.5l4-.8l4-4.8l4-.8l16 5l12-.3l4 1.2l4 3.1l15.8 16l1.3 4l-1.6 4l-11.5 12.8l-16 11.5l-4 1.6l-4-.2l-12-2.9l-4 .5l-16 8.6l-3.9 4.1l-4.1 .6l-16.4-.6l-3.6-2.2l-8-10.9l-4-2.3l-4 .3l-3.5 3.1l-1.6 4l-2.9 2.4l-4-1.8l-4-.2l-4 1.8l-8 5.9l-4-1.5l-4-3.5l-4-1.2l-4 1.6l-20 19.5l-4 2.4l-8 .4l-5.2-1.8l-6.8-5.1l-4-.5l-4 5.4l-4 8.9l-4 4.3l-12 .6l-4 .8l-8 4.2l-16 2.2l-4 2.8l-4 4.8l-12 17l-11.2 2.6l-4.8 3.1l-10 8.9l-6 8.6l-4 .5l-16-1.5l-12 1.4l-8-1.9l-16.5-7.1l-6.8-4l-8.3-12l-15-12l-3.3-4l-1.2-4l.1-8l-1-2.5l-14.8-5.5l-.2-4l2.9-4l.9-4l-1.2-16l-2-4l-4.9-4l-.4-4l3.7-6.2l4-14.2l4-4.6l8.6-3l2.4-4l-1.6-8l1.8-8l3.5-8l6.4-8l4.3-16l8.5-12l1.4-12l6.5-16l.7-4l-3.7-16l-.6-8l-1.2-4l-2.8-4l-5.5-4l-4.7-.5l-12 3.7l-16 .9l-12.6 3.9l-5.3 4l-6.1 6.5l-8 4.3l-6.1 5.2l-13.9 16.8l-12 22.3l-8 5.9l-8 8.3l-4 1.5l-4 .2l-12-2.5l-12 1.1l-8-1l-4-2.4l-6.2-6.2l-5.8-3.5l-38.3-12.5l-9.7-1.9l-12 1.6l-10.1 4.3l-12.2 8l-13.7 13.5l-4 1.9l0-203.4zM1776.1 1346.9l-3.1 4l-.8 4l1.2 8l9.6 20.8l12 20.2l4 2.7l4 .8l4-.5l16.1-8l2.6-4l-1.2-4l-4.4-12l-5.1-7l-6.3-5l-13.5-8l-4.2-8.1l-4-4.5l-4-1.2l-4 .4zM1839.7 1394.9l-1 4l4.3 .3l3.2-4.3l-3.2-1z" fill="#e7f6c1"/>
<path d="M1367 1230.9l896 0l0 287.8l-4-2.9l-7.4-8.9l-20.6-17.6l-4.7-10.4l-1.7-8l-.9-12l-1.4-4l-18.2-20l-6.5-12l-13.7-20l-8.9-11.3l-6.9-12.7l-11.3-16l-32.5-36l-9.3-13.2l-7-6.8l-13-9.4l-16-9.1l-20-17.9l-8-2l-8 .1l-8 2.1l-8 4.5l-12 2.9l-4 2l-4 3.4l-5.4 7.4l-13.2 28l-9.8 16l-4.4 16l-7.5 12l-3.7 10.2l-6.8 9.8l-1.4 4l1.2 8l4.2 8l2.2 8l-.6 4l-3.1 4l-3.7 .6l-4-2l-1.6-2.6l-2.1-12l-4.3-2.4l-20 3.7l-8 5.7l-12-8.3l-4-1.2l-8 .1l-4-1.4l-7.8-12.2l-3.7-4l-4.5-2.8l-4-1.5l-4-.3l-12 2.3l-10.1-1.7l-29.9-20.6l-7.6-7.4l-6.2-8l-6.2-4.3l-8-1.6l-8 .6l-5.6 1.3l-8.6 4l-4.4 4l-1.4 4l1 4l3 4.9l12 27.1l5.9 16l1.1 12l5 12.8l2.7 11.2l1.6 4l3.7 3.7l4 .3l4-1l16-9.6l8-1.5l12 1.5l28 6.5l4 0l3.7-3.9l4.3-11.1l8 .6l8 4.3l11.7 10.2l2.1 4l-11.7 8l1.9 1.1l12.2 18.9l1.6 4l-.9 4l-4.2 4l-24.7 15.6l-8 2.7l-8-.5l-6.1-1.8l-3.9-4l-2-4.3l-4-3.1l-4-.1l-12 4.1l-16 .8l-5.1 2.6l-2.9 4l-3 8l-2.9 4l-18.1 9.4l-4 4l-7.2 10.6l-4.8 4.5l-8 5.7l-12 3.6l-4 2.2l-20 18.9l-4 2.5l-8 4.1l-8 1.2l-12-5.1l-4 .2l-12 8.9l-8 .3l-12-1.3l-4-2.8l-5.7-6.9l-10.3-7.1l-5.4-8.9l-4.7-16l-4.9-12l-.5-4l1.1-12l-1.2-12l2-4l4.5-4l16-8l5.4-8l4.5-16l-3.9-12l-.6-16l7.6-16l1.9-12l2.2-3.9l8.2-4.1l4-4l0-4l-2.2-8l.4-4l4.2-12l-.6-4l-3-4l-4.6-4l-6.4-3.7l-24-9.5l-8 .1l-12 2.3l-16 1.4l-16 5.1l-13.3 8.3l-15.1 12l-7.3 8l-8.3 12.5l-12.4 11.5l-10 12l-5.6 3.7l-4 1.1l-12 2.1l-8 .1l-4-1.2l-9.5-5.8l-6.5-2.6l-16-3.2l-23.3-6.2l-12.7-1.7l-12 1.1l-8 2.2l-24 12.8l-8 2.7l0-189.1zM1726.8 1330.9l-3.8 1.7l-13.9 10.3l-1.3 4l3.2 3l4 1.1l16-3.4l4-1.8l2.2-2.9l.2-4l-1.3-4l-5.1-4z" fill="#e4f4be"/>
<path d="M1367 1230.9l896 0l0 264.9l-8-2.6l-3.6-2.3l-7.6-8l-8.8-12.8l-5.2-15.2l-2.4-4l-16.4-16.8l-8.3-15.2l-23.7-30.8l-7.6-13.2l-8.4-12.1l-20-23.1l-16-16.2l-11.9-16.6l-16.1-14l-20-13.2l-13.1-12.8l-6.3-4l-4.6-1.1l-20 .3l-20 6.7l-8 4.7l-8 8.7l-5.3 8.7l-12.6 28l-9.2 16l-4.4 12l-4.5 6.7l-16 17.4l-8 4.2l-16 5.5l-28 2.5l-4-.7l-12.6-7.6l-10.4-4l-17 .2l-4-.7l-20-9.3l-8-4.9l-17.6-17.3l-6.4-4.5l-8-2.4l-20-.2l-12-2l-20-9.8l-12-2.1l-4 1.1l-4 2.5l-20 14l-8 2.9l-28 .3l-24-3.7l-20 3.7l-16 .6l-20 6.1l-10.2 5.5l-9.8 7.3l-14.6 12.7l-13.4 15.8l-14 12.2l-10 10.3l-8 3.8l-8 .1l-14.2-6.2l-5.8-1.6l-16-1.2l-20-4.4l-20-1.8l-8 .3l-12 2.3l-7.6 2.4l-16.4 7.4l-8 1.4l0-180.8zM1707 1370.5l4-2.2l8-.3l4 2.5l3.9 8.4l4.1 2.8l16 0l4 2.2l2.4 3l7 28l6.3 16l5.1 8l-1.2 12l7.2 12l1.4 4l.1 4l-4.1 20l2.5 20l-1.3 4l-5.4 7.8l-12 12.9l-5.3 3.3l-10.7 1.4l-8 3.1l-16 17.8l-4 3.7l-4 2.2l-4 .7l-4-.9l-12-5.7l-8-1.1l-7 2.8l-5 4.3l-4-1.5l-4-5.2l-4-3.1l-16-2.7l-5.2-3.8l-2.8-8l-1.4-24l.7-8l1.7-4l11-8.9l4-4.8l10.3-18.3l4.6-12l1.1-10.6l3.8-17.4l10.5-12l4.5-8l1-4l.3-12l1.5-4l2.4-2.6l8-3.3l3.3-6.1z" fill="#e0f3bc"/>
<path d="M1367 1230.9l896 0l0 255.5l-8-3.2l-4-4.3l-16.5-28l-19.5-20.8l-9.1-15.2l-22.3-28l-20.6-30.7l-15.1-17.3l-16.9-16.6l-16-20.8l-10.7-10.6l-21.3-15l-13.9-13l-6.7-4l-11.4-2.4l-12-.9l-8 .6l-16 4.7l-8 4.6l-12 13l-8 12.4l-10.2 24l-17.8 32l-20 18.2l-8 4.4l-12 3.8l-24 2l-24-9.1l-16-1.4l-8-1.9l-16-7l-8-4.6l-19.2-16.4l-8.8-5.3l-8-2.2l-20-2.2l-24.1-10.3l-11.9-4.4l-8-1.8l-8 1.9l-20 13l-8 2.9l-28 4.8l-24-1.4l-16 4.2l-22.7 .8l-17.3 5.1l-12 5.7l-7.9 5.2l-52.1 46l-8 5.4l-8 .5l-16-4.5l-20 .4l-16-2.5l-28-1.3l-20 3l-20 7.2l-8 1.2l0-175.4zM1723 1402.7l16-2.1l4 1.5l4 5l3.6 11.8l-.8 16l2.3 16l-1 12l.8 4l7.1 11.4l.4 4.6l-1.8 8l-1.9 4l-4.7 6.8l-9.8 9.2l-6.3 16l-21.8 24l-2.1 1.9l-4 .6l-8-3.3l-16-4.3l-12-6.6l-11.3-4.3l-5.2-4l-.8-4l3.1-12l6.9-12l2.3-16l1.8-4l3.2-4.3l12-9l8-11.2l7.5-7.5l1.8-4l1-4l-.3-4l-2-1.1l-4 .4l-3.6-3.3l1-4l2.6-4l4-1.5l4-.2l4-2.4l7.6-15.9l4.4-3.3z" fill="#dcf1ba"/>
<path d="M1367 1230.9l896 0l0 245.2l-4-2l-2.9-3.2l-18-24l-19.1-20.2l-8-12l-25.6-31.8l-14.4-21.6l-12-15.5l-28-28.9l-8-11.1l-12.8-14.9l-4.2-4l-17.1-12l-12.8-12l-9.1-6.1l-12-4.1l-20-3l-8 .6l-12 3.5l-8 4l-4 3.2l-12 14.9l-7.5 11l-14.7 32l-14.8 24l-19 17.4l-8 4.4l-8 2.5l-16 1.7l-8-.4l-24-7l-20-2.8l-20-9.1l-32.7-22.7l-7.3-2.7l-20-3.8l-12.4-5.5l-27.6-9.7l-12-2.4l-8 2.3l-12 7.6l-12.4 6.2l-15.6 5.2l-16 2.6l-20-.9l-16 4.6l-20-.1l-20 5.2l-20 9.7l-16 13.3l-24 17.9l-12 10.5l-8 5.6l-4 1.6l-8 .5l-12-1.9l-20 1.3l-16-1.3l-28-.6l-21.8 2.8l-18.2 6l-8 1.2l0-171.2zM1723 1437.8l4-2.5l4 1l8 8.8l2.1 5.8l-.7 4l-2.4 4l-7 5.9l-4 1.6l-4-.1l-4-2.9l-3.2-8.5l1.2-8zM1699 1482.2l4 0l4 2.8l1.2 1.9l-.2 8l2 4l5 4.2l1.6 3.8l-1.2 4l-13.2 16l-3.2 2.8l-4 1.1l-4-1.5l-4.3-6.4l-.6-4l1.5-12l-.8-8l.9-4l2.3-4l5-6.1z" fill="#d8f0b8"/>
<path d="M1367 1230.9l896 0l0 232.9l-4-2.2l-8-7.5l-28.8-31.2l-23.5-28l-39.7-54.4l-25.3-25.6l-22.7-28.3l-16.1-11.7l-12.6-12l-11-8l-12.3-5.3l-24-6.5l-8 .4l-8 2.5l-12.2 4.9l-7.8 5.4l-20.9 30.6l-14.7 32l-12.4 18.9l-8 8.9l-8 6.7l-8 5.3l-8 2.8l-8 1.1l-16 0l-24-5.7l-20-3.1l-16-7.3l-29.4-19.6l-8-4l-22.6-6.3l-48-16.8l-12-1.3l-8 2.5l-28 15.8l-12 4l-12 1.8l-20-.1l-16 4.4l-20-.3l-24 6.5l-16 7.3l-20 15.7l-20 13.1l-16 13.3l-8 4.7l-4 1.3l-16-.3l-16 1.7l-52-.3l-20 2.7l-16 4.9l-8 1.2l0-167.5z" fill="#d4eeb6"/>
<path d="M1367 1230.9l896 0l0 224.5l-4-1.7l-8-6.5l-45.1-48.3l-46.9-63.2l-24-23.9l-23.4-28.9l-12.6-8.9l-15.6-15.1l-5.3-4l-43.1-21.7l-4-.6l-4 1.5l-7.8 4.8l-16.2 7l-8 5.8l-11.2 19.2l-10.9 16l-12.4 28l-5.5 9.6l-16 19.1l-12 8.5l-8 3.7l-8 1.3l-20 .3l-20-5.2l-20-3l-12-5l-28-18.1l-12-6.1l-72-23.8l-12-1.7l-4 .5l-8 2.8l-28 16.1l-8 2.6l-12 2.1l-20 .9l-16 4l-20-.1l-27.8 7.5l-16.2 7.9l-20 15.1l-16 9.8l-16 12.9l-12 5.9l-32 3.6l-56 1.2l-16 2l-16 4.4l-8 1.3l0-164.1z" fill="#d0edb4"/>
<path d="M1367 1230.9l644.3 0l-16.3 12.9l-6.2 7.1l-7.5 16l-13.5 20l-12.8 28.9l-7.7 11.1l-12.3 13.5l-12 7.6l-8 3.3l-16 1.9l-8-.1l-20-5.5l-20-2.9l-12-4.8l-26.2-17l-13.8-6.3l-27.3-9.7l-20.7-5.6l-24-8.5l-8-1.6l-8 .1l-11.9 3.6l-24.1 14.2l-8 2.9l-12 2.5l-20 2.1l-16 3.7l-20 .1l-24 6l-8 2.8l-12 5.9l-24 16.7l-16 9.9l-12 9.4l-12 5.7l-28 5.4l-52 1.9l-20 1.8l-28 5.7l0-160.7zM2055 1230.9l208 0l0 218.1l-8-4.5l-12-10.7l-36-38l-16-20.6l-28-39l-8-9.1l-20-19.7l-19.2-24.5l-15.9-12l-16.9-16.9l-24.2-15.1l-3.4-4l-1.7-4z" fill="#ccebb2"/>
<path d="M1367 1230.9l629.3 0l-1.8 4l-9.2 12l-9 20l-13.6 20l-10.8 24l-7.6 12l-10.5 12l-14.8 9.2l-8 3.1l-12 1.5l-8 0l-20-5.6l-24-3.9l-9.2-4.3l-24.6-16l-30.2-12.1l-32-8.8l-24-8.4l-8-1.5l-8-.1l-12.4 2.9l-23.6 13.5l-8 3.1l-48 9.6l-20 .5l-34.2 9.3l-13.8 7.3l-38.9 24.7l-13.1 9.4l-12 4.7l-24 5.6l-24 2.1l-44 2l-32 5.7l0-157.5zM2067 1230.9l196 0l0 211.8l-8-4.1l-12-9.6l-32-32.8l-20-25.1l-24-33.8l-8-9.8l-21-20.6l-19-24.5l-19.1-15.5l-16.9-17.6l-14.8-10.4l-3.3-4l-1.4-4z" fill="#c8eab1"/>
<path d="M1367 1230.9l620.9 0l-8.2 16l-6.2 16l-16.1 24l-9.3 20l-10.2 16l-7.8 8l-15.1 9.7l-6.3 2.3l-9.7 1.3l-8-.1l-20-5.4l-24-4.1l-8-3.4l-24-15.4l-32-12.8l-28-7l-28-9.5l-8-1.6l-8-.2l-8 1.1l-8 2.8l-20 11.4l-12 4.3l-44 9.7l-20 1l-36 9.6l-12 6.3l-52 32.2l-8 3.9l-12 4.1l-16 3.8l-24 3l-44 2.2l-32 5l0-154.2zM2075 1230.9l188 0l0 205.6l-8-3.2l-12-8.5l-32-32.5l-20-25.1l-11-16.3l-17-22.5l-21.6-21.5l-18.4-24l-18.9-16l-17.1-19l-9.6-9l-3.1-4l-1.5-4z" fill="#c4e8b0"/>
<path d="M1367 1230.9l611.9 0l-5.8 20l-3.2 8l-15.9 24l-7.8 16l-11.2 18.1l-8 8.4l-13.1 9.5l-6.9 3.1l-8 1.1l-8-.3l-44-9.5l-8-3.5l-20-12.5l-36-14.4l-28-6.6l-28-9.1l-12-1.9l-8 .3l-12 3.1l-24 12.5l-12 4.1l-20.6 5.6l-19.4 3.8l-24 2.4l-32 8.5l-12 5.9l-32 19.2l-12 5.8l-16 9.7l-16 6l-36 6.8l-40 1.9l-36 4.9l0-150.9zM2083 1230.9l180 0l0 199.6l-12-4.2l-8-5.7l-29.5-29.7l-18.5-22.5l-11.9-17.5l-20.1-26.3l-20-19.9l-20-25.6l-14.5-12.2l-7.6-8l-15.9-20l-3.2-8z" fill="#bfe7af"/>
<path d="M1367 1230.9l604.4 0l-1.6 12l-4.1 12l-15.3 24l-15.4 28.4l-4 5.4l-6.3 6.2l-13.7 10.4l-8 3.3l-12 0l-44-9.5l-24-12.5l-40-16l-24-5.3l-36-10.4l-16-.9l-12 2.9l-32 15l-24 7.2l-24 5l-20 2.2l-32.8 8.6l-9.1 4l-35.2 20l-17 8l-13.9 8.4l-12 4.8l-40 8.3l-36 1.5l-36 4.4l0-147.4zM2091 1230.9l172 0l0 194.5l-8-1.8l-8-4.2l-12-10.5l-20-20.6l-17.9-21.4l-10.8-16l-19.3-25.4l-22.1-22.6l-18.5-24l-17.6-16l-6.9-8l-11.2-16l-2.6-8z" fill="#bbe6ae"/>
<path d="M1367 1230.9l598 0l-1.5 12l-2.8 8l-29.9 52l-3.8 5.2l-7.5 6.8l-12.5 8.6l-4 1.7l-8 1l-28-4.2l-24-7.3l-20-8.9l-40-15.8l-36-7.7l-24-6.8l-16-1.2l-12 3l-28 12.9l-32 10.4l-20 4.4l-20 2.5l-36 9.6l-28 13.8l-16 9.1l-15.5 6.9l-16.5 9.8l-12 4.6l-36 8l-36 1.5l-36 4.1l0-144zM2095 1230.9l168 0l0 190l-8-1.6l-8-4.3l-12-10.4l-20-20.4l-16-18.9l-12-17.6l-20-26l-18.7-18.8l-21.3-27l-13.9-13l-6.9-8l-10.7-16l-2.4-8z" fill="#b7e4ad"/>
<path d="M1367 1230.9l590.3 0l-2.1 12l-4.3 12l-6.3 12l-21.6 34.7l-4.3 5.3l-7.7 6.1l-8 4.3l-4 1.1l-8-.1l-24-3.5l-12-4.3l-16-3.8l-60-22.8l-32-5.4l-24-6.4l-16-1.3l-12 2.9l-28 12.4l-36 11.9l-16 3.9l-24 3.7l-33.9 9.3l-58.1 27.7l-20 11.8l-8 3.1l-40 9.1l-32 1l-36 3.8l0-140.5zM2099 1230.9l164 0l0 185.9l-8-1.6l-8-4.5l-12-10.4l-17.5-17.4l-17.1-20l-11-16l-21.6-28l-16.8-16.9l-20-25.5l-13.9-13.6l-6.7-8l-10.4-16l-2.4-8z" fill="#b3e3ab"/>
<path d="M1367 1230.9l580.9 0l-1.5 12l-10.6 24l-9.7 16l-11.1 14.8l-5 5.2l-7 4l-28-.2l-8-1l-27.9-6.8l-64.1-22l-28-2.4l-24-5.8l-16-1.4l-12 2.9l-28 12.2l-38 12.5l-18 4.8l-20 3.1l-36 10l-56 25.6l-21.5 12.5l-10.5 4.1l-36 8.2l-32 1.2l-36 3.3l0-136.8zM2103 1230.9l160 0l0 182l-8-1.7l-7.1-4.3l-12.9-10.8l-16-15.5l-16-18.5l-32.1-43.2l-19.2-20l-18.8-24l-11.9-12l-6.6-8l-9.9-16l-2.4-8z" fill="#afe1aa"/>
<path d="M1367 1230.9l573.4 0l-1.7 8l-7.5 12l-4.2 14.4l-4 7.2l-4.9 6.4l-7.1 6.4l-4 2.3l-9.4 3.3l-18.6 4.6l-8 1.3l-8-.9l-24-7.2l-20-3.7l-48-15l-24 .4l-28-5.8l-12-.7l-12 2.9l-28 12l-24 7l-25.5 9.1l-26.5 5.1l-16 5.1l-20 4.8l-32 13.2l-24.9 11.8l-23.1 13l-8 3.4l-40 8.7l-64 4l0-133.1zM2107 1230.9l156 0l0 178.1l-8-2l-4-2.3l-20-16.1l-12-12l-16-18.7l-32-42.7l-16-16.5l-20-25.3l-13.6-14.5l-10.6-16l-3.4-8z" fill="#abe0a9"/>
<path d="M1367 1230.9l564.4 0l-1.6 4l-8.4 12l-3.3 12l-3.1 5.1l-9.1 6.9l-14.9 6.6l-14.9 1.4l-9.1 3.3l-4-.7l-20-9.9l-4-.5l-9 3.8l-7 .9l-16-3.6l-16-2.3l-16-5.8l-8-.4l-24 1.9l-28-5.1l-12 .4l-12 3.9l-24 10.4l-28 7.9l-24 9.2l-24 4.8l-17.6 5.8l-22.4 5.6l-32 12.8l-24 11.5l-24 13l-8 3l-40 8.1l-60 3.4l0-129.4zM2115 1230.9l148 0l0 174l-8-2.2l-20-14.5l-12-11.1l-16-18.5l-33.1-43.7l-18.9-20.2l-18.6-23.8l-14.3-16l-7.2-12l-3.1-8l-.7-4z" fill="#a6dfa8"/>
<path d="M1367 1230.9l463.4 0l-6.4 20l-4.5 4l-8.5 3.7l-16 1.6l-12-2.9l-8-.8l-12 1l-20 3.4l-8-.5l-20-3.7l-12 .5l-12 4l-24 10.3l-32 8.8l-20 8.4l-24 5.4l-20 6.7l-20 4.7l-34.5 13.4l-45.5 22.9l-8 3.2l-44 8.8l-56 2.7l0-125.6zM1847 1230.9l69.1 0l-2.5 8l-2.6 4.7l-4 4.7l-4 2.7l-8 4.3l-8 2.8l-20 2.2l-4-.5l-4-1.8l-6.6-7.1l-5.9-12l-.4-8zM2119 1230.9l144 0l0 169.9l-8-2.6l-20-13.8l-12-11.3l-16-18.7l-30-39.5l-22-24.4l-16-20.8l-13.1-14.8l-7-12l-2.9-8l-.7-4z" fill="#a2dda7"/>
<path d="M1367 1230.9l447.6 0l-3.6 9.6l-4 3.9l-4 1.5l-28 1.4l-36 8.3l-8-.3l-20-3.2l-12 2.1l-36 14.9l-28 6.8l-24 10.4l-24 5.8l-16 5.8l-24 6l-32 12.2l-52 24.9l-44 9.3l-56 2.3l0-121.7zM1871 1230.9l32.2 0l-1.9 4l-5.5 4l-4.8 1.5l-8 .6l-8-1.3l-4-2.2l-1.9-2.6l-1.2-4zM2123 1230.9l140 0l0 165.6l-8-2.7l-20-13.2l-10.2-9.7l-17.8-20.7l-26.9-35.3l-25.1-28.8l-27.9-35.2l-4.3-8l-2.7-8l-.6-4z" fill="#9edca6"/>
<path d="M1367 1230.9l398.2 0l-2.1 4l-3.6 4l-20.5 9.3l-8 .9l-20-2.3l-12 2.6l-40 16.9l-24 5.2l-25.9 11.4l-26.1 7.1l-16 6l-16 3.5l-8 2.7l-32 12.2l-48 22.5l-16 2.7l-28 7l-20 1.5l-32 .3l-4-.1l0-117.4zM1779 1230.9l5.4 0l-5.4 .7l-2.1-.7zM2127 1230.9l136 0l0 161.4l-4-1l-8-3.8l-16-10.8l-10.1-9.8l-17.9-20.7l-23.8-31.3l-28.2-33.4l-12-16.3l-11.9-14.3l-4.4-8l-2.5-8l-.6-4z" fill="#9adaa5"/>
<path d="M1367 1230.9l380.4 0l-6.3 4l-10.1 3.7l-20 1.4l-8 1.7l-24 12.1l-20 7.9l-24 5.2l-28 12.3l-24 7.3l-16 6.2l-24 6l-32 12.3l-48 21.6l-16 3.1l-24 6.4l-28 2.5l-32-1l0-112.7zM2131 1230.9l132 0l0 157.2l-12-4.5l-13.3-8.7l-10.7-9.9l-19.4-22.1l-72.2-92l-4.6-8l-2.4-8l-.5-4z" fill="#96d9a5"/>
<path d="M1367 1230.9l333.8 0l-7.5 8l-11.2 8l-7.1 3.5l-22.7 8.5l-21.3 4.7l-26.1 11.3l-37.9 14.2l-28 7.4l-32 12.7l-44 19.1l-36 8.9l-32 4l-32-3l0-107.3zM2135 1230.9l128 0l0 153l-12-4.1l-12-7.9l-12-11l-16-18.1l-40-52.1l-13.3-15.8l-17.6-24l-4.9-8l-1.4-4l-1.2-8z" fill="#93d7a5"/>
<path d="M1367 1230.9l320.8 0l-1.6 4l-3.2 4l-5 4l-7 3.4l-20 7.3l-20 5.2l-68 27.7l-24 6l-76 31.4l-32 8.5l-36 5.2l-32-4.8l0-101.9zM2139 1230.9l124 0l0 148.8l-12-3.8l-12-8.1l-12-11.1l-15.8-17.8l-28-36l-12.2-17.6l-12-14.2l-14.2-20.2l-6.1-12l-1.1-8z" fill="#8fd6a4"/>
<path d="M1367 1230.9l311.2 0l-3.2 5.3l-8 4.6l-32 11.1l-16 7.1l-16 5.1l-42 18.8l-26 6.8l-72 29.8l-28 8l-20 2l-20 4.2l-32-5.7l0-97.1zM2143 1230.9l120 0l0 144.6l-8-1.9l-12-6.8l-12-10.2l-16.3-17.7l-28.1-36l-13.3-20l-10.3-12.5l-11-15.5l-6.8-12l-2.2-8z" fill="#8bd4a4"/>
<path d="M1367 1230.9l289.4 0l-17.4 12l-23 12l-25 8l-32.8 16l-23.2 6.1l-28 12.9l-16 5.4l-24 10.1l-32 9.9l-24 2l-16 4.2l-32-5.9l0-92.7zM2151 1230.9l112 0l0 140.5l-8-1.8l-12-6.8l-12-10.4l-12.6-13.5l-28.1-36l-15.3-23.6l-18.5-24.4l-7.7-16l-1.2-8z" fill="#87d3a4"/>
<path d="M1367 1230.9l269.5 0l-1.9 4l-4 4l-18.5 12l-25.1 7.3l-16 8.8l-17.4 7.9l-22.6 6.6l-27.6 13.4l-16.4 5l-20 8.9l-32 9.9l-8 1.3l-16 .6l-16 4l-8-.6l-24-4.8l0-88.3zM2155 1230.9l108 0l0 136.2l-12-3.4l-12.4-8.8l-15.6-15.2l-23.1-28.8l-23.8-36l-17.2-24l-3.9-8l-2.2-8l-.3-4z" fill="#84d1a4"/>
<path d="M1367 1230.9l256.2 0l-5.8 8l-10.4 8.3l-24 6.7l-12 6.9l-24 10.6l-20 5.9l-24 12.5l-17.2 5.1l-18.8 8.9l-36 10.9l-20 1.3l-12 2.8l-8 .5l-28-4.7l0-83.7zM2159 1230.9l104 0l0 131.8l-12-3.4l-11.4-8.4l-12.9-12l-23.2-28l-39.5-60l-5.3-12l-1.1-8z" fill="#80d0a4"/>
<path d="M1367 1230.9l241.3 0l-.8 4l-2 4l-4.8 4l-17.7 5l-12.7 7l-15.3 5.7l-13.8 6.3l-22.2 6.6l-16 9.8l-23 7.6l-15.1 8l-37.9 11.6l-16 .9l-20 2.7l-12-1.1l-16-3.3l0-78.8zM2167 1230.9l96 0l0 126.9l-10.9-2.9l-9.1-6.4l-16-14.4l-22.6-27.2l-37.1-60l-3-8l-1.1-8z" fill="#7ccea4"/>
<path d="M1367 1230.9l226.8 0l-2.8 5.1l-20 12l-24 8.4l-12 5.5l-18.2 5l-19.4 12l-22.4 6.7l-20 10.5l-28 9l-36 4.2l-12-.7l-16-4l0-73.7zM2171 1230.9l92 0l0 121.7l-8-1.7l-4-2.1l-20-16.1l-24-28l-11.6-17.8l-22.4-40l-3.7-12l-.3-4z" fill="#78cda3"/>
<path d="M1367 1230.9l210.4 0l-2 4l-3.9 4l-4.5 2.7l-24 7.8l-12 6.2l-16 4.5l-24 14.5l-20 5.3l-24 13.2l-24 6.9l-24 3.8l-12 .8l-12-1.3l-12-4.1l0-68.3zM2175 1230.9l88 0l0 116.6l-8-2.2l-4-2.4l-20-15.5l-20.7-24.5l-11-16l-15.4-28l-8.6-20l-1.2-8z" fill="#75cba3"/>
<path d="M1367 1230.9l193.2 0l-4.1 4l-21.1 8.4l-12 6.8l-12 4l-24 14.3l-20 6.3l-24 13.4l-8 2.9l-28 6.4l-20 2.1l-8-.6l-16-5.7l0-62.3zM2179 1230.9l84 0l0 111.5l-4-1l-8-4.3l-18.7-14.2l-25.3-31.1l-5.9-8.9l-14.4-28l-6.6-16z" fill="#71caa3"/>
<path d="M1367 1230.9l164.2 0l-6 8l-5.3 4l-17.6 8l-19.3 10.8l-20 8.1l-16 9.1l-40 13l-8 1.5l-8 .3l-12-1.7l-16-5.5l0-55.6zM2187 1230.9l76 0l0 105.7l-4-1l-8-4.4l-16-11.9l-8-8.2l-18.9-24.2l-4.9-8l-16.9-36l-3.1-12z" fill="#6ec8a3"/>
<path d="M1367 1230.9l151.1 0l-2.1 4l-5.2 4l-47.8 23.4l-16 9.5l-28 9.1l-12 5l-12 1.8l-8-1.2l-16-7.5l-8-1.5l0-46.6zM2191 1230.9l72 0l0 98.7l-8.2-2.7l-19.8-14l-6-6l-18-22.7l-4-6.5l-16-34.8l-3.2-12z" fill="#6cc6a3"/>
<path d="M1367 1230.9l137.1 0l-5.1 4.7l-20 8.6l-36.5 22.7l-7.5 2.9l-16 3.3l-12.7 5.8l-7.3 1.7l-9.5-1.7l-14.5-11.7l-12-1.8l0-34.5zM2195 1230.9l68 0l0 91.3l-8-2.7l-20-13l-19.8-23.6l-4.7-8l-13-28l-4.6-16z" fill="#6ac4a3"/>
<path d="M1367 1230.9l110 0l-17.1 16l-20.9 13.3l-8 2.6l-12 1.4l-16 5.2l-4 .4l-4-.8l-3.7-2.1l-8.3-7.3l-4-2.3l-7.9-2.4l-7.2-4l-.9-4.4l0-15.6zM2199 1230.9l64 0l0 83l-4-1.1l-20-10.3l-8-6.9l-7.4-8.7l-5.5-8l-13.7-28l-2.9-8z" fill="#68c2a3"/>
<path d="M1379 1230.9l75.4 0l-1.7 8l-1.7 2.6l-8 6.4l-4 1.5l-12 1l-13.6 4.5l-6.4 1l-4-.6l-4-2.3l-19-18.1l-2.1-4zM2207 1230.9l56 0l0 74.3l-12-3.6l-12-6.3l-8-7.1l-4.4-5.3l-4.8-8l-13.2-28l-2.5-12l-.3-4z" fill="#66c0a3"/>
<path d="M1403 1230.9l31 0l-1.8 4l-5.2 2.9l-12 2.2l-4-.7l-4-2.2l-2.4-2.2l-2.3-4zM2215 1230.9l48 0l0 67.9l-8-1.7l-8-4.1l-8.7-6.1l-7.8-8l-10.5-20l-4.7-12l-1.8-8l-.5-8z" fill="#64bea3"/>
<path d="M2223 1230.9l40 0l0 62.3l-8-2.2l-4-2.5l-12-9l-4.2-4.6l-8.7-16l-3.1-8l-2.5-20z" fill="#61bca3"/>
<path d="M2231 1230.9l32 0l0 55.2l-7.4-3.2l-12.6-8.8l-4-4.3l-4-6.4l-5.9-12.5l-1.4-8l-.7-12z" fill="#5fbaa3"/>
<path d="M2235 1230.9l28 0l0 37.8l-12-1.2l-4-2.2l-4-4.1l-8.1-14.3l-2-16z" fill="#5db8a3"/>
<path d="M2243 1230.9l20 0l0 21l-4-.8l-4-2l-11.2-10.2l-2.1-4l-.8-4z" fill="#5bb6a3"/>
</g>
<path d="M2043 1253.1l2.5-2.2l33.8 0l3.7 4.2l3.2 7.8l-.9 28l3.3 12l5.4 8l18.3 20l19.2 40l8.9 12l45.2 52l17.9 32l8.2 12l12.1 12l19.2 13.8l0 41.1l-16-9.9l-40-16.6l-12-8.4l-8.1-12l-3.3-12l-4.6-28.2l-4-10.6l-5.9-9.2l-14.1-14.5l-34.5-25.5l-8.1-8l-6-12l-4.8-20l-7.4-12l-19.2-13.5l-8-3.7l-8-1.9l-12 .5l-12 3.2l-8 4.2l-5.2 7.2l-1.4 8l1.3 12l16.8 40l2.1 12l-.1 16l-4.6 24l-7.3 20l-9.6 17l-12.4 15l-14.7 12l-16.9 9.1l-19.1 6.9l-48.9 12.4l-28 9.3l-29.6 14.3l-54.4 33l-20 8.3l-16 3.5l-12 .7l-12-1.2l-20-7l-8.4-5.3l-9.1-8l-6.6-8l-7-12l-4.5-12l-2.8-16l.2-16l3.9-32l-1.1-12l-7.4-36l.6-12l2.2-8l5.9-12l10.1-12.3l12-8.6l16-5.4l16 .4l36 5.2l48 12.4l16-.5l12-3.5l16-9.4l5.5-6.3l3.2-8l.5-8l-1.7-8l-4.6-8l-5.3-4l-37.6-16.2l-28-9.7l-36-18.4l-12-2.8l-12 .2l-28 6.6l-36 14.4l-24 7.4l-20 3.1l-44 3.5l-11.9 3.9l-16.1 10.8l-16 8.9l-5.1 4.3l-5.8 8l-9.1 21.5l-6 10.5l-7.5 8l-10.5 6l-8 1.9l-12-.2l-12-2.7l-24-8.1l-16-2.5l-12 1.5l-8 5.2l0-14.7l8-2.9l28 1l28 4.4l12-.8l8-2.6l8-5.1l4.4-4.4l5.4-8l10.2-20.9l9.3-11.1l10.7-6.8l36-15.4l56-6.5l76-23.6l28-7.6l16-2.4l12 .9l12 3.8l40 24.6l28 12.1l32 11.2l11.1 9.7l16.9 22.4l12 11l12 3.4l20-2.7l12-3.9l8-4.6l12-12.6l8.2-17l12.5-40l4.2-4l23.1-5.8l8-3.3l8-5.3l8-9.6l8.8-20z" fill="url(#dotd)"/>
<path d="M1779 1316.8l-2.2-1.1l2.1-1.2zM1812.3 1452.8l.9 2.1l-2.1 .1zM1397.1 1247.2l-3.5 15.8l-13.4-15.3zM1780.6 1295.8l4.1-2.5l-.5 5zM1783.5 1291.2l-4.1 2.6l-.7-4.6zM1775.2 1314l-.5-2.8l2.8 1.4zM1775.9 1309.2l3.1-1.3l-.1 2.8zM1781.6 1282.6l2.4 6.3l-5-2.1zM1830.7 1460.3l-1.5-1.1l2.4-1zM1835.3 1460.6l-2.3 .2l1-2.2zM1823.3 1449.1l-1-1.8l1.4 .4zM1823.6 1454.7l1 2.3l-2-.5zM1391.8 1264.6l-14.7 1.5l1.5-16.7zM1411.7 1261.8l-16 2.3l3.6-15.7zM1442.4 1245.7l10.3 13l-16.9 .8zM1780.1 1304.5l-2.2-1.8l4.2-.6zM1777.3 1300.5l1.6-3l3.2 2.2zM1774.9 1307.1l.9-3.1l2.1 1.8zM1829 1456.7l.7-1.6l1.4 .8zM1825.8 1453.9l1.7 .3l-.8 1.8zM1826.7 1451.7l-1.5-.4l.4-1.5zM1821.3 1450.3l-1.6-.5l.5-1.5zM1814.3 1451.5l1.9 .1l-1.1 1.8zM1816.8 1455.1l1.2-1.9l.9 2.4zM1820.1 1452.4l1.8 .5l-.9 1.6zM2219.4 1265.5l-6.4-14.7l19.9 7.2zM1418.4 1245.4l-4.8 15l-12.5-13.5zM1415.7 1261.3l4.8-14.8l11.1 13.3zM1500.4 1293.4l-12.5-5.2l12.2-7.7zM1770.9 1310.4l-1.6 2.3l-.8-2.2zM1771.1 1314.4l1.4-2.1l.4 2.2zM1774.5 1279.6l5.5 1.2l-2.7 4.2zM1777.1 1294.3l-4.2-.8l3.5-3.6zM1775.1 1299.6l-2.2-3.7l3.8 .7zM1769.2 1305l1.9 3l-2.7 .1zM1770.9 1303.2l2.7 0l-.9 3zM1765.1 1304.5l2-.7l-.7 2.7zM1770.3 1300.8l.7-3.4l2.1 3.4zM1781.8 1259.2l-6.9-1.9l4.2-5.1zM1789.1 1280.9l-4.9-1.4l5-4.8zM1783.8 1281.8l4.7 1.4l-2.3 4.8zM1785.9 1262.3l6.6 .4l-2.3 6.5zM1792.7 1260.4l-6.7-.5l5.4-6.8zM1802.2 1257.2l-7.2 2.9l-1.3-7.5zM1809.4 1285.4l2.6-7.2l4.9 5.7zM1813.7 1276.6l8-2.1l-3 7.9zM1821.4 1272.2l-8.2 2.1l2.3-8.2zM1960.9 1314.1l2.9 2.8l-3.9 1.1zM1805.4 1455.9l1-2l.9 1.6zM2236.8 1274l-15.3-7l13.3-7.4zM2220.8 1335.1l-9.6-6l8.8-6.3zM2219.9 1337.2l-8.3 4.6l-1.1-10.3zM2196.9 1361.7l6.1-5.9l2.7 7.7zM1390 1283.2l-11.9-14.8l14.7-1.5zM1514.8 1272.2l-.5 13.3l-10.8-7zM1513.2 1287.5l-10.4 5.7l-.4-12.6zM1529.5 1276.2l-10.9-6l15.1-7.3zM1517.5 1287.6l11-7.2l-2.6 13.2zM1527.9 1278l-11.2 7.4l.4-13.3zM1515.2 1302.5l1.2-12.8l8.3 5.9zM1514.1 1289.7l-1.3 13l-9.1-7.3zM1485.9 1301.9l-12.5-3.1l11-8.2zM1499 1295.4l-10.8 6.2l-1.4-11.3zM1767.5 1293.7l-3.3 .7l-.6-3.3zM1764.4 1298.9l2.3 2.5l-2.3 .9zM1768.1 1299.5l-2.6-3l3.5-.7zM1748.5 1269.6l4.4-1.9l.4 5.1zM1760.6 1279.8l-4.2 2.1l-.4-4.7zM1757.6 1283.9l4.1-2l-.7 4.6zM1748.7 1277.2l-1-5.3l4.7 3.2zM1754 1281.5l-3.9-2.4l3.5-2zM1749.2 1281.3l3.8 2.3l-3.5 2zM1772.9 1266l.9-6.6l7 1.9zM1787 1293.8l3.8 4.4l-4.3 .8zM1803.2 1294.4l-4.4-3.8l6.8-1.8zM1794.9 1297.3l2-5.3l4.3 3.7zM1790.5 1284.6l3.6 4.5l-6.1 .5zM1794.6 1291.4l-1.9 5.3l-4.2-4.7zM1825.4 1271.5l3.1-8l6.6 7.1zM1826.2 1262.8l-3 7.9l-6-6.2zM1824 1275l5.4 6l-8.4 2zM1831.4 1279.7l-5.4-5.9l9.4-.8zM1843.8 1281.7l-10.3-1l4.2-7zM1834.1 1283.1l9.5 1l-5.2 4.7zM1797.4 1279l-6 1.8l.2-6.5zM1802.1 1280l7.6-2.3l-2.6 7.2zM1798.1 1288.4l2.2-6.8l5 4.8zM1798 1281.2l-2.1 6.4l-3.7-4.5zM1807.4 1257.5l9.2-4.3l-2.4 8.7zM1819 1253.4l6.7 7.1l-9.2 1.8zM1891.7 1300.7l-4.7 7.5l-2.8-8.9zM1888.7 1310l4.7-7.6l3.5 8zM2202.2 1267.6l14.4 .6l-10 13.1zM2217.1 1265.9l-14.5-.7l8.1-13.8zM2200.8 1263.6l-6.3-15.6l14.4 1.7zM2191.1 1247.2l-6.3 12.8l-6.6-17.7zM2182.5 1260.5l-11.9-6.2l5.5-11zM2170.8 1257.1l11.8 6.1l-8.4 7.6zM2198.7 1264.7l-12.3-2.6l6.2-12.6zM2166.6 1255.8l-8 8.7l-5.2-9.8zM2160.3 1266.1l8.2-8.9l3.3 13.8zM1966.7 1312.3l-1.1 3.1l-2.7-2.6zM1964.5 1319.1l-.8 3.6l-3-2.5zM1962.1 1324.4l-3.7 1.2l.7-3.7zM1906.5 1318.6l-5.2-5.9l7.9-.3zM1953.8 1314.3l4.9-.9l-1.1 4.2zM1803 1455.3l-1.1-1.8l2.3-.5zM1800 1455l1.2 1.7l-2.3 .4zM1787 1455.2l1.5 1.8l-2.4 .5zM2218.2 1270l2.6 14.3l-12.4-1.4zM2235.8 1276.1l-12.7 7.7l-2.7-14.7zM2205.2 1355.1l9.6 1l-6.8 6.9zM2210.5 1345.8l4.7 8l-9.6-1zM2216.4 1357.9l.5 9.6l-7.3-2.8zM2219.3 1352.8l3.3-12.6l4.9 7.7zM2220.3 1339.7l-3.3 12.5l-4.7-8.1zM2240.2 1345.2l.1 10.2l-8.8-6.8zM2232.9 1330.2l-9.7 5.2l-.9-12.5zM2223.8 1337.7l9.3-4.9l-4.3 12.8zM2235.3 1333.5l4.4 9.3l-8.7 3.5zM2181.1 1299.2l-11 2.5l3.1-10.1zM2170.2 1304.1l11-2.5l-6.2 11zM2167.8 1301.2l-9.2-7.4l12.4-2.8zM2157.3 1295.7l8.4 6.9l-8.1 1.8zM2148 1281.7l5.7 9.8l-10.1-2.1zM2143.4 1299.4l-7.8-1.7l5.6-5.3zM2153.2 1293.8l-7.4 5.3l-2.4-7.3zM2147.5 1300.7l7.4-5.3l.4 8.6zM2220.7 1286.7l-3.4 12.9l-8.8-14.4zM2215.9 1369.6l-6.7 6l-.5-8.7zM2192.3 1363.2l-4.9 6l-2.6-7.5zM2195.1 1360.2l-2.1-7.8l8.1 2zM2190.8 1353.2l2 7.7l-7.6-1.5zM2167.3 1353l-4.5 4.8l-1.1-5.1zM2164.6 1359.4l4.6-5l.9 5.5zM2160.6 1359l-4.8-.4l3.8-4.5zM1412.4 1264.1l-4.7 14.5l-11.1-12.2zM1406.1 1280.3l-13.9 4.1l2.8-16.3zM1471.6 1297.2l-2.2-16.1l13.8 7.5zM1472.4 1260.9l-4.9 15.4l-10.3-15.4zM1486.5 1286.3l.2-12.9l12 5.2zM1470.6 1279.1l13.7-5.7l-.1 13.1zM1483.5 1271.2l-13.7 5.7l4.7-15zM1517.4 1268.2l1.4-11.2l13.6 3.9zM1530.8 1280.7l7.4 9.5l-9.9 3.6zM1538.6 1292.5l-1.8 11.2l-7.9-7.7zM1539.1 1304.3l1.8-11l6.8 7.4zM1511.4 1304.6l-9.5 3.3l.8-10.4zM1499.6 1307.8l-9.8-4.4l10.5-6.1zM1529.5 1345.5l-1-2.1l2.5 .2zM1526.4 1344.5l1.1 2.2l-2.7 0zM1524.6 1307.6l-8.4-3l9.1-6.6zM1535.2 1305.5l-8.2 2.2l.7-9.5zM1527.6 1309.9l7.9-2l-3.7 8.1zM1547 1310.1l-6.8-3.8l7.9-3.3zM1569.8 1309.6l3.2-5.5l2.9 6.4zM1544.1 1274.3l-12.2 2.1l4.2-13.2zM1544.3 1276.6l-4.5 11.8l-7.5-9.7zM1573.4 1299.1l-3.6-8l8.5 .7zM1570.1 1288.8l6.1-8.7l2.6 9.4zM1574.6 1278.3l-6.4 9.1l-4.2-10.4zM1624.9 1254.9l-9.9 6.2l1.2-14.5zM1628.1 1268.6l-.1-11.2l8.6 5.8zM1625.7 1257.2l0 11.5l-9.8-5.4zM1612.6 1261.3l-10.2-6.7l11.4-8.2zM1584.1 1249.8l13.8 5.1l-11.1 7.8zM1762.9 1309.4l.8-2.7l1.3 2zM1760.7 1308.4l-1.1-1.7l1.8-.8zM1764 1282.5l3 3.4l-3.7 1.1zM1768.7 1284.2l-3.3-3.6l5-1.1zM1770.8 1285.4l1.7-4.6l2.7 5.1zM1771.3 1291.8l-.7-4l4.1 .4zM1768.2 1288l.7 3.8l-4.2-2.8zM1731 1258.2l3.9 5.6l-6 0zM1724.2 1272.2l-4-3.1l5.3-2.2zM1719.2 1271.3l3.8 2.9l-3.3 2.6zM1770.6 1257.5l-6 2.3l.4-7.4zM1770.5 1265.9l-4.8-4l5.7-2.2zM1739.2 1264.8l4.5-3.8l.9 6.4zM1746.1 1261.4l5.5 4.3l-4.6 2zM1733.3 1257.4l8.7 2l-4.7 3.9zM1740.8 1272.9l-1.8-5.6l5.1 2.4zM1746.3 1276.9l-4.1-2.1l3.1-3zM1719.1 1267l.3-5.9l5.4 3.6zM1721.1 1259.4l7.7-2l-2.1 5.8zM1774.7 1277.3l4.7-4.4l1 5.6zM1772.7 1269.8l5.2 1.3l-4.7 4.3zM1782.7 1277.7l-1-5.8l6.2 .9zM1781.8 1269.6l2.2-6l4.2 6.8zM1779.5 1269.1l-5.1-1.3l7.1-4.2zM1764.3 1278.5l-.2-4.8l5.3 3.7zM1765.3 1271.7l5.1-1.9l.5 5.8zM1761.7 1273.2l.2 4.7l-4.7-2.7zM1764.1 1269.7l.3-5.8l4.7 3.9zM1755.3 1268.2l5 3.1l-4.6 2.1zM1762.1 1263.4l-.4 6l-5.3-3.3zM1978.1 1287.6l-.5 5.3l-4.2-2.3zM1976.4 1294.9l-3.4 2.5l-.5-4.6zM1949.7 1292.8l-8.4 3l2.2-7.9zM1970.7 1297.7l-5.4-1.9l4.9-3.1zM2000.2 1257.3l-5.2 4.4l-1-5.6zM1848.8 1272.1l-2.9 8.6l-6.1-8.1zM1892.9 1284.9l-4.9-8.2l9-.1zM1891.9 1290.1l.4 8.3l-7.4-1.4zM1902.9 1288.1l-8.2-1.6l4.1-8.3zM1894.2 1288.8l8 1.6l-7.6 6.9zM1814.8 1293.5l-5-5.7l7.5-1.6zM1812.7 1294.7l-7.2 .4l2.5-5.9zM1794.7 1263.7l5.4 4.7l-7.8 1.9zM1800.9 1270.6l-1.8 6.8l-6-4.9zM1801.5 1277.7l1.8-6.7l5.7 4.4zM1803.4 1259.3l-1.6 7.5l-5.4-4.7zM1804.2 1267.1l1.6-7.8l6.6 4.3zM1810.9 1273.9l-6-4.6l8.2-3.5zM2190.9 1281.5l9.3-12.6l4.4 13.6zM2174.6 1275l11.6 7.3l-12.2 5.3zM2183.9 1265.2l3.1 14.9l-11.5-7.3zM2189.4 1279.7l-3.2-15.3l12.4 2.7zM2186.9 1284.6l-4 13.1l-8.1-7.9zM2137.4 1280.4l8.6 .1l-4.3 7.4zM1969 1312.9l2.1 1.8l-3.1 1zM1974.8 1312.2l.2-3.1l1.7 1.3zM1972.6 1309.3l-.2 3.4l-2-1.7zM1962.7 1326.6l-.9 3l-2.4-1.9zM1964.6 1332.3l2.8-.5l-1.3 2.5zM1967.1 1329.4l-2.9 .6l.8-2.9zM1894 1319.1l-4.9-6.8l7.8 .5zM1904.3 1319.7l-8.2 .4l3-6.3zM1956.1 1325.3l-3.6-2.5l4.3-1.4zM1951.3 1320.7l.7-4.8l3.9 3.3zM1947.8 1305.4l1.6 6.2l-4.9-2.2zM1941.4 1300l5.2 3.2l-3.4 4.1zM1947.8 1301.1l-5.4-3.2l7.7-2.7zM1915.7 1319.6l-7.1 0l2.7-6.1zM1824.8 1459.5l-1.2 1.6l-.8-2.2zM1826 1461.8l1-1.3l1.3 .9zM1812.9 1457.3l-1.1 1.9l-.9-1.8zM1723.6 1488.4l-2.1 1.3l.1-2.2zM1722.6 1491.8l2.1-1.3l-.3 2.2zM1725.2 1484.4l-.1 2.1l-2-.9zM1727.4 1486.3l.2-2.2l2.2 1zM1791.9 1451.6l-2.6 .1l1.7-1.9zM1789.1 1454.1l2.5-.1l-1.1 1.8zM1792.6 1456.9l1-1.7l1 1.9zM1795.6 1453.9l2.4 0l-1.2 2.2zM1793.8 1461.7l-1.1-2.5l2.2 .3zM1777.3 1473.8l1.9-1l-.1 2.4zM1778.2 1470.7l-1.9 1l-.1-2.3zM1522.3 1343l2.2 .2l-1.5 2zM1524.7 1340.8l-2.5-.2l.8-3.1zM2235.4 1293.8l-11.1-8l12.6-7.6zM2233.9 1295.6l-14.4 5.1l3.4-13.1zM2227.9 1360l-8.2-4.8l8.2-4.8zM2239 1357.4l-8.7 3l0-9.7zM2218.7 1357.4l8.2 4.7l-7.7 5zM2157.9 1291.5l3.4-8.6l8.5 5.9zM2159.1 1282l-3.3 8.5l-5.5-9.6zM2162.8 1281.1l9.4-5.9l-.6 12zM2161.6 1279.1l-1.8-10.6l11.2 4.7zM2157.6 1269.3l1.7 10.4l-9-1.2zM2183.4 1302.5l4.4 9.7l-10.6 1.3zM2194.5 1329.1l2.1 9.3l-8.6-.4zM2196.1 1340.7l-4.6 7.6l-3.8-7.9zM2209.3 1342l-8.9-2.9l7.8-7.4zM2198.8 1337.4l-2.2-9.5l10 2zM2200.1 1341.5l8.7 2.8l-5 6.9zM2193.2 1350l4.7-7.7l3.7 9.8zM2183.3 1328l9.4-.4l-6.5 9zM2179.8 1325.8l-8.8 .7l4.1-8.9zM2187.4 1314.6l-5.7 9.9l-4.8-8.6zM2183.8 1325.6l5.6-9.8l3.9 9.5zM2177.7 1366.9l-3.9-4.7l7-.7zM2185.2 1369.8l-5.6-1.6l3.1-5.3zM2172 1363.7l3.7 4.5l-5.4 1.1zM2189.6 1373.1l6.9 .8l-1.9 5.7zM2196.3 1371.5l-7-.8l4.7-5.9zM2198.7 1374.6l6.3 3.2l-8.2 2.5zM2198.6 1370.9l-2.4-6.9l8.6 1.8zM2206.8 1376.1l-6.6-3.4l6.2-5.2zM2189.5 1349.5l-8.3-.4l4.5-7.5zM2180.9 1351.5l8 .4l-5.5 6zM2173.9 1359.8l5-7.1l2.4 6.4zM2171.3 1352.9l5.3-1l-4.4 6.3zM2165.4 1345.2l2.6 5.4l-5.7-.2zM2163.2 1341.6l-6.5 .2l3.3-4.4zM2156.5 1344.1l6.9-.2l-3.2 5.4zM2146.8 1360.6l3.8 .1l-3.1 3.1zM2164.4 1368l5-3.7l-1.5 5zM2163.2 1366l.1-4.4l5.1 .5zM2148.1 1393.5l-2.3 .1l1.3-1.6zM2152.3 1395.7l2.2-.3l-.9 2.3zM2156.6 1396.4l1.6 1.9l-2.5 .5zM2161.6 1396.5l.1-3.3l1.7 1.9zM2159.3 1392.9l0 3l-1.4-1.7zM2147.8 1386.2l2.6 1.2l-2.3 1zM2151.1 1389.7l-1 2.5l-1.2-1.6zM2152.2 1393.3l1.1-2.8l1.2 2.6zM2158.9 1388.3l-3.4-1.2l2.5-2.2zM2155.5 1389.6l2.8 1l-1.6 1.5zM1428 1277.7l-11.6-14.1l15.9-1.5zM1426.1 1279.1l-16.3 .6l4.7-14.6zM1426.2 1281.5l-9.5 13.3l-6.6-12.8zM1495.5 1260.7l-10 9.3l-8.7-9.2zM1487.6 1271.3l10.1-9.4l2 14.6zM1500 1261.8l13.7 8.3l-11.6 6.5zM1501.7 1260.1l14.8-3.2l-1.4 11.3zM1580.8 1318.1l-6.2-.3l3.2-3.9zM1572.5 1316.7l-2.5-4.6l5.6 .8zM1567.8 1312.9l2.5 4.7l-5.2-.3zM1509.2 1316.1l-6.4-6l9.2-3.2zM1509.9 1320.4l4.4 5.9l-7.4-.2zM1540.1 1341.7l-.5-1.8l2.1 1zM1537.1 1340l.6 1.9l-2.1-.3zM1513.6 1328.6l-3 2.6l-2.7-2.7zM1522.3 1317.3l3.5-5.9l4 5.8zM1512.2 1319.5l6.3 .2l-2.1 5.4zM1524 1309.9l-3.7 6.1l-4.3-8.9zM1518.4 1317.3l-7-.2l2.6-8.8zM1537.4 1309.4l2.6 7.8l-6.2 0zM1545.9 1312.2l-3.8 4l-2.5-7.6zM1555 1310.9l-5.8-.1l1.1-6.6zM1559.6 1312.9l6-.8l-2.8 4.4zM1554.5 1286.4l-6.2-10.1l11.9 .4zM1546.4 1277.7l6.2 10.1l-10.7 1.5zM1566.1 1288.5l-9.6-.8l5.5-9.4zM1542.5 1291.6l10.2-1.5l-3.5 8.9zM1563.4 1300.2l4.4-7.8l3.5 7.9zM1567.8 1308.4l-4.1-5.8l7.4 .1zM1554.7 1291.5l4.7 8.7l-8-.2zM1561.4 1298.9l-4.8-8.9l9.4 .8zM1559.7 1302.5l-2.8 7.1l-5-7.2zM1559.1 1310.6l2.6-6.8l4.1 5.9zM1624.9 1270.9l-6.4 5.4l-3-10.6zM1575.1 1303l6.4 .8l-3.5 5.7zM1581.8 1301.5l-6.6-.9l4.7-6.9zM1584.9 1328.5l2-1.2l.5 2.5zM1584.1 1322.5l1.9 2.6l-2.2 1.3zM1616.3 1277.2l-7.9 .1l4.9-10.6zM1589.1 1294.8l-5.1 5.7l-2-7.9zM1585.7 1302l4.9-5.4l1.7 6.4zM1594.6 1302.5l-1.7-6.5l7.4 2.6zM1593.8 1293.9l6.1-3.9l1.3 6.4zM1552.3 1261.2l-6.3 11.7l-8.1-11.2zM1547.5 1246.5l5.1 12.4l-14.5 .4zM1548.1 1274l6.2-11.5l5.9 11.9zM1746.3 1292.2l-3.1-1.9l3.7-1.1zM1741.7 1292.1l2.5 1.6l-2.4 .7zM1761.7 1293.7l-3.8-1.8l3.2-1.5zM1756.4 1290l.1-4l3.2 2.4zM1754.2 1285.7l-.1 4.1l-3.4-2.2zM1752.4 1291.4l-3.8 1.1l.6-3.1zM1749.9 1294.5l3.4-.9l-1 2.5zM1747.3 1259.4l6.1-1.3l-.5 5.6zM1755.7 1258.6l5.1 2.8l-5.5 2.6zM1762.3 1259.6l-5.4-3.1l5.8-4.2zM1738.6 1273.5l-4.3-.8l2.5-4.7zM1735.1 1266.2l-2.7 5l-3-5zM1730.5 1272.5l-4.1 .3l1.3-4.9zM1739.9 1285.9l-.4 2.7l-3.1-.6zM1742.4 1281.5l-.6-4.3l3.8 2zM1743.7 1283.5l3.1-2.2l.3 4.1zM1741.9 1288.3l.5-2.8l3.1 1.7zM1716 1258.8l-7.1 3.6l.3-8.2zM1710.4 1264.3l6.7-3.4l-.4 6.1zM1695.1 1285.9l-2.6 4.2l-2.1-4zM1681.5 1286.2l.7-6.1l4.2 4.4zM1679.9 1279.1l-.7 6.4l-5.2-4.6zM1932.8 1278.8l-2.4 7.8l-5.2-7.2zM1939 1295.4l-5.9-5.6l8-2.3zM1932.6 1287.5l2.4-7.8l5.5 5.5zM1935.4 1307.6l3.8-6.8l1.8 7.6zM1965.5 1306.7l1.3 3.2l-4 .5zM1966.4 1302.4l-1.7-4.3l5 1.8zM1972.3 1305.1l-3.9-1.2l3-2.4zM1967.9 1306.2l3.5 1.1l-2.4 1.8zM2003.4 1265.7l.5-6.5l4.3 3.8zM2001.5 1259.3l-.5 6.7l-4.7-2.4zM1994.4 1276.1l-4.2 3.2l-.1-5.7zM1991.5 1281.3l4.2-3.2l1.1 5.1zM1993.5 1266.8l1.4 6.8l-4.3-2.5zM2000.3 1268.3l-3.2 4.7l-1.3-7zM1993.1 1288.3l-1.9-4.6l4.9 1.8zM1871.5 1256.4l8.9-2.3l-3.3 9.4zM1820.9 1252l10.3-1.3l-3.5 8.5zM1912 1277.5l4-7.2l4.8 7zM1908.4 1279.4l-3.5 7.4l-4-9.6zM1903.5 1292.4l-.2 7.5l-7-.9zM1905.7 1299.9l.2-7.5l6.9 6.7zM1895.5 1301.3l7.1 .9l-3.7 6.8zM1900.8 1310.4l3.7-6.9l4.4 6.6zM1906.5 1302.2l7.1-.9l-2.8 7.3zM1799.9 1303.4l-4.4-3.8l6.3-1.6zM1824.4 1292.3l-7.4 1.8l2.5-7.2zM1817.9 1296.3l7.2-1.7l-.9 6.4zM1829.5 1283.4l-3.3 7.5l-4.9-5.6zM1828.6 1291.4l3.2-7.4l4.4 5.7zM1883.7 1274.8l-9.8 1.7l3.9-8.5zM1835 1299.2l-6-5.5l7.6-1.6zM1827.4 1295.4l5.7 5.2l-6.6 1zM1870.4 1324.1l5.3-4.3l-.6 7.7zM1884.7 1308.7l-7.9-3.9l5.1-4.9zM1877.9 1315.3l-1.6-8.1l8 4zM2156.4 1265.4l-10.6 0l5.5-9.6zM2145.4 1267.8l10.5-.1l-7.4 9.3zM2137.5 1278l5.9-8.7l3 8.9zM2141.4 1268.1l-5.7 8.4l-2.5-7.5zM2143.7 1264.3l-5.1-8.9l10.6-.7zM2126.8 1258.5l7.9-2.3l-3.4 9.2zM2136.9 1257.1l4.9 8.6l-8.4 .9zM2133.5 1296.4l-2.8-5.8l8.3 .6zM2130.8 1288.2l4.5-6.8l4.3 7.5zM2123.2 1269l2.2-8.3l4.3 6.6zM2118.2 1305.4l5.6 .2l-2.5 3.6zM2114.9 1310.5l1.2-3.9l2.9 3.5zM2154.2 1356.9l-.8-4.3l4.4 0zM2153.5 1350.3l1.3-4.6l3.2 4.6zM2147.8 1358.2l3.5-4.1l.7 4.3zM2151.5 1348.7l-3.3-4.7l4.6 .1zM2125.8 1306.8l2.3 4.8l-4.8-1.2zM1977.8 1296.9l.5 3.8l-3.8-1.5zM1977.4 1302.9l-2.7 1.9l-.9-3.4zM1975.9 1306.8l2.2-1.6l-.5 3zM1978.5 1314.4l-2.4-.2l1.8-1.7zM1960.6 1335.3l1.8-2l1.5 2zM1960.7 1331.7l-1.9 2l-.4-3.8zM1935.3 1334l-4.6 1l2.8-5.4zM1930.7 1337.4l4.6-1l-1.5 4.6zM1969.2 1324.1l-.6 3.5l-2.1-2.4zM1968.6 1321.8l-2.5 1.1l.6-3zM1971.4 1317l-1.2 3.1l-2-2.1zM1878.1 1319.8l4.9 4.8l-5.6 3zM1884.1 1322.4l-5.1-5l6.2-4zM1892.3 1320.8l-5.9 2.3l1.1-9zM1917.9 1345l-4.2-3.2l4.8-1.9zM1952.4 1329.7l-.9-4.7l3.5 2.4zM1956.5 1333.9l-2.9-2.1l2.4-2.1zM1948.3 1313.7l-6.2 2.8l1.3-5.1zM1948.9 1320.8l-5.6-2.3l6.4-2.9zM1931.3 1319.7l6.6 .1l-4.1 4.9zM1939.9 1315.8l-3.9-5.8l5.1 .8zM1933.8 1310.9l4.3 6.5l-7-.1zM1953.5 1312l3.2-5.2l1.9 4.2zM1950 1304.3l4.9 .8l-3.3 5.5zM1958.7 1305.4l4.8 .1l-3 4.1zM1964.1 1303.1l-5 0l3.3-4.6zM1960.7 1296.8l-3.6 5l-2.9-6.8zM1954.9 1302.7l-4.9-.8l2.2-5.6zM1916 1321.9l-3.3 6.5l-3.8-6.4zM1912.7 1339.6l.9-6.3l4.2 4.4zM1911.2 1333.3l-.9 6.4l-4.7-2.4zM1868 1366l-1.8 .6l0-1.9zM1844.8 1467.8l.1-2.1l1.8 1.8zM1840.9 1463.6l-1.9 1.3l-.2-1.7zM1842.5 1465.4l-.1 2l-1.8-.7zM1838 1457.6l-.8 1.7l-1.2-1.8zM1839.9 1459l1.5 2.3l-2.3-.5zM1829.3 1449l-.5 1.6l-1.2-2zM1819 1463.8l2 .4l-1.3 1.6zM1821.4 1461.9l-2.1-.4l1.2-1.8zM1817.6 1459.7l-.8-2.2l2 .5zM1815.5 1460.9l-1.9-.2l1.1-2zM1834.9 1463l-1.6 2.2l-.6-2zM1836.8 1466l-1.3 .2l1.1-1.5zM1823.3 1465.2l1.1 1.1l-2.3 .3zM1829.3 1468.7l1.9 .2l-.6 1.6zM1826.8 1465.5l-1.2-1.3l2.6-.4zM1831.3 1466.5l-2.1-.2l1.5-1.8zM1841.1 1469.4l-1.8 1.2l0-1.9zM1837 1470.1l-1.6-1.5l1.6-.2zM1833.3 1469.9l1.9 1.8l-2.5 0zM1730.9 1506.3l2 1.4l-2.1 .6zM1738.2 1475.1l-1.1 1.6l-1.2-1.8zM1720.6 1495.5l.4-1.9l1.7 .9zM1716.5 1497.6l-2.2 1.1l.3-2.2zM1718.6 1493.8l-.4 2l-1.9-1.1zM1727.1 1490.1l1.8 1l-2.1 1.2zM1732.9 1489.4l.4-2.2l1.9 1.4zM1730.5 1489.3l-1.8-1l2.2-1.1zM1729.5 1473.3l1-2.3l1.2 1.8zM1722.7 1481.2l1.5 1l-1.9 1.2zM1724.8 1475.5l-1.7 1.4l-.1-1.8zM1723.9 1479.2l2-1.6l-.3 2.7zM1707.5 1513l-1.2 1.6l-1.1-1.9zM1707.4 1518.7l2.2 1l-2.1 1.4zM1712.1 1516.3l-.7-2.3l1.6 .5zM1709.2 1514.7l.8 2.6l-2-1zM1753.3 1470.2l.9-1.9l1.1 2.1zM1782.4 1455.9l2.2-.9l-.9 2.1zM1779.9 1459.6l.8-2.1l1.3 1.3zM1778.2 1457.5l-.9 2.2l-1.4-1.3zM1764.4 1455.6l-2.3-.7l1.4-.9zM1762.1 1457.3l2.5 .8l-1.3 1.1zM1754.7 1479.7l.7 2l-2.4 .1zM1754.9 1474.7l-1.2-2.1l2.1 .2zM1759 1476.1l-2.1 .1l.8-2zM1757.4 1480.4l-.6-1.9l2.1 0zM1761.9 1481.4l-2.4 .1l1.5-1.9zM1761.8 1472.8l-.8 2l-1.3-1.9zM1801.2 1459.1l-.9 2.2l-1.4-1.8zM1798.4 1462.6l-2.5 .4l1-2.2zM1788.7 1459.4l-.7 1.8l-1.4-1.4zM1791.7 1462.7l-1.7-.3l.7-1.7zM1710.9 1295.9l-2.5 1.7l-.3-2.6zM1712 1291.5l.2 2.4l-2.7-.9zM1716 1296.1l2.6-.8l-.7 2.5zM1714.6 1294l-.2-2.4l2.9 1.7zM1717.7 1280.8l.3 3.7l-4.1-2.1zM1716.7 1286.4l-2.9 1.4l-.9-3.2zM1715.5 1289.6l2.9-1.4l.4 3.3zM1720.8 1288.2l2.9 1.1l-2.5 2.1zM1725.4 1291l.7 2.2l-3-.4zM1728.3 1292.3l-.7-2.3l2.8-.1zM1639.8 1273.2l-10.1-2.9l8.2-5.2zM1651.1 1267.3l-9 5.7l-1.9-8.2zM1724.5 1471.1l.9 2.1l-1.8-.4zM1727.4 1472l-.9-2.4l2 .1zM1715.7 1490.6l1.8 1.1l-2.2 .9zM1719.1 1489.9l-1.8-1.1l1.9-1zM1718.9 1525.4l1.9 1.1l-2 1.1zM1722.1 1528.5l.1 2.1l-2.1-1.1zM1724.7 1524.6l.2-2.2l1.4 1.3zM1722.6 1522.1l-.3 2.6l-2.2-1.2zM1497.7 1309.5l-10.3 4.2l.9-8.5zM1478.3 1380.3l-4.3 .5l1.7-2.6zM1512.8 1345.4l-3.3 .8l.6-2.8zM1510.8 1348.3l2.9-.7l-.8 2.3zM1518 1345.4l2.1-1.7l.7 2.5zM1462.6 1395.2l3.5 1.3l-2.9 1.5zM2232.9 1314.7l.9 13.3l-10.7-7.4zM2219.4 1305l12.3 7.7l-9.9 6zM2234.9 1297.7l-1.8 13l-12.6-7.8zM2209.8 1327.2l-2.6-11.3l11.4 4.9zM2207.7 1313.5l9.3-8.6l2.4 13.7zM2197.2 1325.6l7.7-9.1l2.6 11.2zM2191.4 1314.4l11.7 .6l-7.7 9.1zM2185.8 1379.5l1.7-5.4l4.8 6.4zM2189.6 1387.9l-3.2-5.9l6.5 1zM2184.4 1383.2l3 5.5l-5.1-.6zM2187.7 1391.1l-2.7 5.2l-2.5-5.8zM2187 1397.6l2.5-5l2.4 4.3zM2192 1404.3l-4.5-4.4l5-.7zM2169.8 1394l-.4 3.6l-2.3-2.1zM2159 1377l4 1.6l-3.5 2.2zM2165.6 1375l-1.6-4.7l3.1 1.2zM2161.7 1370.9l1.9 5.4l-4.3-1.7zM2203.5 1421.4l0 4.3l-2.8-2.4zM2205.9 1426.5l0-4.6l3.6 3.1zM2174.4 1342.1l3.1 7.2l-5.8 1.1zM2167.1 1343.3l5.2-2.3l-2.6 7.8zM2179.4 1347.6l-3.4-7.5l7.8 .1zM2176.3 1337.7l5.1-8.1l2.7 8.3zM2179.5 1328.2l-5.1 8.2l-3.5-7.5zM2168.7 1329.7l3.5 7.4l-9.7-2.2zM2170.6 1339.2l-4.7 2.1l-3-3.9zM2133.9 1362.1l2.8 1.6l-2.3 1.4zM2141.7 1363.3l2.9-2l.6 3.1zM2155.2 1364.9l-.4-4l4.5 .3zM2160.9 1367l-3.9-.5l3.9-3.6zM2152.5 1362.1l.5 3.8l-3.8-.6zM2156.2 1368.8l3.8 .5l-2.3 3.3zM2152 1368.2l-2.5 2.7l-1.1-3.3zM2151.3 1372.5l2.6-3l1.6 3.9zM2148.3 1395.9l-1.1 1.8l-1.5-1.8zM2149.3 1398.7l1.1-1.8l1.2 2.1zM2150.5 1403.1l-1.1-2l2.3 .2zM2154 1385.3l-.7-3.3l3.1 1.2zM2151 1382.2l.6 3.2l-3-1.4zM2154 1379.7l2.7-2.3l.5 3.6zM2152.3 1378.1l-1.4-3.3l4.1 .9zM2163.1 1400.9l-1.1-1.6l1.5-1.3zM2168.3 1399.9l-2.9 1.8l.5-4zM1465.4 1277.4l-16-2.1l5.8-13.1zM1453.2 1261l-5.9 13.1l-10.9-12.3zM1445.4 1275.5l-15.2 3.2l4.3-15.6zM1456.2 1292.4l10.8-10.9l2.3 16.1zM1454.5 1290.8l-5-13.2l15.9 2.2zM1579.6 1323.7l2.2-1.7l-.3 3.7zM1577.9 1322l-2.2-1.8l4.3 .2zM1576.1 1323.5l-2.2 1.8l-.3-3.8zM1526.9 1324.8l-4.2-5.1l7.2-.1zM1519.2 1328.5l5.7-.3l-2.4 3.9zM1520.6 1320.8l4.1 5l-6.2 .4zM1531.8 1338l3.5 .6l-1.9 2zM1531.9 1335.6l1.8-1.8l1.5 2.4zM1528.5 1341.1l1-2.3l1.5 2.4zM1527.8 1337.1l-1.2 2.4l-1.6-3.4zM1526.6 1329.9l1.1 4.7l-3.2-1.2zM1530.1 1334.1l-1.1-4.3l3.1 2.3zM1511.4 1335.1l2.4 2.3l-2.9 1.7zM1514.5 1339.7l-.1 4l-2.9-2.2zM1516.8 1343.4l.1-3.4l2 1.7zM1520.1 1339.6l-2.2-1.8l3-1.5zM1517.1 1335.6l.5-5.3l3.2 3.4zM1514.8 1335.1l-2.5-2.3l3-2.5zM1539.6 1319.5l-2.4 4.6l-3-4.6zM1535.2 1325.3l-6.1 .3l3-5zM1530.3 1327.9l4.9-.3l-1.6 2.7zM1549.5 1319.2l-5.7-1.5l3.6-3.7zM1555.1 1313.2l-3.4 5.2l-2.1-5.3zM1554 1319.2l3.4-5.2l3.4 3.7zM1585.4 1313.1l-2.4 4.1l-2.9-4zM1583.2 1305.4l2.4 5.4l-5.7 0zM1587.8 1309.8l-2.5-5.4l6.4 .9zM1593.5 1281.3l10.8-1.3l-3.9 6.4zM1588.7 1279l-10-2.3l6.8-9.3zM1592.2 1292.1l-.5-9.1l6.9 5zM1578.4 1279l9.7 2.2l-7.2 7.3zM1589.4 1283.3l.5 9.3l-7.4-2.3zM1600.6 1267.7l.8-11l9.7 6.4zM1606.3 1276.3l-5.1-6.3l10-4.3zM1599 1257l-.8 10.9l-9.7-3.5zM1597.3 1270.1l-6.4 7.9l-3.2-11.4zM1593.1 1279l6.2-7.6l5 6.2zM1614.6 1289l3.4-8.1l4 6.2zM1612.5 1287.8l-4-8.1l7.5-.1zM1606.5 1281l3.9 8l-7.8-1.7zM1602.2 1289.6l7.7 1.7l-6.3 4.8zM1556.3 1261.4l12.4 1.2l-6.4 10.6zM1577 1275l-4.5-11.8l11.5 2.3zM1570.4 1264.3l4.5 11.7l-10.8-1.3zM1569.2 1260.3l-12.7-1.3l9.5-12.5zM1572.9 1260.9l9-10.4l2.6 12.7zM1580.4 1248.6l-9.1 10.5l-3.2-13.7zM1749 1298.9l-.4-2.4l2 1.3zM1751.5 1302.4l-1.5-1.4l1.6-1zM1758.6 1297.7l-1.3-3.5l3.7 1.8zM1755.2 1295.2l.9 2.5l-1.7-.6zM1760 1299.7l2.1-1.6l0 3.3zM1759 1304.4l.2-2.4l1.8 1.6zM1754.9 1304.4l1.9-1.8l-.1 2.1zM1755.9 1300.1l-2.1 2.1l.1-2.7zM1730.2 1274.9l-2.7 4.3l-1.1-4zM1727.4 1287.7l.5-3.1l2.7 2.9zM1724.2 1276.2l1.1 4l-4.2-1.5zM1724.3 1282.3l-3.9 2.2l-.3-3.7zM1722.1 1286.2l3.4-1.9l-.4 3.1zM1735.1 1279.2l-1-4.2l4 .8zM1740.1 1282l-3.5-1l2.9-3.2zM1733 1280.5l-3.7 .2l2.7-4.2zM1735.4 1283.1l3.1 .9l-3.7 2.2zM1729.7 1283.1l3.4-.2l-.7 3.1zM1705.7 1265.8l-3.1 7.5l-3.5-6.5zM1711.2 1287.4l-3.7-1.7l2.9-1.6zM1706.5 1287.9l4 1.8l-3.1 1.8zM1705.6 1284.1l-1.1-5.3l4.5 3.4zM1702.1 1279l1.2 5.4l-4.1-.7zM1694.2 1257.3l1.7 7.6l-7.9 .8zM1681.9 1257.1l10.4-1.1l-6.7 8.8zM1706.6 1262l-9-6.8l9.3-1.7zM1696.6 1257.4l8.1 6.2l-6.5 1zM1677.8 1257.3l-6.5 8.4l-5.4-8.8zM1670.1 1270.4l.4 8.3l-7-2.4zM1673.7 1266.5l6.2-8.1l3.7 7.6zM1656.5 1268.1l11.8 .7l-6.9 6.2zM1669 1266.5l-12.4-.8l7.1-8zM1680.9 1275.4l-6.9-6.5l9.7-.5zM1672.5 1270.7l6.5 6.2l-6.2 1.9zM1654.4 1264.7l-5.3-10.2l12.4 2zM1646.7 1255.1l5.2 9.9l-11.1-2.5zM1630.1 1255.9l14.2-1.5l-5.9 7.2zM2035.2 1257.7l2 2.6l-3 .3zM2030.1 1266.8l-2.3-2.1l3-.9zM2092.2 1264.8l3.5 2l-3.8 2zM2090.5 1260l-2.1-2.9l2.9-.3zM2086.5 1258.5l2.2 3l-3.4-.2zM1928.5 1288.1l-8.6 .1l3.4-7.4zM1917.8 1287.1l-5.5-7.3l8.9-.1zM1907.6 1290.8l8.9-.2l-1.7 7.1zM1910.2 1281l5.5 7.3l-9 .2zM1915.7 1302.5l4.4 6.7l-7.3 .6zM1924.5 1311.1l7.1-1.1l-2.6 6.3zM1920.4 1311.6l-2.7 6.7l-4.5-6.1zM1919.9 1319.2l2.7-6.7l4.5 5.2zM1928.9 1298.1l2.4-6.8l5.8 5.5zM1933.4 1306.3l-4.2-5.9l8.2-1.3zM1918.6 1291.8l6 6.7l-7.7 .2zM1926.7 1297.3l-6.1-6.8l8.6-.1zM1925.3 1300.8l-3.3 7l-4.5-6.8zM1924.2 1308.7l3.2-6.8l4 5.7zM2005.6 1257.6l5.7-.6l-1.6 4.2zM1987.9 1279.3l-4.9-3.7l4.7-2.3zM1981.7 1277.5l5 3.8l-5.8 2.2zM1980.9 1253.1l.5 7.7l-7.3-3.8zM1980.4 1262.9l-6.4 4l-.9-7.8zM1985.2 1264.2l6.9 .6l-3.2 4.6zM1982.3 1273.3l1.2-7.5l3.6 5.2zM1981.2 1265.1l-1.2 8l-5-4.1zM1992.7 1262.5l-7.1-.6l6.1-5.1zM1983.8 1260.4l-.6-7.6l6.9 2.2zM1972.8 1282.7l4.4 2.7l-4.8 3.1zM1974 1280.7l5.3-3.1l-.8 5.8zM1978.8 1275.2l-5.7 3.3l.8-7.3zM2002.9 1276l-4.4-.8l3.1-4.5zM1998 1277.5l4.4 .7l-3.4 4.2zM1988.3 1296.1l3.1-3l0 3.8zM1987.6 1301.1l-.3-2.8l2.7 .7zM1983.6 1297.4l-3 2.8l-.5-3.8zM1985 1299.3l.3 2.7l-2.9-.3zM1865.5 1266.5l4.2-8.6l5.6 7.1zM1871.6 1275.9l-5.9-7.1l9.8-1.4zM1830.4 1262l9.7-1.7l-3 9zM1833.5 1251.4l6.1 6.6l-9.6 1.7zM1842.3 1261.3l6 8.5l-9.1 .5zM1928.9 1268.5l3.7 7.9l-7.7 .7zM1917.9 1268.8l8.9-1.6l-4 8.9zM1919.8 1258.1l6.7 6.8l-9 1.6zM1936.7 1258.9l-6.5 4.4l.7-10.8zM1927.8 1263l-6.7-6.9l7.5-4.3zM1887.8 1274.4l3.6-8.4l5.3 8.2zM1889.2 1265l-3.6 8.4l-5.8-6.7zM1882.6 1254.8l6.4 7.9l-9.7 1.7zM1894.2 1252.4l-3.4 8.8l-6.3-7.8zM1812.8 1297.1l-4 5.4l-3.1-5.1zM1806.7 1303.6l-4.5 .5l1.7-5.1zM1798.2 1305l-3.4 1.4l-.4-4.6zM1783.9 1315.8l-2.6 1.1l-.1-2.4zM1785.1 1317.8l-.5 2.9l-2.1-1.7zM1786.8 1321.2l.6-2.7l1.8 2.1zM1850.9 1273.2l6.4 7.3l-9.2 1.2zM1857.9 1282.8l-2.5 7.9l-6.6-6.7zM1861.8 1269.5l-2.7 9.5l-6.4-7.4zM1861.3 1279.7l2.7-9.3l5.8 7zM1880.2 1284.6l-5.9-5.8l9.6-1.7zM1881.9 1287.8l8.4 .6l-7 7zM1890.8 1286.1l-8.4-.6l3.7-7.5zM1837.8 1302l7.1-2.1l-2.5 7.3zM1844.4 1297.6l-7.2 2.1l1.7-7zM1845.2 1285.7l.3 9.7l-5.5-4.9zM1854 1292.7l-6.1 3.4l-.3-10zM1829.7 1310.5l-6.1 1.5l2-6.5zM1833.8 1302.9l-2.3 6l-4.2-5zM1833.7 1309.7l2.3-6.1l4.6 5.1zM2012.9 1299l-1.3 2.5l-1.3-2.3zM2013.8 1302.5l1.1-2.3l.9 1.9zM1997.8 1308.6l.6-2.5l1.1 1.8zM2087.5 1267.7l2.3-2.1l-.2 3.2zM2088.3 1263.8l-2.3 2l-.8-2.2zM2119.1 1297.6l-3.1 4.2l-1.5-4zM2117.9 1303.1l3.5-4.7l2.6 4.8zM2126.3 1302.6l-2.5-4.8l6.7 1.2zM2124.1 1295.5l4.3-4.3l2.7 5.6zM2117.3 1315.8l-2-3l3.9-.3zM2144.6 1345.6l-.2 4.4l-2.4-1.9zM2146.7 1351l.2-4.8l3 4.3zM2146.6 1353.3l2.6-.3l-2.6 3.1zM2154.4 1340.9l-3.2-5.6l6.7 1zM2147.5 1341.6l1.8-5.1l2.9 5.3zM2147.9 1324.8l-.1 6.6l-4.7-3.4zM2146.5 1333.3l-5.3 1.8l.7-5.1zM2142 1337.4l5.1-1.8l-1.8 5.1zM2168.9 1325.5l-5.4-7.9l9.6-1.2zM2163.5 1315.2l4.9-9.5l4.7 8.3zM2166.2 1304.9l-4.7 9.1l-3.3-7.3zM2141.2 1319.7l5.6 3l-4.8 3.2zM2130 1355l1.9-1.3l-.4 3.2zM2086.3 1307.3l-2.4 .2l1.4-2.3zM2084.2 1297.8l2.8 .2l-1.5 2.3zM2109.6 1307.7l4.2-1.6l-1.2 3.8zM2086 1311.6l-1.7-1.8l2.3-.2zM2088.4 1311.8l.5-1.9l2 .7zM2091 1314.6l-1.6-.7l2.3-1.1zM2129.6 1363.4l1.9-1.5l.5 2.8zM1958.5 1360.7l-1.3 2.5l-1.5-2.1zM1959.6 1363.7l1.3-2.3l1.4 1.7zM1953.3 1346.1l-1-3.4l2.8 1.1zM1950.2 1334l-.5 4.3l-2.7-2.6zM1953.3 1340.6l3.1-1.9l-.4 2.9zM1952 1338.6l.6-4.6l3.2 2.3zM1928.4 1334.2l-2.9-4.9l5.9-.9zM1925.9 1326.9l3.4-5.9l2.5 5zM1923.5 1326.3l-3.5-4.8l7-1.4zM1923.9 1331.1l2.7 4.6l-4.9 .9zM1915 1331.5l6.8-1.4l-2.3 5.9zM1921.6 1327.7l-6.7 1.4l3.2-6.2zM1924.6 1345.4l-4.4 .4l.6-4.9zM1927 1338.1l-.9 5.5l-4-4.7zM1928.4 1344.4l.8-5.1l3.2 3.6zM1930.3 1350.6l-1.8-3.7l3.8-1.4zM1978 1316.8l-1.2 1.9l-1.2-2.2zM1974.9 1320.1l-2.4 .5l1.1-2.7zM1974.8 1322.5l-.8 2.2l-1.3-1.7zM1973.8 1328.8l.7 1.5l-2.2-.6zM1971.4 1325.2l1.2 1.6l-1.6 1zM1969.5 1332.7l1.4 2.5l-2.6 .1zM1974.5 1332.8l-1.4 1.5l-1.3-2.2zM1891.6 1330.7l-4.6-5.3l5.7-2.2zM1935.6 1349.8l-3 1.4l1.8-4.6zM1945 1329.6l4.2 2.3l-3.3 1.8zM1950.1 1329.7l-4.7-2.5l3.7-2.7zM1943.8 1325.5l-1.5-4.9l5.2 2.1zM1939.9 1321l1.7 5.1l-5.6-.3zM1940.8 1328.4l-3.5 4.2l-1.9-4.5zM1939.3 1333.8l3.3-3.9l1 4.2zM1891.6 1476l-2.1 0l1-2.1zM1870.8 1361.7l-.9 2.8l-2.3-1.7zM1902.7 1387.1l.5 3.1l-2.6-1.6zM1867.8 1370.5l-1-1.6l1.8-.6zM1901.9 1392.1l-2.4 .7l0-2.1zM1900.8 1447.8l-1.4-.7l1.1-1.4zM1908.6 1443.2l1.3-1.9l.5 2.6zM1908.4 1447.7l-.3-2.2l1.7 .6zM1904.7 1444.7l-1.6 2.1l-.4-2.5zM1905.9 1446.9l.2 2.1l-1.6-.2zM1912.3 1441.3l1.5 1.2l-1.1 .9zM1888.4 1432.1l1.1 2l-2.7-.2zM1897.7 1470.7l.6-1.6l1 2zM1894.4 1472.7l-.9 1.8l-1.1-1.9zM1892.7 1468.2l1.3 2.1l-2-.1zM1895.9 1468.9l-1.2-1.9l1.8 .2zM1900.3 1467.9l2 .4l-.8 1.8zM1904.2 1465l-.9-2.2l2.1 .4zM1901.1 1463.8l.9 2l-2-.4zM1887.4 1475l-1.3-1.7l2.3-.4zM1884.2 1474.6l1.2 1.7l-2.2 .2zM1880.1 1473.3l2.1 .2l-1 1.8zM1881.7 1471.1l-2-.2l.6-1.9zM1854.9 1464.3l-2-1.3l2.8-1.1zM1846.6 1464l2.2-.1l-.3 2zM1851.1 1464.6l1.8 1.2l-2.1 .7zM1842.1 1458.1l2 .3l-.6 1.9zM1846.1 1459.8l1.7 1.8l-2.3 .2zM1733.9 1509.9l-.5 2.2l-1.5-1.6zM1735.6 1513.3l.4-2l1.3 2zM1740 1507.6l-2.1-.3l1.5-1.5zM1736.5 1505.5l-.2-2.3l1.6 .7zM1733.9 1503.2l.2 2.5l-2.1-1.5zM1737.4 1501.1l1.9-1.2l-.4 1.9zM1755.1 1484.1l-.9 2l-1.5-1.9zM1743 1470.3l1.1 1.6l-1.9 .5zM1723.6 1498.9l-2.1-1.2l2.4-1.2zM1735 1477.8l-1.8 .2l.7-1.9zM1731 1477.2l-1.4-1.6l2.1-.4zM1728.2 1477.6l1.4 1.5l-1.6 .9zM1732.8 1480.4l1.8-.1l-1.4 1.9zM1729 1482.2l1.6-1l.3 1.9zM1731.4 1513.4l-2.3 .1l.8-1.6zM1756.1 1467l2.1 .1l-.9 2zM1760.2 1468.5l1.2 2l-2.1 0zM1764.3 1465.1l-2.3-.2l1.1-1.7zM1763.5 1469.4l-1.3-2.1l2.4 .2zM1754.8 1461.2l-.9 2l-1.1-1.9zM1752.5 1457.1l1.6 1.8l-1.9 0zM1756.4 1457.9l-1.7-1.9l2.7 .2zM1758.5 1459l.9-1.5l1.2 1.9zM1760 1463.7l-1.2-2.2l2.3 .4zM1756.7 1462.5l1.2 2.2l-2.1 0zM1780.3 1467l-.5 2l-2.1-1.4zM1778.1 1463.6l1.4 1.1l-2.3 .6zM1781.4 1463.3l-1.4-1.2l2.2-.9zM1786.2 1462.7l-2.3 .8l.8-2.2zM1768.1 1453.6l-1.1 1.7l-1-1.8zM1769 1456.5l1.2-1.9l1.3 2zM1770.5 1460.8l-1.3-1.9l2.4 .1zM1769.4 1465.5l1.1-1l1.2 1.2zM1768.1 1463.5l-1.3 1.1l-1.1-1.7zM1766.7 1459.4l1.1 1.6l-2.3-.6zM1773 1463.7l2.6-.4l-1 1.9zM1775.2 1461l-2.3 .3l1-1.6zM1767.9 1470.2l-2.3 .2l1.1-1.8zM1770.3 1469.5l-1.3-1.7l3 .2zM1773.9 1471.7l-1.7-.7l1.6-1.4zM1775.3 1477.3l.5-1.7l1.6 1.3zM1777.3 1481.4l-1.5-1.8l2.4-.4zM1781.6 1473l1.9 1.2l-2.1 1.3zM1789.5 1475.8l-1.7-1.3l2.5-1.2zM1764.8 1487l-2.1-.1l1-1.9zM1761.7 1483.8l-1.1 1.9l-1.3-1.8zM1758.6 1486.9l-2.3 .1l1-1.9zM1782.2 1480.7l-2.5 .9l.9-2.1zM1780.3 1483.9l2.3-.8l-.7 1.7zM1784.1 1476.6l-.3 2.3l-1.6-1.2zM1786.2 1478.8l.3-2.3l1.5 1.2zM1804.5 1462l-2.1 .2l.9-2.1zM1806.2 1460.4l-1.2-2l2.1-.5zM1810 1460.8l-1.6 .5l.8-2.1zM1789.7 1468.5l2.3-1.5l-.6 2.3zM1789 1466.1l.3-1.5l1.5 .3zM1787.5 1472l.5-1.7l1.5 .7zM1786.5 1466.7l-1.8-1l2.1-.7zM1782.7 1467.2l1.8 1.1l-2.3 .8zM1785.5 1470.4l-.5 2l-1.8-1.2zM1697.6 1293.7l-2 3l-1.3-3.1zM1696.9 1287.4l1.2 4l-3.6-.1zM1701.9 1291.7l2.4-3.2l.8 3.5zM1702.7 1286.7l-2.6 3.4l-1.2-4.1zM1697.2 1300.4l2.3 0l-1.4 2.2zM1699.3 1295.4l.7 2.7l-2.5-.1zM1706.1 1298.4l-2.1-.1l1.8-2.2zM1702.1 1296.8l-.8-2.8l3 .3zM1725.7 1295.6l-1.4 1.9l-1.6-2.3zM1677.8 1306.7l-.8 1.5l-.9-2.3zM1690.7 1291.6l-3.9 .8l1.8-4.6zM1684.6 1291.7l-2.5-3.3l4.3-1.4zM1651.5 1292.8l3.7-2.9l1.9 4.9zM1648.5 1295.2l1.4 4l-5-1.1zM1652.4 1299.1l-1.4-4l5.2 1.9zM1638.8 1275.4l-6.2 5l-3.5-7.8zM1620.4 1280.3l9 2.4l-5.2 3.5zM1630.1 1280.5l-9.8-2.7l6.2-5.2zM1631.1 1284.4l.6 7.7l-5.8-4.2zM1630.3 1293.9l-6.7 1.6l1.1-5.6zM1621.3 1295.1l-5.9-3.9l7-1.7zM1629 1301l-4.2-3.3l6.2-1.5zM1622.8 1299.1l4.1 3.2l-5.5 1.6zM1758.2 1438.6l-1.2 2.2l-.9-2.3zM1761.1 1445.6l-1.6-1.3l2.2-.5zM1759 1442l1.3-2.3l1.3 1.8zM1762.2 1438.4l2.1-.3l-.9 1.9zM1781.6 1453.7l.3-2.5l2.2 1.5zM1783.3 1449.3l1.7-.8l.2 2.1zM1779.9 1447.4l-2.4-1.1l2.6-1.4zM1766.5 1438.9l1.3 1.8l-2.2 .2zM1769.7 1439.4l-1.2-1.8l2.2-.1zM1720.5 1469.9l2.1-.2l-.9 1.7zM1720 1464.2l-1.4 2.1l-.7-2.1zM1720.6 1467.5l1.4-2.1l.9 2zM1763.8 1433.9l.8 1.8l-2.1 .3zM1703.5 1520.1l1.6-1.1l0 2.1zM1712 1498.3l-2-1.8l2.3-.4zM1705.7 1508.8l1.3 1.8l-2.1-.4zM1714.5 1526.1l2-.8l-.1 2.1zM1713.2 1530.3l0-2.2l2 1.3zM1710.8 1521.7l0 2.3l-2.1-.9zM1713.2 1524.1l-.1-2.4l2.2 1.5zM1709.4 1526l-1.9 1l0-1.9zM1708.7 1529l2.2-1.2l0 2.4zM1496.4 1319l-7.4-3.4l9.7-4zM1499.8 1321.3l7.8-1.4l-3 5.5zM1507.3 1317.5l-8.5 1.6l2.4-7.4zM1484.7 1304.1l-11.2 9.3l-1.4-12.5zM1485 1314.4l-9.1 .1l9.9-8.3zM1494.4 1320.7l-7.8 3.8l.5-7.2zM1474.3 1318.7l8.8 7.4l-6.9 3zM1484.3 1324.1l-8.5-7.2l9-.2zM1474.6 1395.1l-3.1 .1l2.2-2.6zM1471.3 1380.5l-3.9-2.9l5.9 .1zM1466.5 1375.2l2.9-3.1l3.2 3.2zM1473.6 1384.8l3.2 1.9l-2.1 1.6zM1479.4 1382.5l-1.1 2.4l-3.2-1.9zM1475.4 1367.4l-4.2 1.2l1.9-5.4zM1471.6 1371l4.1-1.2l-.9 4.4zM1481.4 1375.8l-.8 3.3l-2.7-2.1zM1477.9 1370.5l3 3l-3.8 1.3zM1482.3 1371.6l-2.8-2.8l3.4-.9zM1488.8 1367.1l-2.4-1.1l2.3-2.4zM1487.7 1369.2l-3 2.2l.6-3.3zM1508.7 1352l.2-2.1l2 1.4zM1506.9 1355.8l.7 1.7l-2.1-.1zM1512.8 1355.1l-2.3-1.2l2.1-.6zM1501.1 1362l-1.6-1.7l2-.4zM1469.6 1393.9l-.9-3.2l3.1 .5zM1463.5 1393l2.9-1.9l.9 3.3zM1469.1 1388.4l2.1-3.4l1.2 3.9zM1467.3 1398.5l-.6 3l-2.1-1.6zM2241 1368.5l-9.2-6.1l8.6-3zM2215.3 1300.9l-14.1-3l5.2-11.6zM2206 1311.9l-4.5-11.6l13.8 3zM2199.4 1296.3l-8.3-12.4l13.4 .9zM2189.2 1285.2l8.3 12.5l-12.4 .9zM2197.2 1300.1l-7.4 10.7l-4.5-9.8zM2199.3 1301.2l4.5 11.5l-12.1-.6zM2213 1395l1.6-5.1l3.5 7.2zM2177.4 1375.1l1.3-4.7l5.1 1.5zM2183.5 1379l-5-1.8l6.6-3.3zM2176.2 1370.5l-1.3 4.6l-3.8-3.5zM2172.9 1376.4l-5.5 .5l1.7-4zM2185.6 1405.7l.3-4.1l4.1 4zM2182.6 1407.6l-1.7 3.2l-1.7-4.2zM2183.6 1401.5l-.3 3.8l-3.5-1zM2175.1 1396.5l-3.4 1.6l.5-4zM2176.9 1394.8l-3.1-2.4l4.7-1.4zM2182.8 1397.2l-3.8-1.2l1.6-3.9zM2178.5 1398.3l3.9 1.2l-3.9 2.9zM2172.6 1400.2l3.6-1.6l-.1 4zM2224.5 1413.6l-4.9 3.1l.1-5.9zM2214 1424.8l3.6-3.6l.9 4.9zM2228.3 1421.5l-.3-5.8l4.9 2.8zM2219.9 1421.1l4.9 2.6l-3.9 2.2zM2225.9 1421.6l-5.2-2.8l5-3.1zM2208.4 1415.2l-3.1 2.3l-1.8-4.5zM2217.2 1417l-4.3-2.2l4.5-3.6zM2206.6 1419.4l3.1-2.3l.5 5.5zM2212.1 1417l4.2 2.2l-3.7 3.6zM2234.6 1451.7l-.2 5.1l-3.9-3.2zM2189.9 1426.6l-.9 3.2l-1.7-1.8zM2202.2 1427.7l-4 1l1.1-3.5zM2191.6 1432.8l2.8-.7l-1.2 2.8zM2196 1427.9l-2.1-2.7l3.1-.6zM2192.3 1426.9l2.1 2.8l-3.1 .8zM2143.6 1392.5l-.8-2.1l2.2 .5zM2143.5 1388.2l2-1.7l.3 2.2zM2141.6 1386.7l-.5-2.1l2.6 .4zM2136.1 1387.9l1.7 .8l-1.2 .4zM2139.2 1386.8l-2.5-1.2l2-.8zM2138.8 1390.9l-.8 1.8l-.5-1.4zM2139.9 1394.3l1-2.3l.7 1.9zM2147.2 1371.3l-3.7-1.2l2.6-2zM2141.7 1368.6l-.9-3.1l3.4 1.1zM2136.3 1373.4l2.7-.9l-.9 2.3zM2137.9 1370.4l-2.9 1l-.2-2.5zM2138.3 1365.5l.9 2.8l-3.2-1.4zM2142.2 1378.6l-1.9 2l-.3-2.5zM2141.9 1382.3l2.1-2.2l.7 2.7zM2141.2 1373.5l1.2 2.7l-2.2-.4zM2144.8 1375.8l-1.5-3.3l3.6 1.2zM2146.3 1379.6l2.9 .9l-2.2 1.7zM2149.8 1378.2l-3.1-.9l1.9-2zM2179.4 1419.4l-2.3-1l2.4-2.1zM2170.6 1418.4l2.2 .8l-2 1.8zM2171.2 1405.1l.1-2.9l3.1 2.1zM2168.8 1404.9l-2.4-1l2.5-1.7zM2160 1412.8l.6 2.2l-2-.3zM2236.5 1490.2l-.1 2.9l-2.9-1.2zM2235.6 1495.3l-1.5 1.8l-1.2-2.9zM1569.7 1319.9l-2.8 3l-1.8-3.2zM1571.6 1325.7l-2.9-1.2l2.6-2.9zM1578.5 1329.6l.3-3.3l1.9 2zM1576.2 1329.3l-1.6-1.6l1.9-1.5zM1582 1332.9l-2.4-1.2l2-1.2zM1584.4 1333.1l-.4-2.4l2.5 1.3zM1536.4 1333.7l3.3 .6l-1.8 1.7zM1537.4 1328.5l2.3 3.4l-3.9-.7zM1539.8 1337.4l1.8-1.7l.9 2.9zM1543.5 1325.7l-4.3-.4l2.3-4.2zM1549.2 1321.6l-3.5 3.4l-2.1-4.9zM1543.5 1328.1l-1.5 3.1l-2.3-3.5zM1557.9 1322.8l-2.9-1.4l4.9-1.1zM1564.6 1323.5l-4.1-.3l2.3-2.8zM1744.5 1296.1l-1.5 2.3l-.7-1.7zM1746.8 1299.6l-1.8 .1l1.4-2.3zM1705.4 1276.6l4.4-1l.1 4.4zM1712.2 1276.3l4 2.6l-3.9 1.7zM1713 1274l3.8-2.9l.6 5.7zM1711.6 1272.2l-2-5.7l5.9 2.6zM1709.5 1273.2l-4.8 1.1l2.8-6.7zM1692.7 1278.7l2.6 4.8l-4.9 .3zM1694.6 1277.2l5.9 0l-3.2 5zM1690.4 1275.2l-7.3 .9l2.7-6.7zM1683.8 1278.4l6.9-.9l-2.6 5.5zM1695.4 1267.3l-3 6.6l-4.7-5.8zM1700.7 1274.8l-6.2 .1l2.9-6.3zM1657.5 1289.3l4.7 .1l-2.8 4.7zM1664 1291l1.9 5.3l-4.8-.5zM1669.6 1280.9l-4.7 5l-2-7.3zM1662.7 1287.1l-5.1-.2l3.3-6.8zM1664.8 1298.5l-3.5 3.1l-.7-3.5zM1659 1302l-4.4-1.5l3.7-2zM2042.3 1257.6l1.5 2.5l-2.6 0zM2037.1 1256.4l3.2-.1l-1.2 2.7zM2028.8 1268.8l-2.3 1.3l.1-3.3zM2019.5 1269.5l3.4 2.4l-3.3 1.5zM2024.1 1269.9l-3.5-2.5l3.7-1.4zM2115.3 1267.9l4.3 2.8l-5.2 3.9zM2120.9 1268.7l-4.5-2.9l6.6-4.9zM2115.9 1263.3l.8-6.5l5.7 1.6zM2096.6 1258.6l-3.8 2l.8-3.4zM2093.6 1262.9l4.2-2.3l-.6 4.3zM2107.6 1271.5l5.3-3.3l-.9 6.8zM1981.4 1310.7l-1 2l-.5-1.6zM1980.4 1305.8l1.5 2.4l-2 .5zM1984.8 1304.4l-1.1 2.2l-1.6-2.6zM2027.1 1262.5l.8-3.8l2.5 2.7zM2029.6 1257.1l3.4-.4l-1 3zM1963.7 1294l-.4-5.8l5.4 2.7zM1964.5 1286.2l5.9-3.4l-.4 6.1zM1961 1288.5l.4 6l-6.5-1.7zM2019.8 1265.2l.8-3.9l2.7 2.6zM2022.1 1259.5l3.5-1.5l-.8 4zM2013.7 1257.3l3.4 1.7l-4.8 2.1zM2018.3 1261l-1 4.4l-4.3-2.1zM2006.2 1293l2.9 .1l-1 2.6zM2011.1 1294.4l1.6 2.2l-2.5 .3zM1993.8 1292.6l2.3 1.8l-2.4 1.7zM1996.9 1296.8l-.1 3.7l-2.4-2zM1997 1292.2l-2.5-2l2.6-2.4zM2002 1291.3l-2.7 1.3l.1-4.4zM2018.5 1281.4l-3.5-2.1l2.7-2.1zM2014.4 1281.7l3.1 1.8l-2.6 1zM2004.8 1286.2l-1.3 3.2l-2.7-3.2zM2004 1280l1 3.8l-4.2 0zM2010.7 1289.6l-1.9-3.1l3.3 .6zM2006.7 1287.6l1.9 3.1l-3.1-.1zM2009.2 1284.2l2.8-2.5l.5 3zM2010.4 1280.1l-3.3 2.7l-.9-3.8zM1983.6 1289.6l-3.6 2.7l.4-4.9zM1984.5 1291.9l.2 3.3l-3.4-.9zM1987 1294.1l-.1-3.2l3.1 .3zM1986.9 1283.7l-1.8 4.1l-3.2-2.2zM1990.8 1288.9l-3.4-.3l1.7-3.9zM1844 1259.8l8.5-.8l-2.5 9.1zM1854.7 1260.1l6.5 7.1l-9.1 2.1zM1863.2 1265.9l-6.7-7.3l10.9-1.4zM1907.5 1262.8l9.9-4.8l-2.3 8.4zM1902.5 1261.7l-9.6 .5l3.4-8.7zM1893.3 1264.6l9.6-.5l-4.2 8.9zM1904.6 1266l3.6 10.9l-7.7-2.2zM1910.3 1275.8l-3.6-10.8l7.5 3.5zM1907.6 1251.1l-3.2 9.2l-6.2-8.3zM1906.8 1260.5l3.1-9l6.9 4.2zM1817.8 1304.9l-1-6.5l5.9 4.4zM1815.5 1305l-4.8-1.2l3.8-5.1zM1821.5 1311l-2.8-3.9l4.5-2zM1806.2 1306l-3.2 4.7l-1.1-4.2zM1800.6 1310.9l-4.3-2.6l3.3-1.3zM1822.8 1319.3l-5-.5l3.6-3.2zM1828.8 1313.1l-3.9 5.1l-1.4-3.8zM1800.8 1319.6l1.7-3.6l1.9 3.6zM1789 1316.8l3.3-.4l-1.2 2.7zM1794.5 1317.2l2.1 2.5l-3.3 .2zM1799.3 1312.8l-4 .8l-.2-3.3zM1798.7 1318.5l-2.3-2.7l4-.8zM1781.3 1307.8l3 1.1l-3.1 1.6zM1785.9 1310.7l-.3 3.3l-3-1.5zM1785.5 1306.8l-3.3-1.2l2.3-2.7zM1792.9 1312.2l-2.9-2.6l2.6-.3zM1788.2 1311.1l3.3 3l-3.6 .4zM1790.7 1300.6l-3.1 5.1l-1-4.4zM1792.5 1307l-3.1 .3l2.8-4.5zM1875.2 1303.1l-3.7-9l8.9 4zM1872.1 1291.8l7.5-3.5l1.4 7.5zM1869.1 1294.4l3.7 9l-8-2zM1858.2 1293.9l8.9-.7l-4.2 6.9zM1860.1 1283.6l6.7 7.3l-9.2 .7zM1868.6 1289.3l-6.8-7.3l8.6-2.3zM1878.5 1286.2l-7.6 3.6l1.7-9.4zM1839.7 1316.8l-5.3-4.8l6.9-1.1zM1847.2 1300.7l4.4 6.3l-7 1.1zM1855.2 1305.5l1.5-9.6l4.6 5.9zM1853 1304.8l-4.5-6.3l5.9-3.3zM1868.2 1312.6l5.8-5.3l1.6 8.1zM1869.2 1322l-1.7-7.1l7.3 2.7zM1860.2 1318.5l5-3.5l1.5 6.9zM1872.3 1305.7l-5.7 5.2l-2-7.1zM1864.2 1311l-7.9-3.3l6-3.7zM1855.8 1310l7.7 3.3l-5 3.5zM2009.8 1303l-2.3 .3l1.1-2.5zM2000.3 1304.8l2.8 .5l-1.6 1.4zM1991.3 1303.8l-2.3-.9l2.3-2zM1995.7 1302.7l-2 .9l0-2.7zM1995.6 1307.7l-1.3-1.8l1.9-.8zM2018.4 1285.6l-.9 3.2l-1.7-2.1zM2015.8 1290.3l-3 .3l1.3-2.3zM2012.9 1293l3.1-.3l-1.3 2.6zM2079.5 1299.3l-1-2.2l2 .2zM2081.3 1301l.9-2l1.2 2.3zM2082.1 1306l-.9-2.6l2.3 .3zM2083.8 1266.8l-2.2 .1l1.5-2.1zM2087.6 1284.6l3.7-1l-.9 2.9zM2081.2 1275l-1 2.2l-1.5-2.1zM2082.8 1271.3l-1.4-2l2.3-.2zM2085.2 1271.7l.9-2.2l1.8 1.1zM2120.9 1272.6l1.3 5.8l-6.6-1.7zM2128.9 1287l-3.2-5.9l7.4-.6zM2133.8 1278.1l-7.7 .6l5.2-8zM2124.3 1277.1l-1.3-5.6l6-1.6zM2118 1354.7l-1.1-1.7l2.7-.2zM2140.8 1356.2l3.5-1.9l-.1 3.3zM2134.3 1353.9l2 2.2l-2.5 1.4zM2137.5 1354l-2.1-2.4l3-1.4zM2143.3 1352.1l-3.4 1.9l1-3.8zM2137.2 1358.3l.4 3.2l-3-1.7zM2139.9 1361.7l-.4-3.5l3.4 1.4zM2151.7 1333l5.1-4.4l1.5 5.4zM2155.2 1326.8l-5 4.3l0-6.7zM2159.2 1319.1l-2.4 5.8l-5-2.3zM2159 1327.9l7.3 .8l-5.7 4.7zM2159.1 1325.5l2.6-6.4l5 7.3zM2138.3 1344.5l4.4-.3l-2.5 2.3zM2137.9 1342.1l2.1-3.4l3.1 3.1zM2137.1 1339l-1.8 2.8l-2.1-1.5zM2135.2 1349.1l1-3.4l2 2.1zM2117.3 1350.6l1.2-1.5l1.3 1.4zM2120.1 1347.3l1.5-1.3l-.2 2.7zM2116.1 1348.3l-1.2 1.6l-1.2-1.7zM2127.4 1345.2l-2.1-1.8l3.2-1.3zM2133.3 1343.3l-3.3 1.5l1.2-3zM2130.2 1347.3l3.6-1.7l-1.1 3.7zM2124 1345.4l2 1.7l-2.3 1.8zM2126.8 1349.5l.2 3.2l-2.6-1.4zM2129.3 1352.6l-.1-3.1l2.2 1.7zM2108.4 1333.4l1.1 1.9l-2.4-.3zM2148.9 1310.6l-2-7.6l7.4 3.2zM2142.1 1317.6l5.2-3l.4 5.9zM2159.3 1314.8l-8.6-2.6l5.4-4.5zM2149.6 1314.3l8.6 2.6l-8.1 3.9zM2136.4 1309.9l1.5 5.6l-5.4-2.4zM2142.6 1301.6l-5 4.3l-2.5-5.9zM2146.5 1310.6l-7.2-3.1l5.2-4.4zM2138.9 1309.9l6.8 2.9l-5.3 3zM2135.1 1306l-6.7-2.1l4.3-3.6zM2134.7 1308.3l-4 3.2l-2.5-5.2zM2092.8 1293.7l-2.1 1.1l.8-3.3zM2096.6 1295.2l3.4-.2l-1.8 2.7zM2090.1 1304.2l-1.7 2l-1.1-2.2zM2088.9 1299.3l1.4 2.5l-2.9-.1zM2090.1 1307.8l1.7-2l.6 2.8zM2094.2 1300.8l.8-3.7l1.5 2.3zM2092.7 1296.4l-.7 3.5l-1.4-2.4zM2093.7 1284l2.6 2.3l-3.6 .6zM2096.5 1288.7l-2 3.2l-1.6-2.6zM2096.7 1292.9l2.1-3.4l1.6 3.2zM2094.1 1305.1l3.2 1.3l-2.5 2zM2098 1304.2l-2.9-1.2l2.3-1.4zM2113.6 1302.2l-4.7-1.8l3.3-2zM2108.1 1305.7l-.4-3.3l4.6 1.8zM2102.2 1296l1.8 3.2l-3.8-.3zM2103.3 1301.5l-2.9 2.5l-.7-2.8zM2102.4 1305.4l2.9-2.5l.5 3zM2115.5 1317.4l-2.9 .8l1.1-3.6zM2124.8 1364.4l-1.4 1.2l-1.1-1.6zM2121.3 1366.7l-1.6 .5l.6-2zM2126.7 1357.7l1.4-1.3l1.4 1.7zM2127.8 1361.9l-1.3-1.8l3 .4zM2123.8 1360.3l1.2 1.7l-2.6-.3zM2119.7 1358.5l2 .6l-1.3 1.3zM2126.2 1355l-1.5 1.3l-.6-2.5zM2122.4 1356.8l-2.5-.7l1.8-2.1zM1958.5 1347.4l-3.3 0l1.8-2.2zM1957.2 1356.2l1.4 2.1l-2.8 .5zM1951.9 1356.1l3-.5l-1.4 2.5zM1954.9 1353.2l-3.2 .5l1.3-2.8zM1958.5 1349.7l-1.5 2.3l-1.8-2.2zM1948.2 1340.1l-4.1 .9l1.4-3.5zM1937.4 1337.6l2.7 4.1l-4.1 .4zM1941.9 1340.2l-2.6-4l4.1 .3zM1939.9 1344.1l-2.5 3.7l-1.4-3.4zM1971.1 1337.5l-1 2.2l-1.5-2.1zM1895.3 1333.3l5.5-2.7l1 5.1zM1899.6 1328.6l-5.8 2.8l1.2-7.5zM1901.4 1327l-4.5-4.6l7.7-.3zM1903.1 1330.4l6.6 1.1l-5.6 4zM1910.4 1329.2l-6.8-1.2l3.2-5zM1924.7 1347.7l-2.7 4.4l-1.5-3.9zM1924 1353.3l2.8-4.6l1.9 3.9zM1913 1349.4l-.4-5.5l4.2 3.2zM1919.8 1352.9l-5.1-1.8l3.6-2.2zM1896.2 1340.7l-1.9-5.3l6.4 2.4zM1892.3 1336.9l1.8 5l-4.2 1.6zM1829.2 1335.4l2.5 0l-1.1 2zM1825.6 1338l1.3-1.8l1.4 2.1zM1825.1 1334.7l-1.3 1.7l-.9-2.6zM1887.5 1353.2l-3.6-1.5l3.1-3.4zM1882.7 1353.8l3.2 1.3l-4 1.8zM1876.4 1353.6l4-.2l-.8 3.3zM1873.9 1358.5l.5-3.5l3.2 3.1zM1885.4 1337.5l4.9-2l-2.5 7zM1881.3 1336.1l-5.8 .9l1.3-5.1zM1883.6 1326.9l-.7 7.5l-4.8-4.5zM1890.4 1333l-5.2 2.1l.7-7.4zM1895.1 1374l-2.7 1.5l.4-4zM1875.9 1373.5l2.3 0l-.9 2.3zM1872 1371.4l-2.1 .3l.9-2.5zM1901.3 1396.8l-1.1-1.7l2.3-.7zM1898.7 1397.2l1.1 1.5l-1.8 .9zM1897.2 1392.4l-2.5-1.5l2.5-.7zM1915.2 1444.4l.7 1.9l-1.8-.9zM1899.6 1452l-.5-2.4l1.5 .7zM1915.1 1438.3l-.3 2l-1.7-1.4zM1897.9 1445.2l-.9-2.4l2.3 .7zM1893.8 1445.1l1-1.5l.8 2zM1899.4 1430l-2.3-.1l1.1-2zM1890.8 1431.6l2.2 .2l-1.2 1.6zM1897.1 1440.4l1.2-1.5l.9 2.1zM1898.6 1434.2l-1.2-2l2.2 .2zM1896.4 1437.4l-1.2 1.5l-1.2-1.8zM1895.1 1433l1.2 2l-2.5-.3zM1892.4 1405.4l-.8-2l2.2-.2zM1896.6 1405.8l-1.9 .4l1.2-2zM1899.2 1401.6l-.9 2.1l-.6-1.4zM1898.4 1411l.6-2.2l1.5 1.2zM1894.4 1408.7l2.3-.5l-.6 2.4zM1889.9 1421.2l.7 2.1l-2-.4zM1890.4 1425.7l-1.4 1.9l-.8-2.4zM1895.3 1428.3l-.9-2l1.9 .2zM1892.2 1427.2l1.1 2.3l-2.6-.3zM1892 1412.1l.6-1.9l1.6 1.8zM1895.1 1416.3l-2-1.9l2.2-.1zM1891.4 1416l1.6 1.6l-1.6 0zM1893.9 1419.9l-1.2 2.2l-.8-2.2zM1897.8 1420.7l1.7 .6l-1 1.6zM1894.4 1423.9l1.2-2.3l.9 2.5zM1901.7 1413.8l-2-.8l1.9-.9zM1902.9 1419.6l.6-1.7l1.3 1.7zM1900 1415.7l-2.6 1.1l.3-2.1zM1899 1418.7l2.1-1l-.5 1.5zM1903.3 1460.4l1.3-1.8l.9 2.2zM1900.8 1456.7l2.1 .3l-1.3 1.8zM1905.7 1451.3l-.8 1.9l-.8-2.1zM1903 1454.7l-2.1-.4l1.2-1.9zM1876.2 1437.6l-.9 2.1l-1.7-2zM1859.5 1464.6l-2.3 .2l.8-2.2zM1876.8 1453l-1.9-.2l1.3-2.2zM1871.1 1455.3l-.9 2.2l-1.1-2zM1861.1 1470.3l.9-2.2l1.6 2.1zM1859.9 1466.9l-.8 2.1l-1.4-1.9zM1877 1476.6l1.1-2.1l1.1 2.1zM1870.8 1478.6l2.2 .1l-1.2 1.9zM1875 1480l1.1 1.9l-2.3-.1zM1878.2 1480.8l-1.1-1.9l2.1 .1zM1877.7 1469.4l-1.5-1.9l2.1 0zM1845.6 1455.1l-1.3-2.4l2.5 .5zM1842.2 1453.8l1.2 2.1l-1.9-.3zM1863.4 1445.5l.1 2l-2.1-.5zM1859.7 1443.1l2.1 .6l-1.9 1.5zM1853.2 1453.6l-1 1.8l-1.2-1.8zM1850.1 1456.4l-2.4-.1l1-1.8zM1848.3 1458.7l2.3 0l-.7 1.8zM1852.4 1460.6l.6-1.4l1.5 .7zM1854 1457.1l.8-1.6l.8 2.3zM1862.8 1449.8l-1.6 2l-.7-2.6zM1858.9 1452.6l-1.9-.7l1.3-1.7zM1863 1453.2l1.5-1.8l.8 1.9zM1856.9 1454.4l2 .6l-1.1 2.1zM1948 1359.8l1.8-2.5l1.6 2.1zM1947.5 1356.4l-1.8 2.6l-1.3-2.7zM1960.1 1378.8l-2.3-.7l1.3-1zM1958.7 1382l-.8-1.4l2 .6zM1956.1 1376.5l-.4-2.4l1.8 1.3zM1939.3 1398.8l.5-1.5l1.3 1.6zM1825.9 1471.2l1.1-1.8l1.5 2.1zM1827 1475.4l-1-1.8l2.5 .3zM1824.6 1468.7l-1 1.7l-1.6-1.4zM1823.8 1474.5l1 1.8l-2.4 .2zM1821.2 1471.4l-2.3 .4l.7-1.7zM1819 1474.1l2.4-.3l-1.4 1.9zM1840.5 1479.4l1.3 .7l-2.1 .8zM1848.1 1482.4l-1.4-1.6l2.1-.7zM1736.6 1498.8l.4-2.2l1.6 .9zM1735.5 1492.8l-1.7-1.3l2.3-.7zM1750.9 1478.7l1.7-.1l-1.4 1.7zM1753.1 1476.3l-1.9 0l.7-2.1zM1749.2 1475l-1.2-1.6l1.8-.5zM1726.6 1461.6l-2.2 .1l1.4-2.2zM1726.8 1467.3l1.2-1.9l.7 1.9zM1724 1464.1l2.1-.1l-1.3 1.9zM1751.9 1464.5l-2.2 0l1.1-1.9zM1750 1466.8l2.2 .1l-.9 2zM1747.6 1471l.6-2.5l1.4 2zM1744.4 1468.4l1.6-.7l-.5 2.2zM1723.6 1514.8l1.8 .6l-1 1.7zM1717.7 1499.6l-.1 2.1l-2-1zM1722 1500.7l-2 .9l.1-2zM1731.1 1517.4l-1.4-1.5l2.3-.2zM1733.2 1518.6l.9-1.7l1.1 2.2zM1726.8 1520.9l2.3-.2l-.9 1.5zM1727.3 1516.8l1.6 1.6l-2.7 .2zM1754 1450.7l-1.5 1.6l-.6-2.3zM1754.4 1453.6l1.6-1.6l1.1 1.9zM1755.4 1446.1l-.2 2.5l-2.3-.7zM1757.6 1448.2l.2-2.3l1.6 1.4zM1759.8 1453.6l-1-1.5l2.3 .6zM1759.5 1449.9l1.6-.8l.7 1.4zM1774.3 1450.9l-1.5 .2l1.3-1.7zM1777.8 1452.2l1.7-1l-.2 2.1zM1778.3 1449.3l-1.7 .9l-.2-1.8zM1776.2 1453.9l1.6 1.2l-2.2 .9zM1772.2 1453.5l1.8-.2l-.7 1.9zM1769.9 1474.6l.8-1.8l1.6 .7zM1772.9 1477.4l-2-.7l2.5-1.1zM1763.9 1473.9l1.5 1.9l-2.4 .2zM1768.2 1472.6l-.8 1.9l-1.5-1.8zM1765.3 1478.2l-1.4 2l-.9-1.9zM1769 1486.7l1-1.7l1.1 1.4zM1767.9 1483.9l-1 1.9l-1.2-2zM1772.4 1484.3l2.4 .2l-1.3 1.1zM1772.4 1481.9l1.2-1.3l1.3 1.5zM1767.3 1479.3l.8 2.3l-2.2-.2zM1770.3 1480.7l-.7-2l1.9 .7zM1793.8 1475.1l-1.9 .7l.7-2.3zM1788.6 1482.5l-1.8-1.3l2-1.2zM1785.2 1482.9l1.7 1.3l-2.5 .6zM1729.7 1295.9l2.4 0l-1.4 2.1zM1732.9 1293.6l-2.6-.1l2.1-2.4zM1736.9 1298.5l-.8-2.2l2.3 .4zM1737.7 1290.6l-2.6 2.1l-.5-2.7zM1737.1 1294.1l2.2-1.8l.1 2.2zM1683 1293.5l-4.4 1.5l1.9-4.8zM1670.4 1298.6l4.4-.3l-1.3 3.3zM1633.5 1284.6l5.7 3.7l-5.1 3.9zM1635.3 1294.2l5-3.8l.6 6.4zM1642.6 1290.5l4.5 2.8l-3.9 3.1zM1640.1 1286l-5.9-3.8l5.9-4.8zM1723.4 1456l-2.2 .2l.3-2zM1722.4 1460.5l-.8-2l2.2-.2zM1719.6 1459.9l.8 1.9l-2 0zM1719 1454.8l-1.4-1.6l1.7-.2zM1748.1 1443.6l1.8 .1l-.3 1.8zM1752.3 1444l1.6 .3l-1.9 1.3zM1755 1442.1l-1.8-.3l1-1.8zM1774 1440.2l-2.1 .2l.9-1.8zM1772.6 1442.7l2-.2l-.4 1.7zM1776.6 1444.1l.3-1.4l1.5 .4zM1770.6 1450l-.6-1.8l2.3-.3zM1770 1445.8l.5-1.9l1.7 1.7zM1763.4 1448.6l2.3-.1l-1.5 1.7zM1767.9 1449.5l.7 1.7l-2.1 0zM1765.7 1446.1l-2.3 .1l.7-1.8zM1768.3 1443l-.5 1.9l-1.6-1.7zM1717.5 1447.7l1.7-.2l.1 1.7zM1732.8 1439l-1-2.4l2.3 .7zM1703.8 1514.9l-2.4-.7l1.3-1.2zM1701.8 1518.3l-.7-1.7l2.3 .6zM1399.1 1400.8l-2-3.3l3.7 0zM1392.9 1395.5l-4 .7l.4-5.2zM1389.7 1398.5l3.5-.7l-1.3 3.6zM1395.2 1399l2 3.2l-3.2 .3zM1476.9 1354.2l2.5 4.3l-4.7 .5zM1479.3 1360.9l-2.2 4.7l-2.4-4.3zM1479.3 1366.4l2-4.1l1.4 3.3zM1484.7 1364.3l-1.5-3.3l4.1 .6zM1462.4 1377.7l-.9 3.9l-5.2-3zM1463.1 1386.3l2.3 2.7l-2.9 1.9zM1463.8 1382.1l.8-3.7l4 3zM1467 1387.3l-2.5-2.9l4.7-.7zM1479 1393.5l-2.1 1.1l-.8-2.2zM1478.4 1388.5l1.2 2.7l-3.2-1.2zM1478.3 1396.6l2-1.1l-.4 2.5zM1482.6 1396l1.8 2.1l-2.2 .7zM1483.3 1386.2l-2.8-.5l1-2.1zM1487.4 1388.6l2.1-.6l-1.2 2.7zM1484.1 1392.2l1.4-2l.9 2.1zM1483.7 1388.7l-1.6 2.3l-1.3-2.9zM1495.3 1361l-.8 2.5l-2.2-2zM1493.1 1365.5l-1.9 1.3l-.2-3.2zM1497.6 1366.3l2.2-.4l-.8 1.7zM1499.4 1363.6l-2.7 .5l.9-2.4zM1496.5 1370.7l-.1-2.3l1.3 1.1zM1494 1367.7l.1 3l-2-1.7zM1519.5 1350.4l-1.5-2.5l2.6 .7zM1515.8 1348.8l1.4 2.3l-2.1-.3zM1483.4 1336.9l-6.6 3.3l-.3-7.3zM1484.2 1328.2l.4 6.7l-6.7-4zM1506.3 1352.1l-2.5-.6l2.8-1.6zM1502.6 1353.6l2.6 .7l-1.7 1.9zM1499.1 1357.9l1.5-2.9l.9 2.5zM1508.6 1332.4l-4 2.1l1.1-5zM1505.1 1336.9l4-2.1l-.6 4.5zM1493.9 1356.3l1.3 2.3l-3.1 .6zM1495.7 1354.7l2.8-.8l-1.5 3.1zM1498 1351.5l-3 .9l-.2-3zM1446 1389.6l-1.2 4.2l-4.4-2.4zM1472.9 1406.3l.9-2.4l1.5 1.4zM1469.3 1404.2l2.1-.5l-1 2.3zM1475.9 1402.6l2.3-.5l-1 1.7zM1475.6 1400.2l1-2l1.6 1.5zM1474.4 1397.5l-1.2 2.2l-1.8-2.2zM1471.4 1401.2l-2.4 .7l.6-2.9zM1465.9 1406.8l1.4-1.4l1.1 1.7zM1465.7 1403.6l-1.5 1.6l-.3-2.9zM1461.8 1405l-2.4-2l2-1.3zM2228.3 1364l1.5 7.8l-9-2.9zM2239.5 1370.3l-7.3 1.8l-1.4-7.5zM2199.3 1401.1l-5 3.3l.5-5zM2195.3 1406.6l5.3-3.5l-.3 5.8zM2176.1 1384.6l6-2.1l-2.1 4.9zM2175.3 1382.4l1-3.5l4.5 1.6zM2173 1390.2l1.2-4l3.7 2.5zM2173.9 1378.7l-1 3.7l-4.2-3.2zM2188.3 1411.7l-2-3.7l4.4 0zM2184.4 1409.3l1.8 3.4l-3.6-.2zM2181.9 1435.5l-.9 1.9l-1-2.5zM2187.6 1431.7l-2.3 1l.7-2.7zM2174.1 1430.5l.7-1.7l1.1 2.3zM2173.7 1421.5l0 2.5l-1.7-.9zM2176 1423.3l.1-2.8l2.2 1zM2229.7 1413.9l6.7-2.1l-1.8 4.9zM2229.8 1446.7l3.8 2.9l-4.1 1.9zM2234.5 1447.3l-3.9-3l3.5-2.6zM2229.5 1442.2l-1-5.6l4.6 2.9zM2226.1 1436.8l1 5.3l-3.7-2.2zM2225.9 1425.7l-.2 5.8l-3.7-3.5zM2233 1458.7l-4 1.3l.3-4.3zM2182.7 1422.1l2.5-.4l-.5 3zM2187.5 1422.5l2.1 1.6l-2.7 1.4zM2184.3 1419.5l-2.5 .3l0-3.1zM2186.8 1415.1l-.8 2.8l-2.6-3zM2186 1452.2l2.2-.3l-1.1 1.9zM2194.1 1450.2l-2.2-.6l.9-2.1zM2190.9 1446.1l-.9 2.1l-1.6-1.9zM2188 1449.6l-2.3 .3l.8-2.2zM2196.4 1440.5l-2.3 1.7l.3-3zM2166.9 1421l1.4-1.6l.3 2.3zM2166.7 1417.7l-1.6 1.7l-.9-1.8zM2176 1416.3l-.3-3l2.7 .8zM2173.4 1414.2l.3 2.8l-2.3-.8zM2178.7 1411.8l-2.7-.9l1.2-3zM2174 1409.5l-1.9-2.2l3.1-.8zM2168.1 1407.2l-1.3 1.8l-1-2.8zM2164.6 1409.9l-2.4-.4l1.4-2.5zM2168.4 1412.7l3.2 0l-2 2zM2171.7 1410.4l-3-.1l1.3-1.8zM2166.2 1413.5l1 1.9l-2.5-.1zM2162.1 1411.8l2.1 .4l-1.4 1.8zM2218.1 1484.2l-3-1.2l2.7-1.7zM2223.1 1481l-2.7 2.5l-.3-2.9zM2224.6 1485.7l-2.6-.5l2.6-2.4zM2229.6 1483.8l-2.6 1.4l0-3zM2236.9 1486l-2.6-1.9l3.2-1.5zM2232.9 1485.9l2.7 2l-3.2 1.9zM2227.8 1487.4l2.7-1.4l-.5 3.6zM2233.3 1481.9l.2-4l3.3 2.4zM2231.1 1477.9l-.1 3.9l-3-1.7zM2231.9 1497.9l-3.1-.5l1.8-2.8zM2230.1 1502.2l-1.2-2.4l2.6 .5zM2234.2 1504.4l-2.4-.7l1.5-1.9zM1392.5 1375.9l-4.3 9.6l-5-7zM1394.1 1371.5l-7.5-9.7l10.8-3zM1385.2 1363.9l7.4 9.6l-9.8 2.6zM1386.1 1359.5l2.8-14.2l8.2 11.1zM1407.6 1317.6l-8.1-13.2l15-5.3zM1406.1 1282.7l-8.2 18.1l-5.6-14zM1414.9 1296.4l-14.9 5.4l8.3-18.2zM1396.2 1302.9l-16.4 3.4l10.7-17.7zM1469.1 1367.6l-2.9-5l4.9-.8zM1474.5 1340.6l-7.3-1.8l7-5.7zM1561.1 1331.9l-1.1 2.2l-1-1.9zM1558.9 1327.1l2 2.5l-2.4 .3zM1563 1328.5l-2.3-2.9l3.9 .3zM1574.4 1330.8l-2.7 .1l1.3-1.5zM1565.1 1332.3l2.1 .6l-1.1 1.6zM1569.6 1329.8l-.9-2.8l2.3 1.1zM1567.3 1330.5l-2.4-.7l1.5-2.2zM1544 1335.4l2.2 .7l-1.4 2zM1545.1 1330.2l1.2 3.4l-2.4-.7zM1550.3 1327.8l-2.9-1.2l2.9-2.8zM1554 1329.1l2.6-2.1l-.4 2.7zM1556 1324.5l-3.4 2.6l.1-4.3zM1549.8 1330.1l-1.4 2.5l-1.2-3.5zM1554.2 1333.9l-.9-2.6l2.1 .6zM1549.9 1334.6l1.3-2.2l.9 2.6zM1677.8 1287.4l-4.3 1.4l-.4-5.7zM1671.2 1288.9l-4.7-1.2l4.2-4.6zM1676.3 1294.4l-2-3.3l3.8-1.3zM1666.1 1290l4.5 1.1l-2.6 3.9zM1672.4 1292.6l2.1 3.3l-4.5 .4zM1656 1307.4l2.8-1.4l-.7 2.9zM1657.5 1304l-3 1.6l-.9-3zM1653.2 1311.1l1-2.1l1.9 1.4zM1661 1306.7l1.8 2.7l-2.5 .2zM2081.9 1257.7l2.5-.2l-1.1 2.4zM2022.7 1279.2l-1.8 2l-.7-3.6zM2023.9 1274l-.4 3l-2.5-1.7zM2105.4 1259.9l-4-1.8l4.1-3.6zM2113.2 1255.6l-5.4 3.8l0-5.8zM2113.4 1264l-4.6-2.4l5.4-3.8zM2107 1269.1l.6-5.5l4.5 2.4zM2100.2 1260.2l3.9 1.7l-4.4 2.6zM2105.2 1264l-.6 5.4l-4.2-2.6zM2107 1282l-2.8-2.3l5.6-.8zM2103.6 1277.4l2.3-4.2l4.1 3.3zM2100.8 1285l1.2-4.1l2.8 2.4zM2099.6 1280.8l-1.3 4.2l-3-2.7zM2003.9 1297.9l.6-3.2l1.9 2.7zM2001.7 1296.8l-1.7-1.9l2.3-1.1zM1999.2 1297.6l1.5 1.7l-1.5 1.3zM2005.4 1302.1l-1.1-1.9l2.1-.4zM2002.1 1301.2l1.1 1.8l-2.6-.6zM2010.2 1273.8l1 4l-4.3-1zM2009.5 1269.7l-4.8-2l4.4-2.5zM2008.7 1272l-3.5 3.2l-1.4-5.3zM2015.7 1267.2l-3.9 2.4l-.3-4.4zM2013.3 1271.5l3.8-2.3l.2 4.1zM2013.5 1277.5l-.9-3.8l3.7 1.7zM1971.6 1266.6l-6.8-4.1l5.9-3.5zM1960.2 1263l-5.7 5.3l-2-7.6zM1969.5 1257l-6.2 3.7l-2-8.8zM1960.9 1260.8l-8-2.5l6-6.5zM1951.3 1283.2l-.3 7.7l-6-4.8zM1953.6 1283.3l6.2 3.1l-6.4 4.5zM1948.6 1260.1l-5.4 8.5l-3.1-8.3zM1952.3 1269.4l-7.1 .5l5.1-8.1zM1931.2 1267.8l9.4 3.7l-5.7 4.2zM1940.9 1269.1l-9.5-3.7l6.5-4.4zM1951.7 1278.7l-6.2-6.5l7-.5zM1936.2 1277.6l5.6-4.1l-.1 9.5zM1944.1 1274.1l6.5 6.9l-6.6 3zM1814.8 1307.3l-3.3 3.8l-1.2-4.9zM1809.3 1312.4l-4.6-.1l3.4-4.9zM1815.2 1318l-2.2-3.2l5.8 0zM1813.4 1312.4l3.4-3.9l2.8 3.9zM1810.9 1315.8l2.1 3.1l-4.3 .5zM1804.4 1314.7l4.4 0l-2.3 3.8zM1821.8 1321.5l-2.8 2.5l-1.8-2.8zM1816.6 1330.7l1.8-2.4l.9 2.4zM1796.5 1322l-1.5 2.2l-1.4-1.9zM1842.1 1326.4l-4.3-.1l2.4-4.6zM1835.2 1333.2l1-2.9l1.8 3.2zM1837.9 1328.6l4.1 .2l-1.9 3.6zM1837.1 1338.7l-1.5-3.1l2.8 .3zM1833.6 1336.8l1.4 2.8l-2.6-.6zM1861.2 1326.6l-1.4-5.7l6.1 3.2zM1843.9 1330.1l2.2 3.7l-4 0zM1987.6 1308.7l-2.1-.5l1-2zM1990.8 1306l-1.1 1.8l-1-2.5zM1991.6 1309.3l1-1.7l1.3 1.7zM2022.1 1289.2l-2.4 .5l.9-3.1zM2018.1 1293.8l1.1 2l-2.3 .3zM2016.6 1298.5l2.3-.2l-1.3 2.2zM2022 1291.6l-1 2.5l-1.2-2zM2086.7 1289.3l-.4-2.7l2.5 1.6zM2088.5 1293.8l-1.2-2.2l2-1zM2085.6 1293.4l1.2 2.3l-2.5-.3zM2084.3 1289.5l-2.2-.6l1.9-2.1zM2078.4 1294.7l1.2-2.3l.9 2.6zM2081.7 1291.3l2.1 .5l-1.3 1.9zM2085.8 1279.4l-1.3 2.7l-1.8-1.9zM2083.5 1275.7l1.8 1.4l-2.8 .7zM2087 1282.3l1.3-2.7l2.2 1.8zM2087.4 1275.8l-2.1-1.7l3.2-1.2zM2027.3 1293.4l-1.2-2.1l2.5 .2zM2025.4 1294.8l-2.3 .4l1.1-2.5zM2114.9 1285.2l-5.8-2.1l3.4-3.7zM2121.6 1280.7l-4.2 4.4l-2.5-6.1zM2117.1 1290l2.6 5.2l-5.1 .2zM2121.9 1294.3l-2.8-5.5l7.2 1.2zM2119.4 1286.5l4.2-4.5l3 5.7zM2128.1 1314.1l-2.7 3.1l-2-4.3zM2123.1 1317.9l-3.9-.7l2-3.5zM2135.4 1322.7l3.4-2.8l.7 5.6zM2126.9 1321.4l4.1 1.7l-3 2.1zM2137.5 1317.9l-3.5 2.9l-1.8-5.2zM2131.5 1320.7l-4.4-1.8l2.7-3.2zM2133.7 1334l3.5 2.5l-4.8 1.6zM2138.9 1334.8l-3.6-2.5l4.3-2.2zM2134.4 1330.2l.2-5.3l4.2 2.9zM2132.2 1325.1l-.2 4.6l-2.8-2.5zM2122.5 1320.1l-2.7 2.4l-.8-3zM2121.5 1324.2l3-2.7l1.1 3.9zM2115 1344.2l1.2 1.7l-2.4-.1zM2118.7 1345.4l-1.2-1.7l2.8 .3zM2110.5 1342.9l2.4 .3l-1.3 1.6zM2112.8 1340.8l-2.3-.3l1.2-1.6zM2098.8 1308.3l.4 2.6l-2.7-.9zM2101.5 1310.4l-.4-2.9l3.3 .6zM2099.7 1322l-.6-2.4l2.3 .8zM2099.2 1317.1l1.2-1.9l1.1 2.8zM2095.3 1315.9l-2.1-.6l.9-2zM2098.8 1313.2l-1.2 2.1l-1.4-2.9zM2108.3 1321.1l-2 2.3l-1-2.3zM2104 1324l-2.5-.5l1.6-1.5zM2128.9 1368.6l-.1-3l2.5 1.4zM2126.5 1368.4l-1.5-1.2l1.5-1.2zM2132.6 1371.3l-2.2-.8l2.1-1.4zM2129.3 1374.8l-.2-2.3l2.3 .8zM2124.7 1373.9l2.1-1.2l.2 2.3zM2125.7 1370.6l-2 1.2l.3-2.4zM1961.6 1343.5l-1.1 2.6l-1.5-2.1zM1963.2 1339.9l-2.3-2.3l3.5 .1zM1958.8 1338.9l2.4 2.3l-2.8 .6zM1968.1 1340.8l-2.6 0l1-2.1zM1947.9 1347.3l2.3-3.6l1 3.7zM1945.9 1346.2l-1.8-2.7l4-.9zM1945.9 1350.9l1.8 3.1l-3.3-.1zM1949.6 1352.7l-1.7-3.1l3.1 .1zM1939.6 1351l4.1-1l-1.6 3.2zM1942.2 1344.8l1.8 2.8l-4.3 .9zM1928 1358.6l-3.5-3l4.4-.6zM1908.6 1375.8l-.3 3l-2.6-1.2zM1907.1 1380.9l-2.4 1.9l-.2-3.2zM1916.9 1376.5l2.5 1.1l-2.7 1.7zM1911.9 1379.9l2.5-2.4l-.1 2.7zM1913.3 1375.5l-2.5 2.2l.2-2.6zM1917.8 1374.4l2.1-2l.5 3.1zM1899.5 1374.3l3.5-1.7l-.6 3.3zM1905.4 1372.3l2.2 1.4l-2.7 1.6zM1910.6 1349.5l-4.6-2.2l4.2-3.5zM1905.1 1349.4l4.4 2.1l-4.3 2.7zM1909.1 1341.7l-4.2 3.5l-.3-5.7zM1902.5 1345.4l-4.7-2.9l4.5-2.9zM1914.3 1357.1l-.8-3.9l5.2 1.8zM1911.1 1353.3l.8 3.9l-4.9-1.4zM1821.6 1337.2l-1.9-.5l1.1-2zM1817.8 1335.2l-1.4-2.2l2.6 0zM1812.6 1321.3l-2.2 3.1l-1.9-2.6zM1816.8 1324.8l-4 .3l2.2-3.2zM1812.6 1327.5l3.7-.3l-2.1 2.7zM1894.4 1344.2l.3 5.2l-4.4-3.5zM1893.7 1351.6l-3.9 1.7l-.4-5.1zM1901.5 1347.5l-4.5 2.5l-.2-5.3zM1898.4 1351.9l4.3-2.4l.2 4.7zM1871.3 1350.9l-4-.9l2-2.6zM1862 1346.1l1.4 3.4l-2.8 0zM1865.5 1348.4l-1.5-3.5l3.5 1zM1862.8 1351.8l-1.9 2.5l-.5-2.5zM1880.6 1344.2l3.1-4.9l2.4 5zM1881.5 1338.5l-3 4.7l-2.6-3.9zM1882.2 1350.1l-1.8-3.6l4.9 .2zM1873.9 1340.6l2.4 3.5l-4.7 0zM1876.3 1346.5l-2.6 3.9l-2.2-4zM1875.9 1351.3l2.5-3.6l1.6 3.4zM1899.1 1383.7l2.4 1.5l-2.1 1.4zM1902.3 1382.9l-2.4-1.5l2.3-1.6zM1898.7 1379.4l-.3-3.1l2.6 1.5zM1896.3 1379.3l-2.9-1.7l2.6-1.4zM1890.1 1374.7l-1.7-2l2.1-1.5zM1887.1 1370.7l-1.4-2.6l3.5 1.1zM1883.4 1368.6l1.3 2.7l-2.8-.1zM1878.7 1367l2.8 .2l-1.5 2.6zM1874.9 1367.1l-1.2 2.6l-1.3-2.3zM1875.6 1371.1l1.2-2.6l1.2 2.7zM1873 1362.5l1.7 2.2l-2.5 .3zM1876.7 1363.4l-2-2.6l3.5-.4zM1881.6 1364.8l-2.9-.2l1.5-2.9zM1873.3 1377.4l.8-2.4l1.4 2.4zM1872 1373.8l-.7 2.1l-1.2-1.8zM1911.7 1450l-1.9-.4l1.5-1.6zM1915.7 1448.8l-1.7 .9l-.4-1.9zM1897.4 1452.8l-1.4-.8l.9-1.4zM1894.7 1449.8l-.8-2.2l1.8 .6zM1897.3 1459.2l1.3-1.7l.9 2.2zM1893.5 1455.3l.3 2.5l-1.7-.9zM1896 1457l-.3-2.4l1.5 .9zM1892 1459.5l-1.9 .5l.7-1.2zM1890.3 1462.4l2.6-.7l-1 2zM1894.1 1464.5l1-1.9l1 2.2zM1897.3 1461.6l2.1 .5l-1.1 1.7zM1889.4 1436.5l-1.2 1.4l-1.3-1.6zM1892.7 1439.4l-2.3-.4l1.2-1.5zM1890.6 1441.4l2.5 .4l-1.1 1.8zM1880 1449.6l-1.2 1.8l-.6-2.3zM1900.5 1438.1l2.2 .3l-1.2 2zM1904.3 1440.2l.7 2.1l-1.8-.3zM1907.1 1441.3l-.8-2.4l2.2 .4zM1906.5 1436.6l1.1-1.8l1 2.1zM1902.5 1436l-2.1-.3l1.1-1.8zM1905.8 1433.2l-1.1 1.8l-1.1-2.1zM1913.6 1434.4l1.1 1.6l-2.1 .6zM1909.5 1433.3l2-.1l-1 2.3zM1904.5 1428.7l1.1 2.1l-2.2-.3zM1904.5 1423.9l-1.2-2l2.2 0zM1902.6 1427.3l-1.1 1.8l-1.1-2.1zM1901.2 1423l1.1 1.9l-2.1-.3zM1892 1401l1.1-2l1 1.8zM1894.7 1397.2l1.8-.7l-.8 2.4zM1893.8 1395l-.4-2.1l2.3 1.3zM1887.9 1406.4l1.6-1.8l.8 2zM1886.1 1410l1.5 1.8l-1.8-.2zM1889.9 1410.9l-1.8-2.1l2.5 .2zM1884.1 1468l-.5 1.7l-1.3-1.9zM1882.3 1463.3l1.2 2.3l-2-.3zM1885.5 1464.3l-1.2-2l1.8 .3zM1885.7 1471l.5-1.8l1.6 1.4zM1888.1 1467.7l2.4-.6l-.7 2.1zM1887.5 1465.4l.7-1.7l1.5 1.2zM1879.4 1423.9l1 1.9l-2.5-.9zM1883 1425.8l-1-1.9l2.3 .5zM1884.3 1429.7l2.3 .9l-1.6 1.8zM1886.7 1428.1l-2-.7l1.3-1.4zM1880.2 1428.2l-1.2 .8l-.9-1.5zM1879.3 1434.8l.3-2l2 1.5zM1880.7 1430.7l1.2-.9l.6 2.2zM1864.1 1466.9l2.1 .1l-.7 1.9zM1871.8 1465l-2.1-.2l.9-2zM1862.3 1461.2l-.9 2.1l-1.5-2.1zM1864 1457.7l-1.3-2.1l2.5 .1zM1860.7 1456.7l1.3 2.1l-2.5 .1zM1868.4 1459l-2.4-.1l1.2-2zM1867.7 1463.4l-1.4-2.2l2.4 .1zM1864.3 1462.5l1.4 2.1l-2.2-.1zM1866.8 1476l-2.2-.1l1.1-2zM1862.6 1474.6l-1.2-2l2.4 0zM1853.6 1468l-.9 2.3l-1.4-1.5zM1857.4 1470.6l-2.5 .4l1-2.4zM1871.9 1474.3l1.1 2.1l-2.2-.2zM1875.1 1475.2l-1.1-2.1l2.2 .1zM1873.6 1470.8l.7-2l1.5 2zM1870 1473l-1.1 1.9l-1.1-2.2zM1868.2 1468.4l1.4 2.2l-2.1-.2zM1871.6 1469.3l-1.4-2.1l2.1 .2zM1844.6 1450.4l1.5-1.5l.7 1.9zM1844.4 1447.3l-1.7 1.6l-.7-2.4zM1836.3 1452.9l1.4 2.3l-2.3-.1zM1838.4 1451.8l2 .3l-.8 1.8zM1831.7 1453.5l2.2-1l-.7 1.9zM1831.5 1449.7l1.7 .6l-2.2 1zM1840.5 1449.7l-2.2-.3l1.5-2.1zM1828 1444.5l.8 2l-1.8-.5zM1873.4 1446.6l1.6-1.9l.2 1.8zM1865.7 1445.8l2.2 1.5l-2 .4zM1873.1 1451.1l-.8-2.1l2.1-.1zM1866.5 1450l2-.4l-1.2 2.2zM1870.5 1450.8l.8 2.1l-2 .2zM1873.3 1440.9l-2 .1l.4-1.9zM1871.5 1445.2l-.3-1.9l1.9 0zM1868.8 1443.6l.3 1.7l-1.9-1.4zM1955.2 1364.4l-2.8 .2l1.3-2.2zM1954 1369.3l-1.6-2.3l2.9-.3zM1950.3 1368.1l1.5 2.2l-2.9-.1zM1950 1364.1l-2-1.9l3.4-.5zM1929.1 1377.1l3.1 1.7l-2.7 1zM1926.6 1376.7l.4 2.5l-2.6-1.6zM1922.3 1372.5l2.9 2.2l-2.4 1.1zM1926.3 1369.4l0 3.2l-3-2.3zM1929.4 1362.9l2.9 2.5l-3.4 .8zM1964.9 1372.3l-1.4-1.8l2.3-.2zM1961 1367.6l-1.4-1.5l2.5-.5zM1965.7 1367.9l-2.3 .3l1.1-2zM1961.7 1372.1l1.3 1.6l-1.9 .3zM1956.8 1372l2.7-.7l-.7 2.2zM1959.1 1369l-2.7 .7l1.2-2.3zM1948 1393.5l1.3-1.9l1.1 1.8zM1947.3 1390.5l-1.3 1.8l-.7-2zM1944 1393.6l-2.3 .1l1.5-2.2zM1941.8 1396l2.2 0l-.7 2zM1951.6 1372.6l-1.9 2.2l-1.1-2.3zM1953.8 1376.9l-2.3-.6l1.9-2.1zM1842.4 1477.7l1.8-1.1l-.4 1.8zM1846.2 1478.5l.4-2.1l1.7 1.5zM1843.9 1472.6l-2.7-.4l1.9-1.3zM1842.7 1474.8l-2.1 1.3l-.6-1.8zM1846 1471.6l-.7-1.5l1.8-.3zM1850.9 1471.8l-2.6 .6l1.2-2.1zM1848.4 1474.8l2.7-.6l-.9 2.2zM1835.9 1479.1l2.2-.1l-1 1.9zM1831.6 1476.6l-2.3-.2l1.4-1.5zM1831.5 1479l-1.2 1.5l-1.2-1.7zM1835.5 1474.1l-1.6 1.8l-1-1.8zM1838.3 1476.7l-2 0l1.4-1.6zM1867.5 1481.6l1.2-1.9l1 2zM1865.6 1480.2l-1-2l2.1 .1zM1729.8 1493.3l-.3 2.2l-1.8-1zM1733.9 1494.5l-2.1 .9l.4-2.2zM1732.5 1497.7l2.1-.9l-.4 2.3zM1731.3 1499.8l1.6 1.3l-1.8 .9zM1728 1497.4l-2 1.2l.3-2.2zM1726.9 1500.8l2.1-1.2l-.2 2.4zM1728 1527.7l-2.2-1.1l1.7-.9zM1745.3 1483.6l-.1-2.2l2.4 1.4zM1746.8 1479.6l1.8-.5l.3 1.8zM1740.3 1476.1l1.3 1.8l-2.4-.1zM1744.3 1474.3l-.7 2.4l-1.4-1.9zM1747.7 1476.9l-1.9 .6l.7-2.2zM1719.4 1514.3l-1 1.7l-1.3-1.4zM1720.3 1517.4l1.1-1.8l.8 2.4zM1719.5 1519.6l1.7 .6l-1.9 1.1zM1716.3 1517.3l-2.3 .5l1-2zM1714.8 1520l2.3-.5l-.2 1.9zM1723 1505.2l-2-1.4l2.2-1.1zM1726.6 1507.3l2-1.2l-.1 2zM1725.4 1505.2l.2-2.4l1.9 1.2zM1727.2 1512l-1-2.3l1.8 .8zM1723.3 1512.2l.7-1.7l1 2.3zM1717.4 1510.6l1.6 1.4l-2.3 .3zM1719.6 1509.4l2.5-.4l-.8 1.9zM1721.1 1506.8l-2.3 .4l.5-1.7zM1750.2 1453.1l-2.6-.5l2-2zM1730.1 1464.1l2.4 .2l-1.7 2zM1742.8 1464.8l2 .8l-1.4 .7zM1739.3 1461.6l-2.1 .3l1.4-2.2zM1796.2 1480.2l.3-2.4l1.8 1.4zM1794.2 1477.5l-.3 2.3l-1.7-1.6zM1792.7 1481.9l-1.8 .9l.2-2.4zM1803.4 1478.9l1.8-1.2l-.1 1.7zM1811 1464.8l-1.8-1.3l1.5-.4zM1815 1466.4l1.8-1.9l.7 2.2zM1814.8 1463.2l-1.5 1.5l-.2-1.7zM1816.7 1470.9l-1.6-2.1l2.4 .3zM1812.6 1471.5l.4-1.5l1.3 1.7zM1682.3 1303l1.4 1.8l-2.3 .1zM1681.5 1299l-2.4-1.7l3.6-1.3zM1679.7 1302.8l-.8 1.9l-1.9-.9zM1677.1 1298.8l2.3 1.6l-3.4 1.2zM1693.7 1298.2l-2.7 .2l1.4-3.1zM1688.9 1297.5l-2-2.7l3.5-.8zM1692.2 1303l-1.2-2.2l2.4-.2zM1688.1 1304.5l1.1-2.1l1.1 2zM1687 1298.9l-3.1 .4l1.2-2.9zM1684.2 1301.7l2.9-.4l-1.2 2.4zM1648.7 1308l3.3 .3l-1.1 2.4zM1649.4 1301.5l-2.9 3l-2.1-4.1zM1652.1 1305.9l-3.4-.3l2.5-2.6zM1655.6 1314.5l-1.7-1.1l2.6-.7zM1648 1280.7l-5.6 4.9l.1-8.5zM1655.5 1285.8l-3.6-4.6l7-2.4zM1650.4 1290.7l.5-7l3.2 4.1zM1643.2 1288l5.4-4.7l-.6 7.9zM1651.7 1278.7l2.9-9.3l4.7 6.7zM1649.3 1278.7l-5.8-3.8l8.6-5.5zM1611.3 1293.1l-.3 6.5l-5.7-1.8zM1614.8 1301.4l5.5-2.3l-1.3 4.7zM1619.7 1296.9l-6.3 2.5l.2-6.6zM1739.7 1433.2l.9 1.9l-2.3 .1zM1732 1434.3l1.4-1.3l.7 1.8zM1735.5 1432.1l2.1 0l-1.3 1.9zM1721.5 1444.8l0-1.8l1.8 1.5zM1727.8 1441.5l1.7 .4l-2 1.1zM1730.6 1439.7l-2-.4l1-1.8zM1727.7 1436.1l-1 1.8l-1.2-1.7zM1724.6 1439l-2.2 .1l1-1.8zM1723.3 1441.4l2.1-.1l-.2 1.7zM1708 1499.9l.3-1.8l1.8 1.6zM1412.3 1398.9l2.8 .7l-1.8 2.6zM1408.2 1402.7l1.9-2.9l1.1 3.4zM1404.3 1402.2l-3.3-.1l1.7-3.2zM1408.4 1398.1l-2 3.1l-1.7-3.5zM1441 1384.9l4.1 2.5l-5.7 1.9zM1431.7 1387l6.8-2l-1.7 4.6zM1447.3 1386l-4.3-2.6l7.3-3.1zM1396.7 1395.1l1.8-5l2.4 5zM1396.6 1388.4l-2 5.5l-3.9-5zM1394.4 1377.5l2.4 8.5l-6.5 .6zM1398.9 1384.8l-2.6-8.9l8.4 2.6zM1410 1364l-8.7-6.7l10.6-5zM1408.4 1376.9l2.8-8.1l5.5 8.9zM1408.6 1365.9l-12.2 6.1l3.3-12.9zM1397.8 1373.9l11-5.5l-2.7 8.1zM1429.8 1378.1l-1.9 6.5l-6.2-4.9zM1432.1 1378.5l5.7 4.2l-7.6 2.2zM1457.5 1387.4l3.3-1.8l-.7 4.9zM1454.1 1386l-4.3 .4l2.7-5.4zM1459.9 1383.4l-3.5 2l-1.6-4.9zM1486 1382.4l-.7 2.6l-1.8-2.6zM1487.4 1386.2l.6-2.4l1.6 1.8zM1491.1 1383.8l-1.6-1.9l2.3-.7zM1483.5 1377l1.9 3.1l-2.6-.1zM1491.4 1375.6l2.3-.6l-.7 2.3zM1493 1372.8l-2.4 .6l.3-2.3zM1488.5 1371.5l-.3 2.2l-2.2-.4zM1489.2 1379.6l.6-2.3l1.5 1.6zM1487.7 1376l-.6 2.4l-1.7-2.8zM1482.7 1346l-5 3.5l-.6-5.6zM1484.5 1339l-.3 5.1l-5.6-2.1zM1500.2 1346.5l-.4 3.4l-3.5-2.4zM1502.2 1349.8l.3-3.2l2.9 1.3zM1507.1 1346.1l-2.7-1.2l3.3-1.5zM1503 1342.9l.7-4.1l3.3 2.3zM1492.8 1331.1l-5.9 3.8l-.3-6.6zM1494.4 1329.2l-6.3-2.8l7.5-3.7zM1496.8 1329l1.1-6.2l4.8 4zM1502.1 1334.7l-4.4-3.5l5.7-2.1zM1483.5 1358.7l2.6-3l1.6 3.6zM1488.3 1354.8l3.6 .2l-2 3.3zM1484.2 1354.2l-2.7 3.3l-2.4-4.3zM1484.4 1347.8l.6 4.2l-5.3-1zM1492.7 1352.7l-3.5-.2l3.3-3zM1487.2 1351.1l-.6-4l4.3 .7zM1436.2 1403.8l1.5-1.6l.1 3.2zM1443.1 1395.5l-3.5 2l-.7-4.2zM2228.7 1373.9l-6 4.3l-2.6-7.1zM2220.4 1378.6l-9.6-1.3l6.8-6zM2219.4 1380.8l-4.8 4.1l-3.9-5.3zM2203.1 1398.9l.1-7.3l6.1 4zM2210.9 1393.8l-5.8-3.8l7.5-1.7zM2200.9 1392.4l-.2 6.7l-4.8-1.8zM2205.8 1380l-4 7.5l-4.7-4.8zM2212.4 1385.9l-8.1 1.9l4-7.5zM2191.4 1391.2l7.7-.4l-5.1 5.1zM2199.5 1388.5l-7.7 .3l3.3-4.8zM2209 1403.7l-4.8-2.8l5.8-3.1zM2212.7 1405.3l6.1-3.6l-1.1 5.5zM2211.5 1403.3l1-6l5.4 2.2zM2211.7 1412.7l-.5-5.4l5 1.8zM2208.9 1407.6l.5 5.5l-5.5-2.5zM2202.9 1402.8l4.7 2.8l-4.9 3zM2168.1 1386.8l3.7-.9l-1.1 3.7zM2166.8 1388.9l2.6 2.7l-3 1.6zM2162.3 1390.3l2.2-1.6l-.4 3.8zM2170.8 1383.8l-3.8 .9l-.2-4zM2163.6 1386.4l-2.3 1.8l-.9-3.3zM2164.5 1380.4l.1 3.9l-3.5-1.7zM2197.5 1418.2l4.5 1.5l-2.8 1.7zM2202.7 1417.4l-5.2-1.6l3.4-3.1zM2193.7 1422.8l1.6-3.7l1.6 3.2zM2195.9 1414.1l-1.3-5.2l4.7 2.2zM2193.6 1414.5l-3.5-1.2l2.3-3.6zM2188.9 1420.6l4-2l-1.6 3.9zM2192.1 1416.5l-3.7 1.7l.7-2.7zM2189.3 1437.6l.8-2.9l1.5 2zM2187 1437.1l-1.6-1.9l2.4-1zM2188.2 1441.9l1.9 1.9l-2.5 .2zM2191.8 1442.1l-2.2-2.1l2.5-1zM2183.5 1441.3l2.5-.3l-.6 2.2zM2183.8 1436.9l1.5 1.8l-2.5 .3zM2177.1 1428l1.3 .6l-.5 1.3zM2183.2 1431.5l-1.4-2.5l2.1-.1zM2180.1 1430.8l1.1 2l-1.6-.5zM2181.2 1426.7l.2-2.4l1.7 2.3zM2178.9 1426.2l-1.8-.7l2-1.7zM2191.6 1457.9l-.8 1.8l-1.2-2.1zM2190.2 1453.1l1.1 2.4l-2.2-.4zM2193.4 1454.4l-1-2.2l2.1 .5zM2193.7 1459l1.6 1.6l-2.4 .3zM2230.1 1406.1l5.5 3.5l-7.1 2.2zM2221.3 1401.2l5.4 2.9l-6.5 2.7zM2227.6 1406.3l-1.6 5.5l-4.8-2.9zM2223.5 1448.6l3.9-2.2l-.2 4.8zM2226.3 1444.3l-3.8 2.1l.2-4.2zM2220.1 1446.1l-3.6-3l3.8-1.2zM2216.4 1431.7l-2.3-4.4l4.2 1.2zM2215.8 1440.8l1.2-4.2l2.5 3.1zM2223.8 1432.9l-5.4 0l1.9-3.3zM2218.9 1435.3l5.4 0l-2.7 3.1zM2233.5 1427.1l-4.3-3.4l4.7-3zM2232.5 1429.3l-4.5 2.7l.3-6zM2229 1434.1l4.5-2.7l.3 5.8zM2234.3 1473.8l1.4-4.3l3.1 3zM2233.4 1468.9l-1.3 4l-2.2-3.2zM2229 1464.1l3.4 2.6l-3.3 .7zM2234.1 1465l-3.9-3l4-1.2zM2223.2 1475.9l.9 2.9l-3-.4zM2218.5 1473.5l3 .7l-2.1 2.6zM2229.8 1473.8l-3.9-.9l1.9-2.1zM2225.4 1475.1l4.2 1l-3.2 2.2zM2198.5 1474l2.3 .4l-1.3 1.7zM2196.9 1432.3l2.4 2.1l-3.8 1zM2199.2 1436.8l-1.1 2l-1.8-1.2zM2201.3 1433l-2.4-2l3.7-1zM2200.3 1439.6l1.4-2.3l1.7 3zM2211.6 1443.6l-2 2.2l-1.7-2.5zM2207.7 1447.3l-2.3 1.1l.8-3.5zM2199.6 1448.4l1.6 1.5l-2.7 .4zM2197.5 1447.2l-1.2 2.2l-1.4-2.9zM2197.6 1442.5l.3 2.4l-2.6-.7zM2200.2 1444.4l-.4-2.5l3 .6zM2203 1448.4l-1.9-1.8l2.7-1.9zM2131 1380l-2.1 1.3l.4-2.4zM2130.2 1383.3l2-1.3l.2 2zM2134.6 1377.8l.2-2.6l1.7 1.3zM2132.2 1378l-1.7-1.1l1.9-1.5zM2138.1 1381.1l-2.5-1.2l2.1-1.3zM2134.8 1383.9l-.2-1.9l2.1 1.1zM2155 1404.1l-2.4 0l1.2-1.7zM2155 1406.5l-1.2 1.7l-1.2-1.7zM2156 1409.1l1.2-1.7l1.1 1.7zM2160.4 1408l-1.2-1.8l2.4-.5zM2158.3 1400.7l-1.2 2.3l-1.3-1.8zM2161.9 1403.3l-2.6 .4l1.3-2.4zM2215.3 1489.3l2.3-1.2l-.7 2.6zM2216.5 1486.1l-2.4 1.2l-.3-2.2zM2214.6 1494.2l-.1-2.5l1.4 1.2zM2210.9 1493.1l1.2-1.3l.2 2.5zM2232 1509.9l2.5-1.5l-.3 2.5zM2233.1 1506.5l-2.3 1.4l.1-2zM2225.2 1491.6l1.1-2.4l2 2zM2226.8 1496.2l-1.4-2.2l3.1-.4zM2219.8 1489l1.5 2.8l-2.2-.1zM2223.2 1490.4l-1.5-2.8l2.5 .4zM2217.9 1497.4l-2.2-.9l1.4-1.5zM2221.4 1494.1l-1.3 2.4l-.8-2.5zM2222 1497.9l1.4-2.6l1.4 2.2zM1395.9 1305.4l-5.7 15.1l-10.6-11.7zM1392.4 1321.3l5.6-14.8l7.9 12.8zM1400.7 1355l3.6-14.6l7.2 9.5zM1390.2 1343.1l11.9-3.7l-3.6 15zM1403.1 1335.2l-10.2-11.6l13.4-2zM1391.5 1325.5l10.1 11.6l-11.9 3.7zM1468.7 1351.9l6.3 .7l-2.4 5.3zM1465.8 1360.3l1.2-6.7l3.8 5.9zM1475.4 1350.3l-6.3-.7l5.7-5.1zM1467.2 1348.2l-1.2-7.3l7.3 1.8zM1463.6 1340.9l1.2 7.4l-8.7-4.8zM1442.4 1381.1l1.9-5.8l5.5 2.6zM1441.6 1373l-8.3 1.9l3.2-8.8zM1434.2 1377.1l7.6-1.8l-2 6zM1447.1 1365.4l-3.6 6.2l-5-6.7zM1445.2 1373.2l3.5-5.9l2.3 8.5zM1464.9 1325.9l7-7.6l1.9 10.7zM1465.5 1337.1l-1.2-8.9l8.6 3zM1421 1313l-11.1 5l6.6-17.5zM1668.6 1303.2l.1-2.9l2.7 2.5zM1666.3 1303.3l-3-.4l3.1-2.6zM1665.7 1305.6l-1.1 2.4l-1.7-2.7zM2078.7 1261.3l1.2-2.3l1.5 2.2zM2102.8 1271.1l-5.1 1.7l1.2-4.2zM2101.1 1277.1l-2.7-2.1l4.7-1.5zM2096.3 1269.1l-1 3.6l-2.5-1.8zM2096.5 1276.5l2.5 2l-3.9 1.4zM2093.5 1274.3l-3.5 1.4l1.1-3.1zM2090.2 1278.1l3.7-1.5l-1.3 3.4zM1964.6 1273l-.7-8.3l6.9 4.2zM1961.5 1265l.7 8.1l-6.3-2.9zM1970.7 1278.6l-5-3.5l5.9-3.9zM1963.5 1284.1l1-7l5 3.5zM1955 1281.3l7.1-4l-1 7.2zM1961 1275.2l-7 4l.8-7zM1788.5 1325.1l-1.2-1.6l2.1-.5zM1793 1325.4l-2.3 .5l.9-2.3zM1847 1320l-3 5l-1.9-4.9zM1846.9 1317.7l-5 .1l1.4-5.5zM1851.8 1309.3l-2.9 7l-4-5.9zM1850.9 1317.6l2.8-6.6l2.6 6.5zM1835.9 1324.8l-1.9-4.2l4.3-.3zM1831 1318.5l-3.8 .5l3.6-4.6zM1837.6 1318l-4.2 .3l-.2-4.3zM1826.3 1329.9l-.3 2.6l-2.4-.9zM1830.1 1321l-2.2 4l-1.6-3.5zM1829.9 1326.3l2.3-4.1l1.8 4.1zM1828.3 1333l.4-2.7l2.3 2.8zM1830.4 1328.7l3.8-.1l-1 3.3zM1820.6 1327.4l4.1 .8l-3.1 1.9zM1825.8 1326l-4.5-.9l2.9-2.6zM1845.8 1336.2l-2 2.5l-1.5-2.6zM1841.8 1339.8l-2.7 .3l1.2-2.7zM1851.8 1339.3l-1.5-2.7l3.9 .7zM1846.1 1342l2.9 .2l-1.5 1.8zM1849.4 1339.8l-3.4-.1l2-2.5zM1860.8 1330.6l3.2 3.9l-5.1 .7zM1864 1336.9l-2.2 4l-2.6-3.4zM1865.5 1332.7l-3.2-4l4.5-2.4zM1868.1 1337.4l4 1.6l-2.3 3.6zM1863.7 1342.3l2.2-4l1.8 5.2zM1867.9 1333.1l1.3-6.9l4.7 3.4zM1873.1 1336.9l-4.2-1.7l5.4-3.1zM2082.2 1283.1l-2.9 .2l1.3-1.9zM2080.1 1287.6l-1.1-2l3.1-.1zM2110.3 1291.2l4.4-1.8l-2.2 5zM2113.7 1287.3l-4.4 1.8l-.7-3.6zM2107.9 1298.2l1.1-4.7l2.1 2.9zM2106.7 1292.9l-1 4.5l-1.8-3.1zM2106.9 1288.9l-4.8-1.9l4.1-1.7zM2101.3 1289.2l4.2 1.6l-2.7 1.4zM2107.9 1326.8l2.5 .1l-1.5 2.1zM2111.1 1324.6l-2.6-.1l1.9-2.2zM2113 1323l-.6-2.3l2.4-.7zM2117.7 1323.8l-2.7 .5l1.9-3.3zM2122.4 1329.2l-1.1-2.7l3.4 1.1zM2107.9 1312.7l.3-3.2l2.7 2zM2105.6 1313l-2.6-.9l2.8-2.2zM2102.6 1314.4l2.3 .8l-1.2 2.1zM2110.4 1317.4l-1.9-2.4l2.9-1.2zM2106.8 1316.6l1.7 2.2l-2.9 0zM2094.8 1321.6l2-1.7l.6 2.6zM2095 1318.3l-1.7 1.4l-.3-2zM2103.7 1326.3l-1.5 1.7l-1.1-2.1zM2104.1 1331.6l2.4 .5l-1.4 1.6zM2104.2 1329.3l1.5-1.6l.9 2zM1959.2 1355.1l2.9-.2l-1.4 2.2zM1962.2 1352.6l-2.8 .1l1.4-2.1zM1969.4 1346.3l1.1-2l1.3 1.9zM1970.8 1350.5l-1.3-1.8l2.4-.1zM1963.8 1344.3l1.6 2.4l-2.8 .4zM1967.3 1345.3l-1.5-2.2l2.6 .1zM1965.3 1349.1l-1.1 2.3l-1.4-2zM1966.4 1352.2l1.1-2.3l1.4 2zM1908.2 1383.1l0 2.7l-2.3-1zM1905.1 1387l2.3 1l-1.9 1.9zM1914.3 1386.5l-2.1-.1l2.1-2.1zM1910.5 1384.7l0-2.7l2.4 .4zM1897 1368.6l-.7 3.2l-2.3-2.4zM1899.4 1368.8l2.7 1.6l-3.5 1.7zM1919.7 1360.8l-3.6-1.9l4.2-2.1zM1926.1 1360.1l-4 .9l.5-3.9zM1921.9 1365l3 2.3l-3 1zM1923.3 1363.1l3.9-.9l-.6 3.4zM1910.5 1359.2l-3.8 2.2l-.9-3.5zM1901.1 1367l3.3-1.6l-.7 3.2zM1867.5 1426.8l-.9 2l-1.1-2.2zM1863.1 1439.5l.1 2.2l-2.2-.7zM1866.1 1435.9l.9-2.2l1.7 1.9zM1869.1 1440l-2-1.9l2.5-.2zM1865.5 1439.9l1.8 1.6l-1.8 .3zM1882.2 1421.5l1.5-1.5l.8 2zM1886 1419.4l2.1 .3l-1.3 1.7zM1887.2 1414.2l-1.8 1.3l.1-1.5zM1887.1 1417.2l2-1.5l0 1.7zM1843.2 1345.3l.8-2.1l1.3 1.8zM1841.9 1342.1l-.9 2.3l-1.6-2zM1808.2 1325.4l-3.5 .1l1.7-2.6zM1802.5 1324.5l-1.5-2.6l3.2 .1zM1800.3 1325.4l-3.1-.2l1.6-2.3zM1796.7 1327.5l2.6 .2l-2 1.5zM1809.9 1333.1l2.5 0l-.9 1.9zM1809.4 1330.8l1.2-2.1l1.4 2zM1803.3 1329.3l1.5 1.7l-1.7 .1zM1807.2 1330l-2.1-2.2l3.3-.1zM1869.2 1356.6l2.9-1.7l-.5 3.1zM1867.6 1354.8l-.7-2.5l3.6 .8zM1867.5 1358.3l2.2 1.3l-2.9 1zM1862.8 1358l2.4-.1l-.7 2.1zM1864.7 1353.3l.6 2.2l-2.5 .1zM1905.9 1397.2l-2.4 .5l1.3-2.6zM1880.1 1391.2l2.5-.1l-1.4 1.7zM1882.5 1388.7l-2.7 .1l.9-2zM1874.3 1381.7l-.9-2l2.1 0zM1878.5 1383.3l-2.3-.1l1.2-2.1zM1877.8 1387.6l-1.4-2.1l2.2 .2zM1881.9 1379.7l-1.4 2.4l-1.1-2.4zM1885.8 1377.1l1.1-2.5l1.9 2.1zM1880.1 1375l1.6 2.4l-2.4 0zM1884.8 1373.6l-1.1 2.5l-1.7-2.5zM1908.5 1455.3l-1.9-.2l.9-2zM1911.4 1452.3l-.9 1.7l-1-2.1zM1910.6 1458.7l1.2 1.6l-2.2 .4zM1906.7 1457.5l1.9 .1l-1.1 2zM1912.6 1455.1l.8-1.7l1.4 1.4zM1881.6 1451.4l.8 2.3l-2.1-.3zM1882.6 1456.1l-.7 1.8l-1.3-2.1zM1887.7 1459.3l-1.1-2.1l2 .7zM1883.7 1459.7l.7-1.7l1.1 2.1zM1877.1 1443.1l1.9-.2l-1.6 1.9zM1880.6 1444.7l.1 2.6l-2-.5zM1878.3 1438.7l1.3 1.8l-2.1 .2zM1881.4 1439.1l-1.5-2l2.5-.6zM1886.2 1439.2l-2.5 .6l1-2.6zM1908.4 1425.2l-2 0l1-1.9zM1911.4 1421.8l-1 2l-1.1-2zM1910.5 1429l1 1.8l-1.9 .2zM1906.5 1427.5l2.1 0l-1 2.1zM1881.9 1399.3l-1.9-.5l1-1.6zM1881.6 1401.7l-1.6 1.3l-.3-1.9zM1886.1 1404.9l-.5-2.2l2.1 .4zM1883.3 1403.3l.6 2.3l-2.4-.9zM1880 1459.3l-2.1-.1l.7-2.2zM1873.1 1456.7l1.2 2.4l-2.1-.1zM1876 1457.3l-1.1-2.1l1.8 .1zM1874.5 1461.4l-.8 2.2l-1.2-2.2zM1875.6 1465.1l.9-2.2l1.3 2.2zM1878.4 1461.5l2 .2l-.8 1.9zM1855.3 1445.7l2.1-1.8l.2 2.2zM1855.4 1450.2l-.9-2.2l2.2 .3zM1852.3 1449l1 2.3l-2.5-.1zM1848.2 1447.9l2.1-.1l-1.4 2zM1830.2 1443.6l2.3 .5l-1.4 1.7zM1833.9 1446l.6 2.3l-1.8-.7zM1836.7 1447.5l-.6-2.6l2.2 .5zM1836.8 1442.7l1.7-1.8l.4 2.3zM1940.2 1367.4l-.9 2.8l-2.1-2.9zM1941.4 1371.2l.9-2.7l2.1 2.1zM1944.5 1367.4l3.5-.2l-1.4 2.2zM1947.5 1364.9l-3.3 .1l1.4-1.9zM1934.3 1358.6l-4.1 .6l.9-3.5zM1935.2 1360.8l-1 3.2l-2.9-2.6zM1938.2 1356.9l.1-4l2.3 2.1zM1935.9 1352.2l-.1 4.6l-3.2-2.9zM1937.3 1362l2.2 3l-3.1-.1zM1943.4 1359.6l-3.8-.8l2.5-1.9zM1941.8 1364.3l-2.1-3.1l3.8 .9zM1952.1 1381l-.8-2.3l2 .5zM1951.3 1388.1l.8-2.1l1.3 1.8zM1954.1 1384.8l2.3 0l-1 1.8zM1954 1382.5l1.2-1.8l1.1 1.8zM1923.6 1390.4l2.4-.5l-.7 2.2zM1928.2 1390.6l1.9 1.8l-2.6 .5zM1925.8 1381.2l-2.6 .9l-.1-2.5zM1920.8 1379.5l.1 2.6l-2.8-.9zM1926.8 1386.1l-2.3-2l2.6-.9zM1923 1386l2 1.7l-2.3 .5zM1919.3 1384l-2.7 1.6l0-2.4zM1920.6 1386l-.3 2.1l-2-.7zM1929.7 1388.8l2.2-1l-.3 2.8zM1931.1 1385.5l-2 1l.3-2.6zM1933.3 1380.9l-.7 2.8l-1.9-1.8zM1937.5 1382.8l-2.6 1.1l.7-2.8zM1931.3 1394.6l-.2 2l-2.2-1.6zM1935 1402.3l-.9-2l1.8 .4zM1935.5 1398.2l1.8-.9l-.4 1.2zM1933.5 1396.6l.1-2l2.5 .6zM1851.8 1483.3l-1.5 .1l.6-1.9zM1807.6 1477.2l2.2 1.1l-2.3 .8zM1811 1476.3l-2-1l1.4-1zM1813.3 1476l-.6-2.1l2.1 .3zM1815.4 1477.1l1.5-1.9l1 1.6zM1731.2 1521.8l.9 2.1l-1.9-.6zM1715.9 1503.4l-2.6 1.1l.4-2.1zM1716.3 1507.1l-1.6-.7l2.1-.8zM1711 1504l-1.8-1.8l2.2-.2zM1707.3 1503.6l1.7 1.8l-2 0zM1707.8 1507.8l2.2-.1l-.7 2zM1711.1 1511.4l.7-1.7l.9 2.2zM1713.9 1508.6l1.6 .7l-.7 1.5zM1739.7 1453.2l2.4 .6l-2.2 1.3zM1735.4 1453.5l1.9-.4l.2 1.7zM1748.3 1458.4l1.8-1.3l-.3 1.7zM1746.5 1456.8l-.1-2l2.4 .4zM1748 1462.8l-.8-2.2l1.8 .4zM1743.1 1462.3l1.7-1.3l.9 2.5zM1744.1 1455.4l.1 2l-2.4-.7zM1742.9 1459.5l-1.5 1.2l-.6-1.8zM1732.5 1469.8l2.2 0l-1.1 1.6zM1734.5 1465.6l.7 1.9l-2.3-.1zM1736.9 1470.8l1.1 1.9l-2.3-.2zM1738.9 1469.6l1.9-.3l-.8 2.1zM1739.3 1467.2l1.2-1.9l.6 1.6zM1738.5 1464.1l-1.3 2l-.7-1.7zM1798 1475.9l1.9-.8l-.3 2.1zM1802.3 1474.9l1.8 .7l-2.1 1.4zM1667.6 1306.9l1.5 2.2l-2.4 .1zM1674.9 1309.5l-1.9-.3l.9-2.4zM1671.1 1307.7l-1.6-2.3l2.6-.3zM1600.4 1324.2l2.9 1l-2.2 2.3zM1603.1 1319.3l.7 3.6l-2.9-1zM1627.3 1304.7l-1.5 3.2l-3.2-1.9zM1623.6 1309.4l-4.4 1.6l1.1-3.7zM1631.9 1309.5l-3.9-.7l1.6-3.4zM1628.8 1311.3l3.3 .6l-1.6 2.1zM1741.5 1440.6l.9-1.9l1.1 2.2zM1740.4 1437.5l-.9 1.8l-1.3-1.7zM1737.3 1440.3l-2.5-.1l1.2-1.6zM1735.5 1442.6l2.3 0l-.7 1.6zM1743.9 1432.1l-1.3 1.8l-.9-1.8zM1748.1 1429.9l1-1.9l1.1 2zM1735.1 1460.8l-.7-1.8l2.1-.3zM1733.8 1456.7l-.1-1.5l1.9 1.2zM1732.3 1460.2l.7 1.8l-2.2-.2zM1730.3 1458.9l-1.5 1.7l-.9-2.1zM1731.3 1455l.1 1.7l-2.2-.4zM1727.4 1452.7l2.1 .6l-2.2 1.5zM1725 1452.5l0 1.8l-1.7-1.6zM1721.7 1448.9l1.7 1.4l-1.6 .2zM1725 1448.6l-2-1.7l1.9-.2zM1733.2 1445.8l.2-1.9l1.6 1.6zM1736.8 1449.2l-1.9-1.3l1.6-.3zM1733.2 1449.6l2.2 1.5l-2 .4zM1731.1 1443.6l-.3 2.1l-2-.7zM1729.2 1447.6l-1.9 1.4l-.1-2zM1728.9 1450.7l1.9-1.3l.2 1.9zM1759.8 1432.7l1.9 0l-1.3 2.1zM1757.8 1434.3l.7 2l-2-.2zM1754 1432.6l2 .1l-1.3 1.9zM1431.6 1394.5l-1.3-5.6l5 2.5zM1437.2 1397.6l-4-1.4l3.4-2.8zM1428.7 1399.5l-1 2.8l-2-.9zM1430 1402.8l1.1-3.1l1.5 3.1zM1433.2 1398.7l3.4 1.2l-1.8 2zM1425.9 1386.1l-7.3 1.8l1.2-6.6zM1416 1392.7l-.1 4.7l-3.3-.9zM1419.8 1404l-.9-3.1l2.6 1.1zM1416.6 1401.6l1 3.2l-2.7-.7zM1407.9 1391.3l1.1 4.5l-4.1-.4zM1400.4 1388.6l5.9 .8l-3.3 4.6zM1409.9 1389.9l4.9 .5l-3.7 4.3zM1407 1387.1l-6.2-.9l5.2-5.7zM1409.2 1386.2l-1-7l8 .8zM1416.2 1388.2l-5.1-.6l6.2-5.4zM1439.8 1338l9.3-6.5l2.4 10zM1447.9 1329.6l-9.6 6.6l0-13.6zM1451.7 1332.2l10.3 6.8l-8 2.7zM1452.8 1330.1l9.1-2.2l1.2 9zM1431.1 1374.1l-5.6-7.5l8.8-1.5zM1425 1364.3l2.8-10.6l6.3 9.1zM1412.9 1367.2l8.9-.2l-3.1 9.4zM1423.8 1368.3l5.6 7.5l-8.6 1.7zM1421.3 1364.7l-9.1 .2l1.8-11.4zM1425.8 1352.1l-2.8 10.8l-7.4-11.3zM1451.4 1394.5l-4.3-.2l1.2-4zM1454.2 1388.4l-1 4.6l-3.2-4.3zM1455.4 1393.9l.9-4.2l2.6 3zM1447.9 1396.7l4 .1l-1.6 3.2zM1453.8 1398.3l1.6 3.3l-3.1-.3zM1456.9 1395.9l3.2-1.1l.6 2.9zM1457.8 1401.2l-1.5-3l3.6 1.7zM1493.9 1333.1l-.4 5l-4.9-1.5zM1488.5 1345l4.6-2.9l-.6 3.6zM1491.8 1340.1l-5.2 3.4l.3-4.9zM1495.9 1338l.4-4.9l4.1 3.3zM1495.5 1341.8l3.4 2.6l-4 1zM1500.7 1342.8l-3.7-2.7l4.4-1.6zM1440 1401.8l2.2 1.7l-2 2.1zM1445.5 1402l.7-3.6l2.2 3.1zM1443.2 1401.3l-2.4-1.8l3.1-1.8zM2216.8 1388.9l7.2 3.1l-3.3 5zM2221.6 1382.1l2.2 7.3l-7.2-3.1zM2225.3 1394.2l2.2 7.7l-5.3-3zM2200.1 1460.4l1.2-1.9l1.8 1.9zM2201.8 1452.1l-1.1 2.5l-2-1.9zM2198.3 1455.6l-2.9 .1l1.1-1.9zM2196 1458l2.9-.1l-1.2 1.8zM2218.3 1466.8l-1.6 2.9l-1.9-2.5zM2223.2 1465.4l3.4-1.9l.2 3.5zM2224.1 1471.4l-1.4-3.7l3.3 1.6zM2220.3 1468.1l1.4 3.7l-3.1-.7zM2195.3 1463l-1.5 2l-.9-1.8zM2209.6 1465.6l-2.5 .4l0-2.2zM2213.6 1481.2l.1-2.3l2.3 .8zM2214.5 1476.7l1.8-2.3l.8 3.1zM2207.2 1433.8l-3.7 0l1.4-3.2zM2208.9 1432.2l-2.4-3.4l3.5-1.4zM2214.6 1433.1l-3.6 .5l1.1-4.9zM2203.7 1436.1l3.8 .1l-1.9 3.3zM2209.5 1437.3l2.4 4l-4.4-.4zM2211.4 1435.9l3.4-.4l-1.1 4.2zM2219.1 1448.3l-3 1.6l-.5-4.5zM2213.7 1449.3l-2.5-1.8l2-2.2zM2208.7 1488.9l2.3 .7l-1.4 1.4zM2211.7 1487.4l-2.3-.8l2.1-1.3zM2225.9 1503.5l1-2.4l1.1 2.2zM2223.7 1502.5l-1.7-2.2l2.9-.5zM1442.6 1354.6l4.5 8.4l-9-.4zM1443.1 1350.2l-4-9.9l11.6 3.4zM1429.7 1352.3l11 .9l-4.7 8.2zM1440.8 1350.8l-11.2-.8l7.2-9.2zM1463.7 1350.4l-7 3.2l-1.8-8.1zM1458.2 1355.5l6.6-3l-1.3 7.1zM1454.4 1353.7l-9.3-2.2l7.3-6.1zM1444.9 1353.9l9 2.1l-4.6 6.1zM1458.2 1371l3.5 4.4l-6.7 1zM1451 1366.6l5.4 2.7l-3.2 5.6zM1464 1374.5l-3.2-4.1l6.2 .9zM1460.4 1368l3.7-4.2l3 5.1zM1458.8 1366.2l-1.3-8.2l5.1 3.9zM1455.2 1358.2l1.3 8.6l-5.6-2.9zM1463.1 1324.4l-6.5-11.2l13.8 3.2zM1455.4 1309.2l-.2-14.6l13.1 5.1zM1471.3 1314.2l-14.3-3.3l12.8-9.4zM1452.5 1313.7l-3.3 13.9l-9.9-7.1zM1451.5 1328l3.2-13.4l6.4 11zM1424.6 1313.3l11.1-10.9l.2 16.1zM1453 1309.2l-13.6-9.3l13.5-5.3zM1438.1 1301.9l13.8 9.4l-13.6 7.1zM1434.3 1300.5l-11.3 11.1l-4.7-13.1zM1435 1298.2l-16.4-2l9.7-13.6zM1445.6 1277.8l-8.7 19l-6.7-15.7zM1452.5 1292.2l-13.4 5.3l8.5-18.3zM1435.9 1336.8l-11.9-3.8l11.9-10.1zM1423 1330.8l.6-15.3l11.3 5.1zM1421.3 1315.5l-.7 15.3l-10.7-10.2zM1419.3 1332.8l-14 3.3l3.2-13.6zM1405.8 1338.4l13.7-3.2l-6.4 12.9zM1421.4 1336.6l4.3 13.1l-10.5-.5zM1427.8 1348.5l-4.3-13.2l11.6 3.8zM1607.1 1328.6l-.3-2.5l2.5 .4zM1604.5 1327.3l.3 2.3l-2.1-.4zM1596.3 1327l1.9-2.1l.6 3.1zM1596 1331.5l-.3-2.2l2.3 .9zM1589.3 1327.2l2.6 .7l-2.1 1.8zM1593.4 1329.8l.3 2.2l-2.2-.6zM2044.1 1262.4l-1 2.4l-1.5-2.4zM2026.1 1289l1.4-2l1.2 2.2zM2029.6 1285.9l2.3-.1l-1.2 2.2zM2024.2 1281l1.3 2.3l-3-.4zM2025.6 1285.7l-1.5 2.2l-1.6-2.7zM2028.2 1277.4l-2.4 .2l.3-2.7zM2028.7 1279.7l-1.2 2.5l-1.2-2.3zM2029.5 1283.6l1.2-2.6l1.2 2.5zM1848.8 1321.6l1.8 5.3l-4.8-.3zM1850.2 1329.2l-2.1 3.5l-2.1-3.7zM1858.9 1327.2l-4.6-.1l3.2-5.4zM1852.6 1325.4l-1.9-5.5l5.2 0zM1854.3 1329.4l4.4 .1l-1.9 4.5zM1850 1334.2l2.2-3.7l2.6 4.5zM1857.2 1346.2l2.7-1.1l-1.3 3.1zM1851.4 1342.9l1.5 1.6l-2.9 .1zM1860.1 1342.5l-3.2 1.3l.8-4.3zM1854.7 1343l-1.6-1.8l2.2-1.7zM2125.1 1340.9l1.2-3l2.1 1.7zM2127.9 1336.2l3.2-1.7l-1.1 3.4zM2131 1331.9l-3.6 1.9l.7-4.4zM2125.1 1333.1l-1.5-1.9l2.1-1.5zM2116.6 1338.6l-1.3 1.7l-1.3-2zM2123.8 1335.3l-2.8 .7l1.2-2.8zM2117.4 1341.3l1.5-1.7l1.5 2zM2120.9 1338.4l3-.7l-1.2 3zM2115.6 1329.1l-1.2-2.3l2.6-.5zM2120.2 1330l-2.6 .3l1.5-2.9zM2113.3 1332.8l-1.4 1.9l-1.2-2.1zM2112.5 1328.1l1.1 2.4l-2.7-.2zM2115.4 1333.9l1.3 2.3l-2.8-.3zM2118.8 1335.1l-1.4-2.4l2.6-.3zM1962.9 1360.2l2.6-.3l-1.2 2zM1964.4 1355.8l1.2 1.7l-2.6 .3zM1967.8 1360.7l1.1 1.8l-2.3 .1zM1967.6 1356.3l-1.1-1.7l2.3-.3zM1894.9 1353.7l.3 4.4l-4-2.8zM1896.3 1363.3l.8 2.8l-2.8 .8zM1897.6 1358.5l-.3-4.6l4.4 2.4zM1904.3 1361.5l-4.7-1.4l3.8-2.1zM1898.4 1362.2l4.4 1.3l-3.5 1.8zM1907.2 1370.6l3.6-1.5l-1.4 2.9zM1906.9 1365l3.5 1.7l-4.2 1.8zM1912.1 1364.9l-3.6-1.7l3.7-2.3zM1916.3 1372.6l-1.2-3.7l3.5 1.4zM1913 1370l1.1 3.2l-2.4-.4zM1915.9 1366.6l3.6-2l.1 3.5zM1918.2 1362.6l-3.8 2.1l.2-4zM1875.2 1421.7l2.1 .8l-1.4 1zM1871.6 1424.4l1.3-2.1l.8 1.9zM1869.5 1428.1l1.3 2l-2.3 .1zM1869.1 1432.5l2.1-.1l-.6 1.9zM1876.7 1429.7l-2 .1l.9-2zM1872.6 1428.7l-1.2-2l2.1-.1zM1873.4 1433.4l1.8 1.9l-2.4 .1zM1875.5 1432.1l1.8-.1l-.2 1.8zM1853.7 1349.1l1.6-1.6l1.2 1.8zM1852.5 1346.9l-1.4 1.4l-1.1-1.3zM1909.1 1389.6l1 2.4l-2.9-.4zM1909.7 1394.3l-1.8 1.8l-1.1-2.2zM1910 1397.4l1.6-1.7l.7 2.1zM1912.2 1390.9l-1-2.2l2.3 .1zM1926.2 1402.1l1 1.7l-2.1 .2zM1922.3 1400.9l1.9 0l-1.1 1.9zM1924.9 1398.5l-1.5 0l1.5-1.4zM1929.1 1398l-1.8 .3l-.1-1.6zM1928 1400.6l2-.4l-1 2zM1920.6 1393.3l1-1.7l1.6 1.7zM1921 1397.6l-.7-1.9l2.7-.1zM1919.6 1390.3l-.9 1.6l-1-2.2zM1916.6 1393l-2.6-.4l1.4-2.4zM1918.2 1396.7l.6 1.8l-2.2-.1zM1913.8 1394.9l2.5 .4l-1.7 1.8zM1905.4 1416.6l2.4-.1l-.8 2zM1909.9 1417.7l1.2 1.7l-2 .1zM1910.6 1401.9l-1-2.2l2.4 .5zM1919 1404l1.2-1.9l.9 2zM1918.3 1400.8l-1.3 1.9l-1-2zM1914.8 1403.6l-2.3-.3l1.3-1.7zM1912.6 1405.7l2.3 .2l-1 1.8zM1920.1 1408.3l-1.2-2l2.2 .2zM1916.8 1407.4l1.1 1.9l-2.1-.2zM1891.5 1395.3l-2.1-.3l1.6-1.9zM1887.6 1393.5l-.8-2.3l2.6 .3zM1884.7 1392.2l.7 2.2l-2.1-.4zM1885.3 1396.7l-1.1 1.9l-1.1-2.3zM1889 1397.3l2.1 .3l-1.1 2.1zM1885.9 1400.4l1.1-1.9l.9 2.3zM1895.4 1381.5l-2 1.2l-.6-2.7zM1893.1 1388.9l.3-2.3l2.3 1.6zM1894.7 1384.7l2-1.3l.3 2.8zM1885.2 1385.4l-.6 2.1l-1.8-1.9zM1883.9 1381l1.1 2.1l-2.5 .2zM1886.6 1388.8l.7-2.2l1.8 2.5zM1889.4 1385.5l1.8 .1l-.3 2zM1887 1381.8l-1.2-2.3l2.9-.4zM1891.1 1383.3l-2.2-.2l1.6-2.5zM1876.6 1394l1.4-1.9l1.1 1.7zM1887.9 1444.4l.6-1.9l1.3 2zM1885.8 1443.5l-1.6-1.4l2.2-.6zM1883 1444.2l1.5 1.3l-1.5 1zM1853.7 1444l-.1-1.8l1.9 .2zM1832.4 1439.7l.5 2.1l-2.2-.5zM1837 1436.9l-2.1-.3l.8-1.8zM1834.7 1438.9l2.2 .4l-1.7 1.7zM1940.6 1379.3l-1.3 2.1l-1.7-1.7zM1939.6 1374.8l1.3 2l-3.2 .5zM1947.7 1376l-2.6 .3l1.5-2.6zM1942.8 1375.5l-1.2-1.9l2.7-.6zM1937.4 1371.6l-2.5-.1l.5-2.6zM1931.1 1372.3l-2.4 1l-.1-3zM1933.3 1367.6l-.6 2.9l-2.7-2.1zM1930.3 1375.1l2.3-.8l.6 2.4zM1934.9 1373.9l2.5 0l-1.9 2.4zM1946.2 1385.9l1.2 2.2l-2.1-.2zM1948.2 1384.5l1.9 .2l-.8 2zM1941.8 1384.4l2.5 0l-.9 2.2zM1942.9 1380l1.2 2l-2.5 0zM1950.1 1382.3l-2.1-.1l1.2-2.3zM1946.1 1380.8l-1.3-2.1l2.6-.3zM1935.3 1392.6l1.8-1.2l.6 1.8zM1934.2 1388.1l1.6 1.3l-1.8 1.3zM1939.8 1392.2l-.5-1.7l1.8-.2zM1939.4 1388.1l.6-2.2l1.4 2.1zM1937.1 1387.5l-1.6-1.3l2.3-1zM1863.6 1481.5l-2.1 .1l1.1-2.1zM1741 1448.3l-1.8 1.3l-.3-1.8zM1741.1 1451.2l2-1.5l.5 2.1zM1743.4 1445.1l-1.3-2.1l1.9 .3zM1739.9 1443.9l1.3 2l-2.1-.5zM1745.4 1446.7l.6-1.9l1.6 2.1zM1745.8 1451.1l-.5-2.1l2.3 .2zM1796.2 1470.8l-.9 2.4l-1.2-1.7zM1798.5 1471.3l1 1.5l-1.8 .7zM1794.4 1466.7l1.7 1.6l-2.2 .8zM1798.6 1465l-.8 1.8l-1.5-1.5zM1805.1 1464.3l-.3 1.9l-1.7-1.7zM1802.8 1467.5l-2.8 .1l.9-2zM1800.4 1469.9l2.4 0l-1.4 1.5zM1809.6 1466.7l-2.6 .5l.3-2.1zM1808.5 1469.3l2.4-.5l-.5 1.8zM1807.5 1473.4l-.4-2.3l1.9 1.3zM1803.3 1472.8l1.4-1.6l.4 2.3zM1594.8 1312.2l-5.1-1l3.7-4.3zM1598.2 1315.7l3.6 1.5l-2.4 2.8zM1616.6 1311.4l-3.1-1.2l4.2-2.3zM1612.2 1308.2l.8-5.1l4.3 2.4zM1635.6 1305l-1.5 3.5l-2.4-4.1zM1637.6 1301.9l-2.2-5.1l4.9 2.3zM1635.3 1302.5l-4.2-.6l2-4.5zM1643.9 1304.7l-4.5-1.3l2.6-2.7zM1634.3 1312.9l2.3 2.5l-3.9-.3zM1750.5 1435.7l1.4-1.9l.8 2zM1748.7 1434.2l-.8-2l2.1 .2zM1745.9 1433.4l.7 1.9l-2.1-.1zM1744.4 1437.5l2.1 .2l-1 2zM1751.4 1440.1l-1.1-2.1l2.2 .2zM1748.3 1439.3l1.1 2l-2-.1zM1755.1 1428.4l1.1 1.9l-2 0zM1701.5 1523.8l.6-1.8l1.6 1zM1705.1 1527.1l-2.4-1.2l2.5-.9zM1460.8 1407.2l-2 .6l-.1-2.3zM1429.2 1394.8l-3.7-1.4l2.5-3.8zM1423.4 1392.3l-3.4-2.3l5.9-1.5zM1424.9 1395.7l3.4 1.2l-3.6 2.4zM1419.5 1398.6l3-2.2l-.2 3.4zM1418.3 1391.7l3.4 2.3l-3.4 2.6zM1426.7 1404.5l-.9 1.6l-.7-2.4zM1423.6 1407.1l-2.4-1l1.6-2zM1454.8 1403.9l-2.3 2.3l-.6-2.6zM1456.4 1408l-2.1-.2l2-2.1zM2227.7 1393.9l6.4 3.7l-4.1 4.4zM2231.3 1404.1l3.9-4.3l1.5 7.7zM2199.8 1469.4l1.1 2.6l-2.5-.4zM2201.9 1468.2l2.1 .2l-1.1 2.3zM2198.3 1465.8l-2.2 .1l1.5-2zM2195.5 1468.3l2.3-.1l-1.2 2zM2200.5 1464.9l-.9-2.2l3.3 0zM2204.7 1466.1l-1.9-.1l1.9-1.8zM2209 1479.9l2.4-.9l-.1 2.3zM2207.7 1484.9l-.2-3.1l2.6 1.5zM2205.2 1482.4l.1 2.5l-1.7-1zM2203.8 1480.4l-1.7 1.7l-.8-2.1zM2202.7 1475.7l1.3 2.4l-2.6-.5zM2206 1469.8l1.2 2l-2.4 .3zM2207.3 1474.1l-1.2 2.9l-1.4-2.5zM2208.4 1477.6l1-2.5l1.3 1.7zM2209.1 1470.4l-1.3-2.1l2.6-.5zM2214.6 1470.9l-3.4 .4l1.5-2.9zM2212.6 1475.4l-1.3-1.7l2.9-.4zM2214.9 1462.1l2.8 2.4l-3.6 .4zM2212.6 1461.5l-.7 2.8l-3-2.1zM2041.2 1266.2l-2.3 0l.8-2.3zM2037.7 1262.6l-.9 2.6l-2-2.3zM2035 1266.8l-2.6 .6l.7-2.9zM2031.6 1272.1l-2.9-.6l1.7-1zM2032.1 1274.6l-1.5 1.9l-2.3-2.6zM2035.1 1269.2l-1 2.3l-1.3-1.8zM1890.4 1363l3.9-.9l-2.4 4.1zM1893.7 1359.8l-3.8 .9l.1-3.4zM1886 1365.7l2.3-1.7l1.3 2.8zM1887.6 1356.9l0 3.6l-4.3-1.6zM1886.3 1362.5l-2.4 1.8l-1.4-3.2zM1879.7 1417.9l2.2 .6l-1.5 1.5zM1875.6 1419.4l1.7-1.3l.7 2.1zM1875.5 1416.5l-1.6 1.2l-.5-2zM1883 1416.4l-2-.6l2.1-1.1zM1859 1437.2l2.5 .6l-2.2 1.5zM1855 1440l1.7-1.8l.3 1.9zM1858.7 1354.9l-2.2-.9l1.7-1.3zM1909.8 1408.7l.8-1.9l1.2 2zM1910.1 1412.8l-.4-1.7l1.8 0zM1905.2 1411.3l-1.2 1.4l-.1-1.3zM1907.5 1412.2l.5 1.9l-2.3 .2zM1900.5 1407l2-.8l-.5 2zM1902.5 1403.6l-2 .9l1.1-2.6zM1904.7 1407l1.3 1.8l-1.8 .2zM1907.8 1407.3l-1.3-1.9l2.1 0zM1905.4 1399.7l-1.2 2.1l-.9-1.7zM1908.5 1403l-2.3 0l1.3-2.3zM1886.3 1451.6l-1.6 1.5l-.9-2.3zM1885.8 1447.4l.7 1.8l-2.2-.7zM1890.2 1452.8l2 .4l-1.4 1.6zM1886.4 1454.7l1.5-1.4l.6 2.1zM1892.5 1450.9l-2.1-.5l1.3-2zM1888.8 1448.6l-.7-1.8l1.8 0zM1847.5 1444.1l1.9 1.4l-1.8 .1zM1849.3 1442.4l1.9-.2l.1 1.8zM1845.1 1443.4l.2 1.8l-2.1-.7zM1840.8 1440.4l2.7 1.2l-2.3 1.3zM1850.4 1427.3l1.1 1.9l-2.3 0zM1859.5 1424.5l1.2-1.9l.9 1.7zM1852.7 1426.6l2.3 .3l-1.3 1.4zM1855.2 1424.5l-2.3-.3l1.4-1.5zM1839.5 1433.1l-.6 2.3l-1.3-2.1zM1854.6 1479.1l-1.1 2.4l-1.1-2.1zM1856.7 1480.3l1 1.7l-2.1 .5zM1853.3 1475l1.2 1.8l-2 .2zM1859.4 1480.4l-1-1.7l2.1-.3zM1860.7 1476l-2.2 .3l1-2.3zM1856.3 1475.3l-1.2-1.9l2.3-.4zM1662.9 1311.8l-1 2.1l-1.1-2zM1594.4 1314.5l-2.5 3.1l-2.2-4zM1589.5 1320.8l-1.8 2.7l-2.1-2.9zM1587.4 1314.4l2.3 4.1l-4.6-.2zM1593.6 1319.2l2.4-2.9l1.1 4.3zM1591.4 1322.4l1.1 3.3l-2.8-.9zM1594.8 1325.2l-1.2-3.4l3.2 1.2zM1609.3 1313.1l-.1 3.9l-3.1-.9zM1607.6 1323.9l2.1-2.6l.6 3zM1608.3 1319.2l-2.3 2.8l-.7-3.6zM1611.6 1316l.1-4l3.3 1.3zM1609.5 1301.6l-5.2 3.8l-.2-5.5zM1609.7 1308.8l-4-1.5l4.8-3.5zM1602 1306l-5.5-1.9l5.2-3.7zM1600.9 1308.1l-3.8 3.4l-1.4-5.2zM1598.6 1313.3l3.6-3.2l.3 4.8zM1604.5 1309.4l3.9 1.4l-3.6 3.4zM1641.6 1308.8l-1.8-2.8l3.9 1.1zM1637.4 1306.6l1.9 3l-3.2 .2zM1639.7 1311.9l-.7 2.6l-2.2-2.4zM1636.5 1317.7l-1.5 1.3l-1.5-1.5zM1624.1 1323.4l2.1-.2l-1.1 1.9zM1632.5 1319.8l-2.4 .5l.8-2.1zM1624 1311.7l-1.3 2.7l-2.5-1.3zM1625.1 1314.9l1.4-2.8l1.8 2.8zM1627.9 1319.6l-2-2.4l2.9 0zM1624 1318.7l1.9 2.2l-2.3 .2zM1620.6 1326.1l1.4-1.7l1 1.8zM1615.2 1327.8l-2.2 1.4l0-1.9zM1460.7 1411.8l-1.2-1.7l2-.6zM1443.5 1405.6l.7 2.3l-2.6-.4zM1443.8 1410.2l-1.2 1.8l-1.3-2.2zM1446.2 1406.6l-.7-2.2l2.5-.5zM1450.4 1407.6l-2.2 .3l1.7-2.6zM1447.7 1410.3l2.1-.3l-1 2.2zM2233.7 1387l.8 8.2l-6.6-3.9zM2235 1381.8l-2.2-7.4l7.2-1.8zM2232.9 1382.8l-8.2-3.1l6-4.3zM2232.3 1385.1l-6 4.4l-2.3-7.5zM2171.8 1425.7l-1.9 .7l.6-1.4zM2209.2 1457.5l2.3 1.8l-3.5 .7zM2213.3 1457.7l-2.5-2l2.9-1.7zM2203.6 1457.5l3.2-.4l-1.2 2.4zM2206.3 1454.8l-3.3 .4l1.1-2.6zM2208.1 1449.7l-.3 3.3l-2.1-2.1zM2213 1451.7l-2.9 1.7l.3-3.5zM2221.8 1463.4l.3-4.1l3.3 2.2zM2216.4 1460.4l3.4-1.4l-.3 4zM2226.7 1459.5l-3.4-2.2l3.6-1.9zM2218.9 1456.8l-3.3 1.4l.4-4zM2222.3 1455.2l.1-4.5l3.6 2.5zM2219.9 1454.6l-2.8-2.5l2.9-1.6zM2032.7 1279.8l2.7 .5l-1.4 2zM2034.1 1275.9l1.1 2l-2.4-.4zM2038.5 1274.7l-1.2 2.2l-1.1-2zM2038.6 1272.4l-2.4 .1l1.1-2.4zM1877.3 1412.8l-.3 1.7l-2.1-.7zM1879.4 1414l.3-1.6l1.7 .5zM1881.8 1410.6l2-1.1l-.3 1.6zM1882.5 1407.6l-2.4 1.2l.1-2zM1869.1 1421l1.9 0l-1.3 1.9zM1867.1 1422.4l.6 2l-2-.1zM1871.7 1418.6l-1.9 0l1.4-1.9zM1862.7 1421.3l2.4-.1l-1.5 1.9zM1855.2 1434.5l-2.3-.1l.9-1.8zM1852.5 1436.8l2.3 0l-1.8 1.8zM1851.7 1431.5l-.9 1.9l-1.4-1.9zM1848.8 1440.1l1.6-2l.5 1.8zM1864.1 1434.5l-1.2-2.1l2 .1zM1859.5 1434.9l1.2-1.7l1.2 2.2zM1864.6 1430.1l-2.1-.1l1-2.1zM1860.6 1428.7l-1.3-1.8l2.2-.2zM1858.6 1432l-1.1 1.6l-1.4-1.8zM1857.1 1427.9l1.2 1.7l-2.4-.2zM1846.1 1426.4l2.1-.1l-1.1 1.8zM1843.1 1430l1.1-2.2l1 1.7zM1844.1 1437.8l.4 1.7l-2.1-1zM1841.6 1434.2l1.4 1.6l-2 .7zM1844.5 1434l-1.3-1.6l2-.4zM1848.8 1434.7l-2.1 .2l.7-2.1zM1846.4 1437.3l1.9-.2l-1.5 1.8zM1615.4 1318.8l-2.6-.7l3-2.4zM1620.9 1316.1l-3 1.9l.4-3.2zM1619.1 1320l2.6-1.6l-.4 2.4zM1611.8 1320.2l2.5 .8l-1.9 2.2zM1615.8 1322.8l.7 2.9l-2.6-.6zM1618.7 1324.7l-.6-2.5l2.1 .7zM1641.9 1312.8l1.9 1.8l-2.5 .6zM1650.4 1317.3l-2-1.8l1.7-.8zM1647.4 1313.4l0-3.4l1.9 2.5zM1645 1312.5l-1.9-1.9l1.9-1.6zM1631.5 1324.3l-1.2-1.7l2.4-.4zM1454.8 1412.2l-1-2.1l2 .2zM1434 1408.1l1-2.2l1.7 1.6zM1431.8 1407.2l-1.3-2.1l2.3 0zM1429.8 1408.3l-2.5-.2l1.1-1.9zM1639.5 1320.7l-2.1-.6l1.5-1.3zM1645.1 1316.7l0 2.1l-2.5-1.5z" fill="#fff"/>
<path d="M1375.9 1645.2l3.8-.4l7.6-.7l4.5-2.3l1.5-3.8l1.7-4.2l1.9-4.5l1.3-3.8l.8-3l-.2-3l-1.1-3.1l-1.7-2.2l-2.3-1.5l-1.5-1.9l-.8-2.3l0-3l.8-3.8l.9-3.4l1.2-3l1.9-2.5l2.6-1.9l2.1-2.1l1.5-2.2l1.9-2.5l2.3-2.7l2.2-2.8l2.3-3l2.6-2.7l3.1-2.2l3-1.2l3 0l2.7 .4l2.2 .8l2.3 0l2.3-.8l2.3-1l2.2-1.4l2.7-.8l3-.3l2.5 .3l1.8 .9l1.6 1.9l1.1 3.1l.9 3l.8 3l.2 2.7l-.4 2.2l-1.1 1.4l-1.9 .3l-1.3 1.5l-.8 2.7l-.6 2.6l-.6 2.7l.4 1.7l1.3 .7l1.8 0l2.2-.7l2.1 .4l1.9 1.5l1.9 1.9l1.9 2.2l1.2 .6l.5-1.1l.2-2.5l-.1-3.8l0-3.7l.1-3.8l.4-3.8l.6-3.8l1.1-3.2l1.5-2.7l1.5-1.4l1.5-.2l.6 .9l-.4 2.1l.2 1.9l.7 1.5l1.9 .5l3.1-.3l3-.4l3-.4l2.7 .2l2.2 .7l1.9-.3l1.5-1.5l1.2 0l.7 1.5l0 1.9l-.7 2.2l-1.5 1.5l-2.3 .8l-1.5 1.5l-.8 2.3l0 3l.8 3.8l1.1 3.4l1.5 3l1.7 3l1.9 3.1l1.5 3l1.2 3l.9 3.4l.8 3.8l.3 3.8l-.2 3.8l.1 2.8l.3 1.9l.6-.7l1-3.5l.6-4.7l.3-6l0-5.3l-.3-4.6l-.7-3.8l-1.1-3l-.9-3.4l-.6-3.8l.4-3.2l1.4-2.6l1.8-2.7l2.3-2.6l1.7-2.9l1.1-3l1.1-2.6l1.2-2.3l1.1-1.5l1.1-.8l.6-2.2l0-3.8l.2-3.8l.4-3.8l.7-3.8l1.2-3.8l1.5-3.6l1.9-3.4l2-2.8l2.3-2.3l2.1-2.2l1.9-2.3l2.3-1.9l2.6-1.5l2.5-1.9l2.2-2.3l2.3-2.8l2.3-3.4l1.9-2.7l1.5-1.8l1.9-1.6l2.2-1.1l2.1-2.3l1.9-3.4l1.9-1.3l1.9 .8l2.5 1.1l3 1.5l3 1l3 .3l2.5 1.4l1.9 2.2l1.9 2.1l1.9 1.9l1.9 .9l1.8 0l1.3-1.3l.5-2.6l0-3.2l-.5-3.8l-.9-3.2l-1.1-2.7l-2.1-1.7l-3-.7l-3-1l-3.1-1.1l-2.2-1.7l-1.6-2.3l-.3-2.6l.7-3.1l1.2-2.4l1.5-1.9l1.9-.6l2.2 .8l2.7-1.4l3-3.4l2.3-3.9l1.5-4.6l1.1-4.5l.8-4.6l2.6-2.8l4.6-1.1l3.8-1.2l3-1.1l2.6-.2l2.3 .8l2.6 1.5l3.1 2.3l3 .3l3-1.5l2.5 .8l1.9 3l1.5 4.9l1.1 6.8l.2 6.1l-.7 5.3l-.2 5.7l.3 6l-.3 4.9l-1.2 3.8l-1.7 3.4l-2.2 3l-2.3 2.1l-2.3 1.2l-2.6 .7l-3.1 .4l-2 1.7l-1.2 3l-.7 3.4l-.4 3.8l.2 3.8l.7 3.8l1.2 3.2l1.5 2.6l1.9 1.5l2.2 .4l2.7 0l3-.4l2.7 .8l2.2 1.9l1.7 2.5l1.2 3l1.3 2.6l1.5 2.3l2.1 .8l2.6-.8l3.3-1.5l3.7-2.3l1.7 .8l-.3 3.8l-.4 4.9l-.4 6l-.6 5.7l-.7 5.3l-1.1 4.5l-1.6 3.8l-1.5 3.4l-1.5 3l-.9 3.4l-.4 3.8l.4 3.1l1.1 2.2l.9-.4l.8-3l.8-3.4l.7-3.8l1.9-3.7l3-3.8l3.1-3.1l3-2.2l1.5-1.2l7.2 19.2l.8-2.3l1.9-1.9l3-1.5l3.8-3.8l4.5-6l7.2-4l9.8-1.9l6.9-2.3l3.7-2.6l4.6-2.1l5.3-1.5l4.9-1.2l4.5-.7l4.6-1.9l4.5-3l4.2-3.4l3.8-3.8l3-2.5l2.3-1.1l2.2 0l2.3 1.1l1.5-.2l.8-1.5l2.2-.9l3.8-.4l2.8-1.5l1.9-2.7l1.6-.5l1.1 1.5l1.3 2.1l1.5 2.6l2.3 1.5l3 .4l3 0l3.1-.4l1.7 1.2l.4 2.6l-1.2 1.7l-2.6 .8l-2.3 1.5l-1.9 2.3l-1.1 2.2l-.4 2.3l.6 1.7l1.5 1.1l2.2 1.2l3.1 1.1l2.6 1.1l2.3 1.2l.7-1.2l-.7-3.4l-1.1-3.2l-1.6-3l.4-1.9l2.3-.8l2.6-.7l3.1-.8l2.6-1.9l2.3-3l2.3-4.2l2.2-5.2l2.1-5.3l1.9-5.3l1.5-5.3l1.1-5.3l.9-6.5l.6-7.5l.4-7.6l.1-7.6l-.1-7.5l-.3-7.6l-.4-6.8l-.4-6.1l-.6-5.6l-.7-5.3l.2-4.2l1.1-3l.8-3.8l.6-4.5l.5-4.6l.4-4.5l.5 0l.6 4.5l.4 5.3l.2 6.1l.1 6l.2 6.1l.2 6.4l.4 6.8l.6 7.2l.7 7.6l.8 7.5l.8 7.6l.9 6.4l1.1 5.3l1.7 5l2.3 4.5l2.7 3.8l3 3l3 2.1l3 1.1l3.8 .2l4.6-.8l4.5 .2l4.5 1.2l4.2 .2l3.8-.8l3.8-1.1l3.7-1.5l2.7-1.6l1.5-1.5l2.3 0l3 1.5l3 0l3.1-1.5l2.6-1.9l2.3-2.2l3-1.7l3.8-1.2l4.1-.3l4.6 .3l4.5-.3l4.6-1.2l4.5-.2l4.5 .8l3.8 .2l3-.4l3.4-1.3l3.8-2.3l3.4-2.3l3.1-2.2l1.9-2.7l.7-3l1.1-2.7l1.6-2.2l1.8 0l2.3 2.2l.8 2.3l-.8 2.3l-.4 1.1l4.1 4l1.9 .3l3.7 .8l3.8 1.1l3.8 1.5l4.2 .4l4.5-.7l3.4-1.5l2.3-2.3l2.2-3.4l2.3-4.6l2.1-4.5l1.9-4.5l1.3-4.6l.8-4.5l.5-4.6l.4-4.5l1-2.6l1.5-.8l1.5 1.1l1.5 3.1l1.9 2.4l2.3 1.9l2 0l1.9-1.9l1.2-1.9l.3-1.9l1.4-.5l2.2 .7l1.9-.2l1.5-1.1l.9-3.6l.2-6l.2-6.9l.2-7.5l.1-3.8l-.7 1.9l.5-1.8l1-3.5l1.3-2.2l1.4-1.1l1.7 1.1l2.1 3.1l1.4 4l.7 4.9l1.4 4.5l2.1 4.2l1 2.1l-4.1-11.1l.9 1.8l1.9 3.8l1.7 3.8l1.5 3.8l.6 3.8l-.4 3.8l-1.1 2.8l-1.9 1.9l-1.3 3l-.8 4.2l.2 3.9l1.2 3.8l.7 3.8l.4 3.8l-.2 3.2l-.8 2.7l-1.7 1.5l-2.6 .3l-2.1 1l-1.5 1.5l-1.5 3l-1.5 4.6l-.2 4.5l1.1 4.6l.8 4.1l.4 3.8l0 4l-.4 4.1l.7 3.1l1.9 1.8l1.7 2.9l1.5 3.8l1.4 4.1l1.1 4.6l1.5 3.7l1.9 3.1l1.5 3.4l1.1 3.8l.8 3.7l.4 3.8l0 3.8l-.4 3.8l-.6 3.8l-.7 3.8l.2 3.4l1.1 3l1.3 2.4l1.5 1.9l1 3.1l.4 4.1l-.2 4l-.8 3.8l-.4 4.1l-.2 4.6l.2 4.5l.5 4.6l.3 4.5l0 4.5l.6 4.2l1.1 3.8l1.5 3.8l1.9 3.7l1.5 4.2l1.2 4.5l.9 4.1l.8 3.5l.3 1.8l0 60.5l-701.1 0zM2051.8 1690.1l-.4-2.5l-.7-5.1l-1.2-4l-1.5-3l-1.3-3.5l-1.1-3.7l-1.4-3.4l-1.5-3.1l-1.9-1.9l-2.2-.7l-1.9-2.3l-1.5-3.8l-1.6-3.8l-1.5-3.7l-1.1-3.8l-.8-3.8l-.3-4.5l0-5.3l-.2-5l-.4-4.5l-.6-4l-.7-3.4l-1.2-2l-1.5-.8l-1.3-1.7l-1.1-2.7l-.2-2.8l.7-3l1.4-1.9l1.8-.8l1.6-1.9l1.1-3l1.1-3.8l1.2-4.5l1.1-4.5l1.1-4.6l1-4.5l.7-4.6l0-4.1l-.7-3.8l-.8-3.8l-.7-3.8l-1.2-2.4l-1.5-1.2l-1.9-.3l-2.2 .3l-1.9-.9l-1.5-2.3l-1.2-2.6l-.7-3.1l-.8-2.8l-.7-2.6l-1-.4l-1.1 1.9l-1 2.1l-.7 2.2l-1 .8l-1.1-.8l-.8-2.2l-.3-3.8l-.2-4.6l0-5.3l.2-4.5l.3-3.8l1-2.1l1.5-.3l1.3 1.1l1.1 2.6l1.6 1.6l1.9 .3l.5-1.1l-.7-2.7l-.4-3.2l0-3.8l.6-3.4l1.1-3l.9-3l.8-3l1.1-3.2l1.5-3.5l1.6-1.5l1.5 .4l.2 1.7l-1.2 3l-.9 3.4l-.8 3.8l.2 2.1l1.1 .4l1.2-1.1l1.1-2.7l1.3-3.6l1.5-4.5l1.7-4.2l1.9-3.8l2.3-2.1l2.7-.3l.9 1.5l-.8 3.4l-1.1 4.3l-1.5 5.3l-1.5 4.9l-1.5 4.6l-1.5 4.1l-1.6 3.8l.4 1.2l2.3-1.5l2.3-2.7l2.2-3.8l1.9-4.1l1.5-4.6l1.4-4.9l1.1-5.3l.8-5.3l.3-5.3l.6-5.3l.8-5.3l.5-4.9l.4-4.5l.8-7.1l1.1-9.5l.9-8.2l.7-7l.9-6.6l1-6.2l2-3.7l2.7-1l3.2-.4l3.4 .4l3.2 1.2l2.8 2.1l1.5 2.8l.4 3.4l1 3.5l1.8 3.5l.8 3.5l0 3.5l-1.4 2.7l-2.7 2.1l-1.6 2.1l-.4 2.1l.7 2.4l1.8 2.8l2.2 1.9l2.8 1.1l2.6 0l2.5-1.1l1 1.6l-.3 4.2l-.3 4.2l-.1 4.3l.4 4.1l.7 3.8l1 3.7l1.1 3.8l.6 3.8l0 3.8l-.4 3.4l-.8 3l0 3l.8 3.1l1.1 2.2l1.5 1.5l1.4 0l1.1-1.5l.6-2.6l0-3.8l.3-3.8l.8-3.8l.6-4.1l.4-4.6l.5-4.5l.8-4.5l.9-3.8l1.2-3l1.5-1.4l1.9 .4l1.5-1.1l1.1-2.7l.4-2.6l-.4-2.5l.1-4.8l.7-6.9l1.1-5.6l1.4-4.2l1.5-1.4l1.8 1.4l1.9 2.5l2.1 3.4l2.1 3.2l2 2.8l2.5 1.7l2.8 .7l2.4 1.7l2.1 2.8l1.7 3.5l1.4 4.2l2.3 4.1l3.1 4l3.5 2.8l3.8 1.5l3.2 1.3l2.7 1.2l1.8 2.4l1.2 3.8l1.7 3.6l2.3 3.4l2.2 2.1l2.3 .8l2.5 .1l2.6-.3l2.3 1.3l1.9 3l1.9 3.4l1.8 3.8l1.7 3.8l1.6 3.8l1.3 4.1l1.1 4.6l1 3.7l.7 3.1l1 1.7l1.1 .4l.8-1.6l.3-3.4l0-3.2l-.3-3l.7-.6l1.9 1.9l2.1 2.7l2.3 3.4l2.6 4.3l3 5.3l3.1 5.1l3 4.9l2.6 5.3l2.3 5.7l1.9 5.1l1.5 4.6l1.7 4.1l1.9 3.8l2.1 3.2l2.2 2.7l2.5 1.7l2.7 .7l2.6 0l2.7-.7l4.9-.6l7.2-.4l3.5-.2l47.3 181.1l-243.2 0zM1514.8 1400.6l.7-1.4l1.5-2.9l1.6-3.2l1.8-3.6l1.8-4.3l1.8-5l1.2-4.7l.7-4.3l1.1-3.9l1.5-3.6l2.1-3.6l2.9-3.6l3.2-3l3.6-2.5l4.3-2.4l5-2.1l5.4-1.6l5.7-1.1l5.4-1.2l5-1.5l5.4-.9l5.7-.3l5.4-.4l5-.4l4.7-.8l4.3-1.5l5-1.6l5.8-1.8l5.7-1.4l5.7-1.1l5.8-.5l5.7 0l5.7-.4l5.8-.7l5.7 0l5.8 .7l5.3 1.1l5.1 1.4l4.6 1.4l4.3 1.5l4.3 .3l4.3-.7l4-1.1l3.6-1.4l2.9-1.8l2.2-2.1l1.1-1.1l-8.1 5.7l3.8-3l3.8-2.5l3.7-1.9l3.8-1.3l3.8-.7l3.8 .5l3.8 1.9l4.1 1.5l4.6 1.2l4.5 .9l4.5 .8l4.6 .7l4.5 .8l3.4 .2l2.3-.4l.9-2.1l-.3-3.8l.7-2.2l1.9-.8l1.9 .2l1.9 1.1l.9 3.1l0 4.9l-.1 5.5l-.4 6l-.4 6.1l-.4 6l-.9 3.8l-1.5 1.5l-1.2-.7l-.7-3.1l-.4-4.5l0-6.1l-1-3.6l-1.8-1.1l-2.9-1.1l-3.8-1.2l-4.1-1.1l-4.6-1.1l-4.5-.8l-4.5-.4l-5-.2l-5.3 0l-5.3 .2l-5.2 .4l-4.6 .8l-3.8 1.1l-3 1l-2.3 .7l-1.7 1.5l-1.1 2.3l0 2.1l1.1 1.9l2.1 1.9l3 1.8l3.1 .2l3-1.5l3.8-1.9l4.5-2.2l1.7 1.5l-1.1 5.3l-1 6.4l-.7 7.6l-1 7.5l-1.1 7.6l-1.3 7.6l-1.5 7.5l-1.9 7.6l-2.3 7.6l-2.3 7.5l-2.2 7.6l-1.9 5.7l-1.5 3.7l-.8 1.9l-.5 4.8l-1.9 .9l-3.9 2l-4.8 3.8l-5.8 5.8l-6.7 5.8l-7.7 5.8l-7.2 4.8l-6.8 3.8l-3.8 8.7l-1 13.5l-1 11.6l-.9 9.6l-1 8.7l-1 7.7l-5.3 3.9l-9.6 0l-5-3.9l-.4-7.7l1.5-5.8l3.2-3.8l2.1-5.8l1-7.7l0-7.8l-1-7.7l-1.9-7.7l-2.9-7.7l-1.9-6.7l-1-5.8l-1.9-5.8l-2.9-5.8l-4.3-5.3l-5.8-4.8l-5.8-5.8l-5.8-6.7l-5.3-7.2l-4.8-7.8l-2.4-3.8l19.3 27.3l-1.7-2.2l-3.6-4.3l-3.3-4.3l-2.8-4.3l-2.9-3.9l-2.9-3.6l-2.8-3.2l-2.9-2.9l-2.2-3.6l-1.4-4.3l-1.1-3.9l-.7-3.6l-.7-4.3l-.7-5l-1.1-4.7l-1.4-4.3l-.6-3.6l.4-2.8l.9-3.3l1.4-3.6l.6-3.9l-.4-4.3l-1.6-2l-2.9 .4l-3.2 .3l-3.6 .4l-3.6 1.3l-3.6 2.1l-3.2 2.5l-2.9 2.9l-2.5 3.2l-2.1 3.6l-1.3 3.9l-.3 4.3l-.7 4l-1.1 3.6l-2 2.8l-2.9 2.2l-2.8 2.9l-2.9 3.5l-1.4 1.8zM1771.7 1375.6l2.3 .9l4.5 1.9l2.7-.7l.7-3.4l2.3 .9l3.8 5.3l3.8 5.7l3.7 6l3.4 4.9l2.8 3.8l1.2 4.6l-.6 5.3l-.9 5.6l-1.1 6.1l-1.2 6l-1.1 6.1l-1.3 3.2l-1.5 .4l-2.3 .4l-3 .3l-2.7-.1l-2.3-.8l-2.2-3.4l-2.3-6.1l-2.1-6.8l-1.9-7.5l-1.5-8l-1.1-8.3l-1-8.7l-.7-9.1l-.4-4.5zM1712.7 1310.5l-.8-2.6l-1.5-5.3l-.5-6.1l.3-6.8l.8-6.4l1.1-6.1l2.5-4.9l3.8-3.8l4.1-2.3l4.6-.9l4.5 .4l4.5 1.6l3.8 2.2l3.1 2.6l.7 2.5l-1.5 2.3l-1.9 .5l-2.3-1.1l-1.5 .9l-.7 3.1l-1.5 2.2l-2.3 1.5l-1.9 3.4l-1.5 5.3l-1.2 5.3l-.7 5.3l-1.3 1.9l-1.9-1.5l-1.5-3l-1.2-4.6l-.2-3.7l.8-3.1l-.6-1.5l-1.9 0l-1.5 1.9l-1.1 3.8l-1 3.8l-.7 3.8l-.2 3.7l.4 3.8l-.4 1.9l-1.1 0l-.6 0zM1375.7 1377.7l3.7-.4l7.3-.7l5.3-1.1l3.5-1.4l4.6-1.1l5.7-.7l5.4 .4l5 1.4l5 1.8l5.1 2.2l4.6 2.1l4.3 2.2l4.3 2.5l4.3 2.8l4.7 2.7l5 2.5l4.7 3.3l4.3 3.9l3.9 3.8l3.6 3.6l3.2 3.2l2.9 2.9l2.9 2.5l2.8 2.1l2.9 1.8l2.9 1.4l3.2 1.5l3.6 1.4l2.9 2.2l2.1 2.8l2.5 2l2.9 1.1l3.6 .2l4.3-.8l3.9-.5l3.6-.4l2.9 .6l2.1 1.4l1.1 .7l-1.4 .7l-2.9 1.5l-3.6 1.2l-4.3 1.1l-4.3 .7l-4.3 .4l-3.2-.5l-2.2-1.5l-2.1-2.1l-2.2-2.9l-2.5-2.2l-2.9-1.4l-3.2-1.1l-3.6-.7l-3.2-1.6l-2.9-2.5l-2.8-2.9l-2.9-3.2l-2.9-3.4l-2.8-3.6l-3.6-3.6l-4.3-3.6l-4.3-3l-4.3-2.5l-4.7-2.5l-5-2.5l-5-2.4l-5.1-2.1l-5-2.2l-5-2.1l-5.4-1.6l-5.7-1.1l-5.4-.7l-5-.4l-3.2 .5l-1.5 1.5l-1.3 2.8l-1.3 4.4l-4.3 2.5l-7.3 .7l-3.7 .3zM1989.2 1298l1.8-1.5l3.5-3.2l4.1-3.6l4.9-4.2l4.9-4.2l4.9-4.2l4.8-4.1l4.9-4.2l4.9-3.5l4.8-2.8l4.6-2.2l4.1-1.8l2.1-.8l0 .9l-2.8 1.7l-5.5 3.3l-4.5 3.1l-3.5 2.8l-2.3 2.9l-1 3.2l-1.8 1.4l-2.4-.4l-3 1.9l-3.4 4.2l-2.8 3.8l-2.1 3.5l-1.8 1.8l-1.4 0l-1.3 .8l-1.4 1.8l-2.1 .7l-2.8-.4l-3.1 .7l-3.5 1.8l-1.8 .8zM1687.7 1343.3l1.2-.7l2.5-1.5l3.4-1.1l4.3-.7l2.2 3.6l0 7.9l-1.4 3.9l-2.9 0l-2.9-1l-2.9-2.2l-1.9-2.9l-1.1-3.5l-.5-1.8zM1779.3 1303l1.9 1.8l3.7 3.8l4.2 3.8l4.5 3.8l4.6 3.6l4.5 3.4l4.6 3l4.5 2.7l5.3 2.4l6.1 2.3l3 1.1l0 1.2l-1.5 .5l-3.1 .9l-3-.3l-3-1.5l-3-2.3l-3.1-3l-3.4-2.7l-3.8-2.2l-3.4-1l-3 .4l-2.3-.7l-1.5-1.9l-1.9-2.9l-2.2-3.8l-2.7-3.7l-3-3.8l-1.5-1.9z" fill="#fff"/>
</g>
<defs><clipPath id="landclipd"><path d="M1375.9 1645.2l3.8-.4l7.6-.7l4.5-2.3l1.5-3.8l1.7-4.2l1.9-4.5l1.3-3.8l.8-3l-.2-3l-1.1-3.1l-1.7-2.2l-2.3-1.5l-1.5-1.9l-.8-2.3l0-3l.8-3.8l.9-3.4l1.2-3l1.9-2.5l2.6-1.9l2.1-2.1l1.5-2.2l1.9-2.5l2.3-2.7l2.2-2.8l2.3-3l2.6-2.7l3.1-2.2l3-1.2l3 0l2.7 .4l2.2 .8l2.3 0l2.3-.8l2.3-1l2.2-1.4l2.7-.8l3-.3l2.5 .3l1.8 .9l1.6 1.9l1.1 3.1l.9 3l.8 3l.2 2.7l-.4 2.2l-1.1 1.4l-1.9 .3l-1.3 1.5l-.8 2.7l-.6 2.6l-.6 2.7l.4 1.7l1.3 .7l1.8 0l2.2-.7l2.1 .4l1.9 1.5l1.9 1.9l1.9 2.2l1.2 .6l.5-1.1l.2-2.5l-.1-3.8l0-3.7l.1-3.8l.4-3.8l.6-3.8l1.1-3.2l1.5-2.7l1.5-1.4l1.5-.2l.6 .9l-.4 2.1l.2 1.9l.7 1.5l1.9 .5l3.1-.3l3-.4l3-.4l2.7 .2l2.2 .7l1.9-.3l1.5-1.5l1.2 0l.7 1.5l0 1.9l-.7 2.2l-1.5 1.5l-2.3 .8l-1.5 1.5l-.8 2.3l0 3l.8 3.8l1.1 3.4l1.5 3l1.7 3l1.9 3.1l1.5 3l1.2 3l.9 3.4l.8 3.8l.3 3.8l-.2 3.8l.1 2.8l.3 1.9l.6-.7l1-3.5l.6-4.7l.3-6l0-5.3l-.3-4.6l-.7-3.8l-1.1-3l-.9-3.4l-.6-3.8l.4-3.2l1.4-2.6l1.8-2.7l2.3-2.6l1.7-2.9l1.1-3l1.1-2.6l1.2-2.3l1.1-1.5l1.1-.8l.6-2.2l0-3.8l.2-3.8l.4-3.8l.7-3.8l1.2-3.8l1.5-3.6l1.9-3.4l2-2.8l2.3-2.3l2.1-2.2l1.9-2.3l2.3-1.9l2.6-1.5l2.5-1.9l2.2-2.3l2.3-2.8l2.3-3.4l1.9-2.7l1.5-1.8l1.9-1.6l2.2-1.1l2.1-2.3l1.9-3.4l1.9-1.3l1.9 .8l2.5 1.1l3 1.5l3 1l3 .3l2.5 1.4l1.9 2.2l1.9 2.1l1.9 1.9l1.9 .9l1.8 0l1.3-1.3l.5-2.6l0-3.2l-.5-3.8l-.9-3.2l-1.1-2.7l-2.1-1.7l-3-.7l-3-1l-3.1-1.1l-2.2-1.7l-1.6-2.3l-.3-2.6l.7-3.1l1.2-2.4l1.5-1.9l1.9-.6l2.2 .8l2.7-1.4l3-3.4l2.3-3.9l1.5-4.6l1.1-4.5l.8-4.6l2.6-2.8l4.6-1.1l3.8-1.2l3-1.1l2.6-.2l2.3 .8l2.6 1.5l3.1 2.3l3 .3l3-1.5l2.5 .8l1.9 3l1.5 4.9l1.1 6.8l.2 6.1l-.7 5.3l-.2 5.7l.3 6l-.3 4.9l-1.2 3.8l-1.7 3.4l-2.2 3l-2.3 2.1l-2.3 1.2l-2.6 .7l-3.1 .4l-2 1.7l-1.2 3l-.7 3.4l-.4 3.8l.2 3.8l.7 3.8l1.2 3.2l1.5 2.6l1.9 1.5l2.2 .4l2.7 0l3-.4l2.7 .8l2.2 1.9l1.7 2.5l1.2 3l1.3 2.6l1.5 2.3l2.1 .8l2.6-.8l3.3-1.5l3.7-2.3l1.7 .8l-.3 3.8l-.4 4.9l-.4 6l-.6 5.7l-.7 5.3l-1.1 4.5l-1.6 3.8l-1.5 3.4l-1.5 3l-.9 3.4l-.4 3.8l.4 3.1l1.1 2.2l.9-.4l.8-3l.8-3.4l.7-3.8l1.9-3.7l3-3.8l3.1-3.1l3-2.2l1.5-1.2l7.2 19.2l.8-2.3l1.9-1.9l3-1.5l3.8-3.8l4.5-6l7.2-4l9.8-1.9l6.9-2.3l3.7-2.6l4.6-2.1l5.3-1.5l4.9-1.2l4.5-.7l4.6-1.9l4.5-3l4.2-3.4l3.8-3.8l3-2.5l2.3-1.1l2.2 0l2.3 1.1l1.5-.2l.8-1.5l2.2-.9l3.8-.4l2.8-1.5l1.9-2.7l1.6-.5l1.1 1.5l1.3 2.1l1.5 2.6l2.3 1.5l3 .4l3 0l3.1-.4l1.7 1.2l.4 2.6l-1.2 1.7l-2.6 .8l-2.3 1.5l-1.9 2.3l-1.1 2.2l-.4 2.3l.6 1.7l1.5 1.1l2.2 1.2l3.1 1.1l2.6 1.1l2.3 1.2l.7-1.2l-.7-3.4l-1.1-3.2l-1.6-3l.4-1.9l2.3-.8l2.6-.7l3.1-.8l2.6-1.9l2.3-3l2.3-4.2l2.2-5.2l2.1-5.3l1.9-5.3l1.5-5.3l1.1-5.3l.9-6.5l.6-7.5l.4-7.6l.1-7.6l-.1-7.5l-.3-7.6l-.4-6.8l-.4-6.1l-.6-5.6l-.7-5.3l.2-4.2l1.1-3l.8-3.8l.6-4.5l.5-4.6l.4-4.5l.5 0l.6 4.5l.4 5.3l.2 6.1l.1 6l.2 6.1l.2 6.4l.4 6.8l.6 7.2l.7 7.6l.8 7.5l.8 7.6l.9 6.4l1.1 5.3l1.7 5l2.3 4.5l2.7 3.8l3 3l3 2.1l3 1.1l3.8 .2l4.6-.8l4.5 .2l4.5 1.2l4.2 .2l3.8-.8l3.8-1.1l3.7-1.5l2.7-1.6l1.5-1.5l2.3 0l3 1.5l3 0l3.1-1.5l2.6-1.9l2.3-2.2l3-1.7l3.8-1.2l4.1-.3l4.6 .3l4.5-.3l4.6-1.2l4.5-.2l4.5 .8l3.8 .2l3-.4l3.4-1.3l3.8-2.3l3.4-2.3l3.1-2.2l1.9-2.7l.7-3l1.1-2.7l1.6-2.2l1.8 0l2.3 2.2l.8 2.3l-.8 2.3l-.4 1.1l4.1 4l1.9 .3l3.7 .8l3.8 1.1l3.8 1.5l4.2 .4l4.5-.7l3.4-1.5l2.3-2.3l2.2-3.4l2.3-4.6l2.1-4.5l1.9-4.5l1.3-4.6l.8-4.5l.5-4.6l.4-4.5l1-2.6l1.5-.8l1.5 1.1l1.5 3.1l1.9 2.4l2.3 1.9l2 0l1.9-1.9l1.2-1.9l.3-1.9l1.4-.5l2.2 .7l1.9-.2l1.5-1.1l.9-3.6l.2-6l.2-6.9l.2-7.5l.1-3.8l-.7 1.9l.5-1.8l1-3.5l1.3-2.2l1.4-1.1l1.7 1.1l2.1 3.1l1.4 4l.7 4.9l1.4 4.5l2.1 4.2l1 2.1l-4.1-11.1l.9 1.8l1.9 3.8l1.7 3.8l1.5 3.8l.6 3.8l-.4 3.8l-1.1 2.8l-1.9 1.9l-1.3 3l-.8 4.2l.2 3.9l1.2 3.8l.7 3.8l.4 3.8l-.2 3.2l-.8 2.7l-1.7 1.5l-2.6 .3l-2.1 1l-1.5 1.5l-1.5 3l-1.5 4.6l-.2 4.5l1.1 4.6l.8 4.1l.4 3.8l0 4l-.4 4.1l.7 3.1l1.9 1.8l1.7 2.9l1.5 3.8l1.4 4.1l1.1 4.6l1.5 3.7l1.9 3.1l1.5 3.4l1.1 3.8l.8 3.7l.4 3.8l0 3.8l-.4 3.8l-.6 3.8l-.7 3.8l.2 3.4l1.1 3l1.3 2.4l1.5 1.9l1 3.1l.4 4.1l-.2 4l-.8 3.8l-.4 4.1l-.2 4.6l.2 4.5l.5 4.6l.3 4.5l0 4.5l.6 4.2l1.1 3.8l1.5 3.8l1.9 3.7l1.5 4.2l1.2 4.5l.9 4.1l.8 3.5l.3 1.8l0 60.5l-701.1 0zM2051.8 1690.1l-.4-2.5l-.7-5.1l-1.2-4l-1.5-3l-1.3-3.5l-1.1-3.7l-1.4-3.4l-1.5-3.1l-1.9-1.9l-2.2-.7l-1.9-2.3l-1.5-3.8l-1.6-3.8l-1.5-3.7l-1.1-3.8l-.8-3.8l-.3-4.5l0-5.3l-.2-5l-.4-4.5l-.6-4l-.7-3.4l-1.2-2l-1.5-.8l-1.3-1.7l-1.1-2.7l-.2-2.8l.7-3l1.4-1.9l1.8-.8l1.6-1.9l1.1-3l1.1-3.8l1.2-4.5l1.1-4.5l1.1-4.6l1-4.5l.7-4.6l0-4.1l-.7-3.8l-.8-3.8l-.7-3.8l-1.2-2.4l-1.5-1.2l-1.9-.3l-2.2 .3l-1.9-.9l-1.5-2.3l-1.2-2.6l-.7-3.1l-.8-2.8l-.7-2.6l-1-.4l-1.1 1.9l-1 2.1l-.7 2.2l-1 .8l-1.1-.8l-.8-2.2l-.3-3.8l-.2-4.6l0-5.3l.2-4.5l.3-3.8l1-2.1l1.5-.3l1.3 1.1l1.1 2.6l1.6 1.6l1.9 .3l.5-1.1l-.7-2.7l-.4-3.2l0-3.8l.6-3.4l1.1-3l.9-3l.8-3l1.1-3.2l1.5-3.5l1.6-1.5l1.5 .4l.2 1.7l-1.2 3l-.9 3.4l-.8 3.8l.2 2.1l1.1 .4l1.2-1.1l1.1-2.7l1.3-3.6l1.5-4.5l1.7-4.2l1.9-3.8l2.3-2.1l2.7-.3l.9 1.5l-.8 3.4l-1.1 4.3l-1.5 5.3l-1.5 4.9l-1.5 4.6l-1.5 4.1l-1.6 3.8l.4 1.2l2.3-1.5l2.3-2.7l2.2-3.8l1.9-4.1l1.5-4.6l1.4-4.9l1.1-5.3l.8-5.3l.3-5.3l.6-5.3l.8-5.3l.5-4.9l.4-4.5l.8-7.1l1.1-9.5l.9-8.2l.7-7l.9-6.6l1-6.2l2-3.7l2.7-1l3.2-.4l3.4 .4l3.2 1.2l2.8 2.1l1.5 2.8l.4 3.4l1 3.5l1.8 3.5l.8 3.5l0 3.5l-1.4 2.7l-2.7 2.1l-1.6 2.1l-.4 2.1l.7 2.4l1.8 2.8l2.2 1.9l2.8 1.1l2.6 0l2.5-1.1l1 1.6l-.3 4.2l-.3 4.2l-.1 4.3l.4 4.1l.7 3.8l1 3.7l1.1 3.8l.6 3.8l0 3.8l-.4 3.4l-.8 3l0 3l.8 3.1l1.1 2.2l1.5 1.5l1.4 0l1.1-1.5l.6-2.6l0-3.8l.3-3.8l.8-3.8l.6-4.1l.4-4.6l.5-4.5l.8-4.5l.9-3.8l1.2-3l1.5-1.4l1.9 .4l1.5-1.1l1.1-2.7l.4-2.6l-.4-2.5l.1-4.8l.7-6.9l1.1-5.6l1.4-4.2l1.5-1.4l1.8 1.4l1.9 2.5l2.1 3.4l2.1 3.2l2 2.8l2.5 1.7l2.8 .7l2.4 1.7l2.1 2.8l1.7 3.5l1.4 4.2l2.3 4.1l3.1 4l3.5 2.8l3.8 1.5l3.2 1.3l2.7 1.2l1.8 2.4l1.2 3.8l1.7 3.6l2.3 3.4l2.2 2.1l2.3 .8l2.5 .1l2.6-.3l2.3 1.3l1.9 3l1.9 3.4l1.8 3.8l1.7 3.8l1.6 3.8l1.3 4.1l1.1 4.6l1 3.7l.7 3.1l1 1.7l1.1 .4l.8-1.6l.3-3.4l0-3.2l-.3-3l.7-.6l1.9 1.9l2.1 2.7l2.3 3.4l2.6 4.3l3 5.3l3.1 5.1l3 4.9l2.6 5.3l2.3 5.7l1.9 5.1l1.5 4.6l1.7 4.1l1.9 3.8l2.1 3.2l2.2 2.7l2.5 1.7l2.7 .7l2.6 0l2.7-.7l4.9-.6l7.2-.4l3.5-.2l47.3 181.1l-243.2 0z"/></clipPath></defs>
<g clip-path="url(#clipd)"><path d="M1496.8 1258.9V1690.6M1707.3 1258.9V1690.6M1918.1 1258.9V1690.6M2128.4 1258.9V1690.6M1391.0 1475.5H2235.0" stroke="#e0e0e2" stroke-width="2.2" fill="none" clip-path="url(#landclipd)"/></g>
<path d="M1391.3 1640V1690.1H2233.7V1570" stroke="#4d4d4d" stroke-width="2.6" fill="none"/>
<path d="M1391.0 1258.9H2235.0M1391.3 1640V1259" stroke="#666" stroke-width="0.9" stroke-dasharray="5 2" fill="none"/>
<path d="M1496.8 1690.1v-8.5M1707.3 1690.1v-8.5M1918.1 1690.1v-8.5M2128.4 1690.1v-8.5" stroke="#4d4d4d" stroke-width="2.6" fill="none"/>
<g clip-path="url(#clipd)" fill="none" stroke="#1a1a1a" stroke-linejoin="round" stroke-linecap="round">
<path d="M1375.9 1645.2l3.8-.4l7.6-.7l4.5-2.3l1.5-3.8l1.7-4.2l1.9-4.5l1.3-3.8l.8-3l-.2-3l-1.1-3.1l-1.7-2.2l-2.3-1.5l-1.5-1.9l-.8-2.3l0-3l.8-3.8l.9-3.4l1.2-3l1.9-2.5l2.6-1.9l2.1-2.1l1.5-2.2l1.9-2.5l2.3-2.7l2.2-2.8l2.3-3l2.6-2.7l3.1-2.2l3-1.2l3 0l2.7 .4l2.2 .8l2.3 0l2.3-.8l2.3-1l2.2-1.4l2.7-.8l3-.3l2.5 .3l1.8 .9l1.6 1.9l1.1 3.1l.9 3l.8 3l.2 2.7l-.4 2.2l-1.1 1.4l-1.9 .3l-1.3 1.5l-.8 2.7l-.6 2.6l-.6 2.7l.4 1.7l1.3 .7l1.8 0l2.2-.7l2.1 .4l1.9 1.5l1.9 1.9l1.9 2.2l1.2 .6l.5-1.1l.2-2.5l-.1-3.8l0-3.7l.1-3.8l.4-3.8l.6-3.8l1.1-3.2l1.5-2.7l1.5-1.4l1.5-.2l.6 .9l-.4 2.1l.2 1.9l.7 1.5l1.9 .5l3.1-.3l3-.4l3-.4l2.7 .2l2.2 .7l1.9-.3l1.5-1.5l1.2 0l.7 1.5l0 1.9l-.7 2.2l-1.5 1.5l-2.3 .8l-1.5 1.5l-.8 2.3l0 3l.8 3.8l1.1 3.4l1.5 3l1.7 3l1.9 3.1l1.5 3l1.2 3l.9 3.4l.8 3.8l.3 3.8l-.2 3.8l.1 2.8l.3 1.9l.6-.7l1-3.5l.6-4.7l.3-6l0-5.3l-.3-4.6l-.7-3.8l-1.1-3l-.9-3.4l-.6-3.8l.4-3.2l1.4-2.6l1.8-2.7l2.3-2.6l1.7-2.9l1.1-3l1.1-2.6l1.2-2.3l1.1-1.5l1.1-.8l.6-2.2l0-3.8l.2-3.8l.4-3.8l.7-3.8l1.2-3.8l1.5-3.6l1.9-3.4l2-2.8l2.3-2.3l2.1-2.2l1.9-2.3l2.3-1.9l2.6-1.5l2.5-1.9l2.2-2.3l2.3-2.8l2.3-3.4l1.9-2.7l1.5-1.8l1.9-1.6l2.2-1.1l2.1-2.3l1.9-3.4l1.9-1.3l1.9 .8l2.5 1.1l3 1.5l3 1l3 .3l2.5 1.4l1.9 2.2l1.9 2.1l1.9 1.9l1.9 .9l1.8 0l1.3-1.3l.5-2.6l0-3.2l-.5-3.8l-.9-3.2l-1.1-2.7l-2.1-1.7l-3-.7l-3-1l-3.1-1.1l-2.2-1.7l-1.6-2.3l-.3-2.6l.7-3.1l1.2-2.4l1.5-1.9l1.9-.6l2.2 .8l2.7-1.4l3-3.4l2.3-3.9l1.5-4.6l1.1-4.5l.8-4.6l2.6-2.8l4.6-1.1l3.8-1.2l3-1.1l2.6-.2l2.3 .8l2.6 1.5l3.1 2.3l3 .3l3-1.5l2.5 .8l1.9 3l1.5 4.9l1.1 6.8l.2 6.1l-.7 5.3l-.2 5.7l.3 6l-.3 4.9l-1.2 3.8l-1.7 3.4l-2.2 3l-2.3 2.1l-2.3 1.2l-2.6 .7l-3.1 .4l-2 1.7l-1.2 3l-.7 3.4l-.4 3.8l.2 3.8l.7 3.8l1.2 3.2l1.5 2.6l1.9 1.5l2.2 .4l2.7 0l3-.4l2.7 .8l2.2 1.9l1.7 2.5l1.2 3l1.3 2.6l1.5 2.3l2.1 .8l2.6-.8l3.3-1.5l3.7-2.3l1.7 .8l-.3 3.8l-.4 4.9l-.4 6l-.6 5.7l-.7 5.3l-1.1 4.5l-1.6 3.8l-1.5 3.4l-1.5 3l-.9 3.4l-.4 3.8l.4 3.1l1.1 2.2l.9-.4l.8-3l.8-3.4l.7-3.8l1.9-3.7l3-3.8l3.1-3.1l3-2.2l1.5-1.2l7.2 19.2l.8-2.3l1.9-1.9l3-1.5l3.8-3.8l4.5-6l7.2-4l9.8-1.9l6.9-2.3l3.7-2.6l4.6-2.1l5.3-1.5l4.9-1.2l4.5-.7l4.6-1.9l4.5-3l4.2-3.4l3.8-3.8l3-2.5l2.3-1.1l2.2 0l2.3 1.1l1.5-.2l.8-1.5l2.2-.9l3.8-.4l2.8-1.5l1.9-2.7l1.6-.5l1.1 1.5l1.3 2.1l1.5 2.6l2.3 1.5l3 .4l3 0l3.1-.4l1.7 1.2l.4 2.6l-1.2 1.7l-2.6 .8l-2.3 1.5l-1.9 2.3l-1.1 2.2l-.4 2.3l.6 1.7l1.5 1.1l2.2 1.2l3.1 1.1l2.6 1.1l2.3 1.2l.7-1.2l-.7-3.4l-1.1-3.2l-1.6-3l.4-1.9l2.3-.8l2.6-.7l3.1-.8l2.6-1.9l2.3-3l2.3-4.2l2.2-5.2l2.1-5.3l1.9-5.3l1.5-5.3l1.1-5.3l.9-6.5l.6-7.5l.4-7.6l.1-7.6l-.1-7.5l-.3-7.6l-.4-6.8l-.4-6.1l-.6-5.6l-.7-5.3l.2-4.2l1.1-3l.8-3.8l.6-4.5l.5-4.6l.4-4.5l.5 0l.6 4.5l.4 5.3l.2 6.1l.1 6l.2 6.1l.2 6.4l.4 6.8l.6 7.2l.7 7.6l.8 7.5l.8 7.6l.9 6.4l1.1 5.3l1.7 5l2.3 4.5l2.7 3.8l3 3l3 2.1l3 1.1l3.8 .2l4.6-.8l4.5 .2l4.5 1.2l4.2 .2l3.8-.8l3.8-1.1l3.7-1.5l2.7-1.6l1.5-1.5l2.3 0l3 1.5l3 0l3.1-1.5l2.6-1.9l2.3-2.2l3-1.7l3.8-1.2l4.1-.3l4.6 .3l4.5-.3l4.6-1.2l4.5-.2l4.5 .8l3.8 .2l3-.4l3.4-1.3l3.8-2.3l3.4-2.3l3.1-2.2l1.9-2.7l.7-3l1.1-2.7l1.6-2.2l1.8 0l2.3 2.2l.8 2.3l-.8 2.3l-.4 1.1l4.1 4l1.9 .3l3.7 .8l3.8 1.1l3.8 1.5l4.2 .4l4.5-.7l3.4-1.5l2.3-2.3l2.2-3.4l2.3-4.6l2.1-4.5l1.9-4.5l1.3-4.6l.8-4.5l.5-4.6l.4-4.5l1-2.6l1.5-.8l1.5 1.1l1.5 3.1l1.9 2.4l2.3 1.9l2 0l1.9-1.9l1.2-1.9l.3-1.9l1.4-.5l2.2 .7l1.9-.2l1.5-1.1l.9-3.6l.2-6l.2-6.9l.2-7.5l.1-3.8l-.7 1.9l.5-1.8l1-3.5l1.3-2.2l1.4-1.1l1.7 1.1l2.1 3.1l1.4 4l.7 4.9l1.4 4.5l2.1 4.2l1 2.1l-4.1-11.1l.9 1.8l1.9 3.8l1.7 3.8l1.5 3.8l.6 3.8l-.4 3.8l-1.1 2.8l-1.9 1.9l-1.3 3l-.8 4.2l.2 3.9l1.2 3.8l.7 3.8l.4 3.8l-.2 3.2l-.8 2.7l-1.7 1.5l-2.6 .3l-2.1 1l-1.5 1.5l-1.5 3l-1.5 4.6l-.2 4.5l1.1 4.6l.8 4.1l.4 3.8l0 4l-.4 4.1l.7 3.1l1.9 1.8l1.7 2.9l1.5 3.8l1.4 4.1l1.1 4.6l1.5 3.7l1.9 3.1l1.5 3.4l1.1 3.8l.8 3.7l.4 3.8l0 3.8l-.4 3.8l-.6 3.8l-.7 3.8l.2 3.4l1.1 3l1.3 2.4l1.5 1.9l1 3.1l.4 4.1l-.2 4l-.8 3.8l-.4 4.1l-.2 4.6l.2 4.5l.5 4.6l.3 4.5l0 4.5l.6 4.2l1.1 3.8l1.5 3.8l1.9 3.7l1.5 4.2l1.2 4.5l.9 4.1l.8 3.5l.3 1.8M2051.8 1690.1l-.4-2.5l-.7-5.1l-1.2-4l-1.5-3l-1.3-3.5l-1.1-3.7l-1.4-3.4l-1.5-3.1l-1.9-1.9l-2.2-.7l-1.9-2.3l-1.5-3.8l-1.6-3.8l-1.5-3.7l-1.1-3.8l-.8-3.8l-.3-4.5l0-5.3l-.2-5l-.4-4.5l-.6-4l-.7-3.4l-1.2-2l-1.5-.8l-1.3-1.7l-1.1-2.7l-.2-2.8l.7-3l1.4-1.9l1.8-.8l1.6-1.9l1.1-3l1.1-3.8l1.2-4.5l1.1-4.5l1.1-4.6l1-4.5l.7-4.6l0-4.1l-.7-3.8l-.8-3.8l-.7-3.8l-1.2-2.4l-1.5-1.2l-1.9-.3l-2.2 .3l-1.9-.9l-1.5-2.3l-1.2-2.6l-.7-3.1l-.8-2.8l-.7-2.6l-1-.4l-1.1 1.9l-1 2.1l-.7 2.2l-1 .8l-1.1-.8l-.8-2.2l-.3-3.8l-.2-4.6l0-5.3l.2-4.5l.3-3.8l1-2.1l1.5-.3l1.3 1.1l1.1 2.6l1.6 1.6l1.9 .3l.5-1.1l-.7-2.7l-.4-3.2l0-3.8l.6-3.4l1.1-3l.9-3l.8-3l1.1-3.2l1.5-3.5l1.6-1.5l1.5 .4l.2 1.7l-1.2 3l-.9 3.4l-.8 3.8l.2 2.1l1.1 .4l1.2-1.1l1.1-2.7l1.3-3.6l1.5-4.5l1.7-4.2l1.9-3.8l2.3-2.1l2.7-.3l.9 1.5l-.8 3.4l-1.1 4.3l-1.5 5.3l-1.5 4.9l-1.5 4.6l-1.5 4.1l-1.6 3.8l.4 1.2l2.3-1.5l2.3-2.7l2.2-3.8l1.9-4.1l1.5-4.6l1.4-4.9l1.1-5.3l.8-5.3l.3-5.3l.6-5.3l.8-5.3l.5-4.9l.4-4.5l.8-7.1l1.1-9.5l.9-8.2l.7-7l.9-6.6l1-6.2l2-3.7l2.7-1l3.2-.4l3.4 .4l3.2 1.2l2.8 2.1l1.5 2.8l.4 3.4l1 3.5l1.8 3.5l.8 3.5l0 3.5l-1.4 2.7l-2.7 2.1l-1.6 2.1l-.4 2.1l.7 2.4l1.8 2.8l2.2 1.9l2.8 1.1l2.6 0l2.5-1.1l1 1.6l-.3 4.2l-.3 4.2l-.1 4.3l.4 4.1l.7 3.8l1 3.7l1.1 3.8l.6 3.8l0 3.8l-.4 3.4l-.8 3l0 3l.8 3.1l1.1 2.2l1.5 1.5l1.4 0l1.1-1.5l.6-2.6l0-3.8l.3-3.8l.8-3.8l.6-4.1l.4-4.6l.5-4.5l.8-4.5l.9-3.8l1.2-3l1.5-1.4l1.9 .4l1.5-1.1l1.1-2.7l.4-2.6l-.4-2.5l.1-4.8l.7-6.9l1.1-5.6l1.4-4.2l1.5-1.4l1.8 1.4l1.9 2.5l2.1 3.4l2.1 3.2l2 2.8l2.5 1.7l2.8 .7l2.4 1.7l2.1 2.8l1.7 3.5l1.4 4.2l2.3 4.1l3.1 4l3.5 2.8l3.8 1.5l3.2 1.3l2.7 1.2l1.8 2.4l1.2 3.8l1.7 3.6l2.3 3.4l2.2 2.1l2.3 .8l2.5 .1l2.6-.3l2.3 1.3l1.9 3l1.9 3.4l1.8 3.8l1.7 3.8l1.6 3.8l1.3 4.1l1.1 4.6l1 3.7l.7 3.1l1 1.7l1.1 .4l.8-1.6l.3-3.4l0-3.2l-.3-3l.7-.6l1.9 1.9l2.1 2.7l2.3 3.4l2.6 4.3l3 5.3l3.1 5.1l3 4.9l2.6 5.3l2.3 5.7l1.9 5.1l1.5 4.6l1.7 4.1l1.9 3.8l2.1 3.2l2.2 2.7l2.5 1.7l2.7 .7l2.6 0l2.7-.7l4.9-.6l7.2-.4l3.5-.2M1514.8 1400.6l.7-1.4l1.5-2.9l1.6-3.2l1.8-3.6l1.8-4.3l1.8-5l1.2-4.7l.7-4.3l1.1-3.9l1.5-3.6l2.1-3.6l2.9-3.6l3.2-3l3.6-2.5l4.3-2.4l5-2.1l5.4-1.6l5.7-1.1l5.4-1.2l5-1.5l5.4-.9l5.7-.3l5.4-.4l5-.4l4.7-.8l4.3-1.5l5-1.6l5.8-1.8l5.7-1.4l5.7-1.1l5.8-.5l5.7 0l5.7-.4l5.8-.7l5.7 0l5.8 .7l5.3 1.1l5.1 1.4l4.6 1.4l4.3 1.5l4.3 .3l4.3-.7l4-1.1l3.6-1.4l2.9-1.8l2.2-2.1l1.1-1.1l-8.1 5.7l3.8-3l3.8-2.5l3.7-1.9l3.8-1.3l3.8-.7l3.8 .5l3.8 1.9l4.1 1.5l4.6 1.2l4.5 .9l4.5 .8l4.6 .7l4.5 .8l3.4 .2l2.3-.4l.9-2.1l-.3-3.8l.7-2.2l1.9-.8l1.9 .2l1.9 1.1l.9 3.1l0 4.9l-.1 5.5l-.4 6l-.4 6.1l-.4 6l-.9 3.8l-1.5 1.5l-1.2-.7l-.7-3.1l-.4-4.5l0-6.1l-1-3.6l-1.8-1.1l-2.9-1.1l-3.8-1.2l-4.1-1.1l-4.6-1.1l-4.5-.8l-4.5-.4l-5-.2l-5.3 0l-5.3 .2l-5.2 .4l-4.6 .8l-3.8 1.1l-3 1l-2.3 .7l-1.7 1.5l-1.1 2.3l0 2.1l1.1 1.9l2.1 1.9l3 1.8l3.1 .2l3-1.5l3.8-1.9l4.5-2.2l1.7 1.5l-1.1 5.3l-1 6.4l-.7 7.6l-1 7.5l-1.1 7.6l-1.3 7.6l-1.5 7.5l-1.9 7.6l-2.3 7.6l-2.3 7.5l-2.2 7.6l-1.9 5.7l-1.5 3.7l-.8 1.9l-.5 4.8l-1.9 .9l-3.9 2l-4.8 3.8l-5.8 5.8l-6.7 5.8l-7.7 5.8l-7.2 4.8l-6.8 3.8l-3.8 8.7l-1 13.5l-1 11.6l-.9 9.6l-1 8.7l-1 7.7l-5.3 3.9l-9.6 0l-5-3.9l-.4-7.7l1.5-5.8l3.2-3.8l2.1-5.8l1-7.7l0-7.8l-1-7.7l-1.9-7.7l-2.9-7.7l-1.9-6.7l-1-5.8l-1.9-5.8l-2.9-5.8l-4.3-5.3l-5.8-4.8l-5.8-5.8l-5.8-6.7l-5.3-7.2l-4.8-7.8l-2.4-3.8l19.3 27.3l-1.7-2.2l-3.6-4.3l-3.3-4.3l-2.8-4.3l-2.9-3.9l-2.9-3.6l-2.8-3.2l-2.9-2.9l-2.2-3.6l-1.4-4.3l-1.1-3.9l-.7-3.6l-.7-4.3l-.7-5l-1.1-4.7l-1.4-4.3l-.6-3.6l.4-2.8l.9-3.3l1.4-3.6l.6-3.9l-.4-4.3l-1.6-2l-2.9 .4l-3.2 .3l-3.6 .4l-3.6 1.3l-3.6 2.1l-3.2 2.5l-2.9 2.9l-2.5 3.2l-2.1 3.6l-1.3 3.9l-.3 4.3l-.7 4l-1.1 3.6l-2 2.8l-2.9 2.2l-2.8 2.9l-2.9 3.5l-1.4 1.8zM1771.7 1375.6l2.3 .9l4.5 1.9l2.7-.7l.7-3.4l2.3 .9l3.8 5.3l3.8 5.7l3.7 6l3.4 4.9l2.8 3.8l1.2 4.6l-.6 5.3l-.9 5.6l-1.1 6.1l-1.2 6l-1.1 6.1l-1.3 3.2l-1.5 .4l-2.3 .4l-3 .3l-2.7-.1l-2.3-.8l-2.2-3.4l-2.3-6.1l-2.1-6.8l-1.9-7.5l-1.5-8l-1.1-8.3l-1-8.7l-.7-9.1l-.4-4.5zM1712.7 1310.5l-.8-2.6l-1.5-5.3l-.5-6.1l.3-6.8l.8-6.4l1.1-6.1l2.5-4.9l3.8-3.8l4.1-2.3l4.6-.9l4.5 .4l4.5 1.6l3.8 2.2l3.1 2.6l.7 2.5l-1.5 2.3l-1.9 .5l-2.3-1.1l-1.5 .9l-.7 3.1l-1.5 2.2l-2.3 1.5l-1.9 3.4l-1.5 5.3l-1.2 5.3l-.7 5.3l-1.3 1.9l-1.9-1.5l-1.5-3l-1.2-4.6l-.2-3.7l.8-3.1l-.6-1.5l-1.9 0l-1.5 1.9l-1.1 3.8l-1 3.8l-.7 3.8l-.2 3.7l.4 3.8l-.4 1.9l-1.1 0l-.6 0zM1375.7 1377.7l3.7-.4l7.3-.7l5.3-1.1l3.5-1.4l4.6-1.1l5.7-.7l5.4 .4l5 1.4l5 1.8l5.1 2.2l4.6 2.1l4.3 2.2l4.3 2.5l4.3 2.8l4.7 2.7l5 2.5l4.7 3.3l4.3 3.9l3.9 3.8l3.6 3.6l3.2 3.2l2.9 2.9l2.9 2.5l2.8 2.1l2.9 1.8l2.9 1.4l3.2 1.5l3.6 1.4l2.9 2.2l2.1 2.8l2.5 2l2.9 1.1l3.6 .2l4.3-.8l3.9-.5l3.6-.4l2.9 .6l2.1 1.4l1.1 .7l-1.4 .7l-2.9 1.5l-3.6 1.2l-4.3 1.1l-4.3 .7l-4.3 .4l-3.2-.5l-2.2-1.5l-2.1-2.1l-2.2-2.9l-2.5-2.2l-2.9-1.4l-3.2-1.1l-3.6-.7l-3.2-1.6l-2.9-2.5l-2.8-2.9l-2.9-3.2l-2.9-3.4l-2.8-3.6l-3.6-3.6l-4.3-3.6l-4.3-3l-4.3-2.5l-4.7-2.5l-5-2.5l-5-2.4l-5.1-2.1l-5-2.2l-5-2.1l-5.4-1.6l-5.7-1.1l-5.4-.7l-5-.4l-3.2 .5l-1.5 1.5l-1.3 2.8l-1.3 4.4l-4.3 2.5l-7.3 .7l-3.7 .3zM1989.2 1298l1.8-1.5l3.5-3.2l4.1-3.6l4.9-4.2l4.9-4.2l4.9-4.2l4.8-4.1l4.9-4.2l4.9-3.5l4.8-2.8l4.6-2.2l4.1-1.8l2.1-.8l0 .9l-2.8 1.7l-5.5 3.3l-4.5 3.1l-3.5 2.8l-2.3 2.9l-1 3.2l-1.8 1.4l-2.4-.4l-3 1.9l-3.4 4.2l-2.8 3.8l-2.1 3.5l-1.8 1.8l-1.4 0l-1.3 .8l-1.4 1.8l-2.1 .7l-2.8-.4l-3.1 .7l-3.5 1.8l-1.8 .8zM1687.7 1343.3l1.2-.7l2.5-1.5l3.4-1.1l4.3-.7l2.2 3.6l0 7.9l-1.4 3.9l-2.9 0l-2.9-1l-2.9-2.2l-1.9-2.9l-1.1-3.5l-.5-1.8zM1780.8 1306l1.5 1.9l3 3.8l2.7 3.7l2.2 3.8l1.9 2.9l1.5 1.9l2.3 .7l3-.4l3.4 1l3.8 2.2l3.4 2.7l3.1 3l3 2.3l3 1.5l3 .3l3.1-.9l1.5-.5M1794.4 1438.4l-.2 3.2l-.4 6.4l0 5.9l.4 5.3l.6 5.7l.7 6l.8 6.1l.8 6l.7 6.4l.8 6.9l.3 3.4M1789.9 1452.8l.2 3l.3 6l.8 6.1l1.1 6l1 6.1l.7 6l.8 5.7l.7 5.3l.4 2.7M1685.7 1442l-2 1.9l-3.8 3.8l-4.3 4.4l-4.9 4.8l-.9 1.9l2.9-.9l3.8-2.9l4.8-4.9l3.4-5.3l1.9-5.7l1-2.9z" stroke-width="3.0"/>
<path d="M2133.3 1344.7l1.6 0l3.1 0l3.3 1.4l3.5 2.7l3.8 2.8l4.2 2.8l4.5 2.4l4.9 2.1l4.9 2.8l4.9 3.5l4.5 3.5l4.2 3.5l4.1 3.8l4.2 4.2l4.2 4.5l4.2 4.9l4.5 5.5l4.9 6.3l4.8 6.3l4.9 6.2l4.5 5.9l4.2 5.6l3.5 4.4l2.8 3.1l2.8 3.1l2.7 3.2l1.4 1.5M2081.1 1257l2.8 2.9l5.6 5.9l2.8 3M2095 1275.1l2.1 3.1l4.2 6.3l4.2 6.9l4.2 7.7l2 3.8M2114.5 1318.2l1.4 2.8l2.8 5.6l3 5.5l3.1 5.6l1.6 2.8" stroke-width="4.8"/>
<path d="M1743 1272.7l2.6 1.5l5.3 3l4.9 3.1l4.6 3l4.5 3.8l4.5 4.5l4.2 4.5l3.8 4.6l3.8 4.1l3.7 3.8l4.2 3.8l4.5 3.8l4.6 3.6l4.5 3.4l4.6 3l4.5 2.7l5.3 2.4l6.1 2.3l6 1.9l6.1 1.5l6 1.1l6.1 .8l5.6 .8l5.3 .7l5.3 1.3l5.3 1.9l5.3 2.3l5.3 2.6l5.3 2.5l5.3 2.3l4.9 1.9l4.6 1.5l3.7 1.3l3.1 1.1l1.5 .6" stroke-width="3.6"/>
</g>
<path d="M1747.8 1405.3l20.5 27l-20.5 27l-20.5-27zM1874.9 1372.5l20.5 27l-20.5 27l-20.5-27z" fill="#b84ea3" stroke="#222" stroke-width="2.7"/>
<path d="M1860.3 1433.3h21.6v21.6h-21.6zM1811.7 1449.2h21.6v21.6h-21.6zM1727.6000000000001 1466.2h21.6v21.6h-21.6zM1670.8 1508.5h21.6v21.6h-21.6z" fill="#6dcbe1" stroke="#222" stroke-width="2.8"/>
<text x="1625" y="1417.7" font-size="45" font-weight="bold">KAL</text>
<text x="1912.5" y="1399.8" font-size="45" font-weight="bold">JAL</text>
<text x="1902" y="1456" font-size="45" font-weight="bold">JALD2</text>
<text x="1807.3" y="1520.2" font-size="45" font-weight="bold">JALD1</text>
<text x="1559.5" y="1492.2" font-size="45" font-weight="bold">KALD2</text>
<text x="1599.8" y="1595.1" font-size="45" font-weight="bold">KALD1</text>
<text x="1362" y="1711.6" font-size="56.2" text-anchor="end">70.05</text>
<text x="1364.9" y="1496" font-size="56.2" text-anchor="end">70.1</text>
<text x="1362" y="1280.4" font-size="56.2" text-anchor="end">70.15</text>
<text x="1493.4" y="1770" font-size="56.2" text-anchor="middle">-143.8</text>
<text x="1703.9" y="1770" font-size="56.2" text-anchor="middle">-143.6</text>
<text x="1914.4" y="1770" font-size="56.2" text-anchor="middle">-143.4</text>
<text x="2124.9" y="1770" font-size="56.2" text-anchor="middle">-143.2</text>
<text x="1398.4" y="1674.3" font-size="56.6">(d)</text>
<defs><linearGradient id="gdeep" x1="0" y1="1" x2="0" y2="0"><stop offset="0%" stop-color="#fdfecc"/><stop offset="5%" stop-color="#e6f5c0"/><stop offset="10%" stop-color="#ceecb3"/><stop offset="15%" stop-color="#b5e4ac"/><stop offset="20%" stop-color="#9cdba5"/><stop offset="25%" stop-color="#86d2a4"/><stop offset="30%" stop-color="#6fc9a3"/><stop offset="35%" stop-color="#62bda3"/><stop offset="40%" stop-color="#56b1a3"/><stop offset="45%" stop-color="#51a5a2"/><stop offset="50%" stop-color="#4c99a0"/><stop offset="55%" stop-color="#488c9f"/><stop offset="60%" stop-color="#44809e"/><stop offset="65%" stop-color="#416f9b"/><stop offset="70%" stop-color="#3e5e98"/><stop offset="75%" stop-color="#3f5090"/><stop offset="80%" stop-color="#404187"/><stop offset="85%" stop-color="#3c366f"/><stop offset="90%" stop-color="#392b58"/><stop offset="95%" stop-color="#302242"/><stop offset="100%" stop-color="#281a2c"/></linearGradient></defs>
<rect x="2262.6" y="1206.3" width="81.1" height="627.1" fill="url(#gdeep)" stroke="#4d4d4d" stroke-width="2.8"/>
<line x1="2343.7" y1="1763.3" x2="2333.7" y2="1763.3" stroke="#4d4d4d" stroke-width="2.6"/>
<line x1="2343.7" y1="1693.7" x2="2333.7" y2="1693.7" stroke="#4d4d4d" stroke-width="2.6"/>
<line x1="2343.7" y1="1624" x2="2333.7" y2="1624" stroke="#4d4d4d" stroke-width="2.6"/>
<line x1="2343.7" y1="1554.4" x2="2333.7" y2="1554.4" stroke="#4d4d4d" stroke-width="2.6"/>
<line x1="2343.7" y1="1484.8" x2="2333.7" y2="1484.8" stroke="#4d4d4d" stroke-width="2.6"/>
<line x1="2343.7" y1="1415.1" x2="2333.7" y2="1415.1" stroke="#4d4d4d" stroke-width="2.6"/>
<line x1="2343.7" y1="1345.4" x2="2333.7" y2="1345.4" stroke="#4d4d4d" stroke-width="2.6"/>
<line x1="2343.7" y1="1275.8" x2="2333.7" y2="1275.8" stroke="#4d4d4d" stroke-width="2.6"/>
<text x="2363.3" y="1845.6" font-size="56.2">0</text>
<text x="2363.3" y="1706.3" font-size="56.2">10</text>
<text x="2363.3" y="1567" font-size="56.2">20</text>
<text x="2363.3" y="1427.7" font-size="56.2">30</text>
<text x="2363.3" y="1288.4" font-size="56.2">40</text>
<text x="2481.5" y="1465" font-size="57.3" text-anchor="middle" transform="rotate(-90 2481.5 1465)">Depth (m)</text>
</g>
</svg></body></html>
